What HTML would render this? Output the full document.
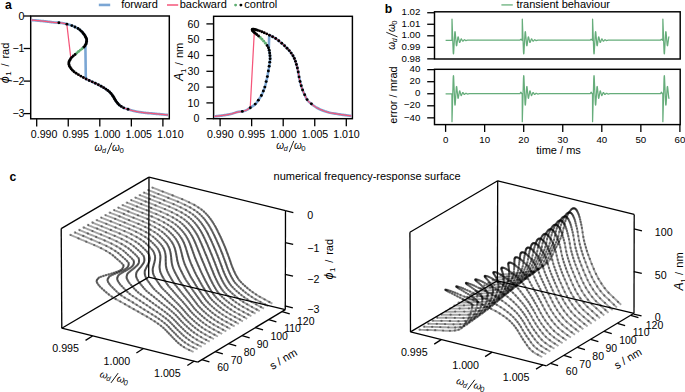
<!DOCTYPE html>
<html><head><meta charset="utf-8"><style>
html,body{margin:0;padding:0;background:#fff;width:685px;height:392px;overflow:hidden}
svg{display:block}
text{font-family:"Liberation Sans",sans-serif}
</style></head><body>
<svg xmlns="http://www.w3.org/2000/svg" width="685" height="392" viewBox="0 0 685 392">
<rect width="685" height="392" fill="#fff"/>
<text x="5.1" y="9.4" font-size="12.2" text-anchor="start" font-family="Liberation Sans, sans-serif" font-weight="bold">a</text>
<text x="384.8" y="13.4" font-size="12.2" text-anchor="start" font-family="Liberation Sans, sans-serif" font-weight="bold">b</text>
<text x="9.4" y="180.7" font-size="12.2" text-anchor="start" font-family="Liberation Sans, sans-serif" font-weight="bold">c</text>
<rect x="30.7" y="16" width="138.6" height="102.8" fill="none" stroke="#000" stroke-width="1.45"/>
<rect x="213.6" y="16.3" width="138.8" height="102.4" fill="none" stroke="#000" stroke-width="1.45"/>
<clipPath id="cpL"><rect x="30.7" y="16.0" width="138.60000000000002" height="102.8"/></clipPath>
<clipPath id="cpR"><rect x="213.6" y="16.3" width="138.79999999999998" height="102.4"/></clipPath>
<g clip-path="url(#cpL)">
<path d="M30.9,20 L32.16,20.11 L33.4,20.21 L34.61,20.32 L35.8,20.42 L36.97,20.53 L38.1,20.63 L39.21,20.74 L40.29,20.85 L41.35,20.95 L42.39,21.06 L43.41,21.16 L44.41,21.27 L45.4,21.37 L46.39,21.48 L47.36,21.59 L48.28,21.69 L49.08,21.8 L49.81,21.9 L50.52,22.01 L51.25,22.11 L52.05,22.22 L52.98,22.32 L54.07,22.43 L55.38,22.54 L57.38,22.64 L59.43,22.75 L60.48,22.85 L61.38,22.96 L62.15,23.06 L62.82,23.17 L63.39,23.28 L63.89,23.38 L64.33,23.49 L64.74,23.59 L65.12,23.7 L65.51,23.8 L65.92,23.91 L66.37,24.02 L66.82,24.12 L67.26,24.23 L67.69,24.33 L68.11,24.44 L68.51,24.54 L68.9,24.65 L69.28,24.76 L69.65,24.86 L70,24.97 L70.34,25.07 L70.67,25.18 L70.99,25.28 L71.29,25.39 L71.59,25.49 L71.87,25.6 L72.13,25.71 L72.39,25.81 L72.64,25.92 L72.88,26.02 L73.11,26.13 L73.33,26.23 L73.55,26.34 L73.77,26.45 L73.98,26.55 L74.19,26.66 L74.41,26.76 L74.62,26.87 L74.84,26.97 L75.06,27.08 L75.28,27.19 L75.52,27.29 L75.75,27.4 L75.99,27.5 L76.23,27.61 L76.46,27.71 L76.7,27.82 L76.93,27.93 L77.16,28.03 L77.37,28.14 L77.58,28.24 L77.78,28.35 L77.97,28.45 L78.14,28.56 L78.3,28.67 L78.45,28.77 L78.6,28.88 L78.75,28.98 L78.9,29.09 L79.04,29.19 L79.18,29.3 L79.32,29.4 L79.45,29.51 L79.58,29.62 L79.71,29.72 L79.84,29.83 L79.96,29.93 L80.08,30.04 L80.2,30.14 L80.32,30.25 L80.43,30.36 L80.54,30.46 L80.66,30.57 L80.77,30.67 L80.87,30.78 L80.98,30.88 L81.09,30.99 L81.19,31.1 L81.29,31.2 L81.39,31.31 L81.49,31.41 L81.59,31.52 L81.69,31.62 L81.79,31.73 L81.89,31.84 L81.99,31.94 L82.08,32.05 L82.18,32.15 L82.28,32.26 L82.38,32.36 L82.47,32.47 L82.57,32.58 L82.66,32.68 L82.76,32.79 L82.85,32.89 L82.95,33 L83.04,33.1 L83.13,33.21 L83.22,33.31 L83.31,33.42 L83.39,33.53 L83.48,33.63 L83.56,33.74 L83.65,33.84 L83.73,33.95 L83.81,34.05 L83.9,34.16 L83.98,34.27 L84.05,34.37 L84.13,34.48 L84.21,34.58 L84.28,34.69 L84.36,34.79 L84.43,34.9 L84.5,35.01 L84.58,35.11 L84.65,35.22 L84.72,35.32 L84.79,35.43 L84.86,35.53 L84.93,35.64 L85,35.75 L85.07,35.85 L85.13,35.96 L85.2,36.06 L85.26,36.17 L85.33,36.27 L85.39,36.38 L85.45,36.48 L85.51,36.59 L85.56,36.7 L85.62,36.8 L85.67,36.91 L85.72,37.01 L85.77,37.12 L85.81,37.22 L85.85,37.33 L85.9,37.44 L85.94,37.54 L85.99,37.65 L86.04,37.75 L86.08,37.86 L86.13,37.96 L86.17,38.07 L86.21,38.18 L86.26,38.28 L86.3,38.39 L86.34,38.49 L86.38,38.6 L86.42,38.7 L86.46,38.81 L86.49,38.92 L86.52,39.02 L86.55,39.13 L86.58,39.23 L86.61,39.34 L86.63,39.44 L86.65,39.55 L86.67,39.66 L86.68,39.76 L86.69,39.87 L86.7,39.97 L86.7,40.08 L86.7,40.18 L86.7,40.29 L86.69,40.39 L86.69,40.5 L86.68,40.61 L86.67,40.71 L86.66,40.82 L86.65,40.92 L86.64,41.03 L86.63,41.13 L86.61,41.24 L86.6,41.35 L86.58,41.45 L86.56,41.56 L86.54,41.66 L86.52,41.77 L86.5,41.87 L86.48,41.98 L86.46,42.09 L86.44,42.19 L86.41,42.3 L86.39,42.4 L86.36,42.51 L86.34,42.61 L86.32,42.72 L86.29,42.83 L86.27,42.93 L86.24,43.04 L86.21,43.14 L86.19,43.25 L86.16,43.35 L86.13,43.46 L86.1,43.57 L86.06,43.67 L86.03,43.78 L85.99,43.88 L85.95,43.99 L85.91,44.09 L85.86,44.2 L85.82,44.3 L85.77,44.41 L85.72,44.52 L85.67,44.62 L85.62,44.73 L85.56,44.83 L85.51,44.94 L85.45,45.04 L85.39,45.15 L85.82,78.86 L86.03,78.97 L86.25,79.07 L86.47,79.18 L86.69,79.28 L86.92,79.39 L87.14,79.49 L87.37,79.6 L87.6,79.71 L87.82,79.81 L88.05,79.92 L88.28,80.02 L88.51,80.13 L88.74,80.23 L88.97,80.34 L89.2,80.44 L89.43,80.55 L89.66,80.66 L89.89,80.76 L90.12,80.87 L90.34,80.97 L90.57,81.08 L90.79,81.18 L91.02,81.29 L91.24,81.4 L91.47,81.5 L91.7,81.61 L91.92,81.71 L92.15,81.82 L92.37,81.92 L92.6,82.03 L92.83,82.14 L93.05,82.24 L93.28,82.35 L93.5,82.45 L93.73,82.56 L93.95,82.66 L94.18,82.77 L94.4,82.88 L94.62,82.98 L94.84,83.09 L95.07,83.19 L95.29,83.3 L95.51,83.4 L95.73,83.51 L95.95,83.62 L96.17,83.72 L96.4,83.83 L96.62,83.93 L96.84,84.04 L97.06,84.14 L97.29,84.25 L97.51,84.35 L97.73,84.46 L97.95,84.57 L98.17,84.67 L98.39,84.78 L98.61,84.88 L98.83,84.99 L99.04,85.09 L99.26,85.2 L99.47,85.31 L99.67,85.41 L99.88,85.52 L100.08,85.62 L100.28,85.73 L100.48,85.83 L100.67,85.94 L100.87,86.05 L101.06,86.15 L101.25,86.26 L101.44,86.36 L101.62,86.47 L101.81,86.57 L102,86.68 L102.18,86.79 L102.36,86.89 L102.55,87 L102.73,87.1 L102.91,87.21 L103.08,87.31 L103.26,87.42 L103.43,87.53 L103.61,87.63 L103.78,87.74 L103.95,87.84 L104.12,87.95 L104.29,88.05 L104.45,88.16 L104.61,88.26 L104.78,88.37 L104.94,88.48 L105.09,88.58 L105.25,88.69 L105.4,88.79 L105.56,88.9 L105.71,89 L105.86,89.11 L106,89.22 L106.15,89.32 L106.3,89.43 L106.45,89.53 L106.59,89.64 L106.74,89.74 L106.88,89.85 L107.03,89.96 L107.17,90.06 L107.32,90.17 L107.46,90.27 L107.6,90.38 L107.74,90.48 L107.88,90.59 L108.01,90.7 L108.15,90.8 L108.28,90.91 L108.42,91.01 L108.55,91.12 L108.68,91.22 L108.81,91.33 L108.94,91.43 L109.06,91.54 L109.18,91.65 L109.31,91.75 L109.43,91.86 L109.55,91.96 L109.66,92.07 L109.78,92.17 L109.89,92.28 L110,92.39 L110.11,92.49 L110.22,92.6 L110.32,92.7 L110.42,92.81 L110.52,92.91 L110.62,93.02 L110.71,93.13 L110.81,93.23 L110.9,93.34 L110.99,93.44 L111.08,93.55 L111.16,93.65 L111.25,93.76 L111.33,93.87 L111.42,93.97 L111.5,94.08 L111.58,94.18 L111.66,94.29 L111.74,94.39 L111.82,94.5 L111.89,94.61 L111.97,94.71 L112.04,94.82 L112.12,94.92 L112.19,95.03 L112.26,95.13 L112.33,95.24 L112.41,95.34 L112.48,95.45 L112.55,95.56 L112.62,95.66 L112.69,95.77 L112.76,95.87 L112.83,95.98 L112.9,96.08 L112.97,96.19 L113.03,96.3 L113.1,96.4 L113.17,96.51 L113.24,96.61 L113.31,96.72 L113.38,96.82 L113.45,96.93 L113.52,97.04 L113.59,97.14 L113.66,97.25 L113.73,97.35 L113.8,97.46 L113.86,97.56 L113.93,97.67 L114,97.78 L114.06,97.88 L114.12,97.99 L114.19,98.09 L114.25,98.2 L114.31,98.3 L114.37,98.41 L114.44,98.52 L114.5,98.62 L114.56,98.73 L114.62,98.83 L114.68,98.94 L114.74,99.04 L114.8,99.15 L114.86,99.25 L114.92,99.36 L114.98,99.47 L115.04,99.57 L115.1,99.68 L115.17,99.78 L115.23,99.89 L115.29,99.99 L115.35,100.1 L115.41,100.21 L115.48,100.31 L115.54,100.42 L115.61,100.52 L115.67,100.63 L115.74,100.73 L115.8,100.84 L115.87,100.95 L115.94,101.05 L116.01,101.16 L116.08,101.26 L116.15,101.37 L116.22,101.47 L116.3,101.58 L116.37,101.69 L116.45,101.79 L116.52,101.9 L116.6,102 L116.68,102.11 L116.76,102.21 L116.84,102.32 L116.92,102.42 L117,102.53 L117.08,102.64 L117.17,102.74 L117.25,102.85 L117.34,102.95 L117.42,103.06 L117.51,103.16 L117.6,103.27 L117.69,103.38 L117.78,103.48 L117.87,103.59 L117.96,103.69 L118.06,103.8 L118.15,103.9 L118.25,104.01 L118.35,104.12 L118.45,104.22 L118.55,104.33 L118.66,104.43 L118.76,104.54 L118.87,104.64 L118.98,104.75 L119.1,104.86 L119.21,104.96 L119.33,105.07 L119.45,105.17 L119.57,105.28 L119.7,105.38 L119.84,105.49 L119.98,105.6 L120.13,105.7 L120.29,105.81 L120.45,105.91 L120.62,106.02 L120.79,106.12 L120.96,106.23 L121.13,106.33 L121.3,106.44 L121.47,106.55 L121.64,106.65 L121.81,106.76 L121.97,106.86 L122.13,106.97 L122.3,107.07 L122.47,107.18 L122.64,107.29 L122.82,107.39 L123,107.5 L123.19,107.6 L123.39,107.71 L123.6,107.81 L123.82,107.92 L124.06,108.03 L124.31,108.13 L124.59,108.24 L124.88,108.34 L125.19,108.45 L125.51,108.55 L125.85,108.66 L126.19,108.77 L126.55,108.87 L126.9,108.98 L127.26,109.08 L127.62,109.19 L127.98,109.29 L128.33,109.4 L128.68,109.51 L129.03,109.61 L129.38,109.72 L129.73,109.82 L130.09,109.93 L130.44,110.03 L130.8,110.14 L131.17,110.24 L131.54,110.35 L131.92,110.46 L132.3,110.56 L132.7,110.67 L133.11,110.77 L133.53,110.88 L133.96,110.98 L134.41,111.09 L134.87,111.2 L135.35,111.3 L135.85,111.41 L136.36,111.51 L136.9,111.62 L137.47,111.72 L138.07,111.83 L138.7,111.94 L139.36,112.04 L140.05,112.15 L140.77,112.25 L141.52,112.36 L142.31,112.46 L143.12,112.57 L143.96,112.68 L144.84,112.78 L145.78,112.89 L146.85,112.99 L148.01,113.1 L149.22,113.2 L150.47,113.31 L151.72,113.41 L152.93,113.52 L154.08,113.63 L155.2,113.73 L156.32,113.84 L157.43,113.94 L158.54,114.05 L159.64,114.15 L160.74,114.26 L161.82,114.37 L162.91,114.47 L163.98,114.58 L165.05,114.68 L166.11,114.79 L167.16,114.89 L168.2,115" fill="none" stroke="#7ba6d4" stroke-width="2.6" stroke-linejoin="round" stroke-linecap="butt" />
<path d="M30.9,20 L32.16,20.11 L33.4,20.21 L34.61,20.32 L35.8,20.42 L36.97,20.53 L38.1,20.63 L39.21,20.74 L40.29,20.85 L41.35,20.95 L42.39,21.06 L43.41,21.16 L44.41,21.27 L45.4,21.37 L46.39,21.48 L47.36,21.59 L48.28,21.69 L49.08,21.8 L49.81,21.9 L50.52,22.01 L51.25,22.11 L52.05,22.22 L52.98,22.32 L54.07,22.43 L55.38,22.54 L57.38,22.64 L59.43,22.75 L60.48,22.85 L61.38,22.96 L62.15,23.06 L62.82,23.17 L63.39,23.28 L63.89,23.38 L64.33,23.49 L64.74,23.59 L65.12,23.7 L65.51,23.8 L65.92,23.91 L66.37,24.02 L66.82,24.12 L70.88,58.46 L70.8,58.57 L70.72,58.68 L70.64,58.78 L70.57,58.89 L70.5,58.99 L70.43,59.1 L70.36,59.2 L70.29,59.31 L70.22,59.42 L70.16,59.52 L70.1,59.63 L70.04,59.73 L69.98,59.84 L69.92,59.94 L69.86,60.05 L69.8,60.16 L69.74,60.26 L69.68,60.37 L69.62,60.47 L69.56,60.58 L69.51,60.68 L69.45,60.79 L69.4,60.9 L69.34,61 L69.29,61.11 L69.24,61.21 L69.19,61.32 L69.15,61.42 L69.11,61.53 L69.07,61.64 L69.03,61.74 L69,61.85 L68.97,61.95 L68.94,62.06 L68.92,62.16 L68.9,62.27 L68.89,62.37 L68.88,62.48 L68.86,62.59 L68.85,62.69 L68.84,62.8 L68.83,62.9 L68.82,63.01 L68.81,63.11 L68.81,63.22 L68.8,63.33 L68.8,63.43 L68.8,63.54 L68.8,63.64 L68.81,63.75 L68.82,63.85 L68.83,63.96 L68.84,64.07 L68.85,64.17 L68.87,64.28 L68.89,64.38 L68.91,64.49 L68.93,64.59 L68.96,64.7 L68.98,64.81 L69.01,64.91 L69.04,65.02 L69.07,65.12 L69.09,65.23 L69.12,65.33 L69.15,65.44 L69.18,65.55 L69.22,65.65 L69.25,65.76 L69.29,65.86 L69.33,65.97 L69.38,66.07 L69.44,66.18 L69.49,66.28 L69.55,66.39 L69.61,66.5 L69.68,66.6 L69.74,66.71 L69.81,66.81 L69.88,66.92 L69.96,67.02 L70.03,67.13 L70.1,67.24 L70.18,67.34 L70.25,67.45 L70.33,67.55 L70.4,67.66 L70.48,67.76 L70.55,67.87 L70.62,67.98 L70.7,68.08 L70.77,68.19 L70.85,68.29 L70.92,68.4 L71,68.5 L71.08,68.61 L71.16,68.72 L71.24,68.82 L71.32,68.93 L71.41,69.03 L71.49,69.14 L71.57,69.24 L71.66,69.35 L71.75,69.45 L71.84,69.56 L71.93,69.67 L72.02,69.77 L72.11,69.88 L72.2,69.98 L72.3,70.09 L72.4,70.19 L72.49,70.3 L72.59,70.41 L72.69,70.51 L72.8,70.62 L72.9,70.72 L73.01,70.83 L73.11,70.93 L73.22,71.04 L73.33,71.15 L73.45,71.25 L73.56,71.36 L73.68,71.46 L73.8,71.57 L73.93,71.67 L74.06,71.78 L74.2,71.89 L74.34,71.99 L74.48,72.1 L74.62,72.2 L74.77,72.31 L74.92,72.41 L75.07,72.52 L75.23,72.63 L75.39,72.73 L75.55,72.84 L75.71,72.94 L75.87,73.05 L76.03,73.15 L76.2,73.26 L76.36,73.36 L76.53,73.47 L76.7,73.58 L76.87,73.68 L77.03,73.79 L77.2,73.89 L77.37,74 L77.54,74.1 L77.7,74.21 L77.87,74.32 L78.03,74.42 L78.2,74.53 L78.37,74.63 L78.53,74.74 L78.7,74.84 L78.87,74.95 L79.04,75.06 L79.22,75.16 L79.39,75.27 L79.56,75.37 L79.74,75.48 L79.92,75.58 L80.09,75.69 L80.27,75.8 L80.45,75.9 L80.63,76.01 L80.81,76.11 L80.99,76.22 L81.17,76.32 L81.35,76.43 L81.54,76.54 L81.72,76.64 L81.91,76.75 L82.09,76.85 L82.28,76.96 L82.46,77.06 L82.65,77.17 L82.84,77.27 L83.03,77.38 L83.22,77.49 L83.41,77.59 L83.6,77.7 L83.79,77.8 L83.99,77.91 L84.18,78.01 L84.38,78.12 L84.58,78.23 L84.78,78.33 L84.98,78.44 L85.19,78.54 L85.4,78.65 L85.61,78.75 L85.82,78.86 L86.03,78.97 L86.25,79.07 L86.47,79.18 L86.69,79.28 L86.92,79.39 L87.14,79.49 L87.37,79.6 L87.6,79.71 L87.82,79.81 L88.05,79.92 L88.28,80.02 L88.51,80.13 L88.74,80.23 L88.97,80.34 L89.2,80.44 L89.43,80.55 L89.66,80.66 L89.89,80.76 L90.12,80.87 L90.34,80.97 L90.57,81.08 L90.79,81.18 L91.02,81.29 L91.24,81.4 L91.47,81.5 L91.7,81.61 L91.92,81.71 L92.15,81.82 L92.37,81.92 L92.6,82.03 L92.83,82.14 L93.05,82.24 L93.28,82.35 L93.5,82.45 L93.73,82.56 L93.95,82.66 L94.18,82.77 L94.4,82.88 L94.62,82.98 L94.84,83.09 L95.07,83.19 L95.29,83.3 L95.51,83.4 L95.73,83.51 L95.95,83.62 L96.17,83.72 L96.4,83.83 L96.62,83.93 L96.84,84.04 L97.06,84.14 L97.29,84.25 L97.51,84.35 L97.73,84.46 L97.95,84.57 L98.17,84.67 L98.39,84.78 L98.61,84.88 L98.83,84.99 L99.04,85.09 L99.26,85.2 L99.47,85.31 L99.67,85.41 L99.88,85.52 L100.08,85.62 L100.28,85.73 L100.48,85.83 L100.67,85.94 L100.87,86.05 L101.06,86.15 L101.25,86.26 L101.44,86.36 L101.62,86.47 L101.81,86.57 L102,86.68 L102.18,86.79 L102.36,86.89 L102.55,87 L102.73,87.1 L102.91,87.21 L103.08,87.31 L103.26,87.42 L103.43,87.53 L103.61,87.63 L103.78,87.74 L103.95,87.84 L104.12,87.95 L104.29,88.05 L104.45,88.16 L104.61,88.26 L104.78,88.37 L104.94,88.48 L105.09,88.58 L105.25,88.69 L105.4,88.79 L105.56,88.9 L105.71,89 L105.86,89.11 L106,89.22 L106.15,89.32 L106.3,89.43 L106.45,89.53 L106.59,89.64 L106.74,89.74 L106.88,89.85 L107.03,89.96 L107.17,90.06 L107.32,90.17 L107.46,90.27 L107.6,90.38 L107.74,90.48 L107.88,90.59 L108.01,90.7 L108.15,90.8 L108.28,90.91 L108.42,91.01 L108.55,91.12 L108.68,91.22 L108.81,91.33 L108.94,91.43 L109.06,91.54 L109.18,91.65 L109.31,91.75 L109.43,91.86 L109.55,91.96 L109.66,92.07 L109.78,92.17 L109.89,92.28 L110,92.39 L110.11,92.49 L110.22,92.6 L110.32,92.7 L110.42,92.81 L110.52,92.91 L110.62,93.02 L110.71,93.13 L110.81,93.23 L110.9,93.34 L110.99,93.44 L111.08,93.55 L111.16,93.65 L111.25,93.76 L111.33,93.87 L111.42,93.97 L111.5,94.08 L111.58,94.18 L111.66,94.29 L111.74,94.39 L111.82,94.5 L111.89,94.61 L111.97,94.71 L112.04,94.82 L112.12,94.92 L112.19,95.03 L112.26,95.13 L112.33,95.24 L112.41,95.34 L112.48,95.45 L112.55,95.56 L112.62,95.66 L112.69,95.77 L112.76,95.87 L112.83,95.98 L112.9,96.08 L112.97,96.19 L113.03,96.3 L113.1,96.4 L113.17,96.51 L113.24,96.61 L113.31,96.72 L113.38,96.82 L113.45,96.93 L113.52,97.04 L113.59,97.14 L113.66,97.25 L113.73,97.35 L113.8,97.46 L113.86,97.56 L113.93,97.67 L114,97.78 L114.06,97.88 L114.12,97.99 L114.19,98.09 L114.25,98.2 L114.31,98.3 L114.37,98.41 L114.44,98.52 L114.5,98.62 L114.56,98.73 L114.62,98.83 L114.68,98.94 L114.74,99.04 L114.8,99.15 L114.86,99.25 L114.92,99.36 L114.98,99.47 L115.04,99.57 L115.1,99.68 L115.17,99.78 L115.23,99.89 L115.29,99.99 L115.35,100.1 L115.41,100.21 L115.48,100.31 L115.54,100.42 L115.61,100.52 L115.67,100.63 L115.74,100.73 L115.8,100.84 L115.87,100.95 L115.94,101.05 L116.01,101.16 L116.08,101.26 L116.15,101.37 L116.22,101.47 L116.3,101.58 L116.37,101.69 L116.45,101.79 L116.52,101.9 L116.6,102 L116.68,102.11 L116.76,102.21 L116.84,102.32 L116.92,102.42 L117,102.53 L117.08,102.64 L117.17,102.74 L117.25,102.85 L117.34,102.95 L117.42,103.06 L117.51,103.16 L117.6,103.27 L117.69,103.38 L117.78,103.48 L117.87,103.59 L117.96,103.69 L118.06,103.8 L118.15,103.9 L118.25,104.01 L118.35,104.12 L118.45,104.22 L118.55,104.33 L118.66,104.43 L118.76,104.54 L118.87,104.64 L118.98,104.75 L119.1,104.86 L119.21,104.96 L119.33,105.07 L119.45,105.17 L119.57,105.28 L119.7,105.38 L119.84,105.49 L119.98,105.6 L120.13,105.7 L120.29,105.81 L120.45,105.91 L120.62,106.02 L120.79,106.12 L120.96,106.23 L121.13,106.33 L121.3,106.44 L121.47,106.55 L121.64,106.65 L121.81,106.76 L121.97,106.86 L122.13,106.97 L122.3,107.07 L122.47,107.18 L122.64,107.29 L122.82,107.39 L123,107.5 L123.19,107.6 L123.39,107.71 L123.6,107.81 L123.82,107.92 L124.06,108.03 L124.31,108.13 L124.59,108.24 L124.88,108.34 L125.19,108.45 L125.51,108.55 L125.85,108.66 L126.19,108.77 L126.55,108.87 L126.9,108.98 L127.26,109.08 L127.62,109.19 L127.98,109.29 L128.33,109.4 L128.68,109.51 L129.03,109.61 L129.38,109.72 L129.73,109.82 L130.09,109.93 L130.44,110.03 L130.8,110.14 L131.17,110.24 L131.54,110.35 L131.92,110.46 L132.3,110.56 L132.7,110.67 L133.11,110.77 L133.53,110.88 L133.96,110.98 L134.41,111.09 L134.87,111.2 L135.35,111.3 L135.85,111.41 L136.36,111.51 L136.9,111.62 L137.47,111.72 L138.07,111.83 L138.7,111.94 L139.36,112.04 L140.05,112.15 L140.77,112.25 L141.52,112.36 L142.31,112.46 L143.12,112.57 L143.96,112.68 L144.84,112.78 L145.78,112.89 L146.85,112.99 L148.01,113.1 L149.22,113.2 L150.47,113.31 L151.72,113.41 L152.93,113.52 L154.08,113.63 L155.2,113.73 L156.32,113.84 L157.43,113.94 L158.54,114.05 L159.64,114.15 L160.74,114.26 L161.82,114.37 L162.91,114.47 L163.98,114.58 L165.05,114.68 L166.11,114.79 L167.16,114.89 L168.2,115" fill="none" stroke="#f5567a" stroke-width="1.25" stroke-linejoin="round" stroke-linecap="butt" />
</g>
<g clip-path="url(#cpR)">
<path d="M214.3,116.4 L215.56,116.28 L216.8,116.15 L218.01,116.02 L219.2,115.88 L220.37,115.74 L221.5,115.59 L222.61,115.44 L223.69,115.28 L224.75,115.12 L225.79,114.95 L226.81,114.78 L227.81,114.6 L228.8,114.41 L229.79,114.22 L230.76,114.02 L231.68,113.81 L232.48,113.6 L233.21,113.37 L233.92,113.13 L234.65,112.88 L235.45,112.63 L236.38,112.36 L237.47,112.1 L238.78,111.82 L240.78,111.55 L242.83,111.27 L243.88,110.99 L244.78,110.71 L245.55,110.44 L246.22,110.17 L246.79,109.9 L247.29,109.64 L247.73,109.37 L248.14,109.11 L248.52,108.84 L248.91,108.57 L249.32,108.31 L249.77,108.04 L250.22,107.77 L250.66,107.5 L251.09,107.23 L251.51,106.97 L251.91,106.7 L252.3,106.43 L252.68,106.16 L253.05,105.9 L253.4,105.63 L253.74,105.37 L254.07,105.11 L254.39,104.86 L254.69,104.6 L254.99,104.34 L255.27,104.08 L255.53,103.82 L255.79,103.56 L256.04,103.3 L256.28,103.03 L256.51,102.76 L256.73,102.48 L256.95,102.19 L257.17,101.9 L257.38,101.6 L257.59,101.29 L257.81,100.97 L258.02,100.65 L258.24,100.32 L258.46,99.98 L258.68,99.64 L258.92,99.3 L259.15,98.95 L259.39,98.6 L259.63,98.26 L259.86,97.91 L260.1,97.56 L260.33,97.22 L260.56,96.89 L260.77,96.55 L260.98,96.21 L261.18,95.88 L261.37,95.53 L261.54,95.19 L261.7,94.85 L261.85,94.51 L262,94.17 L262.15,93.83 L262.3,93.5 L262.44,93.17 L262.58,92.84 L262.72,92.52 L262.85,92.2 L262.98,91.89 L263.11,91.58 L263.24,91.29 L263.36,91 L263.48,90.71 L263.6,90.43 L263.72,90.16 L263.83,89.88 L263.94,89.61 L264.06,89.33 L264.17,89.06 L264.27,88.78 L264.38,88.49 L264.49,88.2 L264.59,87.89 L264.69,87.58 L264.79,87.26 L264.89,86.91 L264.99,86.55 L265.09,86.18 L265.19,85.79 L265.29,85.39 L265.39,84.98 L265.48,84.57 L265.58,84.15 L265.68,83.72 L265.78,83.3 L265.87,82.88 L265.97,82.47 L266.06,82.06 L266.16,81.66 L266.25,81.27 L266.35,80.9 L266.44,80.53 L266.53,80.16 L266.62,79.79 L266.71,79.43 L266.79,79.07 L266.88,78.72 L266.96,78.36 L267.05,78 L267.13,77.64 L267.21,77.28 L267.3,76.91 L267.38,76.54 L267.45,76.17 L267.53,75.79 L267.61,75.4 L267.68,75 L267.76,74.59 L267.83,74.18 L267.9,73.76 L267.98,73.34 L268.05,72.92 L268.12,72.49 L268.19,72.07 L268.26,71.65 L268.33,71.24 L268.4,70.84 L268.47,70.44 L268.53,70.06 L268.6,69.69 L268.66,69.34 L268.73,69 L268.79,68.65 L268.85,68.31 L268.91,67.97 L268.96,67.63 L269.02,67.29 L269.07,66.96 L269.12,66.63 L269.17,66.29 L269.21,65.97 L269.25,65.64 L269.3,65.32 L269.34,65 L269.39,64.69 L269.44,64.38 L269.48,64.08 L269.53,63.78 L269.57,63.48 L269.61,63.19 L269.66,62.9 L269.7,62.63 L269.74,62.35 L269.78,62.09 L269.82,61.83 L269.86,61.57 L269.89,61.32 L269.92,61.07 L269.95,60.82 L269.98,60.57 L270.01,60.33 L270.03,60.08 L270.05,59.84 L270.07,59.59 L270.08,59.35 L270.09,59.11 L270.1,58.87 L270.1,58.63 L270.1,58.39 L270.1,58.16 L270.09,57.92 L270.09,57.69 L270.08,57.46 L270.07,57.23 L270.06,57 L270.05,56.78 L270.04,56.55 L270.03,56.33 L270.01,56.11 L270,55.89 L269.98,55.68 L269.96,55.47 L269.94,55.25 L269.92,55.04 L269.9,54.84 L269.88,54.63 L269.86,54.43 L269.84,54.23 L269.81,54.03 L269.79,53.83 L269.76,53.63 L269.74,53.43 L269.72,53.23 L269.69,53.03 L269.67,52.84 L269.64,52.64 L269.61,52.44 L269.59,52.25 L269.56,52.06 L269.53,51.86 L269.5,51.67 L269.46,51.48 L269.43,51.29 L269.39,51.1 L269.35,50.91 L269.31,50.72 L269.26,50.53 L269.22,50.34 L269.17,50.15 L269.12,49.97 L269.07,49.78 L269.02,49.6 L268.96,49.41 L268.91,49.23 L268.85,49.05 L268.79,48.87 L269.22,35.05 L269.43,35.16 L269.65,35.26 L269.87,35.37 L270.09,35.47 L270.32,35.58 L270.54,35.69 L270.77,35.8 L271,35.9 L271.22,36.01 L271.45,36.13 L271.68,36.24 L271.91,36.35 L272.14,36.46 L272.37,36.58 L272.6,36.69 L272.83,36.81 L273.06,36.93 L273.29,37.05 L273.52,37.16 L273.74,37.28 L273.97,37.41 L274.19,37.53 L274.42,37.66 L274.64,37.79 L274.87,37.93 L275.1,38.08 L275.32,38.23 L275.55,38.38 L275.77,38.54 L276,38.7 L276.23,38.86 L276.45,39.02 L276.68,39.19 L276.9,39.36 L277.13,39.54 L277.35,39.71 L277.58,39.89 L277.8,40.07 L278.02,40.25 L278.24,40.43 L278.47,40.61 L278.69,40.79 L278.91,40.97 L279.13,41.15 L279.35,41.33 L279.57,41.51 L279.8,41.69 L280.02,41.87 L280.24,42.05 L280.46,42.23 L280.69,42.4 L280.91,42.58 L281.13,42.75 L281.35,42.93 L281.57,43.1 L281.79,43.28 L282.01,43.46 L282.23,43.64 L282.44,43.83 L282.66,44.01 L282.87,44.19 L283.07,44.37 L283.28,44.56 L283.48,44.74 L283.68,44.93 L283.88,45.11 L284.07,45.3 L284.27,45.48 L284.46,45.66 L284.65,45.85 L284.84,46.03 L285.02,46.21 L285.21,46.4 L285.4,46.58 L285.58,46.76 L285.76,46.94 L285.95,47.12 L286.13,47.3 L286.31,47.47 L286.48,47.65 L286.66,47.82 L286.83,47.99 L287.01,48.17 L287.18,48.34 L287.35,48.51 L287.52,48.68 L287.69,48.86 L287.85,49.03 L288.01,49.2 L288.18,49.38 L288.34,49.55 L288.49,49.73 L288.65,49.91 L288.8,50.08 L288.96,50.26 L289.11,50.44 L289.26,50.62 L289.4,50.8 L289.55,50.98 L289.7,51.16 L289.85,51.34 L289.99,51.53 L290.14,51.71 L290.28,51.89 L290.43,52.08 L290.57,52.26 L290.72,52.45 L290.86,52.63 L291,52.82 L291.14,53.01 L291.28,53.2 L291.41,53.38 L291.55,53.57 L291.68,53.76 L291.82,53.95 L291.95,54.15 L292.08,54.34 L292.21,54.53 L292.34,54.72 L292.46,54.92 L292.58,55.11 L292.71,55.31 L292.83,55.5 L292.95,55.7 L293.06,55.9 L293.18,56.09 L293.29,56.29 L293.4,56.49 L293.51,56.69 L293.62,56.89 L293.72,57.09 L293.82,57.3 L293.92,57.5 L294.02,57.7 L294.11,57.91 L294.21,58.11 L294.3,58.32 L294.39,58.52 L294.48,58.73 L294.56,58.94 L294.65,59.15 L294.73,59.36 L294.82,59.56 L294.9,59.78 L294.98,59.99 L295.06,60.2 L295.14,60.41 L295.22,60.62 L295.29,60.84 L295.37,61.05 L295.44,61.27 L295.52,61.48 L295.59,61.7 L295.66,61.92 L295.73,62.14 L295.81,62.35 L295.88,62.57 L295.95,62.79 L296.02,63.02 L296.09,63.24 L296.16,63.46 L296.23,63.69 L296.3,63.93 L296.37,64.16 L296.43,64.4 L296.5,64.65 L296.57,64.9 L296.64,65.15 L296.71,65.4 L296.78,65.66 L296.85,65.91 L296.92,66.18 L296.99,66.44 L297.06,66.71 L297.13,66.98 L297.2,67.25 L297.26,67.52 L297.33,67.8 L297.4,68.07 L297.46,68.35 L297.52,68.63 L297.59,68.92 L297.65,69.2 L297.71,69.49 L297.77,69.77 L297.84,70.06 L297.9,70.35 L297.96,70.64 L298.02,70.93 L298.08,71.22 L298.14,71.53 L298.2,71.85 L298.26,72.19 L298.32,72.54 L298.38,72.89 L298.44,73.25 L298.5,73.62 L298.57,73.99 L298.63,74.36 L298.69,74.74 L298.75,75.11 L298.81,75.48 L298.88,75.84 L298.94,76.2 L299.01,76.55 L299.07,76.9 L299.14,77.24 L299.2,77.59 L299.27,77.94 L299.34,78.28 L299.41,78.63 L299.48,78.97 L299.55,79.31 L299.62,79.65 L299.7,79.99 L299.77,80.33 L299.85,80.66 L299.92,80.99 L300,81.32 L300.08,81.64 L300.16,81.97 L300.24,82.29 L300.32,82.6 L300.4,82.92 L300.48,83.23 L300.57,83.54 L300.65,83.85 L300.74,84.16 L300.82,84.47 L300.91,84.77 L301,85.08 L301.09,85.39 L301.18,85.7 L301.27,86 L301.36,86.31 L301.46,86.62 L301.55,86.93 L301.65,87.23 L301.75,87.53 L301.85,87.83 L301.95,88.13 L302.06,88.44 L302.16,88.74 L302.27,89.04 L302.38,89.34 L302.5,89.65 L302.61,89.96 L302.73,90.27 L302.85,90.59 L302.97,90.91 L303.1,91.24 L303.24,91.57 L303.38,91.91 L303.53,92.26 L303.69,92.62 L303.85,92.97 L304.02,93.34 L304.19,93.7 L304.36,94.07 L304.53,94.44 L304.7,94.8 L304.87,95.17 L305.04,95.53 L305.21,95.89 L305.37,96.25 L305.53,96.6 L305.7,96.96 L305.87,97.31 L306.04,97.67 L306.22,98.03 L306.4,98.39 L306.59,98.75 L306.79,99.1 L307,99.45 L307.22,99.8 L307.46,100.15 L307.71,100.49 L307.99,100.82 L308.28,101.15 L308.59,101.47 L308.91,101.78 L309.25,102.09 L309.59,102.39 L309.95,102.69 L310.3,102.98 L310.66,103.27 L311.02,103.55 L311.38,103.83 L311.73,104.11 L312.08,104.39 L312.43,104.66 L312.78,104.93 L313.13,105.2 L313.49,105.46 L313.84,105.73 L314.2,105.99 L314.57,106.26 L314.94,106.52 L315.32,106.77 L315.7,107.02 L316.1,107.27 L316.51,107.51 L316.93,107.76 L317.36,108 L317.81,108.24 L318.27,108.48 L318.75,108.72 L319.25,108.96 L319.76,109.21 L320.3,109.45 L320.87,109.7 L321.47,109.94 L322.1,110.2 L322.76,110.46 L323.45,110.73 L324.17,111 L324.92,111.27 L325.71,111.53 L326.52,111.8 L327.36,112.06 L328.24,112.31 L329.18,112.56 L330.25,112.8 L331.41,113.03 L332.62,113.24 L333.87,113.45 L335.12,113.65 L336.33,113.83 L337.48,114.02 L338.6,114.19 L339.72,114.36 L340.83,114.53 L341.94,114.69 L343.04,114.84 L344.14,114.99 L345.22,115.14 L346.31,115.29 L347.38,115.43 L348.45,115.57 L349.51,115.71 L350.56,115.84 L351.6,115.98" fill="none" stroke="#7ba6d4" stroke-width="2.6" stroke-linejoin="round" stroke-linecap="butt" />
<path d="M214.3,116.4 L215.56,116.28 L216.8,116.15 L218.01,116.02 L219.2,115.88 L220.37,115.74 L221.5,115.59 L222.61,115.44 L223.69,115.28 L224.75,115.12 L225.79,114.95 L226.81,114.78 L227.81,114.6 L228.8,114.41 L229.79,114.22 L230.76,114.02 L231.68,113.81 L232.48,113.6 L233.21,113.37 L233.92,113.13 L234.65,112.88 L235.45,112.63 L236.38,112.36 L237.47,112.1 L238.78,111.82 L240.78,111.55 L242.83,111.27 L243.88,110.99 L244.78,110.71 L245.55,110.44 L246.22,110.17 L246.79,109.9 L247.29,109.64 L247.73,109.37 L248.14,109.11 L248.52,108.84 L248.91,108.57 L249.32,108.31 L249.77,108.04 L250.22,107.77 L254.28,32.4 L254.2,32.33 L254.12,32.25 L254.04,32.18 L253.97,32.11 L253.9,32.03 L253.83,31.96 L253.76,31.89 L253.69,31.82 L253.62,31.75 L253.56,31.69 L253.5,31.62 L253.44,31.55 L253.38,31.49 L253.32,31.43 L253.26,31.36 L253.2,31.3 L253.14,31.24 L253.08,31.18 L253.02,31.12 L252.96,31.06 L252.91,31 L252.85,30.95 L252.8,30.89 L252.74,30.84 L252.69,30.78 L252.64,30.73 L252.59,30.68 L252.55,30.63 L252.51,30.58 L252.47,30.53 L252.43,30.48 L252.4,30.43 L252.37,30.39 L252.34,30.34 L252.32,30.3 L252.3,30.26 L252.29,30.21 L252.28,30.17 L252.26,30.13 L252.25,30.09 L252.24,30.05 L252.23,30.01 L252.22,29.98 L252.21,29.94 L252.21,29.91 L252.2,29.87 L252.2,29.84 L252.2,29.81 L252.2,29.78 L252.21,29.75 L252.22,29.72 L252.23,29.69 L252.24,29.66 L252.25,29.63 L252.27,29.61 L252.29,29.58 L252.31,29.56 L252.33,29.54 L252.36,29.51 L252.38,29.49 L252.41,29.47 L252.44,29.45 L252.47,29.44 L252.49,29.42 L252.52,29.4 L252.55,29.39 L252.58,29.37 L252.62,29.36 L252.65,29.35 L252.69,29.34 L252.73,29.33 L252.78,29.32 L252.84,29.31 L252.89,29.3 L252.95,29.29 L253.01,29.29 L253.08,29.28 L253.14,29.28 L253.21,29.28 L253.28,29.27 L253.36,29.27 L253.43,29.27 L253.5,29.27 L253.58,29.27 L253.65,29.28 L253.73,29.28 L253.8,29.29 L253.88,29.29 L253.95,29.3 L254.02,29.3 L254.1,29.31 L254.17,29.32 L254.25,29.33 L254.32,29.34 L254.4,29.36 L254.48,29.37 L254.56,29.38 L254.64,29.4 L254.72,29.41 L254.81,29.43 L254.89,29.45 L254.97,29.47 L255.06,29.49 L255.15,29.51 L255.24,29.53 L255.33,29.55 L255.42,29.57 L255.51,29.6 L255.6,29.62 L255.7,29.65 L255.8,29.68 L255.89,29.7 L255.99,29.73 L256.09,29.76 L256.2,29.79 L256.3,29.83 L256.41,29.86 L256.51,29.89 L256.62,29.93 L256.73,29.96 L256.85,30 L256.96,30.04 L257.08,30.08 L257.2,30.12 L257.33,30.16 L257.46,30.2 L257.6,30.24 L257.74,30.28 L257.88,30.33 L258.02,30.37 L258.17,30.42 L258.32,30.46 L258.47,30.51 L258.63,30.56 L258.79,30.61 L258.95,30.66 L259.11,30.71 L259.27,30.76 L259.43,30.82 L259.6,30.87 L259.76,30.93 L259.93,30.98 L260.1,31.04 L260.27,31.1 L260.43,31.16 L260.6,31.22 L260.77,31.28 L260.94,31.34 L261.1,31.4 L261.27,31.46 L261.43,31.53 L261.6,31.59 L261.77,31.66 L261.93,31.73 L262.1,31.8 L262.27,31.86 L262.44,31.93 L262.62,32.01 L262.79,32.08 L262.96,32.15 L263.14,32.22 L263.32,32.3 L263.49,32.37 L263.67,32.45 L263.85,32.53 L264.03,32.6 L264.21,32.68 L264.39,32.76 L264.57,32.84 L264.75,32.93 L264.94,33.01 L265.12,33.09 L265.31,33.18 L265.49,33.26 L265.68,33.35 L265.86,33.44 L266.05,33.52 L266.24,33.61 L266.43,33.7 L266.62,33.79 L266.81,33.88 L267,33.98 L267.19,34.07 L267.39,34.17 L267.58,34.26 L267.78,34.36 L267.98,34.45 L268.18,34.55 L268.38,34.65 L268.59,34.75 L268.8,34.85 L269.01,34.95 L269.22,35.05 L269.43,35.16 L269.65,35.26 L269.87,35.37 L270.09,35.47 L270.32,35.58 L270.54,35.69 L270.77,35.8 L271,35.9 L271.22,36.01 L271.45,36.13 L271.68,36.24 L271.91,36.35 L272.14,36.46 L272.37,36.58 L272.6,36.69 L272.83,36.81 L273.06,36.93 L273.29,37.05 L273.52,37.16 L273.74,37.28 L273.97,37.41 L274.19,37.53 L274.42,37.66 L274.64,37.79 L274.87,37.93 L275.1,38.08 L275.32,38.23 L275.55,38.38 L275.77,38.54 L276,38.7 L276.23,38.86 L276.45,39.02 L276.68,39.19 L276.9,39.36 L277.13,39.54 L277.35,39.71 L277.58,39.89 L277.8,40.07 L278.02,40.25 L278.24,40.43 L278.47,40.61 L278.69,40.79 L278.91,40.97 L279.13,41.15 L279.35,41.33 L279.57,41.51 L279.8,41.69 L280.02,41.87 L280.24,42.05 L280.46,42.23 L280.69,42.4 L280.91,42.58 L281.13,42.75 L281.35,42.93 L281.57,43.1 L281.79,43.28 L282.01,43.46 L282.23,43.64 L282.44,43.83 L282.66,44.01 L282.87,44.19 L283.07,44.37 L283.28,44.56 L283.48,44.74 L283.68,44.93 L283.88,45.11 L284.07,45.3 L284.27,45.48 L284.46,45.66 L284.65,45.85 L284.84,46.03 L285.02,46.21 L285.21,46.4 L285.4,46.58 L285.58,46.76 L285.76,46.94 L285.95,47.12 L286.13,47.3 L286.31,47.47 L286.48,47.65 L286.66,47.82 L286.83,47.99 L287.01,48.17 L287.18,48.34 L287.35,48.51 L287.52,48.68 L287.69,48.86 L287.85,49.03 L288.01,49.2 L288.18,49.38 L288.34,49.55 L288.49,49.73 L288.65,49.91 L288.8,50.08 L288.96,50.26 L289.11,50.44 L289.26,50.62 L289.4,50.8 L289.55,50.98 L289.7,51.16 L289.85,51.34 L289.99,51.53 L290.14,51.71 L290.28,51.89 L290.43,52.08 L290.57,52.26 L290.72,52.45 L290.86,52.63 L291,52.82 L291.14,53.01 L291.28,53.2 L291.41,53.38 L291.55,53.57 L291.68,53.76 L291.82,53.95 L291.95,54.15 L292.08,54.34 L292.21,54.53 L292.34,54.72 L292.46,54.92 L292.58,55.11 L292.71,55.31 L292.83,55.5 L292.95,55.7 L293.06,55.9 L293.18,56.09 L293.29,56.29 L293.4,56.49 L293.51,56.69 L293.62,56.89 L293.72,57.09 L293.82,57.3 L293.92,57.5 L294.02,57.7 L294.11,57.91 L294.21,58.11 L294.3,58.32 L294.39,58.52 L294.48,58.73 L294.56,58.94 L294.65,59.15 L294.73,59.36 L294.82,59.56 L294.9,59.78 L294.98,59.99 L295.06,60.2 L295.14,60.41 L295.22,60.62 L295.29,60.84 L295.37,61.05 L295.44,61.27 L295.52,61.48 L295.59,61.7 L295.66,61.92 L295.73,62.14 L295.81,62.35 L295.88,62.57 L295.95,62.79 L296.02,63.02 L296.09,63.24 L296.16,63.46 L296.23,63.69 L296.3,63.93 L296.37,64.16 L296.43,64.4 L296.5,64.65 L296.57,64.9 L296.64,65.15 L296.71,65.4 L296.78,65.66 L296.85,65.91 L296.92,66.18 L296.99,66.44 L297.06,66.71 L297.13,66.98 L297.2,67.25 L297.26,67.52 L297.33,67.8 L297.4,68.07 L297.46,68.35 L297.52,68.63 L297.59,68.92 L297.65,69.2 L297.71,69.49 L297.77,69.77 L297.84,70.06 L297.9,70.35 L297.96,70.64 L298.02,70.93 L298.08,71.22 L298.14,71.53 L298.2,71.85 L298.26,72.19 L298.32,72.54 L298.38,72.89 L298.44,73.25 L298.5,73.62 L298.57,73.99 L298.63,74.36 L298.69,74.74 L298.75,75.11 L298.81,75.48 L298.88,75.84 L298.94,76.2 L299.01,76.55 L299.07,76.9 L299.14,77.24 L299.2,77.59 L299.27,77.94 L299.34,78.28 L299.41,78.63 L299.48,78.97 L299.55,79.31 L299.62,79.65 L299.7,79.99 L299.77,80.33 L299.85,80.66 L299.92,80.99 L300,81.32 L300.08,81.64 L300.16,81.97 L300.24,82.29 L300.32,82.6 L300.4,82.92 L300.48,83.23 L300.57,83.54 L300.65,83.85 L300.74,84.16 L300.82,84.47 L300.91,84.77 L301,85.08 L301.09,85.39 L301.18,85.7 L301.27,86 L301.36,86.31 L301.46,86.62 L301.55,86.93 L301.65,87.23 L301.75,87.53 L301.85,87.83 L301.95,88.13 L302.06,88.44 L302.16,88.74 L302.27,89.04 L302.38,89.34 L302.5,89.65 L302.61,89.96 L302.73,90.27 L302.85,90.59 L302.97,90.91 L303.1,91.24 L303.24,91.57 L303.38,91.91 L303.53,92.26 L303.69,92.62 L303.85,92.97 L304.02,93.34 L304.19,93.7 L304.36,94.07 L304.53,94.44 L304.7,94.8 L304.87,95.17 L305.04,95.53 L305.21,95.89 L305.37,96.25 L305.53,96.6 L305.7,96.96 L305.87,97.31 L306.04,97.67 L306.22,98.03 L306.4,98.39 L306.59,98.75 L306.79,99.1 L307,99.45 L307.22,99.8 L307.46,100.15 L307.71,100.49 L307.99,100.82 L308.28,101.15 L308.59,101.47 L308.91,101.78 L309.25,102.09 L309.59,102.39 L309.95,102.69 L310.3,102.98 L310.66,103.27 L311.02,103.55 L311.38,103.83 L311.73,104.11 L312.08,104.39 L312.43,104.66 L312.78,104.93 L313.13,105.2 L313.49,105.46 L313.84,105.73 L314.2,105.99 L314.57,106.26 L314.94,106.52 L315.32,106.77 L315.7,107.02 L316.1,107.27 L316.51,107.51 L316.93,107.76 L317.36,108 L317.81,108.24 L318.27,108.48 L318.75,108.72 L319.25,108.96 L319.76,109.21 L320.3,109.45 L320.87,109.7 L321.47,109.94 L322.1,110.2 L322.76,110.46 L323.45,110.73 L324.17,111 L324.92,111.27 L325.71,111.53 L326.52,111.8 L327.36,112.06 L328.24,112.31 L329.18,112.56 L330.25,112.8 L331.41,113.03 L332.62,113.24 L333.87,113.45 L335.12,113.65 L336.33,113.83 L337.48,114.02 L338.6,114.19 L339.72,114.36 L340.83,114.53 L341.94,114.69 L343.04,114.84 L344.14,114.99 L345.22,115.14 L346.31,115.29 L347.38,115.43 L348.45,115.57 L349.51,115.71 L350.56,115.84 L351.6,115.98" fill="none" stroke="#f5567a" stroke-width="1.25" stroke-linejoin="round" stroke-linecap="butt" />
</g>
<circle cx="58.91" cy="22.7" r="1.45" fill="#000"/>
<circle cx="242.31" cy="111.39" r="1.45" fill="#000"/>
<circle cx="66.92" cy="24.14" r="1.45" fill="#000"/>
<circle cx="250.32" cy="107.71" r="1.45" fill="#000"/>
<circle cx="71.83" cy="25.59" r="1.45" fill="#000"/>
<circle cx="255.23" cy="104.12" r="1.45" fill="#000"/>
<circle cx="74.95" cy="27.03" r="1.45" fill="#000"/>
<circle cx="258.35" cy="100.14" r="1.45" fill="#000"/>
<circle cx="78" cy="28.47" r="1.45" fill="#000"/>
<circle cx="261.4" cy="95.47" r="1.45" fill="#000"/>
<circle cx="79.94" cy="29.92" r="1.45" fill="#000"/>
<circle cx="263.34" cy="91.04" r="1.45" fill="#000"/>
<circle cx="81.44" cy="31.36" r="1.45" fill="#000"/>
<circle cx="264.84" cy="87.09" r="1.45" fill="#000"/>
<circle cx="82.77" cy="32.8" r="1.45" fill="#000"/>
<circle cx="266.17" cy="81.6" r="1.45" fill="#000"/>
<circle cx="83.96" cy="34.25" r="1.45" fill="#000"/>
<circle cx="267.36" cy="76.61" r="1.45" fill="#000"/>
<circle cx="84.96" cy="35.69" r="1.45" fill="#000"/>
<circle cx="268.36" cy="71.05" r="1.45" fill="#000"/>
<circle cx="85.77" cy="37.13" r="1.45" fill="#000"/>
<circle cx="269.17" cy="66.25" r="1.45" fill="#000"/>
<circle cx="86.37" cy="38.58" r="1.45" fill="#000"/>
<circle cx="269.77" cy="62.14" r="1.45" fill="#000"/>
<circle cx="86.7" cy="40.02" r="1.45" fill="#000"/>
<circle cx="270.1" cy="58.76" r="1.45" fill="#000"/>
<circle cx="86.58" cy="41.46" r="1.45" fill="#000"/>
<circle cx="269.98" cy="55.65" r="1.45" fill="#000"/>
<circle cx="86.27" cy="42.91" r="1.45" fill="#000"/>
<circle cx="269.67" cy="52.88" r="1.45" fill="#000"/>
<circle cx="85.8" cy="44.35" r="1.45" fill="#000"/>
<circle cx="269.2" cy="50.26" r="1.45" fill="#000"/>
<circle cx="85" cy="45.79" r="1.45" fill="#000"/>
<circle cx="268.4" cy="47.78" r="1.45" fill="#000"/>
<circle cx="83.7" cy="47.24" r="1.45" fill="#000"/>
<circle cx="267.1" cy="45.43" r="1.45" fill="#000"/>
<circle cx="82.04" cy="48.68" r="1.45" fill="#5fae72"/>
<circle cx="265.44" cy="43.23" r="1.45" fill="#5fae72"/>
<circle cx="80.34" cy="50.12" r="1.45" fill="#5fae72"/>
<circle cx="263.74" cy="41.17" r="1.45" fill="#5fae72"/>
<circle cx="78.58" cy="51.57" r="1.45" fill="#5fae72"/>
<circle cx="261.98" cy="39.27" r="1.45" fill="#5fae72"/>
<circle cx="76.86" cy="53.01" r="1.45" fill="#5fae72"/>
<circle cx="260.26" cy="37.53" r="1.45" fill="#5fae72"/>
<circle cx="75.12" cy="54.45" r="1.45" fill="#000"/>
<circle cx="258.52" cy="35.94" r="1.45" fill="#000"/>
<circle cx="73.29" cy="55.9" r="1.45" fill="#000"/>
<circle cx="256.69" cy="34.52" r="1.45" fill="#000"/>
<circle cx="71.8" cy="57.34" r="1.45" fill="#000"/>
<circle cx="255.2" cy="33.27" r="1.45" fill="#000"/>
<circle cx="70.64" cy="58.78" r="1.45" fill="#000"/>
<circle cx="254.04" cy="32.18" r="1.45" fill="#000"/>
<circle cx="69.76" cy="60.23" r="1.45" fill="#000"/>
<circle cx="253.16" cy="31.26" r="1.45" fill="#000"/>
<circle cx="69.05" cy="61.67" r="1.45" fill="#000"/>
<circle cx="252.45" cy="30.51" r="1.45" fill="#000"/>
<circle cx="68.81" cy="63.11" r="1.45" fill="#000"/>
<circle cx="252.21" cy="29.94" r="1.45" fill="#000"/>
<circle cx="68.93" cy="64.56" r="1.45" fill="#000"/>
<circle cx="252.33" cy="29.55" r="1.45" fill="#000"/>
<circle cx="69.35" cy="66" r="1.45" fill="#000"/>
<circle cx="252.75" cy="29.32" r="1.45" fill="#000"/>
<circle cx="70.25" cy="67.44" r="1.45" fill="#000"/>
<circle cx="253.65" cy="29.28" r="1.45" fill="#000"/>
<circle cx="71.29" cy="68.89" r="1.45" fill="#000"/>
<circle cx="254.69" cy="29.41" r="1.45" fill="#000"/>
<circle cx="72.52" cy="70.33" r="1.45" fill="#000"/>
<circle cx="255.92" cy="29.71" r="1.45" fill="#000"/>
<circle cx="74.05" cy="71.77" r="1.45" fill="#000"/>
<circle cx="257.45" cy="30.19" r="1.45" fill="#000"/>
<circle cx="76.13" cy="73.21" r="1.45" fill="#000"/>
<circle cx="259.53" cy="30.85" r="1.45" fill="#000"/>
<circle cx="78.41" cy="74.66" r="1.45" fill="#000"/>
<circle cx="261.81" cy="31.68" r="1.45" fill="#000"/>
<circle cx="80.79" cy="76.1" r="1.45" fill="#000"/>
<circle cx="264.19" cy="32.68" r="1.45" fill="#000"/>
<circle cx="83.32" cy="77.54" r="1.45" fill="#000"/>
<circle cx="266.72" cy="33.84" r="1.45" fill="#000"/>
<circle cx="86.08" cy="78.99" r="1.45" fill="#000"/>
<circle cx="269.48" cy="35.18" r="1.45" fill="#000"/>
<circle cx="89.17" cy="80.43" r="1.45" fill="#000"/>
<circle cx="272.57" cy="36.68" r="1.45" fill="#000"/>
<circle cx="92.27" cy="81.87" r="1.45" fill="#000"/>
<circle cx="275.67" cy="38.46" r="1.45" fill="#000"/>
<circle cx="95.33" cy="83.32" r="1.45" fill="#000"/>
<circle cx="278.73" cy="40.82" r="1.45" fill="#000"/>
<circle cx="98.36" cy="84.76" r="1.45" fill="#000"/>
<circle cx="281.76" cy="43.26" r="1.45" fill="#000"/>
<circle cx="101.15" cy="86.2" r="1.45" fill="#000"/>
<circle cx="284.55" cy="45.76" r="1.45" fill="#000"/>
<circle cx="103.64" cy="87.65" r="1.45" fill="#000"/>
<circle cx="287.04" cy="48.19" r="1.45" fill="#000"/>
<circle cx="105.83" cy="89.09" r="1.45" fill="#000"/>
<circle cx="289.23" cy="50.59" r="1.45" fill="#000"/>
<circle cx="107.8" cy="90.53" r="1.45" fill="#000"/>
<circle cx="291.2" cy="53.1" r="1.45" fill="#000"/>
<circle cx="109.56" cy="91.98" r="1.45" fill="#000"/>
<circle cx="292.96" cy="55.72" r="1.45" fill="#000"/>
<circle cx="110.97" cy="93.42" r="1.45" fill="#000"/>
<circle cx="294.37" cy="58.48" r="1.45" fill="#000"/>
<circle cx="112.08" cy="94.86" r="1.45" fill="#000"/>
<circle cx="295.48" cy="61.36" r="1.45" fill="#000"/>
<circle cx="113.04" cy="96.31" r="1.45" fill="#000"/>
<circle cx="296.44" cy="64.43" r="1.45" fill="#000"/>
<circle cx="113.98" cy="97.75" r="1.45" fill="#000"/>
<circle cx="297.38" cy="68.01" r="1.45" fill="#000"/>
<circle cx="114.83" cy="99.19" r="1.45" fill="#000"/>
<circle cx="298.23" cy="71.99" r="1.45" fill="#000"/>
<circle cx="115.68" cy="100.64" r="1.45" fill="#000"/>
<circle cx="299.08" cy="76.92" r="1.45" fill="#000"/>
<circle cx="116.66" cy="102.08" r="1.45" fill="#000"/>
<circle cx="300.06" cy="81.56" r="1.45" fill="#000"/>
<circle cx="117.81" cy="103.52" r="1.45" fill="#000"/>
<circle cx="301.21" cy="85.82" r="1.45" fill="#000"/>
<circle cx="119.22" cy="104.97" r="1.45" fill="#000"/>
<circle cx="302.62" cy="89.98" r="1.45" fill="#000"/>
<circle cx="121.25" cy="106.41" r="1.45" fill="#000"/>
<circle cx="304.65" cy="94.69" r="1.45" fill="#000"/>
<circle cx="123.68" cy="107.85" r="1.45" fill="#000"/>
<circle cx="307.08" cy="99.58" r="1.45" fill="#000"/>
<circle cx="127.99" cy="109.3" r="1.45" fill="#000"/>
<circle cx="311.39" cy="103.84" r="1.45" fill="#000"/>
<line x1="36.7" y1="118.8" x2="36.7" y2="126.4" stroke="#000" stroke-width="1.3" />
<text x="44.1" y="137.89" font-size="10.6" text-anchor="middle" font-family="Liberation Sans, sans-serif" >0.990</text>
<line x1="68.25" y1="118.8" x2="68.25" y2="126.4" stroke="#000" stroke-width="1.3" />
<text x="75.65" y="137.89" font-size="10.6" text-anchor="middle" font-family="Liberation Sans, sans-serif" >0.995</text>
<line x1="99.8" y1="118.8" x2="99.8" y2="126.4" stroke="#000" stroke-width="1.3" />
<text x="107.2" y="137.89" font-size="10.6" text-anchor="middle" font-family="Liberation Sans, sans-serif" >1.000</text>
<line x1="131.35" y1="118.8" x2="131.35" y2="126.4" stroke="#000" stroke-width="1.3" />
<text x="138.75" y="137.89" font-size="10.6" text-anchor="middle" font-family="Liberation Sans, sans-serif" >1.005</text>
<line x1="162.9" y1="118.8" x2="162.9" y2="126.4" stroke="#000" stroke-width="1.3" />
<text x="170.3" y="137.89" font-size="10.6" text-anchor="middle" font-family="Liberation Sans, sans-serif" >1.010</text>
<line x1="220.1" y1="118.7" x2="220.1" y2="126.3" stroke="#000" stroke-width="1.3" />
<text x="220.3" y="138.29" font-size="10.6" text-anchor="middle" font-family="Liberation Sans, sans-serif" >0.990</text>
<line x1="251.65" y1="118.7" x2="251.65" y2="126.3" stroke="#000" stroke-width="1.3" />
<text x="251.85" y="138.29" font-size="10.6" text-anchor="middle" font-family="Liberation Sans, sans-serif" >0.995</text>
<line x1="283.2" y1="118.7" x2="283.2" y2="126.3" stroke="#000" stroke-width="1.3" />
<text x="283.4" y="138.29" font-size="10.6" text-anchor="middle" font-family="Liberation Sans, sans-serif" >1.000</text>
<line x1="314.75" y1="118.7" x2="314.75" y2="126.3" stroke="#000" stroke-width="1.3" />
<text x="314.95" y="138.29" font-size="10.6" text-anchor="middle" font-family="Liberation Sans, sans-serif" >1.005</text>
<line x1="346.3" y1="118.7" x2="346.3" y2="126.3" stroke="#000" stroke-width="1.3" />
<text x="346.5" y="138.29" font-size="10.6" text-anchor="middle" font-family="Liberation Sans, sans-serif" >1.010</text>
<line x1="23.7" y1="16" x2="30.7" y2="16" stroke="#000" stroke-width="1.3" />
<text x="24.5" y="19.79" font-size="10.6" text-anchor="end" font-family="Liberation Sans, sans-serif" >0</text>
<line x1="23.7" y1="48.5" x2="30.7" y2="48.5" stroke="#000" stroke-width="1.3" />
<text x="24.5" y="52.29" font-size="10.6" text-anchor="end" font-family="Liberation Sans, sans-serif" >−1</text>
<line x1="23.7" y1="81.1" x2="30.7" y2="81.1" stroke="#000" stroke-width="1.3" />
<text x="24.5" y="84.89" font-size="10.6" text-anchor="end" font-family="Liberation Sans, sans-serif" >−2</text>
<line x1="23.7" y1="113.6" x2="30.7" y2="113.6" stroke="#000" stroke-width="1.3" />
<text x="24.5" y="117.39" font-size="10.6" text-anchor="end" font-family="Liberation Sans, sans-serif" >−3</text>
<line x1="206.4" y1="118.7" x2="213.6" y2="118.7" stroke="#000" stroke-width="1.3" />
<text x="199.4" y="122.49" font-size="10.6" text-anchor="end" font-family="Liberation Sans, sans-serif" >0</text>
<line x1="206.4" y1="102.9" x2="213.6" y2="102.9" stroke="#000" stroke-width="1.3" />
<text x="199.4" y="106.69" font-size="10.6" text-anchor="end" font-family="Liberation Sans, sans-serif" >10</text>
<line x1="206.4" y1="87.1" x2="213.6" y2="87.1" stroke="#000" stroke-width="1.3" />
<text x="199.4" y="90.89" font-size="10.6" text-anchor="end" font-family="Liberation Sans, sans-serif" >20</text>
<line x1="206.4" y1="71.3" x2="213.6" y2="71.3" stroke="#000" stroke-width="1.3" />
<text x="199.4" y="75.09" font-size="10.6" text-anchor="end" font-family="Liberation Sans, sans-serif" >30</text>
<line x1="206.4" y1="55.5" x2="213.6" y2="55.5" stroke="#000" stroke-width="1.3" />
<text x="199.4" y="59.29" font-size="10.6" text-anchor="end" font-family="Liberation Sans, sans-serif" >40</text>
<line x1="206.4" y1="39.7" x2="213.6" y2="39.7" stroke="#000" stroke-width="1.3" />
<text x="199.4" y="43.49" font-size="10.6" text-anchor="end" font-family="Liberation Sans, sans-serif" >50</text>
<line x1="206.4" y1="23.9" x2="213.6" y2="23.9" stroke="#000" stroke-width="1.3" />
<text x="199.4" y="27.69" font-size="10.6" text-anchor="end" font-family="Liberation Sans, sans-serif" >60</text>
<g transform="translate(94.4,151) scale(1.000)">
<text x="0" y="0" font-size="10" font-family="Liberation Serif, serif" font-style="italic">ω</text>
<text x="7.5" y="1.9" font-size="7.1" font-family="Liberation Serif, serif" font-style="italic">d</text>
<line x1="12.9" y1="2.9" x2="17.5" y2="-8.3" stroke="#000" stroke-width="0.85"/>
<text x="17.7" y="0" font-size="10" font-family="Liberation Serif, serif" font-style="italic">ω</text>
<text x="25.0" y="1.9" font-size="7.8" font-family="Liberation Serif, serif">0</text>
</g>
<g transform="translate(276.3,149.2) scale(1.000)">
<text x="0" y="0" font-size="10" font-family="Liberation Serif, serif" font-style="italic">ω</text>
<text x="7.5" y="1.9" font-size="7.1" font-family="Liberation Serif, serif" font-style="italic">d</text>
<line x1="12.9" y1="2.9" x2="17.5" y2="-8.3" stroke="#000" stroke-width="0.85"/>
<text x="17.7" y="0" font-size="10" font-family="Liberation Serif, serif" font-style="italic">ω</text>
<text x="25.0" y="1.9" font-size="7.8" font-family="Liberation Serif, serif">0</text>
</g>
<g transform="translate(8.5,63.7) rotate(-90)">
<text x="-19.55" y="0.3" font-size="12.6" font-family="Liberation Serif, serif" font-style="italic">ϕ</text>
<text x="-11.95" y="2.2" font-size="8" font-family="Liberation Serif, serif">1</text>
<text x="-2.85" y="0" font-size="11" font-family="Liberation Sans, sans-serif">/</text>
<text x="5.15" y="0" font-size="11" font-family="Liberation Sans, sans-serif">rad</text>
</g>
<g transform="translate(183.4,62.3) rotate(-90)">
<text x="-18.6" y="0" font-size="12.2" font-family="Liberation Serif, serif" font-style="italic">A</text>
<text x="-10.8" y="2.2" font-size="8" font-family="Liberation Serif, serif">1</text>
<text x="-2.9" y="0" font-size="11" font-family="Liberation Sans, sans-serif">/</text>
<text x="4.3" y="0" font-size="11" font-family="Liberation Sans, sans-serif">nm</text>
</g>
<line x1="98.8" y1="4.95" x2="110.2" y2="4.95" stroke="#7ba6d4" stroke-width="2.6" />
<text x="121.2" y="7.9" font-size="11" text-anchor="start" font-family="Liberation Sans, sans-serif" >forward</text>
<line x1="167" y1="5" x2="178.2" y2="5" stroke="#f5567a" stroke-width="1.5" />
<text x="179.7" y="7.9" font-size="11" text-anchor="start" font-family="Liberation Sans, sans-serif" >backward</text>
<circle cx="235.6" cy="5.1" r="1.45" fill="#5fae72"/>
<circle cx="240.9" cy="5.1" r="1.45" fill="#000"/>
<text x="244.3" y="7.9" font-size="11" text-anchor="start" font-family="Liberation Sans, sans-serif" >control</text>
<rect x="434.5" y="11.8" width="245.7" height="47.2" fill="none" stroke="#000" stroke-width="1.45"/>
<rect x="434.5" y="69.3" width="245.7" height="55.3" fill="none" stroke="#000" stroke-width="1.45"/>
<line x1="501.4" y1="4.9" x2="512.8" y2="4.9" stroke="#8cc39a" stroke-width="1.7" />
<text x="516.4" y="8.4" font-size="11" text-anchor="start" font-family="Liberation Sans, sans-serif" >transient behaviour</text>
<line x1="427.2" y1="12.74" x2="434.5" y2="12.74" stroke="#000" stroke-width="1.3" />
<text x="420.4" y="15.41" font-size="9.7" text-anchor="end" font-family="Liberation Sans, sans-serif" >1.02</text>
<line x1="427.2" y1="24.27" x2="434.5" y2="24.27" stroke="#000" stroke-width="1.3" />
<text x="420.4" y="26.94" font-size="9.7" text-anchor="end" font-family="Liberation Sans, sans-serif" >1.01</text>
<line x1="427.2" y1="35.8" x2="434.5" y2="35.8" stroke="#000" stroke-width="1.3" />
<text x="420.4" y="38.47" font-size="9.7" text-anchor="end" font-family="Liberation Sans, sans-serif" >1.00</text>
<line x1="427.2" y1="47.33" x2="434.5" y2="47.33" stroke="#000" stroke-width="1.3" />
<text x="420.4" y="50" font-size="9.7" text-anchor="end" font-family="Liberation Sans, sans-serif" >0.99</text>
<line x1="427.2" y1="58.86" x2="434.5" y2="58.86" stroke="#000" stroke-width="1.3" />
<text x="420.4" y="61.53" font-size="9.7" text-anchor="end" font-family="Liberation Sans, sans-serif" >0.98</text>
<line x1="427.2" y1="69.65" x2="434.5" y2="69.65" stroke="#000" stroke-width="1.3" />
<text x="420.4" y="72.32" font-size="9.7" text-anchor="end" font-family="Liberation Sans, sans-serif" >40</text>
<line x1="427.2" y1="81.7" x2="434.5" y2="81.7" stroke="#000" stroke-width="1.3" />
<text x="420.4" y="84.37" font-size="9.7" text-anchor="end" font-family="Liberation Sans, sans-serif" >20</text>
<line x1="427.2" y1="93.75" x2="434.5" y2="93.75" stroke="#000" stroke-width="1.3" />
<text x="420.4" y="96.42" font-size="9.7" text-anchor="end" font-family="Liberation Sans, sans-serif" >0</text>
<line x1="427.2" y1="105.8" x2="434.5" y2="105.8" stroke="#000" stroke-width="1.3" />
<text x="420.4" y="108.47" font-size="9.7" text-anchor="end" font-family="Liberation Sans, sans-serif" >−20</text>
<line x1="427.2" y1="117.85" x2="434.5" y2="117.85" stroke="#000" stroke-width="1.3" />
<text x="420.4" y="120.52" font-size="9.7" text-anchor="end" font-family="Liberation Sans, sans-serif" >−40</text>
<line x1="445.6" y1="124.6" x2="445.6" y2="131.9" stroke="#000" stroke-width="1.3" />
<text x="445.6" y="142.87" font-size="9.7" text-anchor="middle" font-family="Liberation Sans, sans-serif" >0</text>
<line x1="484.65" y1="124.6" x2="484.65" y2="131.9" stroke="#000" stroke-width="1.3" />
<text x="484.65" y="142.87" font-size="9.7" text-anchor="middle" font-family="Liberation Sans, sans-serif" >10</text>
<line x1="523.7" y1="124.6" x2="523.7" y2="131.9" stroke="#000" stroke-width="1.3" />
<text x="523.7" y="142.87" font-size="9.7" text-anchor="middle" font-family="Liberation Sans, sans-serif" >20</text>
<line x1="562.75" y1="124.6" x2="562.75" y2="131.9" stroke="#000" stroke-width="1.3" />
<text x="562.75" y="142.87" font-size="9.7" text-anchor="middle" font-family="Liberation Sans, sans-serif" >30</text>
<line x1="601.8" y1="124.6" x2="601.8" y2="131.9" stroke="#000" stroke-width="1.3" />
<text x="601.8" y="142.87" font-size="9.7" text-anchor="middle" font-family="Liberation Sans, sans-serif" >40</text>
<line x1="640.85" y1="124.6" x2="640.85" y2="131.9" stroke="#000" stroke-width="1.3" />
<text x="640.85" y="142.87" font-size="9.7" text-anchor="middle" font-family="Liberation Sans, sans-serif" >50</text>
<line x1="679.9" y1="124.6" x2="679.9" y2="131.9" stroke="#000" stroke-width="1.3" />
<text x="679.9" y="142.87" font-size="9.7" text-anchor="middle" font-family="Liberation Sans, sans-serif" >60</text>
<text x="558.5" y="154.4" font-size="11" text-anchor="middle" font-family="Liberation Sans, sans-serif" >time / ms</text>
<g transform="translate(397.4,95) rotate(-90)">
<text x="0" y="0" font-size="11" text-anchor="middle" font-family="Liberation Sans, sans-serif" >error / mrad</text>
</g>
<g transform="translate(394.6,35.4) rotate(-90)">
<g transform="translate(-14.4,0) scale(1.000)">
<text x="0" y="0" font-size="10" font-family="Liberation Serif, serif" font-style="italic">ω</text>
<text x="7.5" y="1.9" font-size="7.1" font-family="Liberation Serif, serif" font-style="italic">d</text>
<line x1="12.9" y1="2.9" x2="17.5" y2="-8.3" stroke="#000" stroke-width="0.85"/>
<text x="17.7" y="0" font-size="10" font-family="Liberation Serif, serif" font-style="italic">ω</text>
<text x="25.0" y="1.9" font-size="7.8" font-family="Liberation Serif, serif">0</text>
</g>
</g>
<path d="M445.6,40.27 L451.93,40.27 L452,19.14 L453.18,51.72 L453.33,53.55 L453.41,53.94 L453.49,53.96 L453.64,53.03 L454.74,33.03 L454.89,31.87 L454.97,31.62 L455.05,31.61 L455.21,32.2 L456.3,44.86 L456.46,45.6 L456.53,45.75 L456.61,45.76 L456.77,45.39 L457.86,37.37 L458.02,36.9 L458.1,36.81 L458.17,36.8 L458.33,37.04 L459.42,42.11 L459.58,42.41 L459.74,42.47 L459.97,42.18 L460.99,39.11 L461.22,38.88 L461.38,38.91 L462.55,41.01 L462.78,41.15 L463.09,41.04 L464.11,39.81 L464.5,39.73 L465.83,40.62 L467.62,40.06 L519.95,40.19 L520.81,39.25 L520.97,39.25 L521.75,40.15 L522.22,40.27 L522.29,19.14 L523.47,51.72 L523.62,53.55 L523.7,53.94 L523.78,53.96 L523.93,53.03 L525.03,33.03 L525.18,31.87 L525.26,31.62 L525.34,31.61 L525.5,32.2 L526.59,44.86 L526.75,45.6 L526.82,45.75 L526.9,45.76 L527.06,45.39 L528.15,37.37 L528.31,36.9 L528.39,36.81 L528.46,36.8 L528.62,37.04 L529.71,42.11 L529.87,42.41 L530.03,42.47 L530.26,42.18 L531.28,39.11 L531.51,38.88 L531.67,38.91 L532.84,41.01 L533.07,41.15 L533.38,41.04 L534.4,39.81 L534.79,39.73 L536.12,40.62 L537.91,40.06 L590.24,40.19 L591.1,39.25 L591.26,39.25 L592.04,40.15 L592.51,40.27 L592.58,19.14 L593.76,51.72 L593.91,53.55 L593.99,53.94 L594.07,53.96 L594.22,53.03 L595.32,33.03 L595.47,31.87 L595.55,31.62 L595.63,31.61 L595.79,32.2 L596.88,44.86 L597.04,45.6 L597.11,45.75 L597.19,45.76 L597.35,45.39 L598.44,37.37 L598.6,36.9 L598.68,36.81 L598.75,36.8 L598.91,37.04 L600,42.11 L600.16,42.41 L600.32,42.47 L600.55,42.18 L601.57,39.11 L601.8,38.88 L601.96,38.91 L603.13,41.01 L603.36,41.15 L603.67,41.04 L604.69,39.81 L605.08,39.73 L606.41,40.62 L608.2,40.06 L660.53,40.19 L661.39,39.25 L661.55,39.25 L662.33,40.15 L662.8,40.27 L662.87,19.14 L664.05,51.72 L664.2,53.55 L664.28,53.94 L664.36,53.96 L664.51,53.03 L665.61,33.03 L665.76,31.87 L665.84,31.62 L665.92,31.61 L666.08,32.2 L667.17,44.86 L667.33,45.6 L667.4,45.75 L667.48,45.76 L667.64,45.39 L668.73,37.37 L668.89,36.9 L668.97,36.81 L669.04,36.8 L669.12,36.88" fill="none" stroke="#66ad7b" stroke-width="1.25" stroke-linejoin="round" stroke-linecap="butt" />
<path d="M445.6,93.75 L451.93,93.75 L452,121.66 L453.18,78.64 L453.33,76.21 L453.41,75.71 L453.49,75.67 L453.64,76.91 L454.74,103.32 L454.89,104.85 L454.97,105.17 L455.05,105.19 L455.21,104.41 L456.3,87.69 L456.46,86.72 L456.53,86.52 L456.61,86.5 L456.77,87 L457.86,97.58 L458.02,98.2 L458.1,98.33 L458.17,98.34 L458.33,98.02 L459.42,91.32 L459.58,90.93 L459.66,90.85 L459.74,90.85 L459.89,91.04 L460.99,95.29 L461.22,95.58 L461.38,95.55 L462.55,92.78 L462.78,92.59 L463.02,92.67 L464.11,94.37 L464.42,94.49 L465.75,93.32 L466.22,93.35 L467.39,94.04 L469.34,93.59 L519.87,93.68 L520.19,93.39 L520.73,92.35 L520.89,92.24 L521.04,92.35 L521.75,93.57 L522.22,93.74 L522.29,121.66 L523.47,78.64 L523.62,76.21 L523.7,75.71 L523.78,75.67 L523.93,76.91 L525.03,103.32 L525.18,104.85 L525.26,105.17 L525.34,105.19 L525.5,104.41 L526.59,87.69 L526.75,86.72 L526.82,86.52 L526.9,86.5 L527.06,87 L528.15,97.58 L528.31,98.2 L528.39,98.33 L528.46,98.34 L528.62,98.02 L529.71,91.32 L529.87,90.93 L529.95,90.85 L530.03,90.85 L530.18,91.04 L531.28,95.29 L531.51,95.58 L531.67,95.55 L532.84,92.78 L533.07,92.59 L533.31,92.67 L534.4,94.37 L534.71,94.49 L536.04,93.32 L536.51,93.35 L537.68,94.04 L539.63,93.59 L590.16,93.68 L590.48,93.39 L591.02,92.35 L591.18,92.24 L591.33,92.35 L592.04,93.57 L592.51,93.74 L592.58,121.66 L593.76,78.64 L593.91,76.21 L593.99,75.71 L594.07,75.67 L594.22,76.91 L595.32,103.32 L595.47,104.85 L595.55,105.17 L595.63,105.19 L595.79,104.41 L596.88,87.69 L597.04,86.72 L597.11,86.52 L597.19,86.5 L597.35,87 L598.44,97.58 L598.6,98.2 L598.68,98.33 L598.75,98.34 L598.91,98.02 L600,91.32 L600.16,90.93 L600.24,90.85 L600.32,90.85 L600.47,91.04 L601.57,95.29 L601.8,95.58 L601.96,95.55 L603.13,92.78 L603.36,92.59 L603.6,92.67 L604.69,94.37 L605,94.49 L606.33,93.32 L606.8,93.35 L607.97,94.04 L609.92,93.59 L660.45,93.68 L660.77,93.39 L661.31,92.35 L661.47,92.24 L661.62,92.35 L662.33,93.57 L662.8,93.74 L662.87,121.66 L664.05,78.64 L664.2,76.21 L664.28,75.71 L664.36,75.67 L664.51,76.91 L665.61,103.32 L665.76,104.85 L665.84,105.17 L665.92,105.19 L666.08,104.41 L667.17,87.69 L667.33,86.72 L667.4,86.52 L667.48,86.5 L667.64,87 L668.73,97.58 L668.89,98.2 L668.97,98.33 L669.04,98.34 L669.12,98.23" fill="none" stroke="#66ad7b" stroke-width="1.25" stroke-linejoin="round" stroke-linecap="butt" />
<text x="273.6" y="180.3" font-size="11" text-anchor="start" font-family="Liberation Sans, sans-serif" >numerical frequency-response surface</text>
<line x1="61.8" y1="328.2" x2="61.2" y2="228.6" stroke="#000" stroke-width="1.3" />
<line x1="61.2" y1="228.6" x2="149" y2="177.1" stroke="#000" stroke-width="1.3" />
<line x1="148.7" y1="277.1" x2="149" y2="177.1" stroke="#000" stroke-width="1.3" />
<line x1="149" y1="177.1" x2="285.5" y2="210.7" stroke="#000" stroke-width="1.3" />
<line x1="285.3" y1="309.6" x2="285.5" y2="210.7" stroke="#000" stroke-width="1.3" />
<line x1="61.8" y1="328.2" x2="148.7" y2="277.1" stroke="#000" stroke-width="1.3" />
<line x1="148.7" y1="277.1" x2="285.3" y2="309.6" stroke="#000" stroke-width="1.3" />
<line x1="61.8" y1="328.2" x2="197.8" y2="362.1" stroke="#000" stroke-width="1.3" />
<line x1="197.8" y1="362.1" x2="285.3" y2="309.6" stroke="#000" stroke-width="1.3" />
<line x1="92.53" y1="335.95" x2="85.53" y2="340.42" stroke="#000" stroke-width="1.3" />
<text x="65.6" y="352.43" font-size="10.7" text-anchor="middle" font-family="Liberation Sans, sans-serif" >0.995</text>
<line x1="143.4" y1="348.46" x2="136.4" y2="352.94" stroke="#000" stroke-width="1.3" />
<text x="116.9" y="364.93" font-size="10.7" text-anchor="middle" font-family="Liberation Sans, sans-serif" >1.000</text>
<line x1="194.34" y1="361" x2="187.34" y2="365.47" stroke="#000" stroke-width="1.3" />
<text x="167.4" y="377.13" font-size="10.7" text-anchor="middle" font-family="Liberation Sans, sans-serif" >1.005</text>
<line x1="201.74" y1="359.59" x2="209.42" y2="361.83" stroke="#000" stroke-width="1.3" />
<text x="223" y="371.36" font-size="10.5" text-anchor="middle" font-family="Liberation Sans, sans-serif" >60</text>
<line x1="215.17" y1="351.58" x2="222.85" y2="353.82" stroke="#000" stroke-width="1.3" />
<text x="236.5" y="363.96" font-size="10.5" text-anchor="middle" font-family="Liberation Sans, sans-serif" >70</text>
<line x1="228.58" y1="343.58" x2="236.26" y2="345.82" stroke="#000" stroke-width="1.3" />
<text x="249.5" y="355.86" font-size="10.5" text-anchor="middle" font-family="Liberation Sans, sans-serif" >80</text>
<line x1="241.98" y1="335.6" x2="249.66" y2="337.84" stroke="#000" stroke-width="1.3" />
<text x="262.6" y="348.16" font-size="10.5" text-anchor="middle" font-family="Liberation Sans, sans-serif" >90</text>
<line x1="255.36" y1="327.62" x2="263.04" y2="329.86" stroke="#000" stroke-width="1.3" />
<text x="279.2" y="340.26" font-size="10.5" text-anchor="middle" font-family="Liberation Sans, sans-serif" >100</text>
<line x1="268.72" y1="319.65" x2="276.4" y2="321.89" stroke="#000" stroke-width="1.3" />
<text x="292.5" y="332.46" font-size="10.5" text-anchor="middle" font-family="Liberation Sans, sans-serif" >110</text>
<line x1="282.07" y1="311.69" x2="289.75" y2="313.93" stroke="#000" stroke-width="1.3" />
<text x="305.8" y="325.16" font-size="10.5" text-anchor="middle" font-family="Liberation Sans, sans-serif" >120</text>
<g transform="translate(113.6,378.5) rotate(14)">
<g transform="translate(-14.4,2) scale(1.000)">
<text x="0" y="0" font-size="10" font-family="Liberation Serif, serif" font-style="italic">ω</text>
<text x="7.5" y="1.9" font-size="7.1" font-family="Liberation Serif, serif" font-style="italic">d</text>
<line x1="12.9" y1="2.9" x2="17.5" y2="-8.3" stroke="#000" stroke-width="0.85"/>
<text x="17.7" y="0" font-size="10" font-family="Liberation Serif, serif" font-style="italic">ω</text>
<text x="25.0" y="1.9" font-size="7.8" font-family="Liberation Serif, serif">0</text>
</g>
</g>
<g transform="translate(283.4,358.9) rotate(-31)">
<text x="0" y="3.8" font-size="11" text-anchor="middle" font-family="Liberation Sans, sans-serif" >s / nm</text>
</g>
<line x1="410.5" y1="331.9" x2="409.9" y2="232.3" stroke="#000" stroke-width="1.3" />
<line x1="409.9" y1="232.3" x2="497.7" y2="180.8" stroke="#000" stroke-width="1.3" />
<line x1="497.4" y1="280.8" x2="497.7" y2="180.8" stroke="#000" stroke-width="1.3" />
<line x1="497.7" y1="180.8" x2="634.2" y2="214.4" stroke="#000" stroke-width="1.3" />
<line x1="634" y1="313.3" x2="634.2" y2="214.4" stroke="#000" stroke-width="1.3" />
<line x1="410.5" y1="331.9" x2="497.4" y2="280.8" stroke="#000" stroke-width="1.3" />
<line x1="497.4" y1="280.8" x2="634" y2="313.3" stroke="#000" stroke-width="1.3" />
<line x1="410.5" y1="331.9" x2="546.5" y2="365.8" stroke="#000" stroke-width="1.3" />
<line x1="546.5" y1="365.8" x2="634" y2="313.3" stroke="#000" stroke-width="1.3" />
<line x1="441.23" y1="339.65" x2="434.23" y2="344.12" stroke="#000" stroke-width="1.3" />
<text x="414.3" y="356.13" font-size="10.7" text-anchor="middle" font-family="Liberation Sans, sans-serif" >0.995</text>
<line x1="492.1" y1="352.16" x2="485.1" y2="356.64" stroke="#000" stroke-width="1.3" />
<text x="465.6" y="368.63" font-size="10.7" text-anchor="middle" font-family="Liberation Sans, sans-serif" >1.000</text>
<line x1="543.04" y1="364.7" x2="536.04" y2="369.17" stroke="#000" stroke-width="1.3" />
<text x="516.1" y="380.83" font-size="10.7" text-anchor="middle" font-family="Liberation Sans, sans-serif" >1.005</text>
<line x1="550.44" y1="363.29" x2="558.12" y2="365.53" stroke="#000" stroke-width="1.3" />
<text x="571.7" y="375.06" font-size="10.5" text-anchor="middle" font-family="Liberation Sans, sans-serif" >60</text>
<line x1="563.87" y1="355.28" x2="571.55" y2="357.52" stroke="#000" stroke-width="1.3" />
<text x="585.2" y="367.66" font-size="10.5" text-anchor="middle" font-family="Liberation Sans, sans-serif" >70</text>
<line x1="577.28" y1="347.28" x2="584.96" y2="349.52" stroke="#000" stroke-width="1.3" />
<text x="598.2" y="359.56" font-size="10.5" text-anchor="middle" font-family="Liberation Sans, sans-serif" >80</text>
<line x1="590.68" y1="339.3" x2="598.36" y2="341.54" stroke="#000" stroke-width="1.3" />
<text x="611.3" y="351.86" font-size="10.5" text-anchor="middle" font-family="Liberation Sans, sans-serif" >90</text>
<line x1="604.06" y1="331.32" x2="611.74" y2="333.56" stroke="#000" stroke-width="1.3" />
<text x="627.9" y="343.96" font-size="10.5" text-anchor="middle" font-family="Liberation Sans, sans-serif" >100</text>
<line x1="617.42" y1="323.35" x2="625.1" y2="325.59" stroke="#000" stroke-width="1.3" />
<text x="641.2" y="336.16" font-size="10.5" text-anchor="middle" font-family="Liberation Sans, sans-serif" >110</text>
<line x1="630.77" y1="315.39" x2="638.45" y2="317.63" stroke="#000" stroke-width="1.3" />
<text x="654.5" y="328.86" font-size="10.5" text-anchor="middle" font-family="Liberation Sans, sans-serif" >120</text>
<g transform="translate(470.2,385.2) rotate(14)">
<g transform="translate(-14.4,2) scale(1.000)">
<text x="0" y="0" font-size="10" font-family="Liberation Serif, serif" font-style="italic">ω</text>
<text x="7.5" y="1.9" font-size="7.1" font-family="Liberation Serif, serif" font-style="italic">d</text>
<line x1="12.9" y1="2.9" x2="17.5" y2="-8.3" stroke="#000" stroke-width="0.85"/>
<text x="17.7" y="0" font-size="10" font-family="Liberation Serif, serif" font-style="italic">ω</text>
<text x="25.0" y="1.9" font-size="7.8" font-family="Liberation Serif, serif">0</text>
</g>
</g>
<g transform="translate(627.8,358.4) rotate(-31)">
<text x="0" y="3.8" font-size="11" text-anchor="middle" font-family="Liberation Sans, sans-serif" >s / nm</text>
</g>
<line x1="285.36" y1="210.7" x2="293.36" y2="212.6" stroke="#000" stroke-width="1.3" />
<text x="307.2" y="218.73" font-size="10.7" text-anchor="start" font-family="Liberation Sans, sans-serif" >0</text>
<line x1="285.19" y1="242.54" x2="293.19" y2="244.44" stroke="#000" stroke-width="1.3" />
<text x="307.2" y="251.93" font-size="10.7" text-anchor="start" font-family="Liberation Sans, sans-serif" >−1</text>
<line x1="285.02" y1="274.31" x2="293.02" y2="276.21" stroke="#000" stroke-width="1.3" />
<text x="307.2" y="283.13" font-size="10.7" text-anchor="start" font-family="Liberation Sans, sans-serif" >−2</text>
<line x1="284.85" y1="305.99" x2="292.85" y2="307.89" stroke="#000" stroke-width="1.3" />
<text x="307.2" y="313.33" font-size="10.7" text-anchor="start" font-family="Liberation Sans, sans-serif" >−3</text>
<g transform="translate(332.6,260.0) rotate(-90)">
<text x="-19.55" y="0.3" font-size="12.6" font-family="Liberation Serif, serif" font-style="italic">ϕ</text>
<text x="-11.95" y="2.2" font-size="8" font-family="Liberation Serif, serif">1</text>
<text x="-2.85" y="0" font-size="11" font-family="Liberation Sans, sans-serif">/</text>
<text x="5.15" y="0" font-size="11" font-family="Liberation Sans, sans-serif">rad</text>
</g>
<line x1="633.53" y1="314.04" x2="641.53" y2="315.94" stroke="#000" stroke-width="1.3" />
<text x="654.8" y="320.83" font-size="10.7" text-anchor="start" font-family="Liberation Sans, sans-serif" >0</text>
<line x1="633.76" y1="271.57" x2="641.76" y2="273.47" stroke="#000" stroke-width="1.3" />
<text x="654.8" y="278.63" font-size="10.7" text-anchor="start" font-family="Liberation Sans, sans-serif" >50</text>
<line x1="633.98" y1="228.96" x2="641.98" y2="230.86" stroke="#000" stroke-width="1.3" />
<text x="654.8" y="235.83" font-size="10.7" text-anchor="start" font-family="Liberation Sans, sans-serif" >100</text>
<g transform="translate(683.4,272) rotate(-90)">
<text x="-18.6" y="0" font-size="12.2" font-family="Liberation Serif, serif" font-style="italic">A</text>
<text x="-10.8" y="2.2" font-size="8" font-family="Liberation Serif, serif">1</text>
<text x="-2.9" y="0" font-size="11" font-family="Liberation Sans, sans-serif">/</text>
<text x="4.3" y="0" font-size="11" font-family="Liberation Sans, sans-serif">nm</text>
</g>
<path d="M152.4,187.6 154.5,188.4 156.6,189.2 158.7,190.0 160.8,190.8 162.8,191.6 164.8,192.4 166.9,193.2 168.8,194.0 170.8,194.7 172.9,195.5 174.9,196.3 177.0,197.1 178.9,197.9 180.8,198.6 182.6,199.3 184.1,200.0 185.6,200.7 186.9,201.3 188.2,201.9 189.5,202.5 190.6,203.1 191.8,203.6 192.8,204.2 193.8,204.7 194.8,205.2 195.6,205.7 196.5,206.2 197.3,206.7 198.0,207.2 198.8,207.7 199.5,208.1 200.1,208.6 200.8,209.0 201.4,209.5 201.9,209.9 202.4,210.3 202.9,210.7 203.4,211.1 203.8,211.5 204.2,211.9 204.6,212.3 205.0,212.7 205.4,213.1 205.8,213.4 206.2,213.8 206.5,214.2 206.9,214.6 207.2,214.9 207.5,215.3 207.9,215.7 208.2,216.1 208.5,216.4 208.8,216.8 209.1,217.1 209.3,217.5 209.6,217.9 209.9,218.2 210.2,218.6 210.4,218.9 210.7,219.3 210.9,219.6 211.2,220.0 211.4,220.3 211.7,220.7 211.9,221.0 212.1,221.4 212.4,221.7 212.6,222.1 212.8,222.4 213.1,222.8 213.3,223.1 213.5,223.5 213.7,223.8 213.9,224.1 214.1,224.5 214.3,224.8 214.5,225.2 214.7,225.5 214.9,225.8 215.1,226.2 215.3,226.5 215.5,226.8 215.7,227.2 215.8,227.5 216.0,227.9 216.2,228.2 216.4,228.5 216.5,228.9 216.7,229.2 216.9,229.5 217.1,229.8 217.2,230.2 217.4,230.5 217.6,230.8 217.7,231.2 217.9,231.5 218.0,231.8 218.2,232.2 218.4,232.5 218.5,232.8 218.7,233.2 218.9,233.5 219.0,233.8 219.2,234.1 219.3,234.5 219.5,234.8 219.7,235.1 219.8,235.5 220.0,235.8 220.1,236.1 220.3,236.4 220.5,236.8 220.6,237.1 220.8,237.4 220.9,237.8 221.1,238.1 221.2,238.4 221.4,238.7 221.5,239.1 221.7,239.4 221.8,239.7 222.0,240.0 222.1,240.4 222.3,240.7 222.4,241.0 222.5,241.4 222.7,241.7 222.8,242.0 223.0,242.3 223.1,242.7 223.2,243.0 223.4,243.3 223.5,243.6 223.7,243.9 223.8,244.3 223.9,244.6 224.1,244.9 224.2,245.2 224.3,245.6 224.5,245.9 224.6,246.2 224.7,246.5 224.9,246.9 225.0,247.2 225.1,247.5 225.3,247.8 225.4,248.1 225.5,248.5 225.7,248.8 225.8,249.1 225.9,249.4 226.0,249.8 226.2,250.1 226.3,250.4 226.4,250.7 226.5,251.0 226.7,251.4 226.8,251.7 226.9,252.0 227.0,252.3 227.1,252.6 227.3,253.0 227.4,253.3 227.5,253.6 227.6,253.9 227.7,254.2 227.9,254.5 228.0,254.9 228.1,255.2 228.2,255.5 228.3,255.8 228.4,256.1 228.6,256.5 228.7,256.8 228.8,257.1 228.9,257.4 229.0,257.7 229.1,258.0 229.2,258.4 229.4,258.7 229.5,259.0 229.6,259.3 229.7,259.6 229.8,260.0 229.9,260.3 230.0,260.6 230.1,260.9 230.3,261.2 230.4,261.5 230.5,261.9 230.6,262.2 230.7,262.5 230.8,262.8 230.9,263.1 231.0,263.4 231.1,263.7 231.2,264.1 231.3,264.4 231.4,264.7 231.5,265.0 231.7,265.3 231.8,265.7 231.9,266.0 232.0,266.3 232.2,266.6 232.3,266.9 232.4,267.3 232.6,267.6 232.7,267.9 232.8,268.2 232.9,268.5 233.1,268.9 233.2,269.2 233.3,269.5 233.5,269.8 233.6,270.2 233.8,270.5 233.9,270.8 234.0,271.1 234.2,271.5 234.3,271.8 234.5,272.1 234.6,272.4 234.8,272.8 235.0,273.1 235.1,273.4 235.3,273.8 235.5,274.1 235.6,274.4 235.8,274.7 236.0,275.1 236.2,275.4 236.4,275.8 236.6,276.1 236.7,276.4 236.9,276.8 237.2,277.1 237.4,277.4 237.6,277.8 237.8,278.1 238.0,278.5 238.2,278.8 238.5,279.2 238.7,279.5 239.0,279.9 239.3,280.2 239.6,280.6 239.9,281.0 240.2,281.3 240.5,281.7 240.9,282.1 241.2,282.4 241.6,282.8 242.0,283.2 242.4,283.6 242.8,284.0 243.2,284.4 243.6,284.8 244.0,285.1 244.4,285.5 244.9,285.9 245.3,286.3 245.8,286.7 246.2,287.1 246.7,287.5 247.2,288.0 247.7,288.4 248.2,288.8 248.7,289.2 249.2,289.6 249.7,290.0 250.3,290.4 250.8,290.9 251.4,291.3 252.0,291.7 252.7,292.2 253.3,292.6 253.9,293.1 254.6,293.5 255.3,294.0 256.0,294.5 256.7,294.9 257.5,295.4 258.2,295.9 259.0,296.4 259.9,296.9 260.9,297.4 261.9,297.9 262.9,298.4 263.8,299.0 264.8,299.5 265.8,300.0 266.7,300.5 267.7,301.1 268.6,301.6 269.6,302.1 270.5,302.6 271.5,303.2 272.4,303.7" fill="none" stroke="#000" stroke-width="1.9" stroke-linejoin="round" stroke-opacity="0.36"/>
<path d="M501.1,274.7 503.2,274.5 505.3,274.3 507.4,274.1 509.5,273.9 511.5,273.7 513.5,273.5 515.5,273.3 517.5,273.1 519.5,272.8 521.5,272.6 523.6,272.4 525.6,272.1 527.6,271.8 529.4,271.5 531.2,271.2 532.8,270.8 534.2,270.3 535.5,269.9 536.8,269.4 538.1,268.9 539.3,268.3 540.4,267.8 541.4,267.2 542.4,266.6 543.4,266.0 544.2,265.4 545.1,264.8 545.9,264.1 546.6,263.4 547.4,262.7 548.1,262.0 548.7,261.2 549.4,260.4 550.0,259.6 550.5,258.8 551.1,257.9 551.5,256.9 552.0,256.0 552.4,255.1 552.9,254.2 553.3,253.2 553.7,252.4 554.1,251.5 554.4,250.7 554.8,249.9 555.2,249.2 555.5,248.6 555.8,247.9 556.2,247.3 556.5,246.7 556.8,246.1 557.1,245.5 557.4,244.9 557.7,244.3 558.0,243.8 558.3,243.2 558.5,242.6 558.8,242.1 559.1,241.5 559.3,241.0 559.6,240.4 559.8,239.9 560.1,239.3 560.3,238.8 560.6,238.2 560.8,237.7 561.1,237.1 561.3,236.5 561.5,235.9 561.7,235.3 562.0,234.7 562.2,234.1 562.4,233.4 562.6,232.6 562.8,231.7 563.0,230.8 563.2,229.9 563.4,229.0 563.6,228.1 563.8,227.1 564.0,226.2 564.2,225.3 564.4,224.5 564.6,223.7 564.7,223.0 564.9,222.3 565.1,221.8 565.3,221.3 565.4,220.7 565.6,220.2 565.8,219.7 566.0,219.2 566.1,218.8 566.3,218.3 566.5,217.8 566.6,217.4 566.8,217.0 567.0,216.5 567.1,216.1 567.3,215.7 567.5,215.4 567.6,215.0 567.8,214.6 567.9,214.3 568.1,214.0 568.3,213.7 568.4,213.4 568.6,213.1 568.8,212.9 568.9,212.6 569.1,212.4 569.2,212.1 569.4,211.9 569.5,211.7 569.7,211.4 569.8,211.2 570.0,211.0 570.2,210.8 570.3,210.6 570.5,210.5 570.6,210.3 570.8,210.1 570.9,209.9 571.0,209.8 571.2,209.6 571.3,209.5 571.5,209.4 571.6,209.3 571.8,209.1 571.9,209.0 572.1,208.9 572.2,208.8 572.3,208.7 572.5,208.7 572.6,208.6 572.8,208.5 572.9,208.5 573.0,208.4 573.2,208.4 573.3,208.4 573.4,208.3 573.6,208.3 573.7,208.3 573.8,208.3 574.0,208.3 574.1,208.3 574.2,208.3 574.4,208.4 574.5,208.4 574.6,208.4 574.7,208.5 574.9,208.6 575.0,208.6 575.1,208.7 575.2,208.8 575.4,208.9 575.5,209.0 575.6,209.1 575.7,209.2 575.9,209.3 576.0,209.4 576.1,209.6 576.2,209.7 576.3,209.9 576.5,210.0 576.6,210.2 576.7,210.4 576.8,210.5 576.9,210.7 577.1,210.9 577.2,211.1 577.3,211.3 577.4,211.6 577.5,211.8 577.6,212.0 577.7,212.3 577.9,212.5 578.0,212.8 578.1,213.0 578.2,213.3 578.3,213.6 578.4,213.9 578.5,214.2 578.7,214.5 578.8,214.8 578.9,215.1 579.0,215.4 579.1,215.7 579.2,216.1 579.3,216.4 579.4,216.8 579.5,217.2 579.6,217.6 579.7,218.0 579.8,218.4 579.9,218.8 580.1,219.3 580.2,219.8 580.3,220.3 580.4,220.8 580.5,221.3 580.6,221.8 580.8,222.4 580.9,222.9 581.0,223.5 581.1,224.1 581.3,224.7 581.4,225.3 581.5,225.9 581.7,226.5 581.8,227.2 581.9,228.0 582.0,228.8 582.2,229.7 582.3,230.6 582.5,231.5 582.6,232.5 582.7,233.4 582.9,234.4 583.0,235.3 583.2,236.2 583.3,237.1 583.5,237.9 583.6,238.7 583.8,239.5 583.9,240.2 584.1,240.9 584.3,241.6 584.5,242.3 584.6,243.0 584.8,243.7 585.0,244.4 585.2,245.1 585.4,245.8 585.6,246.5 585.8,247.1 586.0,247.8 586.2,248.5 586.4,249.2 586.6,250.0 586.8,250.7 587.1,251.4 587.3,252.1 587.5,252.9 587.8,253.6 588.1,254.4 588.4,255.2 588.7,256.0 589.0,256.9 589.3,257.7 589.7,258.6 590.0,259.5 590.4,260.5 590.8,261.5 591.1,262.5 591.5,263.5 591.9,264.5 592.4,265.6 592.8,266.6 593.2,267.7 593.7,268.7 594.1,269.8 594.6,270.8 595.0,271.8 595.5,272.8 596.0,273.8 596.4,274.8 596.9,275.7 597.4,276.7 597.9,277.7 598.5,278.7 599.0,279.7 599.6,280.6 600.2,281.6 600.8,282.6 601.4,283.5 602.0,284.5 602.7,285.4 603.4,286.4 604.0,287.3 604.8,288.3 605.5,289.2 606.2,290.1 607.0,291.0 607.8,291.9 608.7,292.8 609.6,293.8 610.6,294.7 611.6,295.6 612.6,296.6 613.5,297.5 614.5,298.4 615.4,299.3 616.4,300.2 617.3,301.2 618.3,302.1 619.2,303.0 620.2,303.9 621.2,304.8" fill="none" stroke="#000" stroke-width="1.9" stroke-linejoin="round" stroke-opacity="0.36"/>
<g fill-opacity="0.42"><circle cx="152.4" cy="187.6" r="1.15"/><circle cx="162.7" cy="191.6" r="1.15"/><circle cx="172.6" cy="195.4" r="1.15"/><circle cx="182.2" cy="199.2" r="1.15"/><circle cx="189.1" cy="202.3" r="1.15"/><circle cx="194.4" cy="205.0" r="1.15"/><circle cx="198.4" cy="207.5" r="1.15"/><circle cx="201.6" cy="209.7" r="1.15"/><circle cx="204.0" cy="211.7" r="1.15"/><circle cx="205.9" cy="213.6" r="1.15"/><circle cx="207.6" cy="215.4" r="1.15"/><circle cx="209.1" cy="217.2" r="1.15"/><circle cx="210.5" cy="219.0" r="1.15"/><circle cx="211.7" cy="220.7" r="1.15"/><circle cx="212.8" cy="222.4" r="1.15"/><circle cx="213.9" cy="224.1" r="1.15"/><circle cx="214.9" cy="225.8" r="1.15"/><circle cx="215.8" cy="227.4" r="1.15"/><circle cx="216.7" cy="229.1" r="1.15"/><circle cx="217.5" cy="230.7" r="1.15"/><circle cx="218.3" cy="232.4" r="1.15"/><circle cx="219.1" cy="234.0" r="1.15"/><circle cx="219.9" cy="235.6" r="1.15"/><circle cx="220.7" cy="237.2" r="1.15"/><circle cx="221.4" cy="238.8" r="1.15"/><circle cx="222.1" cy="240.4" r="1.15"/><circle cx="222.8" cy="242.0" r="1.15"/><circle cx="223.5" cy="243.6" r="1.15"/><circle cx="224.2" cy="245.2" r="1.15"/><circle cx="224.9" cy="246.8" r="1.15"/><circle cx="225.5" cy="248.4" r="1.15"/><circle cx="226.1" cy="250.0" r="1.15"/><circle cx="226.7" cy="251.6" r="1.15"/><circle cx="227.3" cy="253.2" r="1.15"/><circle cx="227.9" cy="254.7" r="1.15"/><circle cx="228.5" cy="256.3" r="1.15"/><circle cx="229.1" cy="257.9" r="1.15"/><circle cx="229.6" cy="259.4" r="1.15"/><circle cx="230.2" cy="261.0" r="1.15"/><circle cx="230.7" cy="262.6" r="1.15"/><circle cx="231.2" cy="264.1" r="1.15"/><circle cx="231.8" cy="265.7" r="1.15"/><circle cx="232.4" cy="267.3" r="1.15"/><circle cx="233.1" cy="268.8" r="1.15"/><circle cx="233.7" cy="270.4" r="1.15"/><circle cx="234.5" cy="272.0" r="1.15"/><circle cx="235.2" cy="273.7" r="1.15"/><circle cx="236.1" cy="275.3" r="1.15"/><circle cx="237.1" cy="277.0" r="1.15"/><circle cx="238.1" cy="278.6" r="1.15"/><circle cx="239.4" cy="280.4" r="1.15"/><circle cx="241.0" cy="282.2" r="1.15"/><circle cx="242.9" cy="284.1" r="1.15"/><circle cx="245.0" cy="286.0" r="1.15"/><circle cx="247.3" cy="288.0" r="1.15"/><circle cx="249.8" cy="290.1" r="1.15"/><circle cx="252.7" cy="292.2" r="1.15"/><circle cx="256.0" cy="294.4" r="1.15"/><circle cx="259.8" cy="296.8" r="1.15"/><circle cx="264.6" cy="299.4" r="1.15"/><circle cx="269.3" cy="302.0" r="1.15"/></g>
<g fill-opacity="0.42"><circle cx="501.1" cy="274.7" r="1.15"/><circle cx="511.4" cy="273.8" r="1.15"/><circle cx="521.3" cy="272.6" r="1.15"/><circle cx="530.8" cy="271.3" r="1.15"/><circle cx="537.7" cy="269.0" r="1.15"/><circle cx="543.0" cy="266.3" r="1.15"/><circle cx="547.1" cy="263.0" r="1.15"/><circle cx="550.3" cy="259.2" r="1.15"/><circle cx="552.6" cy="254.7" r="1.15"/><circle cx="554.6" cy="250.4" r="1.15"/><circle cx="556.3" cy="247.1" r="1.15"/><circle cx="557.8" cy="244.2" r="1.15"/><circle cx="559.1" cy="241.5" r="1.15"/><circle cx="560.4" cy="238.7" r="1.15"/><circle cx="561.5" cy="235.9" r="1.15"/><circle cx="562.6" cy="232.6" r="1.15"/><circle cx="563.6" cy="228.2" r="1.15"/><circle cx="564.5" cy="223.9" r="1.15"/><circle cx="565.4" cy="220.9" r="1.15"/><circle cx="566.2" cy="218.5" r="1.15"/><circle cx="567.1" cy="216.3" r="1.15"/><circle cx="567.9" cy="214.5" r="1.15"/><circle cx="568.7" cy="213.0" r="1.15"/><circle cx="569.4" cy="211.8" r="1.15"/><circle cx="570.2" cy="210.8" r="1.15"/><circle cx="570.9" cy="209.9" r="1.15"/><circle cx="571.6" cy="209.2" r="1.15"/><circle cx="572.3" cy="208.7" r="1.15"/><circle cx="573.0" cy="208.4" r="1.15"/><circle cx="573.7" cy="208.3" r="1.15"/><circle cx="574.3" cy="208.4" r="1.15"/><circle cx="575.0" cy="208.6" r="1.15"/><circle cx="575.6" cy="209.0" r="1.15"/><circle cx="576.2" cy="209.7" r="1.15"/><circle cx="576.8" cy="210.5" r="1.15"/><circle cx="577.3" cy="211.4" r="1.15"/><circle cx="577.9" cy="212.6" r="1.15"/><circle cx="578.5" cy="214.0" r="1.15"/><circle cx="579.0" cy="215.5" r="1.15"/><circle cx="579.6" cy="217.2" r="1.15"/><circle cx="580.1" cy="219.4" r="1.15"/><circle cx="580.7" cy="221.9" r="1.15"/><circle cx="581.3" cy="224.7" r="1.15"/><circle cx="581.9" cy="227.9" r="1.15"/><circle cx="582.6" cy="232.3" r="1.15"/><circle cx="583.3" cy="236.9" r="1.15"/><circle cx="584.1" cy="240.7" r="1.15"/><circle cx="584.9" cy="244.2" r="1.15"/><circle cx="585.9" cy="247.5" r="1.15"/><circle cx="586.9" cy="251.0" r="1.15"/><circle cx="588.2" cy="254.8" r="1.15"/><circle cx="589.8" cy="258.9" r="1.15"/><circle cx="591.7" cy="263.8" r="1.15"/><circle cx="593.8" cy="269.0" r="1.15"/><circle cx="596.0" cy="273.9" r="1.15"/><circle cx="598.5" cy="278.8" r="1.15"/><circle cx="601.4" cy="283.5" r="1.15"/><circle cx="604.7" cy="288.2" r="1.15"/><circle cx="608.5" cy="292.7" r="1.15"/><circle cx="613.3" cy="297.3" r="1.15"/><circle cx="618.0" cy="301.8" r="1.15"/></g>
<path d="M148.2,190.1 150.3,190.9 152.4,191.7 154.5,192.5 156.5,193.3 158.6,194.1 160.6,194.9 162.6,195.7 164.6,196.4 166.6,197.2 168.6,198.0 170.7,198.8 172.7,199.6 174.7,200.4 176.5,201.1 178.3,201.8 179.9,202.5 181.3,203.1 182.7,203.8 184.0,204.4 185.2,205.0 186.4,205.5 187.5,206.1 188.5,206.7 189.5,207.2 190.5,207.7 191.4,208.2 192.2,208.7 193.0,209.2 193.8,209.7 194.5,210.1 195.2,210.6 195.9,211.1 196.5,211.5 197.1,211.9 197.7,212.4 198.2,212.8 198.7,213.2 199.1,213.6 199.5,214.0 200.0,214.4 200.4,214.8 200.8,215.2 201.2,215.6 201.5,215.9 201.9,216.3 202.3,216.7 202.6,217.1 202.9,217.4 203.3,217.8 203.6,218.2 203.9,218.5 204.2,218.9 204.5,219.3 204.8,219.6 205.1,220.0 205.4,220.4 205.6,220.7 205.9,221.1 206.2,221.4 206.4,221.8 206.7,222.1 206.9,222.5 207.2,222.8 207.4,223.2 207.6,223.5 207.9,223.9 208.1,224.2 208.3,224.6 208.6,224.9 208.8,225.3 209.0,225.6 209.2,226.0 209.4,226.3 209.6,226.6 209.8,227.0 210.0,227.3 210.2,227.7 210.4,228.0 210.6,228.3 210.8,228.7 211.0,229.0 211.2,229.3 211.4,229.7 211.5,230.0 211.7,230.3 211.9,230.7 212.1,231.0 212.2,231.3 212.4,231.7 212.6,232.0 212.7,232.3 212.9,232.7 213.1,233.0 213.2,233.3 213.4,233.7 213.6,234.0 213.7,234.3 213.9,234.6 214.0,235.0 214.2,235.3 214.4,235.6 214.5,236.0 214.7,236.3 214.8,236.6 215.0,236.9 215.2,237.3 215.3,237.6 215.5,237.9 215.6,238.3 215.8,238.6 215.9,238.9 216.1,239.2 216.2,239.6 216.4,239.9 216.5,240.2 216.7,240.6 216.8,240.9 217.0,241.2 217.1,241.5 217.3,241.9 217.4,242.2 217.6,242.5 217.7,242.8 217.9,243.2 218.0,243.5 218.1,243.8 218.3,244.1 218.4,244.5 218.6,244.8 218.7,245.1 218.8,245.4 219.0,245.8 219.1,246.1 219.3,246.4 219.4,246.7 219.5,247.1 219.7,247.4 219.8,247.7 219.9,248.0 220.1,248.3 220.2,248.7 220.3,249.0 220.5,249.3 220.6,249.6 220.7,250.0 220.9,250.3 221.0,250.6 221.1,250.9 221.3,251.2 221.4,251.6 221.5,251.9 221.6,252.2 221.8,252.5 221.9,252.9 222.0,253.2 222.1,253.5 222.3,253.8 222.4,254.1 222.5,254.5 222.6,254.8 222.8,255.1 222.9,255.4 223.0,255.7 223.1,256.1 223.2,256.4 223.4,256.7 223.5,257.0 223.6,257.3 223.7,257.7 223.8,258.0 223.9,258.3 224.1,258.6 224.2,258.9 224.3,259.2 224.4,259.6 224.5,259.9 224.6,260.2 224.8,260.5 224.9,260.8 225.0,261.2 225.1,261.5 225.2,261.8 225.3,262.1 225.5,262.4 225.6,262.7 225.7,263.1 225.8,263.4 225.9,263.7 226.0,264.0 226.1,264.3 226.3,264.7 226.4,265.0 226.5,265.3 226.6,265.6 226.7,265.9 226.8,266.2 226.9,266.5 227.0,266.9 227.1,267.2 227.2,267.5 227.4,267.8 227.5,268.1 227.6,268.5 227.8,268.8 227.9,269.1 228.0,269.4 228.1,269.8 228.3,270.1 228.4,270.4 228.5,270.7 228.7,271.0 228.8,271.4 228.9,271.7 229.1,272.0 229.2,272.3 229.4,272.7 229.5,273.0 229.7,273.3 229.8,273.6 230.0,274.0 230.1,274.3 230.3,274.6 230.4,274.9 230.6,275.3 230.7,275.6 230.9,275.9 231.1,276.3 231.2,276.6 231.4,276.9 231.6,277.3 231.8,277.6 232.0,277.9 232.1,278.3 232.3,278.6 232.5,278.9 232.7,279.3 232.9,279.6 233.2,280.0 233.4,280.3 233.6,280.6 233.8,281.0 234.0,281.3 234.3,281.7 234.5,282.0 234.8,282.4 235.1,282.7 235.4,283.1 235.7,283.5 236.0,283.8 236.3,284.2 236.7,284.6 237.0,285.0 237.4,285.3 237.8,285.7 238.2,286.1 238.6,286.5 239.0,286.9 239.4,287.3 239.8,287.7 240.2,288.1 240.7,288.5 241.1,288.9 241.6,289.3 242.0,289.7 242.5,290.1 243.0,290.5 243.5,290.9 244.0,291.3 244.5,291.7 245.0,292.1 245.5,292.5 246.1,293.0 246.6,293.4 247.2,293.8 247.8,294.3 248.4,294.7 249.1,295.1 249.7,295.6 250.4,296.0 251.1,296.5 251.8,297.0 252.5,297.4 253.3,297.9 254.0,298.4 254.8,298.9 255.7,299.4 256.7,299.9 257.6,300.4 258.6,301.0 259.6,301.5 260.6,302.0 261.5,302.5 262.5,303.1 263.4,303.6 264.4,304.1 265.4,304.6 266.3,305.2 267.3,305.7 268.2,306.2" fill="none" stroke="#000" stroke-width="1.9" stroke-linejoin="round" stroke-opacity="0.36"/>
<path d="M496.9,277.4 499.0,277.2 501.1,277.0 503.2,276.9 505.2,276.7 507.3,276.5 509.3,276.3 511.3,276.1 513.2,275.9 515.3,275.6 517.3,275.4 519.3,275.2 521.4,275.0 523.3,274.7 525.2,274.4 526.9,274.1 528.5,273.7 529.9,273.3 531.3,272.8 532.6,272.3 533.8,271.8 535.0,271.3 536.1,270.8 537.2,270.2 538.2,269.7 539.1,269.1 540.0,268.5 540.8,267.8 541.6,267.2 542.4,266.5 543.1,265.8 543.8,265.1 544.5,264.4 545.1,263.6 545.7,262.8 546.3,262.0 546.8,261.1 547.3,260.2 547.7,259.3 548.2,258.4 548.6,257.5 549.0,256.6 549.4,255.7 549.8,254.9 550.2,254.1 550.5,253.3 550.9,252.6 551.2,252.0 551.6,251.3 551.9,250.7 552.2,250.1 552.5,249.5 552.9,248.9 553.2,248.4 553.4,247.8 553.7,247.2 554.0,246.7 554.3,246.1 554.6,245.5 554.8,245.0 555.1,244.5 555.3,243.9 555.6,243.4 555.8,242.8 556.1,242.3 556.3,241.8 556.5,241.2 556.8,240.7 557.0,240.1 557.2,239.5 557.5,238.9 557.7,238.3 557.9,237.7 558.1,237.0 558.3,236.2 558.5,235.4 558.7,234.5 558.9,233.6 559.1,232.7 559.3,231.8 559.5,230.9 559.7,230.0 559.9,229.1 560.1,228.3 560.3,227.5 560.4,226.8 560.6,226.2 560.8,225.7 561.0,225.2 561.1,224.6 561.3,224.1 561.5,223.7 561.6,223.2 561.8,222.7 562.0,222.2 562.1,221.8 562.3,221.4 562.5,220.9 562.6,220.5 562.8,220.1 562.9,219.7 563.1,219.4 563.3,219.0 563.4,218.7 563.6,218.3 563.8,218.0 563.9,217.7 564.1,217.5 564.2,217.2 564.4,216.9 564.5,216.7 564.7,216.4 564.9,216.2 565.0,216.0 565.2,215.7 565.3,215.5 565.5,215.3 565.6,215.1 565.8,214.9 565.9,214.7 566.1,214.6 566.2,214.4 566.4,214.2 566.5,214.1 566.6,213.9 566.8,213.8 566.9,213.6 567.1,213.5 567.2,213.4 567.4,213.3 567.5,213.2 567.6,213.1 567.8,213.0 567.9,212.9 568.1,212.8 568.2,212.7 568.3,212.7 568.5,212.6 568.6,212.6 568.7,212.5 568.9,212.5 569.0,212.5 569.1,212.5 569.3,212.5 569.4,212.5 569.5,212.5 569.7,212.5 569.8,212.5 569.9,212.5 570.1,212.6 570.2,212.6 570.3,212.7 570.5,212.7 570.6,212.8 570.7,212.9 570.8,212.9 571.0,213.0 571.1,213.1 571.2,213.2 571.3,213.3 571.5,213.5 571.6,213.6 571.7,213.7 571.8,213.9 571.9,214.0 572.1,214.2 572.2,214.3 572.3,214.5 572.4,214.7 572.5,214.9 572.7,215.0 572.8,215.3 572.9,215.5 573.0,215.7 573.1,215.9 573.2,216.1 573.4,216.4 573.5,216.6 573.6,216.9 573.7,217.1 573.8,217.4 573.9,217.7 574.1,217.9 574.2,218.2 574.3,218.5 574.4,218.8 574.5,219.1 574.6,219.5 574.8,219.8 574.9,220.1 575.0,220.5 575.1,220.8 575.2,221.2 575.3,221.6 575.4,222.0 575.5,222.4 575.6,222.9 575.7,223.3 575.8,223.8 576.0,224.3 576.1,224.8 576.2,225.3 576.3,225.8 576.5,226.3 576.6,226.9 576.7,227.4 576.9,228.0 577.0,228.6 577.1,229.2 577.2,229.8 577.4,230.4 577.5,231.1 577.6,231.9 577.8,232.7 577.9,233.5 578.0,234.4 578.2,235.3 578.3,236.2 578.5,237.2 578.6,238.1 578.8,239.0 578.9,239.9 579.1,240.8 579.2,241.6 579.4,242.4 579.5,243.1 579.7,243.8 579.9,244.5 580.0,245.2 580.2,245.9 580.4,246.6 580.6,247.3 580.8,248.0 581.0,248.6 581.1,249.3 581.3,250.0 581.5,250.7 581.7,251.4 582.0,252.0 582.2,252.7 582.4,253.4 582.6,254.1 582.8,254.9 583.1,255.6 583.3,256.3 583.6,257.1 583.9,257.8 584.2,258.6 584.5,259.4 584.8,260.2 585.1,261.1 585.5,261.9 585.8,262.8 586.2,263.8 586.5,264.8 586.9,265.7 587.3,266.8 587.7,267.8 588.2,268.8 588.6,269.9 589.0,270.9 589.5,271.9 589.9,272.9 590.4,273.9 590.8,274.9 591.3,275.9 591.7,276.9 592.2,277.8 592.7,278.8 593.2,279.8 593.7,280.7 594.3,281.7 594.8,282.7 595.4,283.6 596.0,284.6 596.6,285.5 597.2,286.5 597.8,287.4 598.5,288.4 599.2,289.3 599.8,290.2 600.5,291.1 601.3,292.0 602.0,292.9 602.8,293.8 603.6,294.7 604.5,295.6 605.4,296.6 606.4,297.5 607.4,298.4 608.4,299.3 609.3,300.2 610.3,301.1 611.2,302.1 612.2,303.0 613.1,303.9 614.1,304.8 615.0,305.7 616.0,306.6 616.9,307.5" fill="none" stroke="#000" stroke-width="1.9" stroke-linejoin="round" stroke-opacity="0.36"/>
<g fill-opacity="0.42"><circle cx="148.2" cy="190.1" r="1.15"/><circle cx="158.4" cy="194.1" r="1.15"/><circle cx="168.3" cy="197.9" r="1.15"/><circle cx="177.9" cy="201.7" r="1.15"/><circle cx="184.8" cy="204.8" r="1.15"/><circle cx="190.2" cy="207.5" r="1.15"/><circle cx="194.2" cy="209.9" r="1.15"/><circle cx="197.4" cy="212.2" r="1.15"/><circle cx="199.7" cy="214.2" r="1.15"/><circle cx="201.7" cy="216.1" r="1.15"/><circle cx="203.4" cy="217.9" r="1.15"/><circle cx="204.9" cy="219.7" r="1.15"/><circle cx="206.2" cy="221.5" r="1.15"/><circle cx="207.4" cy="223.2" r="1.15"/><circle cx="208.6" cy="224.9" r="1.15"/><circle cx="209.6" cy="226.6" r="1.15"/><circle cx="210.6" cy="228.3" r="1.15"/><circle cx="211.5" cy="229.9" r="1.15"/><circle cx="212.4" cy="231.6" r="1.15"/><circle cx="213.2" cy="233.2" r="1.15"/><circle cx="214.0" cy="234.8" r="1.15"/><circle cx="214.8" cy="236.5" r="1.15"/><circle cx="215.5" cy="238.1" r="1.15"/><circle cx="216.3" cy="239.7" r="1.15"/><circle cx="217.0" cy="241.3" r="1.15"/><circle cx="217.7" cy="242.9" r="1.15"/><circle cx="218.4" cy="244.5" r="1.15"/><circle cx="219.1" cy="246.1" r="1.15"/><circle cx="219.8" cy="247.7" r="1.15"/><circle cx="220.5" cy="249.3" r="1.15"/><circle cx="221.1" cy="250.9" r="1.15"/><circle cx="221.7" cy="252.5" r="1.15"/><circle cx="222.4" cy="254.0" r="1.15"/><circle cx="223.0" cy="255.6" r="1.15"/><circle cx="223.5" cy="257.2" r="1.15"/><circle cx="224.1" cy="258.8" r="1.15"/><circle cx="224.7" cy="260.3" r="1.15"/><circle cx="225.3" cy="261.9" r="1.15"/><circle cx="225.8" cy="263.5" r="1.15"/><circle cx="226.4" cy="265.0" r="1.15"/><circle cx="226.9" cy="266.6" r="1.15"/><circle cx="227.5" cy="268.2" r="1.15"/><circle cx="228.1" cy="269.8" r="1.15"/><circle cx="228.8" cy="271.3" r="1.15"/><circle cx="229.5" cy="272.9" r="1.15"/><circle cx="230.2" cy="274.5" r="1.15"/><circle cx="231.0" cy="276.2" r="1.15"/><circle cx="231.9" cy="277.8" r="1.15"/><circle cx="232.9" cy="279.5" r="1.15"/><circle cx="233.9" cy="281.2" r="1.15"/><circle cx="235.2" cy="282.9" r="1.15"/><circle cx="236.8" cy="284.7" r="1.15"/><circle cx="238.7" cy="286.6" r="1.15"/><circle cx="240.8" cy="288.5" r="1.15"/><circle cx="243.1" cy="290.5" r="1.15"/><circle cx="245.6" cy="292.6" r="1.15"/><circle cx="248.4" cy="294.7" r="1.15"/><circle cx="251.8" cy="296.9" r="1.15"/><circle cx="255.6" cy="299.3" r="1.15"/><circle cx="260.4" cy="301.9" r="1.15"/><circle cx="265.1" cy="304.5" r="1.15"/></g>
<g fill-opacity="0.42"><circle cx="496.9" cy="277.4" r="1.15"/><circle cx="507.1" cy="276.5" r="1.15"/><circle cx="517.0" cy="275.4" r="1.15"/><circle cx="526.6" cy="274.1" r="1.15"/><circle cx="533.5" cy="272.0" r="1.15"/><circle cx="538.8" cy="269.3" r="1.15"/><circle cx="542.8" cy="266.1" r="1.15"/><circle cx="546.0" cy="262.4" r="1.15"/><circle cx="548.4" cy="258.0" r="1.15"/><circle cx="550.3" cy="253.8" r="1.15"/><circle cx="552.0" cy="250.6" r="1.15"/><circle cx="553.5" cy="247.7" r="1.15"/><circle cx="554.9" cy="244.9" r="1.15"/><circle cx="556.1" cy="242.3" r="1.15"/><circle cx="557.2" cy="239.5" r="1.15"/><circle cx="558.3" cy="236.3" r="1.15"/><circle cx="559.3" cy="231.9" r="1.15"/><circle cx="560.2" cy="227.7" r="1.15"/><circle cx="561.1" cy="224.8" r="1.15"/><circle cx="561.9" cy="222.4" r="1.15"/><circle cx="562.7" cy="220.3" r="1.15"/><circle cx="563.5" cy="218.5" r="1.15"/><circle cx="564.3" cy="217.1" r="1.15"/><circle cx="565.1" cy="215.9" r="1.15"/><circle cx="565.8" cy="214.9" r="1.15"/><circle cx="566.5" cy="214.0" r="1.15"/><circle cx="567.2" cy="213.4" r="1.15"/><circle cx="567.9" cy="212.9" r="1.15"/><circle cx="568.6" cy="212.6" r="1.15"/><circle cx="569.3" cy="212.5" r="1.15"/><circle cx="569.9" cy="212.5" r="1.15"/><circle cx="570.6" cy="212.8" r="1.15"/><circle cx="571.2" cy="213.2" r="1.15"/><circle cx="571.8" cy="213.8" r="1.15"/><circle cx="572.4" cy="214.6" r="1.15"/><circle cx="573.0" cy="215.6" r="1.15"/><circle cx="573.5" cy="216.7" r="1.15"/><circle cx="574.1" cy="218.1" r="1.15"/><circle cx="574.7" cy="219.6" r="1.15"/><circle cx="575.2" cy="221.3" r="1.15"/><circle cx="575.7" cy="223.4" r="1.15"/><circle cx="576.3" cy="225.8" r="1.15"/><circle cx="577.0" cy="228.6" r="1.15"/><circle cx="577.6" cy="231.8" r="1.15"/><circle cx="578.3" cy="236.1" r="1.15"/><circle cx="579.0" cy="240.6" r="1.15"/><circle cx="579.8" cy="244.3" r="1.15"/><circle cx="580.7" cy="247.7" r="1.15"/><circle cx="581.7" cy="251.1" r="1.15"/><circle cx="582.7" cy="254.5" r="1.15"/><circle cx="584.0" cy="258.2" r="1.15"/><circle cx="585.6" cy="262.3" r="1.15"/><circle cx="587.4" cy="267.1" r="1.15"/><circle cx="589.5" cy="272.1" r="1.15"/><circle cx="591.8" cy="277.0" r="1.15"/><circle cx="594.3" cy="281.8" r="1.15"/><circle cx="597.2" cy="286.5" r="1.15"/><circle cx="600.5" cy="291.1" r="1.15"/><circle cx="604.3" cy="295.5" r="1.15"/><circle cx="609.1" cy="300.0" r="1.15"/><circle cx="613.8" cy="304.6" r="1.15"/></g>
<path d="M143.9,192.6 146.0,193.4 148.1,194.2 150.2,195.0 152.3,195.8 154.3,196.6 156.3,197.4 158.3,198.2 160.3,198.9 162.3,199.7 164.4,200.5 166.4,201.3 168.4,202.1 170.4,202.9 172.3,203.6 174.0,204.3 175.6,205.0 177.0,205.6 178.4,206.3 179.7,206.9 180.9,207.5 182.1,208.0 183.2,208.6 184.3,209.1 185.3,209.7 186.2,210.2 187.1,210.7 187.9,211.2 188.7,211.7 189.5,212.2 190.2,212.6 190.9,213.1 191.6,213.6 192.2,214.0 192.8,214.4 193.4,214.9 193.9,215.3 194.4,215.7 194.8,216.1 195.3,216.5 195.7,216.9 196.1,217.3 196.5,217.7 196.9,218.0 197.3,218.4 197.6,218.8 198.0,219.2 198.3,219.6 198.7,219.9 199.0,220.3 199.3,220.7 199.6,221.0 199.9,221.4 200.2,221.8 200.5,222.1 200.8,222.5 201.1,222.9 201.4,223.2 201.6,223.6 201.9,223.9 202.1,224.3 202.4,224.6 202.6,225.0 202.9,225.3 203.1,225.7 203.4,226.0 203.6,226.4 203.8,226.7 204.1,227.1 204.3,227.4 204.5,227.8 204.7,228.1 204.9,228.4 205.1,228.8 205.3,229.1 205.5,229.5 205.7,229.8 205.9,230.1 206.1,230.5 206.3,230.8 206.5,231.1 206.7,231.5 206.9,231.8 207.0,232.2 207.2,232.5 207.4,232.8 207.6,233.1 207.7,233.5 207.9,233.8 208.1,234.1 208.2,234.5 208.4,234.8 208.5,235.1 208.7,235.5 208.9,235.8 209.0,236.1 209.2,236.5 209.3,236.8 209.5,237.1 209.7,237.4 209.8,237.8 210.0,238.1 210.1,238.4 210.3,238.8 210.4,239.1 210.6,239.4 210.7,239.7 210.9,240.1 211.1,240.4 211.2,240.7 211.4,241.0 211.5,241.4 211.7,241.7 211.8,242.0 212.0,242.4 212.1,242.7 212.2,243.0 212.4,243.3 212.5,243.7 212.7,244.0 212.8,244.3 213.0,244.6 213.1,245.0 213.2,245.3 213.4,245.6 213.5,245.9 213.7,246.3 213.8,246.6 213.9,246.9 214.1,247.2 214.2,247.6 214.4,247.9 214.5,248.2 214.6,248.5 214.8,248.9 214.9,249.2 215.0,249.5 215.2,249.8 215.3,250.1 215.4,250.5 215.6,250.8 215.7,251.1 215.8,251.4 216.0,251.8 216.1,252.1 216.2,252.4 216.4,252.7 216.5,253.0 216.6,253.4 216.8,253.7 216.9,254.0 217.0,254.3 217.2,254.7 217.3,255.0 217.4,255.3 217.5,255.6 217.7,255.9 217.8,256.3 217.9,256.6 218.0,256.9 218.2,257.2 218.3,257.5 218.4,257.9 218.5,258.2 218.7,258.5 218.8,258.8 218.9,259.1 219.0,259.5 219.1,259.8 219.3,260.1 219.4,260.4 219.5,260.7 219.6,261.1 219.7,261.4 219.9,261.7 220.0,262.0 220.1,262.3 220.2,262.7 220.3,263.0 220.5,263.3 220.6,263.6 220.7,263.9 220.8,264.3 220.9,264.6 221.1,264.9 221.2,265.2 221.3,265.5 221.4,265.8 221.5,266.2 221.7,266.5 221.8,266.8 221.9,267.1 222.0,267.4 222.1,267.8 222.2,268.1 222.3,268.4 222.4,268.7 222.6,269.0 222.7,269.3 222.8,269.7 222.9,270.0 223.0,270.3 223.2,270.6 223.3,270.9 223.4,271.3 223.6,271.6 223.7,271.9 223.8,272.2 224.0,272.6 224.1,272.9 224.3,273.2 224.4,273.5 224.5,273.9 224.7,274.2 224.8,274.5 225.0,274.8 225.1,275.2 225.2,275.5 225.4,275.8 225.5,276.1 225.7,276.5 225.9,276.8 226.0,277.1 226.2,277.4 226.3,277.8 226.5,278.1 226.7,278.4 226.8,278.8 227.0,279.1 227.2,279.4 227.4,279.8 227.6,280.1 227.7,280.4 227.9,280.8 228.1,281.1 228.3,281.4 228.5,281.8 228.7,282.1 229.0,282.5 229.2,282.8 229.4,283.2 229.6,283.5 229.9,283.8 230.1,284.2 230.3,284.5 230.6,284.9 230.9,285.3 231.2,285.6 231.5,286.0 231.8,286.4 232.1,286.7 232.5,287.1 232.8,287.5 233.2,287.9 233.6,288.2 234.0,288.6 234.4,289.0 234.8,289.4 235.2,289.8 235.6,290.2 236.1,290.6 236.5,291.0 236.9,291.4 237.4,291.8 237.9,292.2 238.3,292.6 238.8,293.0 239.3,293.4 239.8,293.8 240.3,294.2 240.8,294.6 241.3,295.1 241.9,295.5 242.4,295.9 243.0,296.3 243.6,296.8 244.2,297.2 244.9,297.7 245.5,298.1 246.2,298.6 246.9,299.0 247.6,299.5 248.3,300.0 249.1,300.4 249.8,300.9 250.6,301.4 251.5,301.9 252.4,302.4 253.4,302.9 254.4,303.5 255.4,304.0 256.4,304.5 257.3,305.0 258.3,305.6 259.2,306.1 260.2,306.6 261.1,307.1 262.1,307.7 263.1,308.2 264.0,308.7" fill="none" stroke="#000" stroke-width="1.9" stroke-linejoin="round" stroke-opacity="0.36"/>
<path d="M492.7,280.1 494.8,279.9 496.9,279.8 498.9,279.6 501.0,279.4 503.0,279.2 505.0,279.0 507.0,278.8 509.0,278.6 511.0,278.4 513.0,278.2 515.1,278.0 517.1,277.8 519.0,277.5 520.9,277.2 522.7,276.9 524.2,276.6 525.7,276.1 527.0,275.7 528.3,275.3 529.5,274.8 530.7,274.3 531.8,273.8 532.9,273.2 533.9,272.7 534.8,272.1 535.7,271.5 536.5,270.9 537.3,270.2 538.1,269.6 538.8,268.9 539.5,268.2 540.2,267.5 540.8,266.7 541.4,266.0 542.0,265.1 542.5,264.3 543.0,263.4 543.5,262.5 543.9,261.6 544.3,260.7 544.7,259.8 545.1,259.0 545.5,258.1 545.9,257.3 546.3,256.6 546.6,255.9 547.0,255.3 547.3,254.7 547.6,254.1 548.0,253.5 548.3,252.9 548.6,252.3 548.9,251.7 549.2,251.1 549.5,250.6 549.7,250.0 550.0,249.4 550.3,248.9 550.5,248.3 550.8,247.8 551.1,247.3 551.3,246.7 551.6,246.2 551.8,245.7 552.0,245.2 552.3,244.6 552.5,244.1 552.7,243.5 553.0,243.0 553.2,242.4 553.4,241.8 553.6,241.2 553.8,240.5 554.0,239.7 554.2,238.9 554.4,238.1 554.6,237.2 554.8,236.3 555.0,235.4 555.2,234.5 555.4,233.7 555.6,232.8 555.7,232.0 555.9,231.2 556.1,230.6 556.3,229.9 556.4,229.4 556.6,228.9 556.8,228.4 556.9,227.9 557.1,227.4 557.3,227.0 557.4,226.5 557.6,226.1 557.8,225.6 557.9,225.2 558.1,224.8 558.2,224.4 558.4,224.0 558.6,223.6 558.7,223.2 558.9,222.9 559.0,222.5 559.2,222.2 559.3,221.9 559.5,221.6 559.7,221.4 559.8,221.1 560.0,220.8 560.1,220.6 560.3,220.4 560.4,220.1 560.6,219.9 560.7,219.7 560.9,219.5 561.0,219.3 561.2,219.1 561.3,218.9 561.4,218.7 561.6,218.5 561.7,218.3 561.9,218.2 562.0,218.0 562.2,217.9 562.3,217.7 562.4,217.6 562.6,217.5 562.7,217.3 562.9,217.2 563.0,217.1 563.1,217.0 563.3,216.9 563.4,216.9 563.6,216.8 563.7,216.7 563.8,216.7 564.0,216.6 564.1,216.6 564.2,216.5 564.4,216.5 564.5,216.5 564.6,216.4 564.8,216.4 564.9,216.4 565.0,216.4 565.2,216.5 565.3,216.5 565.4,216.5 565.6,216.5 565.7,216.6 565.8,216.6 566.0,216.7 566.1,216.8 566.2,216.8 566.3,216.9 566.5,217.0 566.6,217.1 566.7,217.2 566.8,217.3 567.0,217.4 567.1,217.6 567.2,217.7 567.3,217.8 567.5,218.0 567.6,218.1 567.7,218.3 567.8,218.5 568.0,218.6 568.1,218.8 568.2,219.0 568.3,219.2 568.4,219.4 568.6,219.6 568.7,219.8 568.8,220.1 568.9,220.3 569.0,220.6 569.2,220.8 569.3,221.1 569.4,221.3 569.5,221.6 569.6,221.9 569.8,222.2 569.9,222.5 570.0,222.8 570.1,223.1 570.2,223.4 570.4,223.7 570.5,224.0 570.6,224.4 570.7,224.7 570.8,225.1 570.9,225.5 571.0,225.9 571.1,226.3 571.3,226.7 571.4,227.2 571.5,227.6 571.6,228.1 571.7,228.6 571.9,229.1 572.0,229.6 572.1,230.2 572.3,230.7 572.4,231.2 572.5,231.8 572.7,232.4 572.8,233.0 572.9,233.5 573.1,234.2 573.2,234.8 573.3,235.6 573.5,236.4 573.6,237.2 573.8,238.1 573.9,239.0 574.1,239.9 574.2,240.8 574.4,241.7 574.5,242.6 574.7,243.5 574.8,244.3 575.0,245.2 575.1,245.9 575.3,246.6 575.5,247.4 575.6,248.1 575.8,248.7 576.0,249.4 576.2,250.1 576.4,250.8 576.5,251.4 576.7,252.1 576.9,252.8 577.1,253.4 577.3,254.1 577.5,254.8 577.8,255.5 578.0,256.1 578.2,256.8 578.4,257.5 578.6,258.2 578.9,258.9 579.1,259.7 579.4,260.4 579.7,261.2 580.0,261.9 580.3,262.7 580.6,263.5 580.9,264.3 581.3,265.2 581.6,266.1 582.0,267.0 582.4,268.0 582.7,269.0 583.1,269.9 583.5,271.0 584.0,272.0 584.4,273.0 584.8,274.0 585.3,275.0 585.7,276.0 586.2,277.0 586.6,278.0 587.1,279.0 587.6,279.9 588.0,280.9 588.5,281.8 589.0,282.8 589.5,283.7 590.1,284.7 590.6,285.6 591.2,286.6 591.8,287.5 592.4,288.5 593.0,289.4 593.6,290.3 594.3,291.2 594.9,292.2 595.6,293.1 596.3,294.0 597.1,294.9 597.8,295.8 598.6,296.7 599.4,297.5 600.2,298.4 601.2,299.3 602.1,300.3 603.1,301.2 604.1,302.1 605.1,303.0 606.0,303.9 607.0,304.8 607.9,305.7 608.9,306.6 609.9,307.5 610.8,308.4 611.8,309.3 612.7,310.1" fill="none" stroke="#000" stroke-width="1.9" stroke-linejoin="round" stroke-opacity="0.36"/>
<g fill-opacity="0.42"><circle cx="143.9" cy="192.6" r="1.15"/><circle cx="154.2" cy="196.6" r="1.15"/><circle cx="164.1" cy="200.4" r="1.15"/><circle cx="173.6" cy="204.2" r="1.15"/><circle cx="180.6" cy="207.3" r="1.15"/><circle cx="185.9" cy="210.0" r="1.15"/><circle cx="189.9" cy="212.4" r="1.15"/><circle cx="193.1" cy="214.6" r="1.15"/><circle cx="195.4" cy="216.7" r="1.15"/><circle cx="197.4" cy="218.6" r="1.15"/><circle cx="199.1" cy="220.4" r="1.15"/><circle cx="200.6" cy="222.2" r="1.15"/><circle cx="201.9" cy="224.0" r="1.15"/><circle cx="203.1" cy="225.7" r="1.15"/><circle cx="204.3" cy="227.4" r="1.15"/><circle cx="205.3" cy="229.1" r="1.15"/><circle cx="206.3" cy="230.8" r="1.15"/><circle cx="207.2" cy="232.4" r="1.15"/><circle cx="208.0" cy="234.0" r="1.15"/><circle cx="208.8" cy="235.7" r="1.15"/><circle cx="209.6" cy="237.3" r="1.15"/><circle cx="210.4" cy="238.9" r="1.15"/><circle cx="211.1" cy="240.5" r="1.15"/><circle cx="211.9" cy="242.1" r="1.15"/><circle cx="212.6" cy="243.8" r="1.15"/><circle cx="213.3" cy="245.4" r="1.15"/><circle cx="214.0" cy="247.0" r="1.15"/><circle cx="214.6" cy="248.6" r="1.15"/><circle cx="215.3" cy="250.1" r="1.15"/><circle cx="216.0" cy="251.7" r="1.15"/><circle cx="216.6" cy="253.3" r="1.15"/><circle cx="217.3" cy="254.9" r="1.15"/><circle cx="217.9" cy="256.5" r="1.15"/><circle cx="218.5" cy="258.1" r="1.15"/><circle cx="219.1" cy="259.6" r="1.15"/><circle cx="219.7" cy="261.2" r="1.15"/><circle cx="220.3" cy="262.8" r="1.15"/><circle cx="220.9" cy="264.4" r="1.15"/><circle cx="221.5" cy="265.9" r="1.15"/><circle cx="222.0" cy="267.5" r="1.15"/><circle cx="222.6" cy="269.1" r="1.15"/><circle cx="223.2" cy="270.7" r="1.15"/><circle cx="223.8" cy="272.2" r="1.15"/><circle cx="224.5" cy="273.8" r="1.15"/><circle cx="225.2" cy="275.4" r="1.15"/><circle cx="226.0" cy="277.0" r="1.15"/><circle cx="226.8" cy="278.7" r="1.15"/><circle cx="227.7" cy="280.3" r="1.15"/><circle cx="228.7" cy="282.0" r="1.15"/><circle cx="229.7" cy="283.7" r="1.15"/><circle cx="231.0" cy="285.4" r="1.15"/><circle cx="232.6" cy="287.2" r="1.15"/><circle cx="234.5" cy="289.1" r="1.15"/><circle cx="236.6" cy="291.1" r="1.15"/><circle cx="238.9" cy="293.0" r="1.15"/><circle cx="241.4" cy="295.1" r="1.15"/><circle cx="244.2" cy="297.2" r="1.15"/><circle cx="247.5" cy="299.5" r="1.15"/><circle cx="251.4" cy="301.8" r="1.15"/><circle cx="256.2" cy="304.4" r="1.15"/><circle cx="260.9" cy="307.0" r="1.15"/></g>
<g fill-opacity="0.42"><circle cx="492.7" cy="280.1" r="1.15"/><circle cx="502.9" cy="279.2" r="1.15"/><circle cx="512.7" cy="278.2" r="1.15"/><circle cx="522.3" cy="277.0" r="1.15"/><circle cx="529.2" cy="274.9" r="1.15"/><circle cx="534.5" cy="272.3" r="1.15"/><circle cx="538.5" cy="269.2" r="1.15"/><circle cx="541.7" cy="265.5" r="1.15"/><circle cx="544.1" cy="261.2" r="1.15"/><circle cx="546.0" cy="257.1" r="1.15"/><circle cx="547.7" cy="253.9" r="1.15"/><circle cx="549.2" cy="251.0" r="1.15"/><circle cx="550.6" cy="248.3" r="1.15"/><circle cx="551.8" cy="245.7" r="1.15"/><circle cx="553.0" cy="243.0" r="1.15"/><circle cx="554.0" cy="239.8" r="1.15"/><circle cx="555.0" cy="235.6" r="1.15"/><circle cx="555.9" cy="231.4" r="1.15"/><circle cx="556.7" cy="228.5" r="1.15"/><circle cx="557.5" cy="226.2" r="1.15"/><circle cx="558.3" cy="224.1" r="1.15"/><circle cx="559.1" cy="222.4" r="1.15"/><circle cx="559.9" cy="221.0" r="1.15"/><circle cx="560.6" cy="219.8" r="1.15"/><circle cx="561.3" cy="218.8" r="1.15"/><circle cx="562.0" cy="218.0" r="1.15"/><circle cx="562.7" cy="217.3" r="1.15"/><circle cx="563.4" cy="216.9" r="1.15"/><circle cx="564.1" cy="216.6" r="1.15"/><circle cx="564.8" cy="216.4" r="1.15"/><circle cx="565.4" cy="216.5" r="1.15"/><circle cx="566.1" cy="216.7" r="1.15"/><circle cx="566.7" cy="217.2" r="1.15"/><circle cx="567.3" cy="217.8" r="1.15"/><circle cx="567.9" cy="218.6" r="1.15"/><circle cx="568.5" cy="219.5" r="1.15"/><circle cx="569.1" cy="220.7" r="1.15"/><circle cx="569.7" cy="222.0" r="1.15"/><circle cx="570.3" cy="223.5" r="1.15"/><circle cx="570.8" cy="225.2" r="1.15"/><circle cx="571.4" cy="227.2" r="1.15"/><circle cx="572.0" cy="229.7" r="1.15"/><circle cx="572.7" cy="232.4" r="1.15"/><circle cx="573.3" cy="235.5" r="1.15"/><circle cx="574.0" cy="239.8" r="1.15"/><circle cx="574.8" cy="244.2" r="1.15"/><circle cx="575.6" cy="247.9" r="1.15"/><circle cx="576.5" cy="251.2" r="1.15"/><circle cx="577.5" cy="254.5" r="1.15"/><circle cx="578.5" cy="257.9" r="1.15"/><circle cx="579.8" cy="261.5" r="1.15"/><circle cx="581.4" cy="265.5" r="1.15"/><circle cx="583.3" cy="270.2" r="1.15"/><circle cx="585.4" cy="275.2" r="1.15"/><circle cx="587.6" cy="280.1" r="1.15"/><circle cx="590.1" cy="284.8" r="1.15"/><circle cx="593.0" cy="289.4" r="1.15"/><circle cx="596.3" cy="293.9" r="1.15"/><circle cx="600.1" cy="298.3" r="1.15"/><circle cx="604.9" cy="302.8" r="1.15"/><circle cx="609.6" cy="307.2" r="1.15"/></g>
<path d="M139.7,195.1 141.8,195.9 143.9,196.7 145.9,197.5 148.0,198.3 150.0,199.1 152.1,199.9 154.0,200.7 156.0,201.4 158.0,202.2 160.1,203.0 162.1,203.8 164.1,204.6 166.1,205.3 168.0,206.1 169.7,206.8 171.3,207.5 172.7,208.1 174.1,208.7 175.4,209.4 176.6,209.9 177.8,210.5 178.9,211.1 180.0,211.6 181.0,212.2 181.9,212.7 182.8,213.2 183.6,213.7 184.4,214.2 185.2,214.7 185.9,215.1 186.6,215.6 187.3,216.0 187.9,216.5 188.5,216.9 189.1,217.3 189.6,217.8 190.1,218.2 190.5,218.6 191.0,219.0 191.4,219.4 191.8,219.8 192.2,220.1 192.6,220.5 193.0,220.9 193.3,221.3 193.7,221.7 194.0,222.0 194.4,222.4 194.7,222.8 195.0,223.2 195.3,223.5 195.6,223.9 195.9,224.3 196.2,224.6 196.5,225.0 196.8,225.3 197.1,225.7 197.3,226.1 197.6,226.4 197.9,226.8 198.1,227.1 198.4,227.5 198.6,227.8 198.8,228.2 199.1,228.5 199.3,228.9 199.5,229.2 199.8,229.6 200.0,229.9 200.2,230.2 200.4,230.6 200.6,230.9 200.8,231.3 201.0,231.6 201.2,231.9 201.4,232.3 201.6,232.6 201.8,233.0 202.0,233.3 202.2,233.6 202.3,234.0 202.5,234.3 202.7,234.6 202.9,235.0 203.0,235.3 203.2,235.6 203.4,236.0 203.5,236.3 203.7,236.6 203.8,236.9 204.0,237.3 204.1,237.6 204.3,237.9 204.5,238.3 204.6,238.6 204.8,238.9 204.9,239.2 205.1,239.6 205.2,239.9 205.4,240.2 205.5,240.6 205.7,240.9 205.8,241.2 206.0,241.5 206.1,241.9 206.3,242.2 206.4,242.5 206.6,242.8 206.7,243.2 206.9,243.5 207.0,243.8 207.2,244.1 207.3,244.5 207.4,244.8 207.6,245.1 207.7,245.4 207.9,245.8 208.0,246.1 208.1,246.4 208.3,246.7 208.4,247.1 208.6,247.4 208.7,247.7 208.8,248.0 209.0,248.4 209.1,248.7 209.3,249.0 209.4,249.3 209.5,249.7 209.7,250.0 209.8,250.3 209.9,250.6 210.1,250.9 210.2,251.3 210.3,251.6 210.5,251.9 210.6,252.2 210.7,252.6 210.9,252.9 211.0,253.2 211.1,253.5 211.3,253.9 211.4,254.2 211.5,254.5 211.7,254.8 211.8,255.1 211.9,255.5 212.1,255.8 212.2,256.1 212.3,256.4 212.5,256.8 212.6,257.1 212.7,257.4 212.8,257.7 213.0,258.0 213.1,258.4 213.2,258.7 213.4,259.0 213.5,259.3 213.6,259.7 213.7,260.0 213.9,260.3 214.0,260.6 214.1,260.9 214.2,261.3 214.4,261.6 214.5,261.9 214.6,262.2 214.7,262.5 214.9,262.9 215.0,263.2 215.1,263.5 215.2,263.8 215.3,264.1 215.5,264.5 215.6,264.8 215.7,265.1 215.8,265.4 216.0,265.7 216.1,266.1 216.2,266.4 216.3,266.7 216.5,267.0 216.6,267.3 216.7,267.7 216.8,268.0 217.0,268.3 217.1,268.6 217.2,268.9 217.3,269.3 217.5,269.6 217.6,269.9 217.7,270.2 217.8,270.5 217.9,270.9 218.0,271.2 218.2,271.5 218.3,271.8 218.4,272.1 218.5,272.5 218.7,272.8 218.8,273.1 219.0,273.4 219.1,273.8 219.2,274.1 219.4,274.4 219.5,274.7 219.7,275.0 219.8,275.4 219.9,275.7 220.1,276.0 220.2,276.3 220.4,276.7 220.5,277.0 220.7,277.3 220.8,277.7 221.0,278.0 221.1,278.3 221.3,278.6 221.4,279.0 221.6,279.3 221.8,279.6 221.9,280.0 222.1,280.3 222.3,280.6 222.4,280.9 222.6,281.3 222.8,281.6 223.0,281.9 223.2,282.3 223.3,282.6 223.5,283.0 223.7,283.3 223.9,283.6 224.1,284.0 224.3,284.3 224.6,284.6 224.8,285.0 225.0,285.3 225.2,285.7 225.4,286.0 225.7,286.4 225.9,286.7 226.2,287.1 226.4,287.4 226.7,287.8 227.0,288.1 227.3,288.5 227.6,288.9 228.0,289.2 228.3,289.6 228.7,290.0 229.0,290.4 229.4,290.8 229.8,291.1 230.2,291.5 230.6,291.9 231.0,292.3 231.4,292.7 231.9,293.1 232.3,293.5 232.8,293.9 233.2,294.3 233.7,294.7 234.1,295.1 234.6,295.5 235.1,295.9 235.6,296.3 236.1,296.7 236.6,297.2 237.1,297.6 237.7,298.0 238.3,298.4 238.8,298.9 239.4,299.3 240.1,299.7 240.7,300.2 241.3,300.6 242.0,301.1 242.7,301.5 243.4,302.0 244.1,302.5 244.9,302.9 245.6,303.4 246.4,303.9 247.3,304.4 248.2,304.9 249.2,305.4 250.2,306.0 251.2,306.5 252.2,307.0 253.1,307.6 254.0,308.1 255.0,308.6 256.0,309.1 256.9,309.7 257.9,310.2 258.8,310.7 259.8,311.2" fill="none" stroke="#000" stroke-width="1.9" stroke-linejoin="round" stroke-opacity="0.36"/>
<path d="M488.4,282.8 490.5,282.6 492.6,282.5 494.7,282.3 496.7,282.2 498.8,282.0 500.8,281.8 502.8,281.6 504.7,281.4 506.7,281.2 508.8,281.0 510.8,280.8 512.8,280.6 514.8,280.4 516.6,280.1 518.4,279.8 520.0,279.5 521.4,279.1 522.7,278.6 524.0,278.2 525.3,277.7 526.4,277.3 527.5,276.8 528.6,276.2 529.6,275.7 530.5,275.1 531.4,274.6 532.2,273.9 533.0,273.3 533.8,272.7 534.5,272.0 535.2,271.4 535.9,270.7 536.5,269.9 537.1,269.1 537.7,268.3 538.2,267.5 538.7,266.6 539.2,265.7 539.6,264.9 540.0,264.0 540.4,263.1 540.8,262.3 541.2,261.5 541.6,260.7 542.0,260.0 542.3,259.3 542.7,258.7 543.0,258.0 543.4,257.4 543.7,256.8 544.0,256.2 544.3,255.7 544.6,255.1 544.9,254.5 545.2,253.9 545.5,253.4 545.7,252.8 546.0,252.3 546.3,251.7 546.5,251.2 546.8,250.6 547.0,250.1 547.3,249.6 547.5,249.1 547.7,248.6 548.0,248.0 548.2,247.5 548.4,247.0 548.7,246.4 548.9,245.9 549.1,245.3 549.3,244.7 549.5,244.0 549.7,243.3 549.9,242.5 550.1,241.7 550.3,240.8 550.5,240.0 550.7,239.1 550.9,238.2 551.0,237.3 551.2,236.5 551.4,235.7 551.6,235.0 551.7,234.3 551.9,233.7 552.1,233.2 552.2,232.7 552.4,232.2 552.6,231.7 552.7,231.3 552.9,230.8 553.0,230.3 553.2,229.9 553.3,229.5 553.5,229.1 553.6,228.6 553.8,228.3 554.0,227.9 554.1,227.5 554.3,227.1 554.4,226.8 554.6,226.5 554.7,226.2 554.9,225.9 555.0,225.6 555.2,225.3 555.3,225.0 555.5,224.8 555.6,224.5 555.8,224.3 555.9,224.1 556.1,223.9 556.2,223.6 556.3,223.4 556.5,223.2 556.6,223.0 556.8,222.8 556.9,222.7 557.0,222.5 557.2,222.3 557.3,222.2 557.5,222.0 557.6,221.9 557.7,221.7 557.9,221.6 558.0,221.5 558.2,221.4 558.3,221.2 558.4,221.1 558.6,221.0 558.7,221.0 558.8,220.9 559.0,220.8 559.1,220.7 559.2,220.7 559.4,220.6 559.5,220.6 559.6,220.5 559.8,220.5 559.9,220.5 560.1,220.5 560.2,220.5 560.3,220.5 560.5,220.5 560.6,220.5 560.7,220.5 560.9,220.5 561.0,220.6 561.1,220.6 561.2,220.7 561.4,220.7 561.5,220.8 561.6,220.9 561.8,220.9 561.9,221.0 562.0,221.1 562.2,221.2 562.3,221.3 562.4,221.5 562.5,221.6 562.7,221.7 562.8,221.8 562.9,222.0 563.0,222.1 563.2,222.3 563.3,222.5 563.4,222.6 563.5,222.8 563.7,223.0 563.8,223.2 563.9,223.4 564.0,223.6 564.1,223.8 564.3,224.1 564.4,224.3 564.5,224.5 564.6,224.8 564.8,225.0 564.9,225.3 565.0,225.6 565.1,225.9 565.3,226.1 565.4,226.4 565.5,226.7 565.7,227.0 565.8,227.3 565.9,227.7 566.0,228.0 566.2,228.3 566.3,228.7 566.4,229.0 566.5,229.4 566.6,229.8 566.7,230.2 566.9,230.6 567.0,231.1 567.1,231.5 567.2,232.0 567.4,232.5 567.5,233.0 567.6,233.5 567.8,234.0 567.9,234.6 568.0,235.1 568.2,235.6 568.3,236.2 568.5,236.8 568.6,237.4 568.7,238.0 568.9,238.6 569.0,239.4 569.2,240.1 569.3,241.0 569.5,241.8 569.6,242.7 569.8,243.6 569.9,244.5 570.1,245.4 570.2,246.3 570.4,247.1 570.6,248.0 570.7,248.8 570.9,249.5 571.1,250.2 571.2,250.9 571.4,251.6 571.6,252.3 571.8,253.0 571.9,253.6 572.1,254.3 572.3,254.9 572.5,255.6 572.7,256.3 572.9,256.9 573.1,257.6 573.3,258.2 573.6,258.9 573.8,259.6 574.0,260.2 574.2,260.9 574.5,261.6 574.7,262.3 574.9,263.0 575.2,263.8 575.5,264.5 575.8,265.3 576.1,266.0 576.4,266.8 576.7,267.6 577.1,268.5 577.4,269.4 577.8,270.3 578.2,271.2 578.6,272.2 579.0,273.2 579.4,274.2 579.8,275.2 580.2,276.2 580.6,277.2 581.1,278.2 581.5,279.1 582.0,280.1 582.4,281.1 582.9,282.0 583.4,283.0 583.8,283.9 584.3,284.9 584.8,285.8 585.3,286.7 585.9,287.7 586.4,288.6 587.0,289.5 587.6,290.5 588.2,291.4 588.8,292.3 589.4,293.2 590.1,294.1 590.7,295.0 591.4,295.9 592.1,296.8 592.9,297.7 593.6,298.6 594.3,299.5 595.1,300.3 596.0,301.2 597.0,302.1 597.9,303.0 598.9,303.9 599.9,304.8 600.9,305.7 601.8,306.6 602.8,307.5 603.7,308.4 604.7,309.3 605.6,310.2 606.6,311.1 607.6,311.9 608.5,312.8" fill="none" stroke="#000" stroke-width="1.9" stroke-linejoin="round" stroke-opacity="0.36"/>
<g fill-opacity="0.42"><circle cx="139.7" cy="195.1" r="1.15"/><circle cx="149.9" cy="199.0" r="1.15"/><circle cx="159.8" cy="202.9" r="1.15"/><circle cx="169.3" cy="206.7" r="1.15"/><circle cx="176.3" cy="209.8" r="1.15"/><circle cx="181.6" cy="212.5" r="1.15"/><circle cx="185.6" cy="214.9" r="1.15"/><circle cx="188.8" cy="217.1" r="1.15"/><circle cx="191.1" cy="219.1" r="1.15"/><circle cx="193.1" cy="221.1" r="1.15"/><circle cx="194.8" cy="222.9" r="1.15"/><circle cx="196.3" cy="224.7" r="1.15"/><circle cx="197.6" cy="226.5" r="1.15"/><circle cx="198.8" cy="228.2" r="1.15"/><circle cx="200.0" cy="229.9" r="1.15"/><circle cx="201.0" cy="231.6" r="1.15"/><circle cx="201.9" cy="233.2" r="1.15"/><circle cx="202.8" cy="234.9" r="1.15"/><circle cx="203.6" cy="236.5" r="1.15"/><circle cx="204.4" cy="238.1" r="1.15"/><circle cx="205.2" cy="239.8" r="1.15"/><circle cx="205.9" cy="241.4" r="1.15"/><circle cx="206.6" cy="243.0" r="1.15"/><circle cx="207.4" cy="244.6" r="1.15"/><circle cx="208.0" cy="246.2" r="1.15"/><circle cx="208.7" cy="247.8" r="1.15"/><circle cx="209.4" cy="249.4" r="1.15"/><circle cx="210.1" cy="251.0" r="1.15"/><circle cx="210.7" cy="252.6" r="1.15"/><circle cx="211.4" cy="254.2" r="1.15"/><circle cx="212.0" cy="255.7" r="1.15"/><circle cx="212.7" cy="257.3" r="1.15"/><circle cx="213.3" cy="258.9" r="1.15"/><circle cx="213.9" cy="260.5" r="1.15"/><circle cx="214.6" cy="262.1" r="1.15"/><circle cx="215.2" cy="263.7" r="1.15"/><circle cx="215.8" cy="265.2" r="1.15"/><circle cx="216.4" cy="266.8" r="1.15"/><circle cx="217.0" cy="268.4" r="1.15"/><circle cx="217.6" cy="270.0" r="1.15"/><circle cx="218.2" cy="271.5" r="1.15"/><circle cx="218.8" cy="273.1" r="1.15"/><circle cx="219.5" cy="274.7" r="1.15"/><circle cx="220.2" cy="276.3" r="1.15"/><circle cx="221.0" cy="277.9" r="1.15"/><circle cx="221.7" cy="279.5" r="1.15"/><circle cx="222.6" cy="281.2" r="1.15"/><circle cx="223.5" cy="282.8" r="1.15"/><circle cx="224.5" cy="284.5" r="1.15"/><circle cx="225.6" cy="286.2" r="1.15"/><circle cx="226.8" cy="287.9" r="1.15"/><circle cx="228.4" cy="289.8" r="1.15"/><circle cx="230.3" cy="291.6" r="1.15"/><circle cx="232.4" cy="293.6" r="1.15"/><circle cx="234.7" cy="295.6" r="1.15"/><circle cx="237.2" cy="297.6" r="1.15"/><circle cx="240.1" cy="299.7" r="1.15"/><circle cx="243.3" cy="302.0" r="1.15"/><circle cx="247.2" cy="304.3" r="1.15"/><circle cx="251.9" cy="306.9" r="1.15"/><circle cx="256.6" cy="309.5" r="1.15"/></g>
<g fill-opacity="0.42"><circle cx="488.4" cy="282.8" r="1.15"/><circle cx="498.6" cy="282.0" r="1.15"/><circle cx="508.5" cy="281.1" r="1.15"/><circle cx="518.0" cy="279.9" r="1.15"/><circle cx="524.9" cy="277.9" r="1.15"/><circle cx="530.2" cy="275.3" r="1.15"/><circle cx="534.2" cy="272.3" r="1.15"/><circle cx="537.4" cy="268.7" r="1.15"/><circle cx="539.8" cy="264.5" r="1.15"/><circle cx="541.7" cy="260.4" r="1.15"/><circle cx="543.4" cy="257.3" r="1.15"/><circle cx="545.0" cy="254.4" r="1.15"/><circle cx="546.3" cy="251.6" r="1.15"/><circle cx="547.5" cy="249.1" r="1.15"/><circle cx="548.7" cy="246.4" r="1.15"/><circle cx="549.7" cy="243.3" r="1.15"/><circle cx="550.6" cy="239.2" r="1.15"/><circle cx="551.5" cy="235.1" r="1.15"/><circle cx="552.3" cy="232.4" r="1.15"/><circle cx="553.1" cy="230.1" r="1.15"/><circle cx="553.9" cy="228.0" r="1.15"/><circle cx="554.6" cy="226.3" r="1.15"/><circle cx="555.4" cy="224.9" r="1.15"/><circle cx="556.1" cy="223.8" r="1.15"/><circle cx="556.8" cy="222.8" r="1.15"/><circle cx="557.5" cy="222.0" r="1.15"/><circle cx="558.2" cy="221.3" r="1.15"/><circle cx="558.8" cy="220.9" r="1.15"/><circle cx="559.5" cy="220.6" r="1.15"/><circle cx="560.2" cy="220.5" r="1.15"/><circle cx="560.8" cy="220.5" r="1.15"/><circle cx="561.5" cy="220.8" r="1.15"/><circle cx="562.1" cy="221.2" r="1.15"/><circle cx="562.7" cy="221.8" r="1.15"/><circle cx="563.4" cy="222.6" r="1.15"/><circle cx="564.0" cy="223.5" r="1.15"/><circle cx="564.6" cy="224.6" r="1.15"/><circle cx="565.2" cy="226.0" r="1.15"/><circle cx="565.8" cy="227.4" r="1.15"/><circle cx="566.4" cy="229.1" r="1.15"/><circle cx="567.0" cy="231.1" r="1.15"/><circle cx="567.6" cy="233.5" r="1.15"/><circle cx="568.3" cy="236.2" r="1.15"/><circle cx="569.0" cy="239.3" r="1.15"/><circle cx="569.8" cy="243.5" r="1.15"/><circle cx="570.5" cy="247.8" r="1.15"/><circle cx="571.4" cy="251.4" r="1.15"/><circle cx="572.3" cy="254.7" r="1.15"/><circle cx="573.2" cy="257.9" r="1.15"/><circle cx="574.3" cy="261.3" r="1.15"/><circle cx="575.6" cy="264.8" r="1.15"/><circle cx="577.2" cy="268.8" r="1.15"/><circle cx="579.1" cy="273.4" r="1.15"/><circle cx="581.2" cy="278.4" r="1.15"/><circle cx="583.4" cy="283.1" r="1.15"/><circle cx="585.9" cy="287.7" r="1.15"/><circle cx="588.8" cy="292.3" r="1.15"/><circle cx="592.1" cy="296.8" r="1.15"/><circle cx="595.9" cy="301.1" r="1.15"/><circle cx="600.7" cy="305.5" r="1.15"/><circle cx="605.4" cy="309.9" r="1.15"/></g>
<path d="M135.4,197.6 137.5,198.4 139.6,199.2 141.7,200.0 143.7,200.8 145.7,201.6 147.8,202.4 149.8,203.1 151.7,203.9 153.7,204.7 155.8,205.5 157.8,206.3 159.8,207.1 161.8,207.8 163.6,208.6 165.4,209.3 167.0,210.0 168.4,210.6 169.8,211.2 171.1,211.8 172.3,212.4 173.5,213.0 174.6,213.6 175.6,214.1 176.6,214.7 177.6,215.2 178.5,215.7 179.3,216.2 180.1,216.7 180.8,217.1 181.6,217.6 182.3,218.1 183.0,218.5 183.6,219.0 184.2,219.4 184.7,219.8 185.3,220.2 185.7,220.7 186.2,221.1 186.6,221.5 187.1,221.8 187.5,222.2 187.9,222.6 188.2,223.0 188.6,223.4 189.0,223.8 189.4,224.2 189.7,224.5 190.0,224.9 190.4,225.3 190.7,225.6 191.0,226.0 191.3,226.4 191.6,226.7 191.9,227.1 192.2,227.5 192.5,227.8 192.8,228.2 193.0,228.5 193.3,228.9 193.5,229.2 193.8,229.6 194.0,230.0 194.3,230.3 194.5,230.6 194.7,231.0 195.0,231.3 195.2,231.7 195.4,232.0 195.6,232.4 195.8,232.7 196.1,233.1 196.3,233.4 196.5,233.7 196.7,234.1 196.9,234.4 197.0,234.8 197.2,235.1 197.4,235.4 197.6,235.8 197.8,236.1 197.9,236.4 198.1,236.8 198.3,237.1 198.4,237.4 198.6,237.7 198.8,238.1 198.9,238.4 199.1,238.7 199.2,239.1 199.4,239.4 199.5,239.7 199.7,240.0 199.8,240.4 200.0,240.7 200.1,241.0 200.3,241.4 200.4,241.7 200.6,242.0 200.7,242.3 200.8,242.7 201.0,243.0 201.1,243.3 201.3,243.6 201.4,244.0 201.6,244.3 201.7,244.6 201.8,244.9 202.0,245.3 202.1,245.6 202.3,245.9 202.4,246.2 202.5,246.6 202.7,246.9 202.8,247.2 202.9,247.5 203.1,247.8 203.2,248.2 203.3,248.5 203.5,248.8 203.6,249.1 203.7,249.5 203.9,249.8 204.0,250.1 204.1,250.4 204.3,250.8 204.4,251.1 204.5,251.4 204.7,251.7 204.8,252.0 204.9,252.4 205.1,252.7 205.2,253.0 205.3,253.3 205.5,253.7 205.6,254.0 205.7,254.3 205.9,254.6 206.0,254.9 206.1,255.3 206.3,255.6 206.4,255.9 206.5,256.2 206.7,256.6 206.8,256.9 206.9,257.2 207.1,257.5 207.2,257.9 207.3,258.2 207.5,258.5 207.6,258.8 207.7,259.1 207.9,259.5 208.0,259.8 208.1,260.1 208.3,260.4 208.4,260.8 208.5,261.1 208.6,261.4 208.8,261.7 208.9,262.0 209.0,262.4 209.2,262.7 209.3,263.0 209.4,263.3 209.6,263.7 209.7,264.0 209.8,264.3 209.9,264.6 210.1,264.9 210.2,265.3 210.3,265.6 210.4,265.9 210.6,266.2 210.7,266.5 210.8,266.9 211.0,267.2 211.1,267.5 211.2,267.8 211.3,268.2 211.5,268.5 211.6,268.8 211.7,269.1 211.9,269.4 212.0,269.8 212.1,270.1 212.3,270.4 212.4,270.7 212.6,271.1 212.7,271.4 212.8,271.7 213.0,272.0 213.1,272.3 213.2,272.7 213.3,273.0 213.4,273.3 213.6,273.6 213.7,273.9 213.8,274.3 214.0,274.6 214.1,274.9 214.3,275.2 214.4,275.6 214.5,275.9 214.7,276.2 214.8,276.5 215.0,276.9 215.1,277.2 215.3,277.5 215.4,277.8 215.6,278.2 215.7,278.5 215.9,278.8 216.0,279.2 216.2,279.5 216.4,279.8 216.5,280.1 216.7,280.5 216.8,280.8 217.0,281.1 217.2,281.5 217.3,281.8 217.5,282.1 217.7,282.5 217.9,282.8 218.0,283.1 218.2,283.5 218.4,283.8 218.6,284.1 218.8,284.5 218.9,284.8 219.1,285.1 219.3,285.5 219.5,285.8 219.7,286.1 220.0,286.5 220.2,286.8 220.4,287.2 220.6,287.5 220.8,287.9 221.0,288.2 221.3,288.5 221.5,288.9 221.7,289.2 222.0,289.6 222.3,289.9 222.5,290.3 222.8,290.7 223.1,291.0 223.5,291.4 223.8,291.8 224.1,292.1 224.5,292.5 224.9,292.9 225.2,293.3 225.6,293.7 226.0,294.1 226.4,294.4 226.9,294.8 227.3,295.2 227.7,295.6 228.2,296.0 228.6,296.4 229.1,296.8 229.5,297.2 230.0,297.6 230.4,298.0 230.9,298.4 231.4,298.8 231.9,299.3 232.4,299.7 233.0,300.1 233.5,300.5 234.1,300.9 234.7,301.4 235.3,301.8 235.9,302.3 236.5,302.7 237.2,303.1 237.8,303.6 238.5,304.1 239.2,304.5 239.9,305.0 240.7,305.5 241.4,305.9 242.2,306.4 243.1,306.9 244.0,307.4 245.0,308.0 246.0,308.5 247.0,309.0 247.9,309.6 248.9,310.1 249.8,310.6 250.8,311.1 251.7,311.6 252.7,312.2 253.7,312.7 254.6,313.2 255.6,313.7" fill="none" stroke="#000" stroke-width="1.9" stroke-linejoin="round" stroke-opacity="0.36"/>
<path d="M484.2,285.5 486.3,285.4 488.3,285.3 490.4,285.1 492.5,285.0 494.5,284.8 496.5,284.6 498.5,284.5 500.4,284.3 502.4,284.1 504.5,283.9 506.5,283.7 508.5,283.5 510.5,283.3 512.3,283.1 514.1,282.8 515.6,282.4 517.1,282.0 518.4,281.6 519.7,281.2 520.9,280.8 522.1,280.3 523.2,279.8 524.3,279.3 525.3,278.8 526.2,278.3 527.1,277.7 527.9,277.1 528.7,276.5 529.5,275.9 530.2,275.2 530.9,274.6 531.6,273.9 532.2,273.2 532.8,272.4 533.4,271.6 533.9,270.8 534.4,270.0 534.8,269.1 535.3,268.2 535.7,267.4 536.1,266.5 536.5,265.7 536.9,264.9 537.3,264.1 537.6,263.4 538.0,262.8 538.4,262.1 538.7,261.5 539.0,260.9 539.4,260.3 539.7,259.7 540.0,259.1 540.3,258.6 540.6,258.0 540.9,257.4 541.2,256.8 541.4,256.3 541.7,255.7 542.0,255.1 542.2,254.6 542.5,254.1 542.7,253.6 542.9,253.1 543.2,252.6 543.4,252.1 543.6,251.6 543.9,251.0 544.1,250.5 544.3,250.0 544.5,249.4 544.7,248.9 544.9,248.3 545.1,247.6 545.3,246.9 545.5,246.2 545.7,245.4 545.9,244.5 546.1,243.7 546.3,242.9 546.5,242.0 546.6,241.2 546.8,240.4 547.0,239.6 547.1,238.9 547.3,238.2 547.5,237.6 547.6,237.1 547.8,236.6 547.9,236.2 548.1,235.7 548.2,235.2 548.4,234.8 548.5,234.4 548.7,233.9 548.8,233.5 549.0,233.1 549.1,232.7 549.3,232.3 549.4,231.9 549.6,231.6 549.7,231.2 549.9,230.9 550.0,230.6 550.2,230.3 550.3,230.0 550.4,229.7 550.6,229.4 550.7,229.2 550.9,228.9 551.0,228.7 551.1,228.4 551.3,228.2 551.4,228.0 551.6,227.8 551.7,227.6 551.8,227.4 552.0,227.2 552.1,227.0 552.2,226.8 552.4,226.6 552.5,226.5 552.6,226.3 552.8,226.2 552.9,226.0 553.0,225.9 553.2,225.8 553.3,225.6 553.4,225.5 553.6,225.4 553.7,225.3 553.8,225.2 554.0,225.1 554.1,225.1 554.2,225.0 554.4,224.9 554.5,224.9 554.6,224.8 554.8,224.8 554.9,224.7 555.0,224.7 555.2,224.7 555.3,224.7 555.4,224.7 555.6,224.7 555.7,224.7 555.8,224.7 556.0,224.7 556.1,224.7 556.2,224.8 556.4,224.8 556.5,224.9 556.6,224.9 556.8,225.0 556.9,225.1 557.0,225.1 557.2,225.2 557.3,225.3 557.4,225.4 557.6,225.5 557.7,225.7 557.8,225.8 558.0,225.9 558.1,226.0 558.2,226.2 558.3,226.3 558.5,226.5 558.6,226.7 558.7,226.8 558.9,227.0 559.0,227.2 559.1,227.4 559.2,227.6 559.4,227.8 559.5,228.0 559.6,228.2 559.7,228.5 559.9,228.7 560.0,229.0 560.1,229.2 560.3,229.5 560.4,229.7 560.5,230.0 560.7,230.3 560.8,230.6 560.9,230.9 561.1,231.2 561.2,231.5 561.4,231.8 561.5,232.1 561.6,232.4 561.8,232.8 561.9,233.1 562.0,233.5 562.1,233.9 562.2,234.3 562.4,234.7 562.5,235.2 562.6,235.6 562.8,236.1 562.9,236.5 563.1,237.0 563.2,237.5 563.3,238.0 563.5,238.6 563.6,239.1 563.8,239.6 563.9,240.2 564.1,240.8 564.2,241.3 564.4,241.9 564.5,242.6 564.7,243.3 564.8,244.1 565.0,244.9 565.2,245.7 565.3,246.6 565.5,247.4 565.6,248.3 565.8,249.2 566.0,250.0 566.1,250.9 566.3,251.7 566.5,252.5 566.6,253.2 566.8,253.9 567.0,254.6 567.2,255.3 567.4,256.0 567.5,256.6 567.7,257.3 567.9,257.9 568.1,258.6 568.3,259.2 568.5,259.9 568.7,260.5 568.9,261.1 569.2,261.8 569.4,262.5 569.6,263.1 569.8,263.8 570.0,264.5 570.3,265.1 570.5,265.8 570.8,266.5 571.0,267.2 571.3,268.0 571.6,268.7 571.9,269.5 572.2,270.2 572.6,271.0 572.9,271.9 573.3,272.7 573.6,273.6 574.0,274.5 574.4,275.5 574.8,276.5 575.2,277.4 575.6,278.4 576.0,279.4 576.5,280.4 576.9,281.4 577.4,282.3 577.8,283.3 578.3,284.2 578.7,285.2 579.2,286.1 579.7,287.0 580.2,287.9 580.7,288.9 581.2,289.8 581.7,290.7 582.3,291.6 582.8,292.5 583.4,293.5 584.0,294.4 584.6,295.3 585.2,296.2 585.9,297.1 586.6,298.0 587.2,298.9 587.9,299.7 588.7,300.6 589.4,301.5 590.1,302.3 590.9,303.2 591.8,304.1 592.7,305.0 593.7,305.9 594.7,306.7 595.7,307.6 596.6,308.5 597.6,309.4 598.5,310.2 599.5,311.1 600.5,312.0 601.4,312.9 602.4,313.8 603.3,314.6 604.3,315.5" fill="none" stroke="#000" stroke-width="1.9" stroke-linejoin="round" stroke-opacity="0.36"/>
<g fill-opacity="0.42"><circle cx="135.4" cy="197.6" r="1.15"/><circle cx="145.6" cy="201.5" r="1.15"/><circle cx="155.5" cy="205.4" r="1.15"/><circle cx="165.0" cy="209.1" r="1.15"/><circle cx="171.9" cy="212.3" r="1.15"/><circle cx="177.2" cy="215.0" r="1.15"/><circle cx="181.3" cy="217.4" r="1.15"/><circle cx="184.5" cy="219.6" r="1.15"/><circle cx="186.8" cy="221.6" r="1.15"/><circle cx="188.8" cy="223.5" r="1.15"/><circle cx="190.5" cy="225.4" r="1.15"/><circle cx="192.0" cy="227.2" r="1.15"/><circle cx="193.3" cy="228.9" r="1.15"/><circle cx="194.5" cy="230.7" r="1.15"/><circle cx="195.6" cy="232.4" r="1.15"/><circle cx="196.6" cy="234.1" r="1.15"/><circle cx="197.6" cy="235.7" r="1.15"/><circle cx="198.4" cy="237.3" r="1.15"/><circle cx="199.2" cy="239.0" r="1.15"/><circle cx="199.9" cy="240.6" r="1.15"/><circle cx="200.6" cy="242.2" r="1.15"/><circle cx="201.4" cy="243.8" r="1.15"/><circle cx="202.0" cy="245.4" r="1.15"/><circle cx="202.7" cy="247.0" r="1.15"/><circle cx="203.4" cy="248.6" r="1.15"/><circle cx="204.0" cy="250.2" r="1.15"/><circle cx="204.7" cy="251.8" r="1.15"/><circle cx="205.3" cy="253.4" r="1.15"/><circle cx="206.0" cy="254.9" r="1.15"/><circle cx="206.7" cy="256.5" r="1.15"/><circle cx="207.3" cy="258.1" r="1.15"/><circle cx="208.0" cy="259.7" r="1.15"/><circle cx="208.6" cy="261.3" r="1.15"/><circle cx="209.3" cy="262.9" r="1.15"/><circle cx="209.9" cy="264.5" r="1.15"/><circle cx="210.5" cy="266.1" r="1.15"/><circle cx="211.1" cy="267.6" r="1.15"/><circle cx="211.8" cy="269.2" r="1.15"/><circle cx="212.5" cy="270.8" r="1.15"/><circle cx="213.1" cy="272.4" r="1.15"/><circle cx="213.7" cy="274.0" r="1.15"/><circle cx="214.4" cy="275.6" r="1.15"/><circle cx="215.1" cy="277.2" r="1.15"/><circle cx="215.9" cy="278.8" r="1.15"/><circle cx="216.7" cy="280.4" r="1.15"/><circle cx="217.5" cy="282.1" r="1.15"/><circle cx="218.3" cy="283.7" r="1.15"/><circle cx="219.3" cy="285.3" r="1.15"/><circle cx="220.3" cy="287.0" r="1.15"/><circle cx="221.4" cy="288.7" r="1.15"/><circle cx="222.7" cy="290.5" r="1.15"/><circle cx="224.3" cy="292.3" r="1.15"/><circle cx="226.1" cy="294.2" r="1.15"/><circle cx="228.3" cy="296.1" r="1.15"/><circle cx="230.5" cy="298.1" r="1.15"/><circle cx="233.0" cy="300.1" r="1.15"/><circle cx="235.9" cy="302.3" r="1.15"/><circle cx="239.2" cy="304.5" r="1.15"/><circle cx="243.0" cy="306.8" r="1.15"/><circle cx="247.7" cy="309.4" r="1.15"/><circle cx="252.4" cy="312.0" r="1.15"/></g>
<g fill-opacity="0.42"><circle cx="484.2" cy="285.5" r="1.15"/><circle cx="494.3" cy="284.8" r="1.15"/><circle cx="504.2" cy="283.9" r="1.15"/><circle cx="513.7" cy="282.8" r="1.15"/><circle cx="520.6" cy="280.9" r="1.15"/><circle cx="525.9" cy="278.5" r="1.15"/><circle cx="529.9" cy="275.5" r="1.15"/><circle cx="533.1" cy="272.0" r="1.15"/><circle cx="535.5" cy="267.9" r="1.15"/><circle cx="537.4" cy="263.9" r="1.15"/><circle cx="539.1" cy="260.7" r="1.15"/><circle cx="540.6" cy="257.9" r="1.15"/><circle cx="542.0" cy="255.1" r="1.15"/><circle cx="543.2" cy="252.5" r="1.15"/><circle cx="544.3" cy="250.0" r="1.15"/><circle cx="545.3" cy="247.0" r="1.15"/><circle cx="546.3" cy="243.0" r="1.15"/><circle cx="547.1" cy="239.0" r="1.15"/><circle cx="547.9" cy="236.3" r="1.15"/><circle cx="548.6" cy="234.1" r="1.15"/><circle cx="549.4" cy="232.1" r="1.15"/><circle cx="550.1" cy="230.4" r="1.15"/><circle cx="550.8" cy="229.0" r="1.15"/><circle cx="551.5" cy="227.9" r="1.15"/><circle cx="552.1" cy="226.9" r="1.15"/><circle cx="552.8" cy="226.1" r="1.15"/><circle cx="553.5" cy="225.5" r="1.15"/><circle cx="554.1" cy="225.1" r="1.15"/><circle cx="554.8" cy="224.8" r="1.15"/><circle cx="555.4" cy="224.7" r="1.15"/><circle cx="556.1" cy="224.7" r="1.15"/><circle cx="556.7" cy="225.0" r="1.15"/><circle cx="557.4" cy="225.4" r="1.15"/><circle cx="558.0" cy="226.0" r="1.15"/><circle cx="558.7" cy="226.8" r="1.15"/><circle cx="559.3" cy="227.7" r="1.15"/><circle cx="559.9" cy="228.8" r="1.15"/><circle cx="560.6" cy="230.1" r="1.15"/><circle cx="561.3" cy="231.6" r="1.15"/><circle cx="561.9" cy="233.2" r="1.15"/><circle cx="562.5" cy="235.2" r="1.15"/><circle cx="563.2" cy="237.6" r="1.15"/><circle cx="563.9" cy="240.2" r="1.15"/><circle cx="564.7" cy="243.2" r="1.15"/><circle cx="565.4" cy="247.3" r="1.15"/><circle cx="566.3" cy="251.5" r="1.15"/><circle cx="567.1" cy="255.1" r="1.15"/><circle cx="568.0" cy="258.3" r="1.15"/><circle cx="569.1" cy="261.5" r="1.15"/><circle cx="570.2" cy="264.8" r="1.15"/><circle cx="571.4" cy="268.3" r="1.15"/><circle cx="573.0" cy="272.2" r="1.15"/><circle cx="574.9" cy="276.7" r="1.15"/><circle cx="577.0" cy="281.6" r="1.15"/><circle cx="579.3" cy="286.2" r="1.15"/><circle cx="581.7" cy="290.8" r="1.15"/><circle cx="584.6" cy="295.3" r="1.15"/><circle cx="587.9" cy="299.7" r="1.15"/><circle cx="591.7" cy="304.0" r="1.15"/><circle cx="596.4" cy="308.3" r="1.15"/><circle cx="601.1" cy="312.6" r="1.15"/></g>
<path d="M131.1,200.1 133.2,200.9 135.3,201.7 137.4,202.5 139.4,203.3 141.4,204.1 143.5,204.9 145.4,205.6 147.4,206.4 149.4,207.2 151.4,208.0 153.5,208.8 155.5,209.5 157.4,210.3 159.3,211.0 161.0,211.8 162.6,212.4 164.0,213.1 165.4,213.7 166.7,214.3 167.9,214.9 169.1,215.5 170.2,216.0 171.3,216.6 172.3,217.1 173.2,217.6 174.1,218.2 174.9,218.6 175.7,219.1 176.5,219.6 177.2,220.1 177.9,220.5 178.6,221.0 179.2,221.4 179.8,221.9 180.4,222.3 180.9,222.7 181.4,223.1 181.8,223.5 182.3,223.9 182.7,224.3 183.1,224.7 183.5,225.1 183.9,225.5 184.3,225.9 184.6,226.3 185.0,226.6 185.3,227.0 185.7,227.4 186.0,227.8 186.4,228.1 186.7,228.5 187.0,228.9 187.3,229.2 187.6,229.6 187.9,229.9 188.1,230.3 188.4,230.7 188.7,231.0 189.0,231.4 189.2,231.7 189.4,232.1 189.7,232.4 189.9,232.8 190.1,233.1 190.4,233.5 190.6,233.8 190.8,234.2 191.0,234.5 191.2,234.8 191.5,235.2 191.7,235.5 191.9,235.9 192.1,236.2 192.2,236.5 192.4,236.9 192.6,237.2 192.8,237.5 193.0,237.9 193.1,238.2 193.3,238.5 193.5,238.9 193.6,239.2 193.8,239.5 193.9,239.9 194.1,240.2 194.2,240.5 194.4,240.8 194.5,241.2 194.7,241.5 194.8,241.8 195.0,242.1 195.1,242.5 195.2,242.8 195.4,243.1 195.5,243.4 195.6,243.8 195.8,244.1 195.9,244.4 196.0,244.7 196.2,245.1 196.3,245.4 196.4,245.7 196.6,246.0 196.7,246.3 196.8,246.7 197.0,247.0 197.1,247.3 197.2,247.6 197.4,248.0 197.5,248.3 197.6,248.6 197.7,248.9 197.9,249.2 198.0,249.6 198.1,249.9 198.2,250.2 198.4,250.5 198.5,250.8 198.6,251.2 198.7,251.5 198.8,251.8 199.0,252.1 199.1,252.5 199.2,252.8 199.4,253.1 199.5,253.4 199.6,253.7 199.7,254.1 199.9,254.4 200.0,254.7 200.1,255.0 200.2,255.3 200.4,255.7 200.5,256.0 200.6,256.3 200.8,256.6 200.9,257.0 201.0,257.3 201.1,257.6 201.3,257.9 201.4,258.2 201.6,258.6 201.7,258.9 201.8,259.2 202.0,259.5 202.1,259.9 202.2,260.2 202.4,260.5 202.5,260.8 202.6,261.2 202.8,261.5 202.9,261.8 203.0,262.1 203.2,262.4 203.3,262.8 203.4,263.1 203.6,263.4 203.7,263.7 203.9,264.1 204.0,264.4 204.1,264.7 204.3,265.0 204.4,265.4 204.5,265.7 204.7,266.0 204.8,266.3 204.9,266.6 205.1,267.0 205.2,267.3 205.3,267.6 205.5,267.9 205.6,268.3 205.7,268.6 205.9,268.9 206.0,269.2 206.1,269.5 206.3,269.9 206.4,270.2 206.5,270.5 206.7,270.8 206.8,271.2 207.0,271.5 207.1,271.8 207.3,272.2 207.4,272.5 207.6,272.8 207.7,273.1 207.9,273.5 208.0,273.8 208.2,274.1 208.3,274.4 208.4,274.8 208.6,275.1 208.7,275.4 208.9,275.7 209.0,276.0 209.1,276.4 209.3,276.7 209.4,277.0 209.6,277.4 209.7,277.7 209.9,278.0 210.0,278.3 210.2,278.7 210.4,279.0 210.5,279.3 210.7,279.7 210.8,280.0 211.0,280.3 211.2,280.6 211.3,281.0 211.5,281.3 211.7,281.6 211.8,282.0 212.0,282.3 212.2,282.6 212.3,283.0 212.5,283.3 212.7,283.6 212.9,284.0 213.1,284.3 213.2,284.6 213.4,285.0 213.6,285.3 213.8,285.6 214.0,286.0 214.2,286.3 214.4,286.6 214.5,287.0 214.7,287.3 214.9,287.6 215.2,288.0 215.4,288.3 215.6,288.7 215.8,289.0 216.0,289.4 216.2,289.7 216.4,290.0 216.7,290.4 216.9,290.7 217.1,291.1 217.4,291.4 217.6,291.8 217.9,292.1 218.1,292.5 218.4,292.8 218.7,293.2 219.0,293.6 219.3,293.9 219.7,294.3 220.0,294.7 220.4,295.1 220.7,295.4 221.1,295.8 221.5,296.2 221.9,296.6 222.3,297.0 222.7,297.4 223.2,297.8 223.6,298.2 224.0,298.6 224.5,299.0 224.9,299.4 225.4,299.8 225.8,300.2 226.3,300.6 226.8,301.0 227.3,301.4 227.8,301.8 228.3,302.2 228.8,302.6 229.4,303.1 229.9,303.5 230.5,303.9 231.1,304.3 231.7,304.8 232.3,305.2 233.0,305.7 233.6,306.1 234.3,306.6 235.0,307.0 235.7,307.5 236.5,308.0 237.2,308.5 238.0,308.9 238.9,309.4 239.8,310.0 240.8,310.5 241.8,311.0 242.7,311.5 243.7,312.1 244.6,312.6 245.6,313.1 246.6,313.6 247.5,314.2 248.5,314.7 249.5,315.2 250.4,315.7 251.4,316.3" fill="none" stroke="#000" stroke-width="1.9" stroke-linejoin="round" stroke-opacity="0.36"/>
<path d="M479.9,288.3 482.0,288.2 484.1,288.1 486.1,288.0 488.2,287.8 490.2,287.7 492.2,287.5 494.2,287.4 496.1,287.2 498.1,287.0 500.1,286.9 502.2,286.7 504.2,286.5 506.1,286.3 508.0,286.1 509.7,285.8 511.3,285.5 512.7,285.1 514.1,284.8 515.4,284.4 516.6,283.9 517.8,283.5 518.9,283.0 519.9,282.6 520.9,282.1 521.9,281.5 522.7,281.0 523.6,280.4 524.4,279.9 525.1,279.3 525.9,278.6 526.6,278.0 527.2,277.3 527.9,276.6 528.5,275.9 529.0,275.1 529.5,274.3 530.0,273.5 530.5,272.7 530.9,271.8 531.3,271.0 531.7,270.2 532.1,269.3 532.5,268.6 532.9,267.8 533.3,267.1 533.7,266.4 534.0,265.8 534.4,265.2 534.7,264.6 535.0,264.0 535.3,263.4 535.6,262.8 535.9,262.2 536.2,261.7 536.5,261.1 536.8,260.5 537.1,259.9 537.4,259.3 537.6,258.8 537.9,258.2 538.1,257.7 538.4,257.2 538.6,256.7 538.8,256.2 539.0,255.8 539.3,255.3 539.5,254.8 539.7,254.3 539.9,253.8 540.1,253.2 540.3,252.7 540.5,252.1 540.7,251.5 540.9,250.8 541.1,250.1 541.3,249.3 541.5,248.5 541.7,247.7 541.8,246.9 542.0,246.1 542.2,245.3 542.3,244.5 542.5,243.8 542.6,243.1 542.8,242.4 542.9,241.9 543.1,241.4 543.2,240.9 543.4,240.4 543.5,240.0 543.7,239.5 543.8,239.1 543.9,238.7 544.1,238.3 544.2,237.9 544.4,237.5 544.5,237.1 544.6,236.7 544.8,236.3 544.9,236.0 545.0,235.6 545.2,235.3 545.3,235.0 545.4,234.7 545.6,234.4 545.7,234.1 545.8,233.9 546.0,233.6 546.1,233.4 546.2,233.1 546.3,232.9 546.5,232.7 546.6,232.5 546.7,232.3 546.9,232.1 547.0,231.9 547.1,231.7 547.2,231.5 547.3,231.3 547.5,231.2 547.6,231.0 547.7,230.8 547.8,230.7 548.0,230.6 548.1,230.4 548.2,230.3 548.4,230.2 548.5,230.1 548.6,230.0 548.7,229.9 548.9,229.8 549.0,229.7 549.1,229.6 549.3,229.5 549.4,229.5 549.5,229.4 549.6,229.4 549.8,229.3 549.9,229.3 550.0,229.3 550.2,229.2 550.3,229.2 550.4,229.2 550.6,229.2 550.7,229.2 550.9,229.3 551.0,229.3 551.1,229.3 551.3,229.3 551.4,229.4 551.5,229.4 551.7,229.5 551.8,229.6 551.9,229.6 552.1,229.7 552.2,229.8 552.4,229.9 552.5,230.0 552.6,230.1 552.8,230.2 552.9,230.3 553.0,230.5 553.2,230.6 553.3,230.7 553.4,230.9 553.6,231.1 553.7,231.2 553.8,231.4 554.0,231.6 554.1,231.7 554.2,231.9 554.4,232.1 554.5,232.3 554.6,232.6 554.8,232.8 554.9,233.0 555.0,233.2 555.2,233.5 555.3,233.7 555.5,234.0 555.6,234.2 555.8,234.5 555.9,234.8 556.1,235.1 556.2,235.4 556.4,235.7 556.5,236.0 556.7,236.3 556.8,236.6 557.0,236.9 557.1,237.2 557.2,237.6 557.4,238.0 557.5,238.4 557.6,238.7 557.8,239.2 557.9,239.6 558.1,240.0 558.2,240.5 558.4,240.9 558.5,241.4 558.7,241.9 558.8,242.4 559.0,242.9 559.2,243.5 559.3,244.0 559.5,244.5 559.6,245.1 559.8,245.6 560.0,246.2 560.1,246.8 560.3,247.5 560.4,248.3 560.6,249.1 560.8,249.9 561.0,250.7 561.1,251.6 561.3,252.4 561.5,253.3 561.7,254.1 561.8,254.9 562.0,255.7 562.2,256.5 562.4,257.2 562.6,257.9 562.7,258.6 562.9,259.2 563.1,259.9 563.3,260.5 563.5,261.2 563.7,261.8 563.9,262.4 564.1,263.1 564.3,263.7 564.6,264.3 564.8,265.0 565.0,265.6 565.2,266.2 565.4,266.9 565.7,267.5 565.9,268.2 566.1,268.9 566.4,269.5 566.6,270.2 566.9,270.9 567.2,271.6 567.5,272.4 567.8,273.1 568.1,273.9 568.4,274.6 568.8,275.4 569.1,276.3 569.5,277.2 569.9,278.1 570.3,279.0 570.7,279.9 571.1,280.9 571.5,281.8 571.9,282.8 572.3,283.8 572.8,284.7 573.2,285.7 573.7,286.6 574.1,287.5 574.6,288.4 575.1,289.4 575.5,290.3 576.0,291.2 576.5,292.1 577.0,293.0 577.6,293.9 578.1,294.8 578.7,295.7 579.2,296.6 579.8,297.4 580.4,298.3 581.1,299.2 581.7,300.1 582.4,301.0 583.1,301.9 583.7,302.7 584.5,303.6 585.2,304.4 585.9,305.3 586.7,306.1 587.6,307.0 588.5,307.9 589.5,308.7 590.5,309.6 591.5,310.5 592.4,311.3 593.4,312.2 594.3,313.1 595.3,313.9 596.2,314.8 597.2,315.7 598.2,316.5 599.1,317.4 600.1,318.2" fill="none" stroke="#000" stroke-width="1.9" stroke-linejoin="round" stroke-opacity="0.36"/>
<g fill-opacity="0.42"><circle cx="131.1" cy="200.1" r="1.15"/><circle cx="141.3" cy="204.0" r="1.15"/><circle cx="151.1" cy="207.9" r="1.15"/><circle cx="160.7" cy="211.6" r="1.15"/><circle cx="167.6" cy="214.7" r="1.15"/><circle cx="172.9" cy="217.5" r="1.15"/><circle cx="176.9" cy="219.9" r="1.15"/><circle cx="180.1" cy="222.1" r="1.15"/><circle cx="182.4" cy="224.1" r="1.15"/><circle cx="184.4" cy="226.0" r="1.15"/><circle cx="186.1" cy="227.9" r="1.15"/><circle cx="187.6" cy="229.7" r="1.15"/><circle cx="189.0" cy="231.4" r="1.15"/><circle cx="190.2" cy="233.1" r="1.15"/><circle cx="191.2" cy="234.8" r="1.15"/><circle cx="192.2" cy="236.5" r="1.15"/><circle cx="193.1" cy="238.2" r="1.15"/><circle cx="193.9" cy="239.8" r="1.15"/><circle cx="194.6" cy="241.4" r="1.15"/><circle cx="195.3" cy="243.0" r="1.15"/><circle cx="196.0" cy="244.6" r="1.15"/><circle cx="196.6" cy="246.2" r="1.15"/><circle cx="197.3" cy="247.8" r="1.15"/><circle cx="197.9" cy="249.4" r="1.15"/><circle cx="198.5" cy="250.9" r="1.15"/><circle cx="199.1" cy="252.5" r="1.15"/><circle cx="199.8" cy="254.1" r="1.15"/><circle cx="200.4" cy="255.7" r="1.15"/><circle cx="201.0" cy="257.3" r="1.15"/><circle cx="201.7" cy="258.9" r="1.15"/><circle cx="202.3" cy="260.5" r="1.15"/><circle cx="203.0" cy="262.1" r="1.15"/><circle cx="203.7" cy="263.6" r="1.15"/><circle cx="204.3" cy="265.2" r="1.15"/><circle cx="205.0" cy="266.8" r="1.15"/><circle cx="205.7" cy="268.4" r="1.15"/><circle cx="206.3" cy="270.0" r="1.15"/><circle cx="207.0" cy="271.6" r="1.15"/><circle cx="207.8" cy="273.2" r="1.15"/><circle cx="208.5" cy="274.8" r="1.15"/><circle cx="209.2" cy="276.4" r="1.15"/><circle cx="209.9" cy="278.0" r="1.15"/><circle cx="210.7" cy="279.7" r="1.15"/><circle cx="211.5" cy="281.3" r="1.15"/><circle cx="212.3" cy="282.9" r="1.15"/><circle cx="213.2" cy="284.6" r="1.15"/><circle cx="214.1" cy="286.2" r="1.15"/><circle cx="215.1" cy="287.9" r="1.15"/><circle cx="216.1" cy="289.6" r="1.15"/><circle cx="217.3" cy="291.3" r="1.15"/><circle cx="218.5" cy="293.0" r="1.15"/><circle cx="220.1" cy="294.8" r="1.15"/><circle cx="222.0" cy="296.7" r="1.15"/><circle cx="224.1" cy="298.6" r="1.15"/><circle cx="226.4" cy="300.6" r="1.15"/><circle cx="228.9" cy="302.7" r="1.15"/><circle cx="231.7" cy="304.8" r="1.15"/><circle cx="235.0" cy="307.0" r="1.15"/><circle cx="238.8" cy="309.4" r="1.15"/><circle cx="243.5" cy="312.0" r="1.15"/><circle cx="248.2" cy="314.5" r="1.15"/></g>
<g fill-opacity="0.42"><circle cx="479.9" cy="288.3" r="1.15"/><circle cx="490.1" cy="287.7" r="1.15"/><circle cx="499.9" cy="286.9" r="1.15"/><circle cx="509.3" cy="285.9" r="1.15"/><circle cx="516.3" cy="284.1" r="1.15"/><circle cx="521.5" cy="281.7" r="1.15"/><circle cx="525.6" cy="278.9" r="1.15"/><circle cx="528.8" cy="275.5" r="1.15"/><circle cx="531.1" cy="271.5" r="1.15"/><circle cx="533.1" cy="267.5" r="1.15"/><circle cx="534.8" cy="264.4" r="1.15"/><circle cx="536.3" cy="261.5" r="1.15"/><circle cx="537.7" cy="258.7" r="1.15"/><circle cx="538.8" cy="256.2" r="1.15"/><circle cx="539.9" cy="253.8" r="1.15"/><circle cx="540.9" cy="250.9" r="1.15"/><circle cx="541.8" cy="247.0" r="1.15"/><circle cx="542.6" cy="243.2" r="1.15"/><circle cx="543.3" cy="240.6" r="1.15"/><circle cx="544.0" cy="238.4" r="1.15"/><circle cx="544.7" cy="236.5" r="1.15"/><circle cx="545.4" cy="234.8" r="1.15"/><circle cx="546.0" cy="233.5" r="1.15"/><circle cx="546.6" cy="232.4" r="1.15"/><circle cx="547.3" cy="231.5" r="1.15"/><circle cx="547.9" cy="230.7" r="1.15"/><circle cx="548.5" cy="230.0" r="1.15"/><circle cx="549.1" cy="229.6" r="1.15"/><circle cx="549.8" cy="229.3" r="1.15"/><circle cx="550.4" cy="229.2" r="1.15"/><circle cx="551.1" cy="229.3" r="1.15"/><circle cx="551.8" cy="229.5" r="1.15"/><circle cx="552.5" cy="230.0" r="1.15"/><circle cx="553.1" cy="230.6" r="1.15"/><circle cx="553.8" cy="231.3" r="1.15"/><circle cx="554.4" cy="232.2" r="1.15"/><circle cx="555.1" cy="233.3" r="1.15"/><circle cx="555.8" cy="234.6" r="1.15"/><circle cx="556.6" cy="236.0" r="1.15"/><circle cx="557.3" cy="237.7" r="1.15"/><circle cx="557.9" cy="239.7" r="1.15"/><circle cx="558.7" cy="242.0" r="1.15"/><circle cx="559.5" cy="244.5" r="1.15"/><circle cx="560.3" cy="247.5" r="1.15"/><circle cx="561.1" cy="251.4" r="1.15"/><circle cx="562.0" cy="255.6" r="1.15"/><circle cx="562.9" cy="259.0" r="1.15"/><circle cx="563.8" cy="262.2" r="1.15"/><circle cx="564.9" cy="265.3" r="1.15"/><circle cx="566.0" cy="268.5" r="1.15"/><circle cx="567.3" cy="272.0" r="1.15"/><circle cx="568.9" cy="275.7" r="1.15"/><circle cx="570.8" cy="280.2" r="1.15"/><circle cx="572.9" cy="284.9" r="1.15"/><circle cx="575.1" cy="289.5" r="1.15"/><circle cx="577.6" cy="293.9" r="1.15"/><circle cx="580.4" cy="298.3" r="1.15"/><circle cx="583.7" cy="302.7" r="1.15"/><circle cx="587.5" cy="306.9" r="1.15"/><circle cx="592.2" cy="311.2" r="1.15"/><circle cx="596.9" cy="315.4" r="1.15"/></g>
<path d="M126.8,202.6 128.9,203.4 131.0,204.2 133.1,205.0 135.1,205.8 137.1,206.6 139.1,207.3 141.1,208.1 143.0,208.9 145.0,209.7 147.1,210.4 149.1,211.2 151.1,212.0 153.0,212.8 154.9,213.5 156.6,214.2 158.2,214.9 159.6,215.5 161.0,216.2 162.3,216.8 163.5,217.4 164.7,217.9 165.8,218.5 166.9,219.1 167.9,219.6 168.8,220.1 169.7,220.6 170.5,221.1 171.3,221.6 172.1,222.1 172.8,222.5 173.5,223.0 174.2,223.5 174.8,223.9 175.4,224.3 176.0,224.8 176.5,225.2 177.0,225.6 177.4,226.0 177.8,226.4 178.3,226.8 178.7,227.2 179.1,227.6 179.5,227.9 179.8,228.3 180.2,228.7 180.6,229.1 180.9,229.5 181.3,229.8 181.6,230.2 182.0,230.6 182.3,231.0 182.6,231.3 182.9,231.7 183.2,232.1 183.5,232.4 183.8,232.8 184.0,233.1 184.3,233.5 184.6,233.8 184.8,234.2 185.1,234.6 185.3,234.9 185.5,235.2 185.7,235.6 186.0,235.9 186.2,236.3 186.4,236.6 186.6,237.0 186.8,237.3 187.0,237.6 187.2,238.0 187.4,238.3 187.6,238.7 187.8,239.0 187.9,239.3 188.1,239.7 188.3,240.0 188.4,240.3 188.6,240.6 188.7,241.0 188.9,241.3 189.0,241.6 189.2,242.0 189.3,242.3 189.5,242.6 189.6,242.9 189.7,243.3 189.9,243.6 190.0,243.9 190.1,244.2 190.3,244.5 190.4,244.9 190.5,245.2 190.6,245.5 190.7,245.8 190.9,246.1 191.0,246.5 191.1,246.8 191.2,247.1 191.3,247.4 191.5,247.7 191.6,248.1 191.7,248.4 191.8,248.7 191.9,249.0 192.0,249.3 192.2,249.7 192.3,250.0 192.4,250.3 192.5,250.6 192.6,250.9 192.7,251.2 192.8,251.6 192.9,251.9 193.1,252.2 193.2,252.5 193.3,252.8 193.4,253.1 193.5,253.5 193.6,253.8 193.7,254.1 193.8,254.4 193.9,254.7 194.1,255.1 194.2,255.4 194.3,255.7 194.4,256.0 194.5,256.3 194.7,256.7 194.8,257.0 194.9,257.3 195.0,257.6 195.1,257.9 195.3,258.2 195.4,258.6 195.5,258.9 195.6,259.2 195.8,259.5 195.9,259.9 196.0,260.2 196.2,260.5 196.3,260.8 196.4,261.1 196.6,261.5 196.7,261.8 196.8,262.1 197.0,262.4 197.1,262.8 197.3,263.1 197.4,263.4 197.5,263.7 197.7,264.1 197.8,264.4 197.9,264.7 198.1,265.0 198.2,265.4 198.4,265.7 198.5,266.0 198.7,266.3 198.8,266.7 198.9,267.0 199.1,267.3 199.2,267.6 199.4,268.0 199.5,268.3 199.6,268.6 199.8,268.9 199.9,269.3 200.1,269.6 200.2,269.9 200.4,270.2 200.5,270.6 200.6,270.9 200.8,271.2 200.9,271.5 201.1,271.9 201.2,272.2 201.4,272.5 201.5,272.8 201.7,273.2 201.8,273.5 202.0,273.8 202.2,274.2 202.3,274.5 202.5,274.8 202.7,275.2 202.8,275.5 203.0,275.8 203.2,276.1 203.3,276.5 203.5,276.8 203.7,277.1 203.8,277.5 204.0,277.8 204.1,278.1 204.3,278.4 204.4,278.8 204.6,279.1 204.8,279.4 204.9,279.8 205.1,280.1 205.3,280.4 205.4,280.8 205.6,281.1 205.8,281.4 206.0,281.8 206.2,282.1 206.3,282.4 206.5,282.8 206.7,283.1 206.9,283.4 207.0,283.8 207.2,284.1 207.4,284.4 207.6,284.8 207.8,285.1 208.0,285.4 208.2,285.8 208.4,286.1 208.6,286.4 208.7,286.8 208.9,287.1 209.1,287.5 209.3,287.8 209.5,288.1 209.7,288.5 209.9,288.8 210.1,289.1 210.3,289.5 210.5,289.8 210.8,290.2 211.0,290.5 211.2,290.9 211.4,291.2 211.6,291.5 211.9,291.9 212.1,292.2 212.3,292.6 212.6,292.9 212.8,293.3 213.0,293.6 213.3,294.0 213.5,294.3 213.8,294.7 214.0,295.0 214.3,295.4 214.6,295.8 214.9,296.1 215.3,296.5 215.6,296.9 215.9,297.2 216.3,297.6 216.7,298.0 217.0,298.4 217.4,298.8 217.8,299.1 218.2,299.5 218.6,299.9 219.1,300.3 219.5,300.7 219.9,301.1 220.4,301.5 220.8,301.9 221.3,302.3 221.7,302.7 222.2,303.1 222.7,303.5 223.2,303.9 223.7,304.3 224.2,304.8 224.7,305.2 225.2,305.6 225.8,306.0 226.4,306.4 227.0,306.9 227.6,307.3 228.2,307.8 228.8,308.2 229.5,308.7 230.2,309.1 230.9,309.6 231.6,310.0 232.3,310.5 233.0,311.0 233.8,311.5 234.7,312.0 235.6,312.5 236.6,313.0 237.5,313.5 238.5,314.1 239.5,314.6 240.4,315.1 241.4,315.6 242.3,316.1 243.3,316.7 244.3,317.2 245.2,317.7 246.2,318.3 247.2,318.8" fill="none" stroke="#000" stroke-width="1.9" stroke-linejoin="round" stroke-opacity="0.36"/>
<path d="M475.6,291.2 477.7,291.1 479.8,291.0 481.8,290.9 483.9,290.7 485.9,290.6 487.9,290.5 489.8,290.3 491.8,290.2 493.8,290.0 495.8,289.9 497.8,289.7 499.8,289.6 501.7,289.4 503.6,289.2 505.3,289.0 506.9,288.7 508.3,288.3 509.7,288.0 511.0,287.6 512.2,287.2 513.4,286.8 514.5,286.3 515.5,285.9 516.5,285.4 517.5,284.9 518.3,284.4 519.2,283.9 520.0,283.3 520.7,282.7 521.5,282.2 522.2,281.5 522.8,280.9 523.5,280.2 524.1,279.5 524.6,278.8 525.1,278.0 525.6,277.2 526.1,276.4 526.5,275.5 526.9,274.7 527.3,273.9 527.7,273.1 528.1,272.4 528.5,271.6 528.9,270.9 529.2,270.3 529.6,269.7 530.0,269.0 530.3,268.4 530.6,267.8 530.9,267.2 531.3,266.6 531.6,266.0 531.9,265.5 532.1,264.9 532.4,264.3 532.7,263.7 533.0,263.0 533.2,262.4 533.5,261.9 533.7,261.4 534.0,260.9 534.2,260.4 534.4,260.0 534.6,259.5 534.9,259.0 535.1,258.6 535.3,258.1 535.5,257.6 535.7,257.1 535.9,256.6 536.1,256.0 536.3,255.4 536.4,254.8 536.6,254.1 536.8,253.4 537.0,252.6 537.1,251.8 537.3,251.0 537.4,250.3 537.6,249.5 537.7,248.8 537.9,248.1 538.0,247.4 538.2,246.8 538.3,246.2 538.4,245.8 538.6,245.3 538.7,244.9 538.8,244.4 539.0,244.0 539.1,243.6 539.2,243.2 539.3,242.8 539.5,242.4 539.6,242.0 539.7,241.6 539.8,241.2 539.9,240.9 540.1,240.6 540.2,240.2 540.3,239.9 540.4,239.6 540.5,239.3 540.6,239.0 540.8,238.8 540.9,238.5 541.0,238.3 541.1,238.0 541.2,237.8 541.3,237.6 541.4,237.3 541.6,237.1 541.7,236.9 541.8,236.7 541.9,236.5 542.0,236.3 542.1,236.2 542.2,236.0 542.3,235.8 542.4,235.7 542.6,235.5 542.7,235.4 542.8,235.2 542.9,235.1 543.0,235.0 543.2,234.9 543.3,234.8 543.4,234.7 543.5,234.6 543.6,234.5 543.8,234.4 543.9,234.3 544.0,234.2 544.1,234.2 544.2,234.1 544.4,234.1 544.5,234.0 544.6,234.0 544.8,234.0 544.9,234.0 545.0,233.9 545.2,233.9 545.3,233.9 545.5,234.0 545.6,234.0 545.7,234.0 545.9,234.0 546.0,234.1 546.1,234.1 546.3,234.2 546.4,234.2 546.6,234.3 546.7,234.4 546.8,234.4 547.0,234.5 547.1,234.6 547.3,234.7 547.4,234.8 547.6,234.9 547.7,235.1 547.8,235.2 548.0,235.3 548.1,235.5 548.3,235.6 548.4,235.8 548.6,235.9 548.7,236.1 548.8,236.3 549.0,236.4 549.1,236.6 549.3,236.8 549.4,237.0 549.6,237.2 549.7,237.5 549.8,237.7 550.0,237.9 550.1,238.2 550.3,238.4 550.5,238.7 550.6,238.9 550.8,239.2 550.9,239.5 551.1,239.7 551.3,240.0 551.4,240.3 551.6,240.6 551.8,240.9 552.0,241.2 552.1,241.6 552.3,241.9 552.4,242.2 552.6,242.6 552.7,243.0 552.9,243.4 553.1,243.8 553.2,244.2 553.4,244.6 553.5,245.1 553.7,245.5 553.9,246.0 554.0,246.5 554.2,247.0 554.4,247.5 554.6,248.0 554.7,248.5 554.9,249.0 555.1,249.5 555.3,250.1 555.5,250.6 555.6,251.3 555.8,252.0 556.0,252.7 556.2,253.4 556.4,254.2 556.6,255.0 556.8,255.9 556.9,256.7 557.1,257.5 557.3,258.3 557.5,259.1 557.7,259.9 557.9,260.6 558.1,261.3 558.3,262.0 558.5,262.6 558.7,263.3 558.9,263.9 559.1,264.6 559.3,265.2 559.5,265.8 559.7,266.4 560.0,267.0 560.2,267.7 560.4,268.3 560.6,268.9 560.8,269.5 561.1,270.1 561.3,270.8 561.5,271.4 561.8,272.1 562.0,272.7 562.3,273.4 562.5,274.0 562.8,274.7 563.1,275.4 563.4,276.1 563.7,276.9 564.0,277.6 564.3,278.3 564.7,279.1 565.0,279.9 565.4,280.8 565.8,281.7 566.2,282.6 566.6,283.5 567.0,284.4 567.4,285.3 567.8,286.3 568.2,287.2 568.7,288.2 569.1,289.1 569.6,290.0 570.0,290.9 570.5,291.8 570.9,292.7 571.4,293.6 571.9,294.4 572.4,295.3 572.9,296.2 573.4,297.1 574.0,298.0 574.5,298.8 575.1,299.7 575.7,300.6 576.3,301.4 576.9,302.3 577.6,303.2 578.2,304.0 578.9,304.9 579.6,305.7 580.3,306.6 581.0,307.4 581.8,308.3 582.5,309.1 583.4,309.9 584.3,310.8 585.3,311.7 586.3,312.5 587.2,313.4 588.2,314.2 589.1,315.0 590.1,315.9 591.0,316.7 592.0,317.6 593.0,318.4 593.9,319.3 594.9,320.1 595.9,320.9" fill="none" stroke="#000" stroke-width="1.9" stroke-linejoin="round" stroke-opacity="0.36"/>
<g fill-opacity="0.42"><circle cx="126.8" cy="202.6" r="1.15"/><circle cx="137.0" cy="206.5" r="1.15"/><circle cx="146.8" cy="210.3" r="1.15"/><circle cx="156.3" cy="214.1" r="1.15"/><circle cx="163.2" cy="217.2" r="1.15"/><circle cx="168.5" cy="219.9" r="1.15"/><circle cx="172.5" cy="222.3" r="1.15"/><circle cx="175.7" cy="224.6" r="1.15"/><circle cx="178.0" cy="226.6" r="1.15"/><circle cx="180.0" cy="228.5" r="1.15"/><circle cx="181.7" cy="230.3" r="1.15"/><circle cx="183.2" cy="232.1" r="1.15"/><circle cx="184.6" cy="233.9" r="1.15"/><circle cx="185.8" cy="235.6" r="1.15"/><circle cx="186.8" cy="237.3" r="1.15"/><circle cx="187.7" cy="239.0" r="1.15"/><circle cx="188.6" cy="240.6" r="1.15"/><circle cx="189.3" cy="242.2" r="1.15"/><circle cx="190.0" cy="243.8" r="1.15"/><circle cx="190.6" cy="245.4" r="1.15"/><circle cx="191.2" cy="247.0" r="1.15"/><circle cx="191.8" cy="248.5" r="1.15"/><circle cx="192.3" cy="250.1" r="1.15"/><circle cx="192.9" cy="251.7" r="1.15"/><circle cx="193.4" cy="253.2" r="1.15"/><circle cx="194.0" cy="254.8" r="1.15"/><circle cx="194.5" cy="256.4" r="1.15"/><circle cx="195.1" cy="258.0" r="1.15"/><circle cx="195.8" cy="259.5" r="1.15"/><circle cx="196.4" cy="261.1" r="1.15"/><circle cx="197.1" cy="262.7" r="1.15"/><circle cx="197.8" cy="264.3" r="1.15"/><circle cx="198.5" cy="265.9" r="1.15"/><circle cx="199.2" cy="267.5" r="1.15"/><circle cx="199.9" cy="269.1" r="1.15"/><circle cx="200.6" cy="270.7" r="1.15"/><circle cx="201.3" cy="272.3" r="1.15"/><circle cx="202.1" cy="273.9" r="1.15"/><circle cx="202.9" cy="275.6" r="1.15"/><circle cx="203.7" cy="277.2" r="1.15"/><circle cx="204.5" cy="278.8" r="1.15"/><circle cx="205.3" cy="280.4" r="1.15"/><circle cx="206.2" cy="282.1" r="1.15"/><circle cx="207.0" cy="283.7" r="1.15"/><circle cx="208.0" cy="285.4" r="1.15"/><circle cx="208.9" cy="287.0" r="1.15"/><circle cx="209.9" cy="288.7" r="1.15"/><circle cx="210.9" cy="290.4" r="1.15"/><circle cx="212.0" cy="292.1" r="1.15"/><circle cx="213.1" cy="293.8" r="1.15"/><circle cx="214.5" cy="295.5" r="1.15"/><circle cx="216.1" cy="297.4" r="1.15"/><circle cx="217.9" cy="299.3" r="1.15"/><circle cx="220.0" cy="301.2" r="1.15"/><circle cx="222.3" cy="303.2" r="1.15"/><circle cx="224.7" cy="305.2" r="1.15"/><circle cx="227.6" cy="307.3" r="1.15"/><circle cx="230.8" cy="309.5" r="1.15"/><circle cx="234.6" cy="311.9" r="1.15"/><circle cx="239.3" cy="314.5" r="1.15"/><circle cx="244.0" cy="317.1" r="1.15"/></g>
<g fill-opacity="0.42"><circle cx="475.6" cy="291.2" r="1.15"/><circle cx="485.7" cy="290.6" r="1.15"/><circle cx="495.5" cy="289.9" r="1.15"/><circle cx="505.0" cy="289.0" r="1.15"/><circle cx="511.9" cy="287.3" r="1.15"/><circle cx="517.1" cy="285.1" r="1.15"/><circle cx="521.1" cy="282.4" r="1.15"/><circle cx="524.3" cy="279.1" r="1.15"/><circle cx="526.7" cy="275.2" r="1.15"/><circle cx="528.6" cy="271.4" r="1.15"/><circle cx="530.4" cy="268.3" r="1.15"/><circle cx="531.9" cy="265.3" r="1.15"/><circle cx="533.3" cy="262.4" r="1.15"/><circle cx="534.4" cy="259.9" r="1.15"/><circle cx="535.5" cy="257.6" r="1.15"/><circle cx="536.4" cy="254.8" r="1.15"/><circle cx="537.3" cy="251.2" r="1.15"/><circle cx="538.0" cy="247.5" r="1.15"/><circle cx="538.7" cy="245.0" r="1.15"/><circle cx="539.3" cy="242.9" r="1.15"/><circle cx="539.9" cy="241.0" r="1.15"/><circle cx="540.5" cy="239.4" r="1.15"/><circle cx="541.0" cy="238.2" r="1.15"/><circle cx="541.6" cy="237.1" r="1.15"/><circle cx="542.1" cy="236.1" r="1.15"/><circle cx="542.7" cy="235.3" r="1.15"/><circle cx="543.3" cy="234.7" r="1.15"/><circle cx="543.9" cy="234.3" r="1.15"/><circle cx="544.5" cy="234.0" r="1.15"/><circle cx="545.2" cy="233.9" r="1.15"/><circle cx="545.8" cy="234.0" r="1.15"/><circle cx="546.5" cy="234.3" r="1.15"/><circle cx="547.2" cy="234.7" r="1.15"/><circle cx="547.9" cy="235.3" r="1.15"/><circle cx="548.6" cy="236.0" r="1.15"/><circle cx="549.3" cy="236.9" r="1.15"/><circle cx="550.1" cy="238.0" r="1.15"/><circle cx="550.8" cy="239.3" r="1.15"/><circle cx="551.7" cy="240.7" r="1.15"/><circle cx="552.5" cy="242.3" r="1.15"/><circle cx="553.2" cy="244.2" r="1.15"/><circle cx="554.1" cy="246.5" r="1.15"/><circle cx="554.9" cy="249.0" r="1.15"/><circle cx="555.8" cy="251.9" r="1.15"/><circle cx="556.7" cy="255.7" r="1.15"/><circle cx="557.7" cy="259.7" r="1.15"/><circle cx="558.6" cy="263.1" r="1.15"/><circle cx="559.7" cy="266.2" r="1.15"/><circle cx="560.8" cy="269.3" r="1.15"/><circle cx="561.9" cy="272.4" r="1.15"/><circle cx="563.2" cy="275.7" r="1.15"/><circle cx="564.8" cy="279.4" r="1.15"/><circle cx="566.7" cy="283.7" r="1.15"/><circle cx="568.8" cy="288.4" r="1.15"/><circle cx="571.0" cy="292.8" r="1.15"/><circle cx="573.5" cy="297.1" r="1.15"/><circle cx="576.3" cy="301.4" r="1.15"/><circle cx="579.5" cy="305.7" r="1.15"/><circle cx="583.3" cy="309.8" r="1.15"/><circle cx="588.0" cy="314.0" r="1.15"/><circle cx="592.7" cy="318.2" r="1.15"/></g>
<path d="M122.6,205.1 124.6,205.9 126.7,206.7 128.8,207.5 130.8,208.3 132.8,209.0 134.8,209.8 136.7,210.6 138.7,211.4 140.7,212.1 142.7,212.9 144.7,213.7 146.7,214.5 148.6,215.2 150.4,216.0 152.2,216.7 153.8,217.4 155.2,218.0 156.6,218.6 157.8,219.2 159.1,219.8 160.2,220.4 161.4,221.0 162.4,221.5 163.4,222.0 164.3,222.6 165.2,223.1 166.0,223.6 166.8,224.0 167.6,224.5 168.3,225.0 169.0,225.5 169.7,225.9 170.3,226.4 170.9,226.8 171.5,227.2 172.0,227.6 172.5,228.0 172.9,228.4 173.4,228.8 173.8,229.2 174.2,229.6 174.6,230.0 175.0,230.4 175.4,230.8 175.8,231.2 176.1,231.6 176.5,231.9 176.8,232.3 177.2,232.7 177.5,233.1 177.8,233.4 178.2,233.8 178.5,234.2 178.8,234.5 179.1,234.9 179.3,235.2 179.6,235.6 179.9,236.0 180.2,236.3 180.4,236.7 180.6,237.0 180.9,237.4 181.1,237.7 181.3,238.0 181.5,238.4 181.7,238.7 181.9,239.1 182.1,239.4 182.3,239.7 182.5,240.1 182.7,240.4 182.9,240.8 183.0,241.1 183.2,241.4 183.4,241.8 183.5,242.1 183.7,242.4 183.8,242.7 184.0,243.1 184.1,243.4 184.3,243.7 184.4,244.0 184.5,244.4 184.6,244.7 184.8,245.0 184.9,245.3 185.0,245.6 185.1,246.0 185.2,246.3 185.3,246.6 185.4,246.9 185.5,247.2 185.7,247.5 185.8,247.9 185.9,248.2 186.0,248.5 186.1,248.8 186.2,249.1 186.3,249.4 186.4,249.7 186.5,250.1 186.6,250.4 186.7,250.7 186.8,251.0 186.9,251.3 187.0,251.6 187.0,251.9 187.1,252.3 187.2,252.6 187.3,252.9 187.4,253.2 187.5,253.5 187.6,253.8 187.7,254.1 187.8,254.5 187.9,254.8 188.0,255.1 188.1,255.4 188.2,255.7 188.3,256.0 188.4,256.3 188.5,256.6 188.6,257.0 188.7,257.3 188.8,257.6 188.9,257.9 189.0,258.2 189.1,258.5 189.2,258.9 189.3,259.2 189.4,259.5 189.5,259.8 189.7,260.1 189.8,260.5 189.9,260.8 190.0,261.1 190.1,261.4 190.3,261.7 190.4,262.1 190.5,262.4 190.7,262.7 190.8,263.0 190.9,263.3 191.1,263.7 191.2,264.0 191.3,264.3 191.5,264.6 191.6,265.0 191.8,265.3 191.9,265.6 192.1,265.9 192.2,266.3 192.3,266.6 192.5,266.9 192.6,267.3 192.8,267.6 192.9,267.9 193.1,268.2 193.2,268.6 193.4,268.9 193.6,269.2 193.7,269.5 193.8,269.9 194.0,270.2 194.1,270.5 194.3,270.8 194.4,271.2 194.6,271.5 194.7,271.8 194.9,272.2 195.1,272.5 195.2,272.8 195.4,273.1 195.5,273.5 195.7,273.8 195.8,274.1 196.0,274.5 196.2,274.8 196.3,275.1 196.5,275.5 196.7,275.8 196.9,276.1 197.1,276.5 197.2,276.8 197.4,277.1 197.6,277.5 197.8,277.8 198.0,278.1 198.2,278.5 198.4,278.8 198.6,279.1 198.7,279.5 198.9,279.8 199.1,280.1 199.3,280.5 199.4,280.8 199.6,281.1 199.8,281.5 200.0,281.8 200.2,282.1 200.4,282.5 200.6,282.8 200.8,283.2 201.0,283.5 201.2,283.8 201.3,284.2 201.5,284.5 201.7,284.8 201.9,285.2 202.1,285.5 202.3,285.9 202.5,286.2 202.7,286.5 203.0,286.9 203.2,287.2 203.4,287.6 203.6,287.9 203.8,288.2 204.0,288.6 204.2,288.9 204.4,289.3 204.6,289.6 204.8,290.0 205.1,290.3 205.3,290.6 205.5,291.0 205.7,291.3 205.9,291.7 206.1,292.0 206.4,292.4 206.6,292.7 206.8,293.0 207.0,293.4 207.3,293.7 207.5,294.1 207.7,294.4 208.0,294.8 208.2,295.1 208.5,295.5 208.7,295.8 208.9,296.2 209.2,296.5 209.4,296.9 209.7,297.2 210.0,297.6 210.3,297.9 210.6,298.3 210.9,298.7 211.2,299.0 211.5,299.4 211.9,299.8 212.2,300.2 212.6,300.5 213.0,300.9 213.4,301.3 213.8,301.7 214.2,302.1 214.6,302.5 215.0,302.9 215.4,303.3 215.9,303.7 216.3,304.1 216.8,304.5 217.2,304.9 217.7,305.3 218.1,305.7 218.6,306.1 219.1,306.5 219.6,306.9 220.1,307.3 220.6,307.7 221.1,308.1 221.7,308.6 222.3,309.0 222.8,309.4 223.4,309.9 224.1,310.3 224.7,310.7 225.3,311.2 226.0,311.6 226.7,312.1 227.4,312.6 228.1,313.0 228.9,313.5 229.6,314.0 230.5,314.5 231.4,315.0 232.4,315.5 233.3,316.0 234.3,316.6 235.2,317.1 236.2,317.6 237.1,318.1 238.1,318.7 239.1,319.2 240.0,319.7 241.0,320.3 242.0,320.8 243.0,321.3" fill="none" stroke="#000" stroke-width="1.9" stroke-linejoin="round" stroke-opacity="0.36"/>
<path d="M471.4,294.1 473.5,294.0 475.5,293.9 477.5,293.8 479.6,293.7 481.6,293.6 483.5,293.4 485.5,293.3 487.4,293.2 489.4,293.1 491.4,292.9 493.4,292.8 495.4,292.7 497.3,292.5 499.2,292.3 500.9,292.1 502.5,291.8 503.9,291.5 505.3,291.2 506.5,290.8 507.8,290.5 508.9,290.1 510.0,289.7 511.1,289.2 512.1,288.8 513.0,288.3 513.9,287.8 514.7,287.3 515.5,286.8 516.3,286.2 517.0,285.7 517.7,285.1 518.4,284.5 519.0,283.8 519.6,283.1 520.2,282.4 520.7,281.6 521.2,280.9 521.6,280.1 522.0,279.3 522.5,278.5 522.9,277.7 523.3,276.9 523.7,276.2 524.1,275.4 524.4,274.7 524.8,274.1 525.2,273.5 525.5,272.9 525.9,272.3 526.2,271.6 526.5,271.0 526.8,270.4 527.1,269.8 527.4,269.2 527.7,268.6 528.0,268.0 528.3,267.3 528.6,266.7 528.8,266.1 529.1,265.5 529.3,265.0 529.5,264.5 529.8,264.1 530.0,263.6 530.2,263.2 530.4,262.7 530.6,262.3 530.8,261.8 531.0,261.4 531.2,260.9 531.4,260.4 531.6,259.9 531.7,259.3 531.9,258.7 532.1,258.0 532.2,257.3 532.4,256.6 532.5,255.9 532.7,255.2 532.8,254.4 532.9,253.7 533.1,253.0 533.2,252.3 533.3,251.7 533.5,251.1 533.6,250.6 533.7,250.1 533.8,249.7 533.9,249.3 534.0,248.8 534.1,248.4 534.3,248.0 534.4,247.6 534.5,247.2 534.6,246.8 534.7,246.5 534.8,246.1 534.9,245.8 535.0,245.4 535.1,245.1 535.2,244.8 535.3,244.5 535.4,244.2 535.5,243.9 535.6,243.6 535.7,243.3 535.8,243.1 535.9,242.8 536.0,242.6 536.0,242.4 536.1,242.2 536.2,241.9 536.3,241.7 536.4,241.5 536.5,241.3 536.6,241.1 536.7,241.0 536.8,240.8 536.9,240.6 537.0,240.4 537.1,240.3 537.2,240.1 537.3,240.0 537.4,239.9 537.5,239.7 537.6,239.6 537.7,239.5 537.8,239.4 537.9,239.3 538.1,239.2 538.2,239.1 538.3,239.0 538.4,238.9 538.5,238.9 538.6,238.8 538.7,238.8 538.9,238.7 539.0,238.7 539.1,238.6 539.3,238.6 539.4,238.6 539.5,238.6 539.7,238.6 539.8,238.6 539.9,238.6 540.1,238.6 540.2,238.6 540.4,238.7 540.5,238.7 540.7,238.8 540.8,238.8 540.9,238.9 541.1,238.9 541.2,239.0 541.4,239.1 541.5,239.2 541.7,239.3 541.8,239.4 542.0,239.5 542.1,239.6 542.3,239.7 542.5,239.8 542.6,240.0 542.8,240.1 542.9,240.3 543.0,240.4 543.2,240.6 543.3,240.7 543.5,240.9 543.7,241.1 543.8,241.3 544.0,241.5 544.1,241.7 544.3,241.9 544.4,242.1 544.6,242.3 544.8,242.5 544.9,242.8 545.1,243.0 545.3,243.3 545.5,243.5 545.6,243.8 545.8,244.1 546.0,244.3 546.2,244.6 546.4,244.9 546.6,245.2 546.8,245.5 547.0,245.8 547.1,246.2 547.3,246.5 547.5,246.8 547.7,247.2 547.9,247.6 548.0,247.9 548.2,248.3 548.4,248.8 548.6,249.2 548.8,249.6 548.9,250.1 549.1,250.5 549.3,251.0 549.5,251.5 549.7,251.9 549.9,252.4 550.1,253.0 550.3,253.5 550.5,254.0 550.7,254.5 550.9,255.1 551.1,255.7 551.3,256.3 551.5,257.0 551.7,257.8 551.9,258.5 552.1,259.3 552.3,260.1 552.5,260.9 552.8,261.7 553.0,262.5 553.2,263.3 553.4,264.0 553.6,264.7 553.8,265.4 554.0,266.1 554.2,266.7 554.5,267.3 554.7,267.9 554.9,268.6 555.1,269.2 555.3,269.8 555.6,270.4 555.8,271.0 556.0,271.6 556.3,272.2 556.5,272.8 556.7,273.4 557.0,274.0 557.2,274.7 557.5,275.3 557.7,275.9 557.9,276.5 558.2,277.2 558.5,277.8 558.7,278.5 559.0,279.2 559.3,279.9 559.6,280.6 560.0,281.3 560.3,282.0 560.6,282.8 561.0,283.6 561.4,284.4 561.7,285.3 562.1,286.1 562.5,287.0 562.9,287.9 563.3,288.8 563.7,289.8 564.2,290.7 564.6,291.6 565.1,292.5 565.5,293.4 566.0,294.3 566.4,295.1 566.9,296.0 567.3,296.9 567.8,297.7 568.3,298.6 568.8,299.4 569.3,300.3 569.9,301.1 570.4,302.0 571.0,302.8 571.6,303.7 572.2,304.5 572.8,305.4 573.4,306.2 574.1,307.1 574.7,307.9 575.4,308.8 576.1,309.6 576.8,310.4 577.6,311.2 578.4,312.1 579.2,312.9 580.1,313.7 581.1,314.6 582.0,315.4 583.0,316.2 583.9,317.1 584.9,317.9 585.8,318.7 586.8,319.6 587.8,320.4 588.7,321.2 589.7,322.1 590.7,322.9 591.7,323.7" fill="none" stroke="#000" stroke-width="1.9" stroke-linejoin="round" stroke-opacity="0.36"/>
<g fill-opacity="0.42"><circle cx="122.6" cy="205.1" r="1.15"/><circle cx="132.6" cy="209.0" r="1.15"/><circle cx="142.4" cy="212.8" r="1.15"/><circle cx="151.8" cy="216.5" r="1.15"/><circle cx="158.7" cy="219.7" r="1.15"/><circle cx="164.0" cy="222.4" r="1.15"/><circle cx="168.0" cy="224.8" r="1.15"/><circle cx="171.2" cy="227.0" r="1.15"/><circle cx="173.6" cy="229.0" r="1.15"/><circle cx="175.5" cy="230.9" r="1.15"/><circle cx="177.3" cy="232.8" r="1.15"/><circle cx="178.8" cy="234.6" r="1.15"/><circle cx="180.2" cy="236.4" r="1.15"/><circle cx="181.3" cy="238.1" r="1.15"/><circle cx="182.3" cy="239.7" r="1.15"/><circle cx="183.2" cy="241.4" r="1.15"/><circle cx="184.0" cy="243.0" r="1.15"/><circle cx="184.6" cy="244.6" r="1.15"/><circle cx="185.2" cy="246.2" r="1.15"/><circle cx="185.7" cy="247.7" r="1.15"/><circle cx="186.2" cy="249.3" r="1.15"/><circle cx="186.7" cy="250.9" r="1.15"/><circle cx="187.2" cy="252.4" r="1.15"/><circle cx="187.6" cy="253.9" r="1.15"/><circle cx="188.1" cy="255.5" r="1.15"/><circle cx="188.6" cy="257.0" r="1.15"/><circle cx="189.1" cy="258.6" r="1.15"/><circle cx="189.7" cy="260.2" r="1.15"/><circle cx="190.3" cy="261.7" r="1.15"/><circle cx="190.9" cy="263.3" r="1.15"/><circle cx="191.6" cy="264.9" r="1.15"/><circle cx="192.3" cy="266.5" r="1.15"/><circle cx="193.1" cy="268.1" r="1.15"/><circle cx="193.8" cy="269.8" r="1.15"/><circle cx="194.5" cy="271.4" r="1.15"/><circle cx="195.3" cy="273.0" r="1.15"/><circle cx="196.1" cy="274.6" r="1.15"/><circle cx="196.9" cy="276.2" r="1.15"/><circle cx="197.9" cy="277.9" r="1.15"/><circle cx="198.8" cy="279.5" r="1.15"/><circle cx="199.7" cy="281.2" r="1.15"/><circle cx="200.6" cy="282.8" r="1.15"/><circle cx="201.5" cy="284.5" r="1.15"/><circle cx="202.5" cy="286.2" r="1.15"/><circle cx="203.5" cy="287.9" r="1.15"/><circle cx="204.6" cy="289.5" r="1.15"/><circle cx="205.6" cy="291.2" r="1.15"/><circle cx="206.7" cy="292.9" r="1.15"/><circle cx="207.9" cy="294.6" r="1.15"/><circle cx="209.1" cy="296.3" r="1.15"/><circle cx="210.4" cy="298.1" r="1.15"/><circle cx="212.0" cy="299.9" r="1.15"/><circle cx="213.9" cy="301.8" r="1.15"/><circle cx="216.0" cy="303.7" r="1.15"/><circle cx="218.2" cy="305.7" r="1.15"/><circle cx="220.6" cy="307.7" r="1.15"/><circle cx="223.4" cy="309.9" r="1.15"/><circle cx="226.7" cy="312.1" r="1.15"/><circle cx="230.4" cy="314.4" r="1.15"/><circle cx="235.0" cy="317.0" r="1.15"/><circle cx="239.8" cy="319.6" r="1.15"/></g>
<g fill-opacity="0.42"><circle cx="471.4" cy="294.1" r="1.15"/><circle cx="481.4" cy="293.6" r="1.15"/><circle cx="491.1" cy="292.9" r="1.15"/><circle cx="500.5" cy="292.1" r="1.15"/><circle cx="507.4" cy="290.6" r="1.15"/><circle cx="512.7" cy="288.5" r="1.15"/><circle cx="516.7" cy="285.9" r="1.15"/><circle cx="519.9" cy="282.8" r="1.15"/><circle cx="522.2" cy="278.9" r="1.15"/><circle cx="524.2" cy="275.2" r="1.15"/><circle cx="526.0" cy="272.1" r="1.15"/><circle cx="527.5" cy="269.1" r="1.15"/><circle cx="528.9" cy="266.0" r="1.15"/><circle cx="530.0" cy="263.6" r="1.15"/><circle cx="531.0" cy="261.4" r="1.15"/><circle cx="531.9" cy="258.7" r="1.15"/><circle cx="532.6" cy="255.3" r="1.15"/><circle cx="533.3" cy="251.8" r="1.15"/><circle cx="533.9" cy="249.4" r="1.15"/><circle cx="534.4" cy="247.4" r="1.15"/><circle cx="534.9" cy="245.6" r="1.15"/><circle cx="535.4" cy="244.0" r="1.15"/><circle cx="535.9" cy="242.7" r="1.15"/><circle cx="536.4" cy="241.7" r="1.15"/><circle cx="536.8" cy="240.7" r="1.15"/><circle cx="537.3" cy="240.0" r="1.15"/><circle cx="537.8" cy="239.4" r="1.15"/><circle cx="538.4" cy="238.9" r="1.15"/><circle cx="539.0" cy="238.7" r="1.15"/><circle cx="539.7" cy="238.6" r="1.15"/><circle cx="540.4" cy="238.7" r="1.15"/><circle cx="541.1" cy="238.9" r="1.15"/><circle cx="541.8" cy="239.3" r="1.15"/><circle cx="542.5" cy="239.9" r="1.15"/><circle cx="543.3" cy="240.7" r="1.15"/><circle cx="544.0" cy="241.6" r="1.15"/><circle cx="544.8" cy="242.6" r="1.15"/><circle cx="545.7" cy="243.9" r="1.15"/><circle cx="546.6" cy="245.3" r="1.15"/><circle cx="547.5" cy="246.9" r="1.15"/><circle cx="548.4" cy="248.8" r="1.15"/><circle cx="549.3" cy="251.0" r="1.15"/><circle cx="550.3" cy="253.5" r="1.15"/><circle cx="551.3" cy="256.3" r="1.15"/><circle cx="552.3" cy="260.0" r="1.15"/><circle cx="553.3" cy="263.8" r="1.15"/><circle cx="554.4" cy="267.1" r="1.15"/><circle cx="555.5" cy="270.2" r="1.15"/><circle cx="556.6" cy="273.2" r="1.15"/><circle cx="557.8" cy="276.2" r="1.15"/><circle cx="559.1" cy="279.5" r="1.15"/><circle cx="560.8" cy="283.1" r="1.15"/><circle cx="562.6" cy="287.3" r="1.15"/><circle cx="564.7" cy="291.8" r="1.15"/><circle cx="566.9" cy="296.1" r="1.15"/><circle cx="569.4" cy="300.4" r="1.15"/><circle cx="572.2" cy="304.5" r="1.15"/><circle cx="575.4" cy="308.7" r="1.15"/><circle cx="579.1" cy="312.8" r="1.15"/><circle cx="583.7" cy="316.9" r="1.15"/><circle cx="588.5" cy="321.0" r="1.15"/></g>
<path d="M118.3,207.6 120.3,208.4 122.4,209.2 124.4,210.0 126.4,210.7 128.4,211.5 130.4,212.3 132.4,213.1 134.3,213.8 136.2,214.6 138.2,215.4 140.2,216.1 142.2,216.9 144.1,217.7 146.0,218.4 147.7,219.1 149.3,219.8 150.7,220.5 152.1,221.1 153.4,221.7 154.6,222.3 155.8,222.9 156.9,223.4 157.9,224.0 158.9,224.5 159.9,225.0 160.7,225.5 161.6,226.0 162.4,226.5 163.1,227.0 163.9,227.4 164.6,227.9 165.2,228.4 165.9,228.8 166.5,229.2 167.0,229.7 167.5,230.1 168.0,230.5 168.5,230.9 168.9,231.3 169.3,231.7 169.7,232.1 170.1,232.5 170.5,232.9 170.9,233.2 171.3,233.6 171.7,234.0 172.0,234.4 172.4,234.8 172.7,235.1 173.1,235.5 173.4,235.9 173.7,236.3 174.0,236.6 174.3,237.0 174.6,237.3 174.9,237.7 175.2,238.1 175.5,238.4 175.7,238.8 176.0,239.1 176.2,239.5 176.4,239.8 176.6,240.2 176.8,240.5 177.0,240.8 177.2,241.2 177.4,241.5 177.6,241.9 177.8,242.2 178.0,242.5 178.1,242.9 178.3,243.2 178.5,243.5 178.6,243.8 178.8,244.2 178.9,244.5 179.1,244.8 179.2,245.1 179.3,245.5 179.5,245.8 179.6,246.1 179.7,246.4 179.8,246.7 179.9,247.1 180.0,247.4 180.1,247.7 180.2,248.0 180.3,248.3 180.4,248.6 180.5,249.0 180.6,249.3 180.7,249.6 180.7,249.9 180.8,250.2 180.9,250.5 181.0,250.8 181.1,251.1 181.2,251.4 181.2,251.8 181.3,252.1 181.4,252.4 181.5,252.7 181.6,253.0 181.6,253.3 181.7,253.6 181.8,253.9 181.9,254.2 181.9,254.5 182.0,254.8 182.1,255.2 182.1,255.5 182.2,255.8 182.3,256.1 182.4,256.4 182.4,256.7 182.5,257.0 182.6,257.3 182.7,257.6 182.7,257.9 182.8,258.2 182.9,258.5 183.0,258.9 183.1,259.2 183.2,259.5 183.3,259.8 183.4,260.1 183.5,260.4 183.5,260.7 183.6,261.1 183.7,261.4 183.9,261.7 184.0,262.0 184.1,262.3 184.2,262.6 184.3,262.9 184.4,263.3 184.5,263.6 184.6,263.9 184.8,264.2 184.9,264.5 185.0,264.9 185.2,265.2 185.3,265.5 185.4,265.8 185.6,266.2 185.7,266.5 185.9,266.8 186.0,267.1 186.2,267.5 186.3,267.8 186.5,268.1 186.6,268.5 186.8,268.8 186.9,269.1 187.1,269.4 187.2,269.8 187.4,270.1 187.6,270.4 187.7,270.8 187.9,271.1 188.0,271.4 188.2,271.7 188.4,272.1 188.5,272.4 188.7,272.7 188.8,273.1 189.0,273.4 189.1,273.7 189.3,274.0 189.5,274.4 189.6,274.7 189.8,275.0 190.0,275.4 190.1,275.7 190.3,276.0 190.5,276.4 190.7,276.7 190.9,277.0 191.0,277.4 191.2,277.7 191.4,278.0 191.6,278.4 191.9,278.7 192.1,279.1 192.3,279.4 192.5,279.8 192.7,280.1 192.9,280.4 193.1,280.8 193.4,281.1 193.6,281.5 193.8,281.8 194.0,282.1 194.2,282.5 194.4,282.8 194.6,283.2 194.8,283.5 195.0,283.8 195.2,284.2 195.4,284.5 195.6,284.9 195.8,285.2 196.0,285.6 196.2,285.9 196.5,286.2 196.7,286.6 196.9,286.9 197.1,287.3 197.3,287.6 197.6,288.0 197.8,288.3 198.0,288.6 198.2,289.0 198.5,289.3 198.7,289.7 198.9,290.0 199.2,290.4 199.4,290.7 199.6,291.1 199.9,291.4 200.1,291.8 200.3,292.1 200.5,292.5 200.8,292.8 201.0,293.1 201.2,293.5 201.5,293.8 201.7,294.2 201.9,294.5 202.2,294.9 202.4,295.2 202.7,295.6 202.9,295.9 203.1,296.3 203.4,296.6 203.6,297.0 203.9,297.3 204.1,297.7 204.4,298.0 204.6,298.4 204.9,298.7 205.1,299.1 205.4,299.4 205.7,299.8 205.9,300.1 206.2,300.5 206.5,300.9 206.8,301.2 207.2,301.6 207.5,302.0 207.9,302.4 208.2,302.7 208.6,303.1 208.9,303.5 209.3,303.9 209.7,304.3 210.1,304.7 210.5,305.0 211.0,305.4 211.4,305.8 211.8,306.2 212.3,306.6 212.7,307.0 213.2,307.4 213.6,307.8 214.1,308.2 214.5,308.6 215.0,309.0 215.5,309.4 216.0,309.9 216.5,310.3 217.0,310.7 217.6,311.1 218.2,311.5 218.7,312.0 219.3,312.4 219.9,312.8 220.6,313.3 221.2,313.7 221.9,314.2 222.6,314.6 223.2,315.1 224.0,315.6 224.7,316.0 225.5,316.5 226.3,317.0 227.2,317.5 228.1,318.0 229.1,318.6 230.1,319.1 231.0,319.6 231.9,320.1 232.9,320.7 233.9,321.2 234.8,321.7 235.8,322.2 236.8,322.8 237.8,323.3 238.9,323.9" fill="none" stroke="#000" stroke-width="1.9" stroke-linejoin="round" stroke-opacity="0.36"/>
<path d="M467.1,296.9 469.2,296.9 471.2,296.8 473.2,296.7 475.2,296.6 477.2,296.5 479.2,296.4 481.1,296.3 483.1,296.2 485.0,296.1 487.0,296.0 489.0,295.8 491.0,295.7 492.9,295.6 494.7,295.4 496.4,295.2 498.0,295.0 499.4,294.7 500.8,294.4 502.1,294.1 503.3,293.7 504.5,293.3 505.6,293.0 506.6,292.6 507.6,292.1 508.6,291.7 509.4,291.2 510.3,290.8 511.0,290.3 511.8,289.7 512.5,289.2 513.2,288.6 513.9,288.0 514.5,287.4 515.1,286.7 515.7,286.0 516.2,285.3 516.7,284.5 517.1,283.8 517.6,283.0 518.0,282.2 518.4,281.4 518.8,280.7 519.2,279.9 519.6,279.2 520.0,278.5 520.3,277.9 520.7,277.3 521.1,276.6 521.4,276.0 521.7,275.4 522.1,274.8 522.4,274.2 522.7,273.5 523.0,272.9 523.3,272.3 523.6,271.6 523.9,271.0 524.1,270.3 524.4,269.6 524.6,269.0 524.9,268.5 525.1,268.1 525.3,267.7 525.5,267.2 525.7,266.8 525.9,266.4 526.1,266.0 526.3,265.5 526.5,265.1 526.7,264.6 526.8,264.2 527.0,263.7 527.2,263.1 527.3,262.5 527.5,261.9 527.6,261.3 527.7,260.6 527.9,259.9 528.0,259.2 528.1,258.5 528.3,257.8 528.4,257.1 528.5,256.5 528.6,255.9 528.7,255.3 528.8,254.8 528.9,254.4 529.0,254.0 529.1,253.6 529.2,253.1 529.3,252.7 529.4,252.4 529.4,252.0 529.5,251.6 529.6,251.2 529.7,250.9 529.8,250.5 529.9,250.2 529.9,249.8 530.0,249.5 530.1,249.2 530.2,248.9 530.3,248.6 530.3,248.3 530.4,248.1 530.5,247.8 530.6,247.6 530.6,247.3 530.7,247.1 530.8,246.9 530.9,246.6 530.9,246.4 531.0,246.2 531.1,246.0 531.2,245.8 531.2,245.6 531.3,245.5 531.4,245.3 531.4,245.1 531.5,245.0 531.6,244.8 531.7,244.6 531.8,244.5 531.9,244.4 532.0,244.2 532.1,244.1 532.2,244.0 532.3,243.9 532.4,243.8 532.5,243.7 532.6,243.6 532.7,243.5 532.8,243.5 532.9,243.4 533.0,243.3 533.1,243.3 533.2,243.2 533.4,243.2 533.5,243.2 533.6,243.2 533.7,243.1 533.9,243.1 534.0,243.1 534.2,243.1 534.3,243.2 534.5,243.2 534.6,243.2 534.8,243.2 534.9,243.3 535.0,243.3 535.2,243.4 535.3,243.4 535.5,243.5 535.6,243.6 535.8,243.6 536.0,243.7 536.1,243.8 536.3,243.9 536.5,244.0 536.6,244.2 536.8,244.3 536.9,244.4 537.1,244.5 537.3,244.7 537.4,244.8 537.6,245.0 537.7,245.1 537.9,245.3 538.1,245.5 538.2,245.6 538.4,245.8 538.5,246.0 538.7,246.2 538.9,246.4 539.1,246.6 539.2,246.9 539.4,247.1 539.6,247.3 539.8,247.6 540.0,247.8 540.2,248.1 540.4,248.3 540.6,248.6 540.8,248.9 541.0,249.2 541.2,249.5 541.5,249.7 541.7,250.1 541.9,250.4 542.1,250.7 542.3,251.0 542.5,251.3 542.7,251.7 542.9,252.1 543.1,252.4 543.3,252.8 543.5,253.2 543.7,253.6 543.9,254.1 544.1,254.5 544.3,255.0 544.6,255.4 544.8,255.9 545.0,256.4 545.2,256.9 545.4,257.3 545.7,257.8 545.9,258.4 546.1,258.9 546.3,259.4 546.5,260.0 546.8,260.6 547.0,261.3 547.2,262.0 547.4,262.8 547.7,263.5 547.9,264.3 548.1,265.1 548.4,265.8 548.6,266.6 548.8,267.3 549.1,268.1 549.3,268.8 549.5,269.4 549.8,270.1 550.0,270.7 550.2,271.3 550.4,271.9 550.7,272.5 550.9,273.1 551.2,273.7 551.4,274.3 551.6,274.9 551.9,275.5 552.1,276.1 552.4,276.7 552.6,277.3 552.9,277.9 553.1,278.5 553.4,279.1 553.6,279.7 553.9,280.3 554.1,281.0 554.4,281.6 554.7,282.2 555.0,282.9 555.3,283.6 555.6,284.3 555.9,285.0 556.2,285.7 556.6,286.4 556.9,287.2 557.3,288.0 557.7,288.8 558.1,289.7 558.5,290.5 558.9,291.4 559.3,292.3 559.7,293.2 560.1,294.1 560.6,295.0 561.0,295.9 561.4,296.7 561.9,297.6 562.3,298.4 562.8,299.3 563.3,300.1 563.7,301.0 564.2,301.8 564.7,302.6 565.2,303.5 565.8,304.3 566.3,305.1 566.9,306.0 567.5,306.8 568.1,307.6 568.7,308.4 569.3,309.3 569.9,310.1 570.6,310.9 571.3,311.8 572.0,312.6 572.7,313.4 573.4,314.2 574.2,315.0 575.0,315.8 575.9,316.6 576.9,317.5 577.8,318.3 578.8,319.1 579.7,319.9 580.6,320.7 581.6,321.5 582.6,322.4 583.5,323.2 584.5,324.0 585.5,324.8 586.5,325.6 587.6,326.4" fill="none" stroke="#000" stroke-width="1.9" stroke-linejoin="round" stroke-opacity="0.36"/>
<g fill-opacity="0.42"><circle cx="118.3" cy="207.6" r="1.15"/><circle cx="128.3" cy="211.5" r="1.15"/><circle cx="138.0" cy="215.3" r="1.15"/><circle cx="147.4" cy="219.0" r="1.15"/><circle cx="154.3" cy="222.1" r="1.15"/><circle cx="159.5" cy="224.8" r="1.15"/><circle cx="163.6" cy="227.2" r="1.15"/><circle cx="166.7" cy="229.5" r="1.15"/><circle cx="169.1" cy="231.5" r="1.15"/><circle cx="171.0" cy="233.4" r="1.15"/><circle cx="172.8" cy="235.2" r="1.15"/><circle cx="174.4" cy="237.1" r="1.15"/><circle cx="175.8" cy="238.8" r="1.15"/><circle cx="176.8" cy="240.5" r="1.15"/><circle cx="177.8" cy="242.2" r="1.15"/><circle cx="178.6" cy="243.8" r="1.15"/><circle cx="179.3" cy="245.4" r="1.15"/><circle cx="179.9" cy="247.0" r="1.15"/><circle cx="180.4" cy="248.5" r="1.15"/><circle cx="180.8" cy="250.1" r="1.15"/><circle cx="181.2" cy="251.6" r="1.15"/><circle cx="181.6" cy="253.1" r="1.15"/><circle cx="182.0" cy="254.7" r="1.15"/><circle cx="182.3" cy="256.2" r="1.15"/><circle cx="182.7" cy="257.7" r="1.15"/><circle cx="183.1" cy="259.2" r="1.15"/><circle cx="183.6" cy="260.8" r="1.15"/><circle cx="184.1" cy="262.3" r="1.15"/><circle cx="184.6" cy="263.9" r="1.15"/><circle cx="185.3" cy="265.5" r="1.15"/><circle cx="186.0" cy="267.1" r="1.15"/><circle cx="186.7" cy="268.7" r="1.15"/><circle cx="187.5" cy="270.3" r="1.15"/><circle cx="188.3" cy="272.0" r="1.15"/><circle cx="189.1" cy="273.6" r="1.15"/><circle cx="189.9" cy="275.2" r="1.15"/><circle cx="190.7" cy="276.8" r="1.15"/><circle cx="191.7" cy="278.5" r="1.15"/><circle cx="192.8" cy="280.2" r="1.15"/><circle cx="193.8" cy="281.9" r="1.15"/><circle cx="194.8" cy="283.5" r="1.15"/><circle cx="195.8" cy="285.2" r="1.15"/><circle cx="196.9" cy="286.9" r="1.15"/><circle cx="198.0" cy="288.6" r="1.15"/><circle cx="199.1" cy="290.3" r="1.15"/><circle cx="200.3" cy="292.0" r="1.15"/><circle cx="201.4" cy="293.7" r="1.15"/><circle cx="202.6" cy="295.5" r="1.15"/><circle cx="203.8" cy="297.2" r="1.15"/><circle cx="205.0" cy="298.9" r="1.15"/><circle cx="206.4" cy="300.7" r="1.15"/><circle cx="208.0" cy="302.5" r="1.15"/><circle cx="209.8" cy="304.4" r="1.15"/><circle cx="211.9" cy="306.3" r="1.15"/><circle cx="214.1" cy="308.3" r="1.15"/><circle cx="216.6" cy="310.3" r="1.15"/><circle cx="219.3" cy="312.4" r="1.15"/><circle cx="222.5" cy="314.6" r="1.15"/><circle cx="226.2" cy="316.9" r="1.15"/><circle cx="230.8" cy="319.5" r="1.15"/><circle cx="235.5" cy="322.1" r="1.15"/></g>
<g fill-opacity="0.42"><circle cx="467.1" cy="296.9" r="1.15"/><circle cx="477.1" cy="296.5" r="1.15"/><circle cx="486.7" cy="296.0" r="1.15"/><circle cx="496.1" cy="295.3" r="1.15"/><circle cx="503.0" cy="293.8" r="1.15"/><circle cx="508.2" cy="291.9" r="1.15"/><circle cx="512.2" cy="289.4" r="1.15"/><circle cx="515.4" cy="286.4" r="1.15"/><circle cx="517.8" cy="282.7" r="1.15"/><circle cx="519.7" cy="279.0" r="1.15"/><circle cx="521.5" cy="275.9" r="1.15"/><circle cx="523.1" cy="272.8" r="1.15"/><circle cx="524.4" cy="269.5" r="1.15"/><circle cx="525.5" cy="267.2" r="1.15"/><circle cx="526.5" cy="265.1" r="1.15"/><circle cx="527.3" cy="262.6" r="1.15"/><circle cx="528.0" cy="259.3" r="1.15"/><circle cx="528.6" cy="256.0" r="1.15"/><circle cx="529.1" cy="253.7" r="1.15"/><circle cx="529.5" cy="251.7" r="1.15"/><circle cx="529.9" cy="250.0" r="1.15"/><circle cx="530.3" cy="248.5" r="1.15"/><circle cx="530.7" cy="247.2" r="1.15"/><circle cx="531.0" cy="246.2" r="1.15"/><circle cx="531.4" cy="245.2" r="1.15"/><circle cx="531.8" cy="244.5" r="1.15"/><circle cx="532.3" cy="243.9" r="1.15"/><circle cx="532.8" cy="243.5" r="1.15"/><circle cx="533.4" cy="243.2" r="1.15"/><circle cx="534.0" cy="243.1" r="1.15"/><circle cx="534.7" cy="243.2" r="1.15"/><circle cx="535.5" cy="243.5" r="1.15"/><circle cx="536.2" cy="243.9" r="1.15"/><circle cx="537.0" cy="244.5" r="1.15"/><circle cx="537.8" cy="245.2" r="1.15"/><circle cx="538.6" cy="246.1" r="1.15"/><circle cx="539.5" cy="247.2" r="1.15"/><circle cx="540.5" cy="248.4" r="1.15"/><circle cx="541.5" cy="249.8" r="1.15"/><circle cx="542.6" cy="251.4" r="1.15"/><circle cx="543.5" cy="253.3" r="1.15"/><circle cx="544.6" cy="255.5" r="1.15"/><circle cx="545.7" cy="257.8" r="1.15"/><circle cx="546.7" cy="260.6" r="1.15"/><circle cx="547.9" cy="264.2" r="1.15"/><circle cx="549.0" cy="267.9" r="1.15"/><circle cx="550.1" cy="271.1" r="1.15"/><circle cx="551.3" cy="274.1" r="1.15"/><circle cx="552.5" cy="277.0" r="1.15"/><circle cx="553.8" cy="280.0" r="1.15"/><circle cx="555.1" cy="283.2" r="1.15"/><circle cx="556.7" cy="286.7" r="1.15"/><circle cx="558.6" cy="290.8" r="1.15"/><circle cx="560.7" cy="295.2" r="1.15"/><circle cx="562.9" cy="299.4" r="1.15"/><circle cx="565.3" cy="303.5" r="1.15"/><circle cx="568.1" cy="307.6" r="1.15"/><circle cx="571.2" cy="311.7" r="1.15"/><circle cx="574.9" cy="315.7" r="1.15"/><circle cx="579.5" cy="319.8" r="1.15"/><circle cx="584.2" cy="323.8" r="1.15"/></g>
<path d="M114.0,210.1 116.0,210.9 118.1,211.7 120.1,212.4 122.1,213.2 124.1,214.0 126.0,214.8 128.0,215.5 129.9,216.3 131.8,217.1 133.8,217.8 135.8,218.6 137.8,219.4 139.7,220.1 141.5,220.9 143.2,221.6 144.8,222.3 146.3,222.9 147.6,223.5 148.9,224.1 150.1,224.7 151.3,225.3 152.4,225.9 153.4,226.4 154.4,226.9 155.4,227.5 156.3,228.0 157.1,228.5 157.9,228.9 158.6,229.4 159.4,229.9 160.1,230.4 160.7,230.8 161.4,231.3 162.0,231.7 162.5,232.1 163.0,232.5 163.5,232.9 164.0,233.3 164.4,233.7 164.8,234.1 165.2,234.5 165.6,234.9 166.0,235.3 166.4,235.7 166.8,236.1 167.2,236.5 167.6,236.8 167.9,237.2 168.3,237.6 168.6,238.0 168.9,238.3 169.3,238.7 169.6,239.1 169.9,239.4 170.2,239.8 170.5,240.2 170.7,240.5 171.0,240.9 171.3,241.2 171.5,241.6 171.7,241.9 171.9,242.3 172.1,242.6 172.3,243.0 172.5,243.3 172.7,243.6 172.9,244.0 173.1,244.3 173.3,244.6 173.4,245.0 173.6,245.3 173.7,245.6 173.9,245.9 174.0,246.3 174.2,246.6 174.3,246.9 174.4,247.2 174.5,247.6 174.7,247.9 174.8,248.2 174.9,248.5 175.0,248.8 175.1,249.1 175.1,249.5 175.2,249.8 175.3,250.1 175.4,250.4 175.5,250.7 175.5,251.0 175.6,251.3 175.7,251.6 175.7,251.9 175.8,252.2 175.9,252.5 175.9,252.8 176.0,253.1 176.1,253.5 176.1,253.8 176.2,254.1 176.2,254.4 176.3,254.7 176.4,255.0 176.4,255.3 176.5,255.6 176.5,255.9 176.6,256.2 176.6,256.5 176.7,256.8 176.7,257.1 176.8,257.4 176.8,257.7 176.9,258.0 176.9,258.3 177.0,258.6 177.0,258.9 177.1,259.2 177.1,259.5 177.2,259.8 177.2,260.1 177.3,260.4 177.4,260.7 177.4,261.0 177.5,261.4 177.6,261.7 177.7,262.0 177.8,262.3 177.9,262.6 177.9,262.9 178.0,263.2 178.1,263.5 178.2,263.9 178.3,264.2 178.4,264.5 178.5,264.8 178.6,265.1 178.7,265.4 178.8,265.7 178.9,266.1 179.1,266.4 179.2,266.7 179.3,267.0 179.5,267.4 179.6,267.7 179.8,268.0 179.9,268.3 180.0,268.7 180.2,269.0 180.3,269.3 180.5,269.6 180.6,270.0 180.8,270.3 180.9,270.6 181.1,270.9 181.3,271.3 181.4,271.6 181.6,271.9 181.8,272.3 182.0,272.6 182.1,272.9 182.3,273.3 182.5,273.6 182.6,273.9 182.8,274.3 183.0,274.6 183.1,274.9 183.3,275.3 183.5,275.6 183.6,275.9 183.8,276.3 184.0,276.6 184.2,276.9 184.4,277.3 184.5,277.6 184.7,277.9 184.9,278.3 185.1,278.6 185.3,278.9 185.5,279.3 185.7,279.6 185.9,280.0 186.1,280.3 186.4,280.6 186.6,281.0 186.8,281.3 187.1,281.7 187.3,282.0 187.6,282.4 187.8,282.7 188.0,283.1 188.3,283.4 188.5,283.8 188.7,284.1 189.0,284.5 189.2,284.8 189.4,285.2 189.6,285.5 189.9,285.9 190.1,286.2 190.3,286.5 190.6,286.9 190.8,287.2 191.0,287.6 191.3,287.9 191.5,288.3 191.8,288.6 192.0,289.0 192.2,289.3 192.5,289.7 192.7,290.0 193.0,290.4 193.2,290.7 193.5,291.1 193.7,291.4 194.0,291.8 194.2,292.1 194.5,292.5 194.7,292.8 195.0,293.2 195.2,293.5 195.5,293.9 195.7,294.2 196.0,294.6 196.2,295.0 196.5,295.3 196.7,295.7 197.0,296.0 197.2,296.4 197.5,296.7 197.7,297.1 198.0,297.4 198.2,297.8 198.5,298.1 198.8,298.5 199.0,298.8 199.3,299.2 199.5,299.5 199.8,299.9 200.0,300.2 200.3,300.6 200.6,300.9 200.8,301.3 201.1,301.6 201.3,302.0 201.6,302.4 201.9,302.7 202.2,303.1 202.5,303.4 202.8,303.8 203.1,304.2 203.5,304.5 203.8,304.9 204.2,305.3 204.5,305.7 204.9,306.1 205.3,306.4 205.7,306.8 206.1,307.2 206.5,307.6 206.9,308.0 207.4,308.4 207.8,308.8 208.2,309.2 208.7,309.6 209.1,310.0 209.6,310.4 210.0,310.8 210.5,311.2 210.9,311.6 211.4,312.0 211.9,312.4 212.4,312.8 213.0,313.2 213.5,313.7 214.1,314.1 214.6,314.5 215.2,315.0 215.8,315.4 216.4,315.8 217.1,316.3 217.7,316.7 218.4,317.2 219.1,317.6 219.8,318.1 220.5,318.6 221.3,319.0 222.1,319.5 223.0,320.0 223.9,320.6 224.9,321.1 225.8,321.6 226.8,322.1 227.7,322.6 228.6,323.2 229.6,323.7 230.6,324.2 231.6,324.8 232.6,325.3 233.6,325.8 234.7,326.4" fill="none" stroke="#000" stroke-width="1.9" stroke-linejoin="round" stroke-opacity="0.36"/>
<path d="M462.8,299.8 464.9,299.7 466.9,299.7 468.9,299.6 470.9,299.5 472.9,299.4 474.8,299.3 476.8,299.3 478.7,299.2 480.6,299.1 482.6,299.0 484.6,298.9 486.5,298.8 488.4,298.7 490.3,298.5 492.0,298.3 493.6,298.1 495.0,297.9 496.3,297.6 497.6,297.3 498.9,297.0 500.0,296.6 501.1,296.3 502.2,295.9 503.1,295.5 504.1,295.1 505.0,294.6 505.8,294.2 506.6,293.7 507.3,293.2 508.1,292.7 508.8,292.1 509.4,291.6 510.1,291.0 510.6,290.3 511.2,289.6 511.7,288.9 512.2,288.2 512.6,287.4 513.1,286.7 513.5,285.9 513.9,285.2 514.3,284.4 514.7,283.7 515.1,283.0 515.5,282.3 515.9,281.7 516.2,281.0 516.6,280.4 516.9,279.8 517.3,279.2 517.6,278.5 517.9,277.9 518.2,277.2 518.6,276.6 518.9,276.0 519.1,275.3 519.4,274.6 519.7,273.8 520.0,273.2 520.2,272.6 520.4,272.1 520.6,271.6 520.8,271.2 521.0,270.8 521.2,270.4 521.4,270.0 521.6,269.6 521.8,269.2 521.9,268.8 522.1,268.4 522.3,267.9 522.4,267.4 522.6,266.9 522.7,266.4 522.9,265.8 523.0,265.2 523.1,264.5 523.2,263.9 523.3,263.2 523.5,262.5 523.6,261.9 523.7,261.2 523.8,260.6 523.8,260.1 523.9,259.5 524.0,259.1 524.1,258.6 524.2,258.2 524.2,257.8 524.3,257.4 524.4,257.1 524.4,256.7 524.5,256.3 524.6,255.9 524.6,255.6 524.7,255.2 524.8,254.9 524.8,254.6 524.9,254.2 524.9,253.9 525.0,253.6 525.1,253.3 525.1,253.1 525.2,252.8 525.2,252.5 525.3,252.3 525.3,252.0 525.4,251.8 525.4,251.5 525.5,251.3 525.5,251.1 525.6,250.9 525.6,250.7 525.7,250.5 525.8,250.3 525.8,250.1 525.9,249.9 525.9,249.8 526.0,249.6 526.0,249.4 526.1,249.3 526.1,249.1 526.2,249.0 526.3,248.8 526.4,248.7 526.5,248.6 526.6,248.5 526.7,248.4 526.7,248.3 526.8,248.2 526.9,248.1 527.0,248.0 527.1,248.0 527.2,247.9 527.3,247.8 527.4,247.8 527.5,247.7 527.7,247.7 527.8,247.7 527.9,247.6 528.0,247.6 528.2,247.6 528.3,247.6 528.5,247.6 528.6,247.7 528.8,247.7 528.9,247.7 529.1,247.7 529.2,247.8 529.4,247.8 529.5,247.9 529.7,247.9 529.8,248.0 530.0,248.1 530.2,248.2 530.3,248.2 530.5,248.3 530.7,248.4 530.9,248.6 531.0,248.7 531.2,248.8 531.4,248.9 531.5,249.0 531.7,249.2 531.9,249.3 532.0,249.5 532.2,249.6 532.4,249.8 532.6,250.0 532.7,250.1 532.9,250.3 533.1,250.5 533.3,250.7 533.5,250.9 533.6,251.1 533.8,251.4 534.0,251.6 534.2,251.8 534.4,252.0 534.7,252.3 534.9,252.6 535.1,252.8 535.3,253.1 535.6,253.4 535.8,253.6 536.1,253.9 536.3,254.2 536.5,254.5 536.8,254.8 537.0,255.2 537.3,255.5 537.5,255.8 537.7,256.2 537.9,256.5 538.2,256.9 538.4,257.3 538.6,257.7 538.8,258.1 539.1,258.5 539.3,258.9 539.5,259.4 539.8,259.8 540.0,260.3 540.3,260.8 540.5,261.2 540.7,261.7 541.0,262.2 541.2,262.7 541.5,263.2 541.7,263.7 542.0,264.3 542.2,264.9 542.5,265.6 542.7,266.3 543.0,267.0 543.2,267.7 543.5,268.5 543.7,269.2 544.0,269.9 544.2,270.7 544.5,271.4 544.7,272.1 545.0,272.8 545.2,273.4 545.5,274.1 545.7,274.7 546.0,275.3 546.2,275.9 546.5,276.5 546.7,277.0 547.0,277.6 547.2,278.2 547.5,278.8 547.8,279.4 548.0,279.9 548.3,280.5 548.5,281.1 548.8,281.7 549.0,282.3 549.3,282.9 549.6,283.5 549.8,284.1 550.1,284.7 550.4,285.3 550.6,286.0 550.9,286.6 551.2,287.3 551.6,287.9 551.9,288.6 552.2,289.3 552.6,290.0 552.9,290.8 553.3,291.6 553.7,292.4 554.0,293.2 554.4,294.0 554.8,294.9 555.2,295.8 555.7,296.6 556.1,297.5 556.5,298.4 557.0,299.2 557.4,300.1 557.8,300.9 558.3,301.8 558.7,302.6 559.2,303.4 559.7,304.2 560.2,305.0 560.7,305.8 561.2,306.6 561.7,307.5 562.2,308.3 562.8,309.1 563.4,309.9 563.9,310.7 564.5,311.5 565.2,312.3 565.8,313.1 566.5,313.9 567.1,314.7 567.8,315.6 568.5,316.3 569.2,317.1 570.0,317.9 570.8,318.7 571.7,319.6 572.6,320.4 573.6,321.2 574.5,322.0 575.5,322.8 576.4,323.6 577.4,324.4 578.3,325.2 579.3,326.0 580.3,326.8 581.3,327.6 582.3,328.4 583.4,329.2" fill="none" stroke="#000" stroke-width="1.9" stroke-linejoin="round" stroke-opacity="0.36"/>
<g fill-opacity="0.42"><circle cx="114.0" cy="210.1" r="1.15"/><circle cx="123.9" cy="213.9" r="1.15"/><circle cx="133.5" cy="217.7" r="1.15"/><circle cx="142.9" cy="221.4" r="1.15"/><circle cx="149.8" cy="224.6" r="1.15"/><circle cx="155.0" cy="227.3" r="1.15"/><circle cx="159.1" cy="229.7" r="1.15"/><circle cx="162.2" cy="231.9" r="1.15"/><circle cx="164.6" cy="233.9" r="1.15"/><circle cx="166.6" cy="235.8" r="1.15"/><circle cx="168.4" cy="237.7" r="1.15"/><circle cx="169.9" cy="239.5" r="1.15"/><circle cx="171.3" cy="241.3" r="1.15"/><circle cx="172.4" cy="243.0" r="1.15"/><circle cx="173.3" cy="244.6" r="1.15"/><circle cx="174.0" cy="246.3" r="1.15"/><circle cx="174.6" cy="247.8" r="1.15"/><circle cx="175.1" cy="249.4" r="1.15"/><circle cx="175.5" cy="250.9" r="1.15"/><circle cx="175.8" cy="252.4" r="1.15"/><circle cx="176.2" cy="253.9" r="1.15"/><circle cx="176.4" cy="255.4" r="1.15"/><circle cx="176.7" cy="256.9" r="1.15"/><circle cx="177.0" cy="258.4" r="1.15"/><circle cx="177.2" cy="259.9" r="1.15"/><circle cx="177.5" cy="261.4" r="1.15"/><circle cx="178.0" cy="263.0" r="1.15"/><circle cx="178.4" cy="264.5" r="1.15"/><circle cx="178.9" cy="266.1" r="1.15"/><circle cx="179.6" cy="267.7" r="1.15"/><circle cx="180.3" cy="269.3" r="1.15"/><circle cx="181.1" cy="270.9" r="1.15"/><circle cx="181.9" cy="272.5" r="1.15"/><circle cx="182.7" cy="274.1" r="1.15"/><circle cx="183.6" cy="275.8" r="1.15"/><circle cx="184.4" cy="277.4" r="1.15"/><circle cx="185.4" cy="279.1" r="1.15"/><circle cx="186.4" cy="280.8" r="1.15"/><circle cx="187.6" cy="282.5" r="1.15"/><circle cx="188.8" cy="284.2" r="1.15"/><circle cx="189.9" cy="285.9" r="1.15"/><circle cx="191.0" cy="287.6" r="1.15"/><circle cx="192.2" cy="289.3" r="1.15"/><circle cx="193.4" cy="291.1" r="1.15"/><circle cx="194.7" cy="292.8" r="1.15"/><circle cx="195.9" cy="294.5" r="1.15"/><circle cx="197.2" cy="296.3" r="1.15"/><circle cx="198.4" cy="298.0" r="1.15"/><circle cx="199.7" cy="299.7" r="1.15"/><circle cx="201.0" cy="301.5" r="1.15"/><circle cx="202.3" cy="303.2" r="1.15"/><circle cx="204.0" cy="305.1" r="1.15"/><circle cx="205.8" cy="306.9" r="1.15"/><circle cx="207.9" cy="308.9" r="1.15"/><circle cx="210.1" cy="310.8" r="1.15"/><circle cx="212.5" cy="312.9" r="1.15"/><circle cx="215.2" cy="315.0" r="1.15"/><circle cx="218.4" cy="317.1" r="1.15"/><circle cx="222.0" cy="319.5" r="1.15"/><circle cx="226.6" cy="322.0" r="1.15"/><circle cx="231.3" cy="324.6" r="1.15"/></g>
<g fill-opacity="0.42"><circle cx="462.8" cy="299.8" r="1.15"/><circle cx="472.7" cy="299.4" r="1.15"/><circle cx="482.3" cy="299.0" r="1.15"/><circle cx="491.6" cy="298.4" r="1.15"/><circle cx="498.5" cy="297.0" r="1.15"/><circle cx="503.7" cy="295.2" r="1.15"/><circle cx="507.8" cy="292.9" r="1.15"/><circle cx="510.9" cy="290.0" r="1.15"/><circle cx="513.3" cy="286.3" r="1.15"/><circle cx="515.2" cy="282.7" r="1.15"/><circle cx="517.0" cy="279.6" r="1.15"/><circle cx="518.6" cy="276.5" r="1.15"/><circle cx="520.0" cy="273.1" r="1.15"/><circle cx="521.0" cy="270.8" r="1.15"/><circle cx="521.9" cy="268.8" r="1.15"/><circle cx="522.7" cy="266.4" r="1.15"/><circle cx="523.3" cy="263.3" r="1.15"/><circle cx="523.8" cy="260.2" r="1.15"/><circle cx="524.2" cy="257.9" r="1.15"/><circle cx="524.5" cy="256.1" r="1.15"/><circle cx="524.9" cy="254.4" r="1.15"/><circle cx="525.1" cy="252.9" r="1.15"/><circle cx="525.4" cy="251.7" r="1.15"/><circle cx="525.7" cy="250.6" r="1.15"/><circle cx="525.9" cy="249.7" r="1.15"/><circle cx="526.2" cy="249.0" r="1.15"/><circle cx="526.7" cy="248.4" r="1.15"/><circle cx="527.1" cy="248.0" r="1.15"/><circle cx="527.7" cy="247.7" r="1.15"/><circle cx="528.3" cy="247.6" r="1.15"/><circle cx="529.0" cy="247.7" r="1.15"/><circle cx="529.8" cy="248.0" r="1.15"/><circle cx="530.6" cy="248.4" r="1.15"/><circle cx="531.5" cy="249.0" r="1.15"/><circle cx="532.3" cy="249.7" r="1.15"/><circle cx="533.2" cy="250.6" r="1.15"/><circle cx="534.1" cy="251.7" r="1.15"/><circle cx="535.2" cy="252.9" r="1.15"/><circle cx="536.4" cy="254.3" r="1.15"/><circle cx="537.5" cy="255.9" r="1.15"/><circle cx="538.6" cy="257.7" r="1.15"/><circle cx="539.8" cy="259.9" r="1.15"/><circle cx="541.0" cy="262.2" r="1.15"/><circle cx="542.2" cy="264.9" r="1.15"/><circle cx="543.4" cy="268.4" r="1.15"/><circle cx="544.7" cy="272.0" r="1.15"/><circle cx="545.9" cy="275.1" r="1.15"/><circle cx="547.1" cy="278.0" r="1.15"/><circle cx="548.4" cy="280.9" r="1.15"/><circle cx="549.7" cy="283.8" r="1.15"/><circle cx="551.1" cy="286.9" r="1.15"/><circle cx="552.7" cy="290.3" r="1.15"/><circle cx="554.5" cy="294.3" r="1.15"/><circle cx="556.6" cy="298.6" r="1.15"/><circle cx="558.8" cy="302.7" r="1.15"/><circle cx="561.2" cy="306.7" r="1.15"/><circle cx="563.9" cy="310.7" r="1.15"/><circle cx="567.1" cy="314.7" r="1.15"/><circle cx="570.7" cy="318.6" r="1.15"/><circle cx="575.3" cy="322.6" r="1.15"/><circle cx="580.0" cy="326.6" r="1.15"/></g>
<path d="M109.7,212.6 111.7,213.4 113.8,214.1 115.8,214.9 117.7,215.7 119.7,216.5 121.7,217.2 123.6,218.0 125.5,218.8 127.4,219.5 129.4,220.3 131.3,221.1 133.3,221.8 135.2,222.6 137.0,223.3 138.7,224.0 140.3,224.7 141.8,225.4 143.1,226.0 144.4,226.6 145.6,227.2 146.8,227.7 147.9,228.3 148.9,228.9 149.9,229.4 150.9,229.9 151.7,230.4 152.6,230.9 153.4,231.4 154.1,231.9 154.9,232.3 155.6,232.8 156.2,233.3 156.9,233.7 157.4,234.1 158.0,234.6 158.5,235.0 159.0,235.4 159.4,235.8 159.9,236.2 160.3,236.6 160.7,237.0 161.1,237.4 161.5,237.7 161.9,238.1 162.3,238.5 162.7,238.9 163.1,239.3 163.4,239.7 163.8,240.0 164.1,240.4 164.5,240.8 164.8,241.2 165.1,241.5 165.4,241.9 165.7,242.3 166.0,242.6 166.3,243.0 166.6,243.3 166.8,243.7 167.1,244.0 167.3,244.4 167.5,244.7 167.7,245.1 167.8,245.4 168.0,245.7 168.2,246.1 168.4,246.4 168.5,246.7 168.7,247.1 168.9,247.4 169.0,247.7 169.2,248.0 169.3,248.4 169.4,248.7 169.5,249.0 169.6,249.3 169.8,249.6 169.9,250.0 169.9,250.3 170.0,250.6 170.1,250.9 170.2,251.2 170.3,251.5 170.3,251.8 170.4,252.1 170.5,252.4 170.5,252.7 170.6,253.0 170.6,253.3 170.7,253.7 170.7,254.0 170.8,254.3 170.8,254.6 170.9,254.9 170.9,255.2 170.9,255.5 171.0,255.8 171.0,256.1 171.1,256.4 171.1,256.7 171.1,257.0 171.2,257.3 171.2,257.6 171.2,257.8 171.2,258.1 171.3,258.4 171.3,258.7 171.3,259.0 171.4,259.3 171.4,259.6 171.4,259.9 171.4,260.2 171.5,260.5 171.5,260.8 171.5,261.1 171.6,261.4 171.6,261.7 171.6,262.0 171.7,262.3 171.7,262.6 171.7,262.9 171.8,263.2 171.9,263.5 171.9,263.8 172.0,264.1 172.1,264.4 172.1,264.8 172.2,265.1 172.3,265.4 172.4,265.7 172.5,266.0 172.5,266.3 172.6,266.6 172.7,266.9 172.8,267.2 172.9,267.6 173.0,267.9 173.1,268.2 173.3,268.5 173.4,268.8 173.5,269.2 173.7,269.5 173.8,269.8 174.0,270.1 174.1,270.5 174.3,270.8 174.4,271.1 174.6,271.4 174.7,271.8 174.9,272.1 175.0,272.4 175.2,272.8 175.4,273.1 175.5,273.4 175.7,273.8 175.9,274.1 176.1,274.4 176.2,274.8 176.4,275.1 176.6,275.4 176.8,275.8 177.0,276.1 177.1,276.4 177.3,276.8 177.5,277.1 177.7,277.4 177.9,277.8 178.1,278.1 178.2,278.4 178.4,278.8 178.6,279.1 178.8,279.4 179.0,279.8 179.2,280.1 179.4,280.5 179.6,280.8 179.8,281.1 180.0,281.5 180.3,281.8 180.5,282.2 180.8,282.5 181.0,282.9 181.3,283.2 181.5,283.6 181.8,284.0 182.1,284.3 182.3,284.7 182.6,285.0 182.9,285.4 183.1,285.7 183.4,286.1 183.7,286.4 183.9,286.8 184.2,287.1 184.4,287.5 184.7,287.8 184.9,288.2 185.2,288.5 185.4,288.9 185.7,289.2 185.9,289.6 186.2,290.0 186.5,290.3 186.7,290.7 187.0,291.0 187.3,291.4 187.5,291.7 187.8,292.1 188.1,292.4 188.3,292.8 188.6,293.2 188.9,293.5 189.2,293.9 189.4,294.2 189.7,294.6 190.0,294.9 190.3,295.3 190.6,295.7 190.8,296.0 191.1,296.4 191.4,296.7 191.7,297.1 191.9,297.4 192.2,297.8 192.5,298.2 192.7,298.5 193.0,298.9 193.3,299.2 193.5,299.6 193.8,299.9 194.1,300.3 194.3,300.6 194.6,301.0 194.9,301.4 195.2,301.7 195.4,302.1 195.7,302.4 196.0,302.8 196.2,303.1 196.5,303.5 196.8,303.8 197.0,304.2 197.3,304.6 197.6,304.9 197.9,305.3 198.2,305.6 198.5,306.0 198.8,306.4 199.1,306.7 199.5,307.1 199.8,307.5 200.2,307.9 200.5,308.2 200.9,308.6 201.3,309.0 201.7,309.4 202.1,309.8 202.5,310.2 202.9,310.6 203.3,311.0 203.8,311.4 204.2,311.8 204.6,312.1 205.1,312.5 205.5,312.9 206.0,313.3 206.4,313.7 206.9,314.2 207.4,314.6 207.9,315.0 208.4,315.4 208.9,315.8 209.4,316.2 210.0,316.6 210.5,317.1 211.1,317.5 211.7,317.9 212.3,318.4 213.0,318.8 213.6,319.3 214.3,319.7 214.9,320.2 215.6,320.6 216.4,321.1 217.1,321.6 217.9,322.1 218.8,322.6 219.7,323.1 220.6,323.6 221.6,324.1 222.5,324.6 223.4,325.2 224.4,325.7 225.4,326.2 226.4,326.7 227.4,327.3 228.4,327.8 229.4,328.4 230.5,328.9" fill="none" stroke="#000" stroke-width="1.9" stroke-linejoin="round" stroke-opacity="0.36"/>
<path d="M458.6,302.7 460.6,302.6 462.6,302.6 464.6,302.5 466.6,302.5 468.5,302.4 470.5,302.3 472.4,302.3 474.3,302.2 476.2,302.1 478.2,302.0 480.1,302.0 482.1,301.9 484.0,301.8 485.8,301.6 487.5,301.5 489.1,301.3 490.5,301.1 491.9,300.8 493.2,300.5 494.4,300.2 495.5,299.9 496.6,299.6 497.7,299.2 498.7,298.9 499.6,298.5 500.5,298.1 501.3,297.7 502.1,297.2 502.8,296.7 503.6,296.2 504.3,295.7 504.9,295.2 505.5,294.6 506.1,294.0 506.7,293.3 507.2,292.6 507.7,291.9 508.1,291.2 508.6,290.4 509.0,289.7 509.4,289.0 509.8,288.2 510.2,287.5 510.6,286.8 511.0,286.2 511.4,285.5 511.7,284.9 512.1,284.3 512.5,283.6 512.8,283.0 513.1,282.4 513.5,281.7 513.8,281.1 514.1,280.4 514.4,279.8 514.7,279.0 515.0,278.3 515.2,277.5 515.5,276.8 515.7,276.2 516.0,275.7 516.2,275.3 516.3,274.9 516.5,274.5 516.7,274.1 516.9,273.8 517.1,273.4 517.2,273.0 517.4,272.6 517.5,272.2 517.7,271.8 517.8,271.3 518.0,270.9 518.1,270.3 518.2,269.8 518.3,269.2 518.4,268.6 518.5,268.0 518.6,267.3 518.7,266.7 518.8,266.1 518.9,265.5 519.0,264.9 519.0,264.4 519.1,263.9 519.2,263.4 519.2,263.0 519.3,262.6 519.3,262.3 519.4,261.9 519.4,261.5 519.5,261.2 519.5,260.8 519.6,260.4 519.6,260.1 519.6,259.8 519.7,259.4 519.7,259.1 519.8,258.8 519.8,258.5 519.8,258.2 519.9,257.9 519.9,257.7 519.9,257.4 519.9,257.1 520.0,256.9 520.0,256.6 520.0,256.4 520.1,256.2 520.1,255.9 520.1,255.7 520.2,255.5 520.2,255.3 520.2,255.1 520.3,254.9 520.3,254.7 520.3,254.6 520.3,254.4 520.4,254.2 520.4,254.1 520.4,253.9 520.5,253.8 520.6,253.6 520.6,253.5 520.7,253.4 520.8,253.3 520.9,253.1 520.9,253.0 521.0,252.9 521.1,252.9 521.2,252.8 521.3,252.7 521.3,252.6 521.4,252.6 521.5,252.5 521.6,252.4 521.7,252.4 521.9,252.4 522.0,252.3 522.1,252.3 522.2,252.3 522.4,252.3 522.5,252.3 522.7,252.3 522.8,252.3 523.0,252.4 523.1,252.4 523.3,252.4 523.4,252.5 523.6,252.5 523.7,252.6 523.9,252.6 524.1,252.7 524.2,252.8 524.4,252.8 524.6,252.9 524.8,253.0 525.0,253.1 525.1,253.2 525.3,253.4 525.5,253.5 525.7,253.6 525.9,253.7 526.1,253.9 526.2,254.0 526.4,254.2 526.6,254.3 526.8,254.5 527.0,254.7 527.2,254.8 527.3,255.0 527.5,255.2 527.7,255.4 527.9,255.6 528.1,255.8 528.3,256.0 528.5,256.2 528.8,256.5 529.0,256.7 529.2,257.0 529.5,257.2 529.7,257.5 530.0,257.7 530.3,258.0 530.5,258.3 530.8,258.6 531.1,258.9 531.3,259.2 531.6,259.5 531.9,259.8 532.1,260.1 532.4,260.5 532.6,260.8 532.9,261.2 533.1,261.5 533.4,261.9 533.6,262.3 533.9,262.7 534.2,263.1 534.4,263.5 534.7,264.0 534.9,264.4 535.2,264.9 535.5,265.3 535.7,265.8 536.0,266.2 536.3,266.7 536.5,267.2 536.8,267.7 537.1,268.2 537.4,268.8 537.6,269.4 537.9,270.0 538.2,270.7 538.5,271.4 538.7,272.1 539.0,272.8 539.3,273.5 539.6,274.2 539.9,274.9 540.1,275.6 540.4,276.3 540.7,277.0 540.9,277.6 541.2,278.2 541.5,278.8 541.7,279.4 542.0,279.9 542.3,280.5 542.5,281.1 542.8,281.7 543.1,282.2 543.4,282.8 543.6,283.4 543.9,283.9 544.2,284.5 544.4,285.1 544.7,285.7 545.0,286.2 545.2,286.8 545.5,287.4 545.8,288.0 546.0,288.6 546.3,289.2 546.6,289.8 546.9,290.4 547.2,291.1 547.5,291.7 547.9,292.4 548.2,293.1 548.5,293.8 548.9,294.5 549.3,295.2 549.6,296.0 550.0,296.8 550.4,297.6 550.8,298.4 551.2,299.3 551.6,300.2 552.1,301.0 552.5,301.9 552.9,302.7 553.4,303.5 553.8,304.3 554.2,305.1 554.7,305.9 555.2,306.7 555.6,307.5 556.1,308.3 556.6,309.1 557.1,309.9 557.6,310.7 558.1,311.5 558.7,312.2 559.3,313.0 559.8,313.8 560.4,314.6 561.0,315.4 561.7,316.2 562.3,317.0 563.0,317.8 563.7,318.6 564.4,319.4 565.1,320.1 565.8,320.9 566.6,321.7 567.5,322.5 568.4,323.3 569.4,324.1 570.3,324.9 571.2,325.7 572.2,326.4 573.1,327.2 574.1,328.0 575.1,328.8 576.1,329.6 577.1,330.4 578.1,331.1 579.2,331.9" fill="none" stroke="#000" stroke-width="1.9" stroke-linejoin="round" stroke-opacity="0.36"/>
<g fill-opacity="0.42"><circle cx="109.7" cy="212.6" r="1.15"/><circle cx="119.6" cy="216.4" r="1.15"/><circle cx="129.1" cy="220.2" r="1.15"/><circle cx="138.4" cy="223.9" r="1.15"/><circle cx="145.3" cy="227.0" r="1.15"/><circle cx="150.5" cy="229.7" r="1.15"/><circle cx="154.5" cy="232.1" r="1.15"/><circle cx="157.7" cy="234.3" r="1.15"/><circle cx="160.1" cy="236.4" r="1.15"/><circle cx="162.1" cy="238.3" r="1.15"/><circle cx="163.9" cy="240.2" r="1.15"/><circle cx="165.5" cy="242.0" r="1.15"/><circle cx="166.9" cy="243.7" r="1.15"/><circle cx="167.9" cy="245.4" r="1.15"/><circle cx="168.7" cy="247.1" r="1.15"/><circle cx="169.4" cy="248.7" r="1.15"/><circle cx="169.9" cy="250.2" r="1.15"/><circle cx="170.3" cy="251.8" r="1.15"/><circle cx="170.6" cy="253.3" r="1.15"/><circle cx="170.8" cy="254.7" r="1.15"/><circle cx="171.0" cy="256.2" r="1.15"/><circle cx="171.2" cy="257.7" r="1.15"/><circle cx="171.3" cy="259.2" r="1.15"/><circle cx="171.5" cy="260.6" r="1.15"/><circle cx="171.6" cy="262.1" r="1.15"/><circle cx="171.9" cy="263.6" r="1.15"/><circle cx="172.2" cy="265.1" r="1.15"/><circle cx="172.6" cy="266.6" r="1.15"/><circle cx="173.1" cy="268.2" r="1.15"/><circle cx="173.8" cy="269.8" r="1.15"/><circle cx="174.5" cy="271.4" r="1.15"/><circle cx="175.3" cy="273.0" r="1.15"/><circle cx="176.2" cy="274.7" r="1.15"/><circle cx="177.1" cy="276.3" r="1.15"/><circle cx="178.0" cy="278.0" r="1.15"/><circle cx="178.9" cy="279.6" r="1.15"/><circle cx="179.9" cy="281.3" r="1.15"/><circle cx="181.1" cy="283.0" r="1.15"/><circle cx="182.4" cy="284.8" r="1.15"/><circle cx="183.7" cy="286.5" r="1.15"/><circle cx="184.9" cy="288.2" r="1.15"/><circle cx="186.2" cy="290.0" r="1.15"/><circle cx="187.5" cy="291.7" r="1.15"/><circle cx="188.9" cy="293.5" r="1.15"/><circle cx="190.2" cy="295.3" r="1.15"/><circle cx="191.6" cy="297.0" r="1.15"/><circle cx="192.9" cy="298.8" r="1.15"/><circle cx="194.3" cy="300.5" r="1.15"/><circle cx="195.6" cy="302.3" r="1.15"/><circle cx="196.9" cy="304.0" r="1.15"/><circle cx="198.3" cy="305.8" r="1.15"/><circle cx="199.9" cy="307.6" r="1.15"/><circle cx="201.8" cy="309.5" r="1.15"/><circle cx="203.8" cy="311.4" r="1.15"/><circle cx="206.0" cy="313.4" r="1.15"/><circle cx="208.4" cy="315.4" r="1.15"/><circle cx="211.1" cy="317.5" r="1.15"/><circle cx="214.2" cy="319.7" r="1.15"/><circle cx="217.8" cy="322.0" r="1.15"/><circle cx="222.3" cy="324.5" r="1.15"/><circle cx="227.1" cy="327.1" r="1.15"/></g>
<g fill-opacity="0.42"><circle cx="458.6" cy="302.7" r="1.15"/><circle cx="468.4" cy="302.4" r="1.15"/><circle cx="477.9" cy="302.0" r="1.15"/><circle cx="487.1" cy="301.5" r="1.15"/><circle cx="494.0" cy="300.3" r="1.15"/><circle cx="499.3" cy="298.6" r="1.15"/><circle cx="503.3" cy="296.4" r="1.15"/><circle cx="506.4" cy="293.6" r="1.15"/><circle cx="508.8" cy="290.1" r="1.15"/><circle cx="510.7" cy="286.6" r="1.15"/><circle cx="512.6" cy="283.5" r="1.15"/><circle cx="514.2" cy="280.3" r="1.15"/><circle cx="515.5" cy="276.7" r="1.15"/><circle cx="516.5" cy="274.5" r="1.15"/><circle cx="517.4" cy="272.6" r="1.15"/><circle cx="518.1" cy="270.4" r="1.15"/><circle cx="518.6" cy="267.4" r="1.15"/><circle cx="519.0" cy="264.5" r="1.15"/><circle cx="519.3" cy="262.4" r="1.15"/><circle cx="519.5" cy="260.6" r="1.15"/><circle cx="519.7" cy="258.9" r="1.15"/><circle cx="519.9" cy="257.5" r="1.15"/><circle cx="520.0" cy="256.3" r="1.15"/><circle cx="520.2" cy="255.3" r="1.15"/><circle cx="520.3" cy="254.3" r="1.15"/><circle cx="520.6" cy="253.6" r="1.15"/><circle cx="520.9" cy="253.0" r="1.15"/><circle cx="521.4" cy="252.6" r="1.15"/><circle cx="521.9" cy="252.4" r="1.15"/><circle cx="522.5" cy="252.3" r="1.15"/><circle cx="523.3" cy="252.4" r="1.15"/><circle cx="524.0" cy="252.7" r="1.15"/><circle cx="524.9" cy="253.1" r="1.15"/><circle cx="525.8" cy="253.7" r="1.15"/><circle cx="526.7" cy="254.4" r="1.15"/><circle cx="527.6" cy="255.3" r="1.15"/><circle cx="528.6" cy="256.3" r="1.15"/><circle cx="529.8" cy="257.6" r="1.15"/><circle cx="531.2" cy="259.0" r="1.15"/><circle cx="532.5" cy="260.5" r="1.15"/><circle cx="533.7" cy="262.4" r="1.15"/><circle cx="535.0" cy="264.4" r="1.15"/><circle cx="536.3" cy="266.7" r="1.15"/><circle cx="537.6" cy="269.3" r="1.15"/><circle cx="539.0" cy="272.7" r="1.15"/><circle cx="540.3" cy="276.2" r="1.15"/><circle cx="541.7" cy="279.2" r="1.15"/><circle cx="543.0" cy="282.0" r="1.15"/><circle cx="544.3" cy="284.8" r="1.15"/><circle cx="545.6" cy="287.7" r="1.15"/><circle cx="547.0" cy="290.7" r="1.15"/><circle cx="548.7" cy="294.0" r="1.15"/><circle cx="550.5" cy="297.8" r="1.15"/><circle cx="552.6" cy="302.0" r="1.15"/><circle cx="554.8" cy="306.1" r="1.15"/><circle cx="557.1" cy="309.9" r="1.15"/><circle cx="559.8" cy="313.8" r="1.15"/><circle cx="562.9" cy="317.7" r="1.15"/><circle cx="566.5" cy="321.6" r="1.15"/><circle cx="571.0" cy="325.5" r="1.15"/><circle cx="575.8" cy="329.4" r="1.15"/></g>
<path d="M105.4,215.1 107.4,215.9 109.4,216.6 111.4,217.4 113.4,218.2 115.3,218.9 117.2,219.7 119.1,220.5 121.0,221.2 123.0,222.0 124.9,222.7 126.8,223.5 128.8,224.3 130.7,225.0 132.5,225.8 134.2,226.5 135.8,227.1 137.2,227.8 138.6,228.4 139.9,229.0 141.1,229.6 142.2,230.2 143.3,230.7 144.4,231.3 145.4,231.8 146.3,232.3 147.2,232.8 148.0,233.3 148.8,233.8 149.6,234.3 150.3,234.8 151.0,235.2 151.7,235.7 152.3,236.1 152.9,236.6 153.4,237.0 153.9,237.4 154.4,237.8 154.9,238.2 155.3,238.6 155.7,239.0 156.1,239.4 156.5,239.8 156.9,240.2 157.3,240.6 157.7,241.0 158.1,241.3 158.5,241.7 158.9,242.1 159.2,242.5 159.6,242.9 159.9,243.2 160.3,243.6 160.6,244.0 160.9,244.3 161.2,244.7 161.5,245.1 161.8,245.4 162.1,245.8 162.3,246.1 162.5,246.5 162.7,246.8 162.9,247.2 163.1,247.5 163.3,247.8 163.5,248.2 163.6,248.5 163.8,248.8 163.9,249.2 164.1,249.5 164.2,249.8 164.4,250.1 164.5,250.5 164.6,250.8 164.7,251.1 164.8,251.4 164.9,251.7 165.0,252.0 165.1,252.3 165.1,252.6 165.2,253.0 165.3,253.3 165.3,253.6 165.4,253.9 165.4,254.2 165.5,254.5 165.5,254.8 165.5,255.1 165.6,255.4 165.6,255.7 165.6,256.0 165.6,256.3 165.6,256.5 165.6,256.8 165.7,257.1 165.7,257.4 165.7,257.7 165.7,258.0 165.7,258.3 165.7,258.6 165.7,258.9 165.7,259.2 165.7,259.5 165.7,259.8 165.7,260.1 165.7,260.4 165.7,260.6 165.7,260.9 165.7,261.2 165.7,261.5 165.7,261.8 165.7,262.1 165.8,262.4 165.8,262.7 165.8,263.0 165.8,263.3 165.8,263.6 165.8,263.8 165.8,264.1 165.8,264.4 165.8,264.7 165.8,265.0 165.8,265.3 165.9,265.6 165.9,265.9 166.0,266.2 166.1,266.5 166.1,266.8 166.2,267.1 166.2,267.4 166.3,267.8 166.4,268.1 166.4,268.4 166.5,268.7 166.6,269.0 166.7,269.3 166.8,269.6 166.9,269.9 167.0,270.2 167.1,270.6 167.2,270.9 167.4,271.2 167.5,271.5 167.7,271.9 167.8,272.2 168.0,272.5 168.1,272.8 168.3,273.2 168.4,273.5 168.6,273.8 168.7,274.2 168.9,274.5 169.1,274.8 169.3,275.1 169.4,275.5 169.6,275.8 169.8,276.2 170.0,276.5 170.2,276.8 170.4,277.2 170.6,277.5 170.8,277.8 171.0,278.2 171.2,278.5 171.4,278.9 171.6,279.2 171.8,279.5 172.0,279.9 172.2,280.2 172.4,280.5 172.6,280.9 172.8,281.2 173.0,281.6 173.2,281.9 173.4,282.3 173.6,282.6 173.8,282.9 174.1,283.3 174.3,283.6 174.6,284.0 174.8,284.4 175.1,284.7 175.4,285.1 175.7,285.4 176.0,285.8 176.3,286.2 176.6,286.5 176.9,286.9 177.2,287.2 177.5,287.6 177.8,288.0 178.1,288.3 178.4,288.7 178.7,289.1 179.0,289.4 179.2,289.8 179.5,290.1 179.8,290.5 180.1,290.9 180.4,291.2 180.7,291.6 181.0,291.9 181.3,292.3 181.6,292.7 181.8,293.0 182.1,293.4 182.4,293.8 182.7,294.1 183.0,294.5 183.3,294.8 183.6,295.2 183.9,295.6 184.2,295.9 184.6,296.3 184.9,296.7 185.2,297.0 185.5,297.4 185.8,297.8 186.1,298.1 186.4,298.5 186.7,298.9 187.0,299.2 187.3,299.6 187.6,299.9 187.9,300.3 188.2,300.7 188.5,301.0 188.8,301.4 189.1,301.7 189.3,302.1 189.6,302.5 189.9,302.8 190.2,303.2 190.5,303.6 190.8,303.9 191.1,304.3 191.4,304.6 191.6,305.0 191.9,305.3 192.2,305.7 192.5,306.1 192.8,306.4 193.0,306.8 193.3,307.1 193.6,307.5 193.9,307.9 194.2,308.2 194.5,308.6 194.8,309.0 195.2,309.3 195.5,309.7 195.8,310.1 196.2,310.5 196.6,310.8 196.9,311.2 197.3,311.6 197.7,312.0 198.1,312.4 198.5,312.8 198.9,313.1 199.3,313.5 199.8,313.9 200.2,314.3 200.6,314.7 201.1,315.1 201.5,315.5 202.0,315.9 202.4,316.3 202.9,316.7 203.4,317.1 203.8,317.5 204.3,318.0 204.9,318.4 205.4,318.8 205.9,319.2 206.5,319.6 207.0,320.1 207.6,320.5 208.2,320.9 208.9,321.4 209.5,321.8 210.1,322.3 210.8,322.7 211.5,323.2 212.2,323.6 212.9,324.1 213.7,324.6 214.6,325.1 215.5,325.6 216.4,326.1 217.4,326.6 218.3,327.2 219.2,327.7 220.2,328.2 221.1,328.7 222.1,329.3 223.2,329.8 224.2,330.4 225.3,330.9 226.3,331.5" fill="none" stroke="#000" stroke-width="1.9" stroke-linejoin="round" stroke-opacity="0.36"/>
<path d="M454.3,305.6 456.3,305.6 458.3,305.6 460.2,305.5 462.2,305.5 464.1,305.4 466.1,305.4 468.0,305.3 469.9,305.3 471.8,305.2 473.7,305.2 475.6,305.1 477.6,305.0 479.4,305.0 481.3,304.9 483.0,304.7 484.5,304.6 486.0,304.4 487.3,304.1 488.6,303.9 489.8,303.6 491.0,303.4 492.1,303.1 493.1,302.7 494.1,302.4 495.0,302.1 495.9,301.7 496.7,301.3 497.5,300.9 498.3,300.4 499.0,300.0 499.7,299.5 500.4,298.9 501.0,298.4 501.6,297.8 502.1,297.2 502.6,296.5 503.1,295.8 503.6,295.1 504.0,294.4 504.4,293.7 504.8,293.0 505.2,292.3 505.6,291.6 506.0,290.9 506.4,290.2 506.8,289.6 507.2,289.0 507.6,288.4 507.9,287.7 508.3,287.1 508.6,286.4 509.0,285.8 509.3,285.1 509.6,284.4 509.9,283.8 510.2,283.0 510.5,282.2 510.7,281.4 511.0,280.7 511.2,280.1 511.4,279.6 511.6,279.2 511.8,278.8 512.0,278.4 512.1,278.1 512.3,277.7 512.5,277.4 512.6,277.0 512.8,276.7 512.9,276.3 513.0,275.9 513.2,275.5 513.3,275.0 513.4,274.5 513.5,274.0 513.6,273.5 513.7,272.9 513.8,272.4 513.8,271.8 513.9,271.2 514.0,270.6 514.0,270.1 514.1,269.5 514.1,269.0 514.2,268.6 514.2,268.1 514.2,267.7 514.3,267.4 514.3,267.0 514.3,266.6 514.3,266.3 514.3,265.9 514.3,265.6 514.4,265.3 514.4,264.9 514.4,264.6 514.4,264.3 514.4,264.0 514.4,263.7 514.4,263.4 514.4,263.1 514.4,262.8 514.4,262.6 514.4,262.3 514.4,262.1 514.4,261.8 514.4,261.6 514.4,261.3 514.4,261.1 514.4,260.9 514.5,260.7 514.5,260.5 514.5,260.3 514.5,260.1 514.5,259.9 514.5,259.7 514.5,259.5 514.5,259.4 514.5,259.2 514.5,259.0 514.5,258.9 514.5,258.7 514.6,258.6 514.6,258.5 514.7,258.4 514.8,258.2 514.8,258.1 514.9,258.0 514.9,257.9 515.0,257.8 515.1,257.8 515.2,257.7 515.2,257.6 515.3,257.5 515.4,257.5 515.5,257.4 515.6,257.4 515.7,257.4 515.8,257.3 515.9,257.3 516.1,257.3 516.2,257.3 516.4,257.3 516.5,257.3 516.7,257.3 516.8,257.4 517.0,257.4 517.1,257.4 517.3,257.5 517.5,257.5 517.6,257.6 517.8,257.6 518.0,257.7 518.2,257.8 518.3,257.9 518.5,258.0 518.7,258.1 518.9,258.2 519.1,258.3 519.3,258.4 519.5,258.5 519.7,258.6 519.9,258.8 520.1,258.9 520.3,259.0 520.5,259.2 520.7,259.3 520.9,259.5 521.1,259.7 521.3,259.8 521.5,260.0 521.7,260.2 521.9,260.4 522.1,260.6 522.3,260.8 522.6,261.0 522.8,261.2 523.0,261.5 523.3,261.7 523.6,262.0 523.8,262.2 524.1,262.5 524.4,262.7 524.7,263.0 525.0,263.3 525.3,263.6 525.6,263.9 525.9,264.2 526.2,264.5 526.5,264.8 526.8,265.1 527.1,265.4 527.4,265.8 527.7,266.1 528.0,266.5 528.2,266.9 528.5,267.3 528.8,267.6 529.1,268.0 529.4,268.5 529.7,268.9 530.0,269.3 530.3,269.7 530.6,270.2 530.9,270.6 531.2,271.1 531.5,271.6 531.8,272.0 532.1,272.5 532.4,273.0 532.7,273.6 533.0,274.1 533.3,274.8 533.6,275.4 533.9,276.0 534.2,276.7 534.5,277.4 534.8,278.1 535.1,278.8 535.4,279.4 535.7,280.1 536.0,280.8 536.3,281.4 536.6,282.0 536.9,282.6 537.2,283.2 537.5,283.7 537.8,284.3 538.1,284.9 538.4,285.4 538.7,286.0 538.9,286.5 539.2,287.1 539.5,287.6 539.8,288.2 540.1,288.7 540.4,289.3 540.7,289.9 540.9,290.4 541.2,291.0 541.5,291.6 541.8,292.1 542.0,292.7 542.3,293.3 542.6,293.9 542.9,294.5 543.2,295.1 543.6,295.7 543.9,296.4 544.2,297.0 544.6,297.7 544.9,298.4 545.3,299.1 545.7,299.8 546.0,300.6 546.4,301.4 546.8,302.2 547.2,303.0 547.6,303.9 548.1,304.7 548.5,305.5 548.9,306.3 549.4,307.1 549.8,307.9 550.2,308.7 550.7,309.4 551.1,310.2 551.6,311.0 552.1,311.7 552.6,312.5 553.1,313.3 553.6,314.0 554.1,314.8 554.6,315.5 555.2,316.3 555.8,317.1 556.3,317.8 556.9,318.6 557.6,319.4 558.2,320.2 558.9,320.9 559.5,321.7 560.2,322.5 560.9,323.2 561.6,324.0 562.5,324.8 563.3,325.5 564.2,326.3 565.1,327.1 566.1,327.8 567.0,328.6 567.9,329.4 568.9,330.1 569.8,330.9 570.8,331.7 571.9,332.4 572.9,333.2 574.0,334.0 575.0,334.7" fill="none" stroke="#000" stroke-width="1.9" stroke-linejoin="round" stroke-opacity="0.36"/>
<g fill-opacity="0.42"><circle cx="105.4" cy="215.1" r="1.15"/><circle cx="115.2" cy="218.9" r="1.15"/><circle cx="124.6" cy="222.6" r="1.15"/><circle cx="133.8" cy="226.3" r="1.15"/><circle cx="140.8" cy="229.4" r="1.15"/><circle cx="146.0" cy="232.2" r="1.15"/><circle cx="150.0" cy="234.6" r="1.15"/><circle cx="153.2" cy="236.8" r="1.15"/><circle cx="155.5" cy="238.8" r="1.15"/><circle cx="157.5" cy="240.7" r="1.15"/><circle cx="159.3" cy="242.6" r="1.15"/><circle cx="160.9" cy="244.4" r="1.15"/><circle cx="162.3" cy="246.2" r="1.15"/><circle cx="163.3" cy="247.9" r="1.15"/><circle cx="164.1" cy="249.5" r="1.15"/><circle cx="164.7" cy="251.1" r="1.15"/><circle cx="165.1" cy="252.6" r="1.15"/><circle cx="165.4" cy="254.1" r="1.15"/><circle cx="165.6" cy="255.6" r="1.15"/><circle cx="165.7" cy="257.0" r="1.15"/><circle cx="165.7" cy="258.5" r="1.15"/><circle cx="165.7" cy="259.9" r="1.15"/><circle cx="165.7" cy="261.3" r="1.15"/><circle cx="165.8" cy="262.8" r="1.15"/><circle cx="165.8" cy="264.2" r="1.15"/><circle cx="165.9" cy="265.7" r="1.15"/><circle cx="166.2" cy="267.2" r="1.15"/><circle cx="166.5" cy="268.7" r="1.15"/><circle cx="167.0" cy="270.2" r="1.15"/><circle cx="167.6" cy="271.8" r="1.15"/><circle cx="168.4" cy="273.4" r="1.15"/><circle cx="169.2" cy="275.1" r="1.15"/><circle cx="170.2" cy="276.7" r="1.15"/><circle cx="171.1" cy="278.4" r="1.15"/><circle cx="172.1" cy="280.1" r="1.15"/><circle cx="173.1" cy="281.7" r="1.15"/><circle cx="174.2" cy="283.4" r="1.15"/><circle cx="175.5" cy="285.2" r="1.15"/><circle cx="177.0" cy="287.0" r="1.15"/><circle cx="178.5" cy="288.8" r="1.15"/><circle cx="179.8" cy="290.5" r="1.15"/><circle cx="181.3" cy="292.3" r="1.15"/><circle cx="182.7" cy="294.1" r="1.15"/><circle cx="184.2" cy="295.9" r="1.15"/><circle cx="185.7" cy="297.7" r="1.15"/><circle cx="187.2" cy="299.5" r="1.15"/><circle cx="188.7" cy="301.3" r="1.15"/><circle cx="190.1" cy="303.1" r="1.15"/><circle cx="191.5" cy="304.8" r="1.15"/><circle cx="192.9" cy="306.6" r="1.15"/><circle cx="194.3" cy="308.4" r="1.15"/><circle cx="196.0" cy="310.2" r="1.15"/><circle cx="197.8" cy="312.1" r="1.15"/><circle cx="199.9" cy="314.0" r="1.15"/><circle cx="202.0" cy="316.0" r="1.15"/><circle cx="204.4" cy="318.0" r="1.15"/><circle cx="207.0" cy="320.1" r="1.15"/><circle cx="210.1" cy="322.2" r="1.15"/><circle cx="213.6" cy="324.5" r="1.15"/><circle cx="218.1" cy="327.1" r="1.15"/><circle cx="222.9" cy="329.7" r="1.15"/></g>
<g fill-opacity="0.42"><circle cx="454.3" cy="305.6" r="1.15"/><circle cx="464.0" cy="305.4" r="1.15"/><circle cx="473.4" cy="305.2" r="1.15"/><circle cx="482.6" cy="304.8" r="1.15"/><circle cx="489.5" cy="303.7" r="1.15"/><circle cx="494.7" cy="302.2" r="1.15"/><circle cx="498.7" cy="300.2" r="1.15"/><circle cx="501.9" cy="297.5" r="1.15"/><circle cx="504.2" cy="294.1" r="1.15"/><circle cx="506.2" cy="290.7" r="1.15"/><circle cx="508.0" cy="287.5" r="1.15"/><circle cx="509.6" cy="284.3" r="1.15"/><circle cx="511.0" cy="280.6" r="1.15"/><circle cx="512.0" cy="278.4" r="1.15"/><circle cx="512.8" cy="276.7" r="1.15"/><circle cx="513.4" cy="274.6" r="1.15"/><circle cx="513.8" cy="271.9" r="1.15"/><circle cx="514.1" cy="269.1" r="1.15"/><circle cx="514.3" cy="267.1" r="1.15"/><circle cx="514.4" cy="265.4" r="1.15"/><circle cx="514.4" cy="263.8" r="1.15"/><circle cx="514.4" cy="262.4" r="1.15"/><circle cx="514.4" cy="261.3" r="1.15"/><circle cx="514.5" cy="260.2" r="1.15"/><circle cx="514.5" cy="259.3" r="1.15"/><circle cx="514.6" cy="258.6" r="1.15"/><circle cx="514.9" cy="258.0" r="1.15"/><circle cx="515.2" cy="257.6" r="1.15"/><circle cx="515.7" cy="257.4" r="1.15"/><circle cx="516.4" cy="257.3" r="1.15"/><circle cx="517.1" cy="257.4" r="1.15"/><circle cx="517.9" cy="257.7" r="1.15"/><circle cx="518.9" cy="258.1" r="1.15"/><circle cx="519.8" cy="258.7" r="1.15"/><circle cx="520.8" cy="259.4" r="1.15"/><circle cx="521.8" cy="260.3" r="1.15"/><circle cx="522.9" cy="261.3" r="1.15"/><circle cx="524.2" cy="262.6" r="1.15"/><circle cx="525.7" cy="264.0" r="1.15"/><circle cx="527.2" cy="265.5" r="1.15"/><circle cx="528.6" cy="267.3" r="1.15"/><circle cx="530.0" cy="269.3" r="1.15"/><circle cx="531.5" cy="271.6" r="1.15"/><circle cx="532.9" cy="274.1" r="1.15"/><circle cx="534.5" cy="277.3" r="1.15"/><circle cx="536.0" cy="280.6" r="1.15"/><circle cx="537.4" cy="283.6" r="1.15"/><circle cx="538.8" cy="286.3" r="1.15"/><circle cx="540.3" cy="289.1" r="1.15"/><circle cx="541.6" cy="291.8" r="1.15"/><circle cx="543.1" cy="294.8" r="1.15"/><circle cx="544.7" cy="297.9" r="1.15"/><circle cx="546.5" cy="301.6" r="1.15"/><circle cx="548.6" cy="305.7" r="1.15"/><circle cx="550.8" cy="309.6" r="1.15"/><circle cx="553.1" cy="313.3" r="1.15"/><circle cx="555.8" cy="317.1" r="1.15"/><circle cx="558.8" cy="320.9" r="1.15"/><circle cx="562.3" cy="324.6" r="1.15"/><circle cx="566.8" cy="328.4" r="1.15"/><circle cx="571.6" cy="332.2" r="1.15"/></g>
<path d="M101.1,217.6 103.1,218.3 105.1,219.1 107.0,219.9 109.0,220.7 110.9,221.4 112.8,222.2 114.7,222.9 116.6,223.7 118.4,224.4 120.4,225.2 122.3,225.9 124.2,226.7 126.1,227.5 127.9,228.2 129.6,228.9 131.2,229.6 132.6,230.2 134.0,230.8 135.3,231.4 136.5,232.0 137.6,232.6 138.7,233.2 139.8,233.7 140.7,234.2 141.7,234.8 142.5,235.3 143.4,235.8 144.2,236.2 144.9,236.7 145.7,237.2 146.3,237.6 147.0,238.1 147.6,238.5 148.2,239.0 148.8,239.4 149.3,239.8 149.8,240.2 150.2,240.6 150.7,241.0 151.1,241.4 151.5,241.8 151.9,242.2 152.3,242.6 152.7,243.0 153.1,243.4 153.5,243.8 153.9,244.1 154.3,244.5 154.6,244.9 155.0,245.3 155.3,245.7 155.7,246.0 156.0,246.4 156.3,246.8 156.6,247.1 156.9,247.5 157.2,247.9 157.5,248.2 157.7,248.6 158.0,248.9 158.2,249.3 158.3,249.6 158.5,249.9 158.7,250.3 158.8,250.6 159.0,250.9 159.1,251.2 159.2,251.6 159.4,251.9 159.5,252.2 159.6,252.5 159.7,252.8 159.8,253.2 159.9,253.5 160.0,253.8 160.1,254.1 160.1,254.4 160.2,254.7 160.2,255.0 160.3,255.3 160.3,255.6 160.3,255.9 160.3,256.2 160.4,256.5 160.4,256.8 160.4,257.1 160.4,257.4 160.4,257.6 160.4,257.9 160.3,258.2 160.3,258.5 160.3,258.8 160.3,259.1 160.3,259.4 160.3,259.7 160.2,259.9 160.2,260.2 160.2,260.5 160.2,260.8 160.1,261.1 160.1,261.4 160.1,261.6 160.1,261.9 160.0,262.2 160.0,262.5 159.9,262.8 159.9,263.1 159.9,263.3 159.8,263.6 159.8,263.9 159.8,264.2 159.7,264.5 159.7,264.8 159.7,265.0 159.7,265.3 159.6,265.6 159.6,265.9 159.6,266.2 159.5,266.5 159.5,266.7 159.5,267.0 159.5,267.3 159.5,267.6 159.6,267.9 159.6,268.2 159.7,268.5 159.7,268.8 159.7,269.1 159.8,269.4 159.8,269.7 159.9,270.0 160.0,270.3 160.0,270.6 160.1,270.9 160.2,271.3 160.2,271.6 160.3,271.9 160.4,272.2 160.6,272.5 160.7,272.8 160.8,273.2 161.0,273.5 161.1,273.8 161.3,274.1 161.4,274.5 161.6,274.8 161.7,275.1 161.9,275.5 162.1,275.8 162.2,276.1 162.4,276.4 162.6,276.8 162.8,277.1 163.0,277.5 163.2,277.8 163.4,278.1 163.6,278.5 163.8,278.8 164.0,279.2 164.2,279.5 164.4,279.8 164.6,280.2 164.8,280.5 165.1,280.9 165.3,281.2 165.5,281.5 165.7,281.9 165.9,282.2 166.1,282.6 166.3,282.9 166.6,283.3 166.8,283.6 167.0,284.0 167.3,284.3 167.5,284.7 167.8,285.0 168.0,285.4 168.3,285.7 168.6,286.1 168.9,286.4 169.2,286.8 169.5,287.2 169.8,287.5 170.2,287.9 170.5,288.3 170.9,288.7 171.2,289.0 171.6,289.4 171.9,289.8 172.2,290.2 172.6,290.5 172.9,290.9 173.2,291.3 173.5,291.6 173.9,292.0 174.2,292.4 174.5,292.8 174.8,293.1 175.2,293.5 175.5,293.9 175.8,294.2 176.1,294.6 176.5,295.0 176.8,295.3 177.1,295.7 177.5,296.1 177.8,296.5 178.2,296.8 178.5,297.2 178.8,297.6 179.2,298.0 179.5,298.3 179.9,298.7 180.2,299.1 180.5,299.5 180.9,299.8 181.2,300.2 181.6,300.6 181.9,301.0 182.3,301.3 182.6,301.7 182.9,302.1 183.3,302.4 183.6,302.8 183.9,303.2 184.2,303.5 184.5,303.9 184.8,304.3 185.2,304.6 185.5,305.0 185.8,305.4 186.1,305.7 186.4,306.1 186.7,306.5 187.0,306.8 187.3,307.2 187.6,307.6 187.9,307.9 188.2,308.3 188.5,308.6 188.8,309.0 189.1,309.4 189.4,309.7 189.7,310.1 190.0,310.5 190.3,310.8 190.6,311.2 190.9,311.6 191.3,311.9 191.6,312.3 191.9,312.7 192.3,313.1 192.7,313.4 193.0,313.8 193.4,314.2 193.8,314.6 194.2,315.0 194.6,315.4 195.0,315.7 195.4,316.1 195.8,316.5 196.3,316.9 196.7,317.3 197.1,317.7 197.6,318.1 198.0,318.5 198.5,318.9 198.9,319.3 199.4,319.7 199.9,320.1 200.3,320.5 200.9,320.9 201.4,321.4 201.9,321.8 202.4,322.2 203.0,322.6 203.6,323.1 204.2,323.5 204.8,323.9 205.4,324.4 206.0,324.8 206.7,325.3 207.4,325.7 208.1,326.2 208.8,326.7 209.6,327.1 210.4,327.6 211.3,328.1 212.2,328.7 213.1,329.2 214.0,329.7 214.9,330.2 215.9,330.7 216.9,331.2 217.9,331.8 218.9,332.3 220.0,332.9 221.1,333.4 222.2,334.0" fill="none" stroke="#000" stroke-width="1.9" stroke-linejoin="round" stroke-opacity="0.36"/>
<path d="M450.0,308.6 452.0,308.6 453.9,308.6 455.9,308.6 457.8,308.6 459.7,308.5 461.6,308.5 463.5,308.5 465.4,308.4 467.3,308.4 469.2,308.4 471.1,308.3 473.0,308.3 474.9,308.2 476.7,308.2 478.4,308.1 479.9,307.9 481.4,307.8 482.7,307.6 484.0,307.4 485.2,307.1 486.4,306.9 487.5,306.6 488.5,306.4 489.5,306.1 490.4,305.7 491.3,305.4 492.1,305.0 492.9,304.6 493.7,304.2 494.4,303.8 495.1,303.3 495.7,302.9 496.4,302.3 496.9,301.8 497.5,301.2 498.0,300.5 498.5,299.9 498.9,299.2 499.4,298.6 499.8,297.9 500.2,297.2 500.6,296.5 501.0,295.8 501.4,295.1 501.8,294.5 502.2,293.9 502.6,293.3 503.0,292.6 503.3,292.0 503.7,291.3 504.0,290.7 504.4,290.0 504.7,289.3 505.0,288.6 505.3,287.9 505.6,287.2 505.9,286.3 506.2,285.5 506.4,284.7 506.7,284.1 506.9,283.6 507.0,283.2 507.2,282.9 507.4,282.5 507.5,282.2 507.7,281.9 507.8,281.5 507.9,281.2 508.1,280.9 508.2,280.5 508.3,280.2 508.4,279.8 508.5,279.4 508.6,279.0 508.7,278.5 508.7,278.0 508.8,277.5 508.9,277.0 508.9,276.4 509.0,275.9 509.0,275.4 509.0,274.9 509.0,274.4 509.1,273.9 509.1,273.5 509.1,273.1 509.1,272.7 509.1,272.4 509.1,272.0 509.0,271.7 509.0,271.3 509.0,271.0 509.0,270.7 509.0,270.4 509.0,270.0 508.9,269.7 508.9,269.4 508.9,269.2 508.9,268.9 508.8,268.6 508.8,268.3 508.8,268.0 508.8,267.8 508.7,267.5 508.7,267.3 508.6,267.0 508.6,266.8 508.6,266.6 508.5,266.4 508.5,266.1 508.5,265.9 508.4,265.7 508.4,265.5 508.4,265.3 508.4,265.1 508.3,265.0 508.3,264.8 508.3,264.6 508.3,264.4 508.2,264.3 508.2,264.1 508.2,264.0 508.3,263.8 508.3,263.7 508.3,263.6 508.4,263.5 508.4,263.4 508.5,263.3 508.5,263.2 508.5,263.1 508.6,263.0 508.7,262.9 508.7,262.9 508.8,262.8 508.9,262.7 508.9,262.7 509.0,262.7 509.1,262.6 509.3,262.6 509.4,262.6 509.5,262.6 509.7,262.6 509.8,262.6 510.0,262.6 510.1,262.6 510.3,262.6 510.4,262.7 510.6,262.7 510.8,262.8 510.9,262.8 511.1,262.9 511.3,262.9 511.5,263.0 511.7,263.1 511.9,263.2 512.1,263.2 512.3,263.3 512.5,263.5 512.7,263.6 512.9,263.7 513.1,263.8 513.3,263.9 513.6,264.1 513.8,264.2 514.0,264.3 514.2,264.5 514.4,264.6 514.6,264.8 514.8,265.0 515.0,265.1 515.3,265.3 515.5,265.5 515.7,265.7 516.0,265.9 516.2,266.1 516.5,266.3 516.7,266.5 517.0,266.8 517.3,267.0 517.6,267.2 517.9,267.5 518.2,267.8 518.6,268.0 518.9,268.3 519.2,268.6 519.6,268.9 519.9,269.2 520.3,269.5 520.6,269.8 521.0,270.1 521.3,270.4 521.6,270.7 521.9,271.1 522.3,271.4 522.6,271.7 522.9,272.1 523.2,272.5 523.5,272.9 523.9,273.3 524.2,273.7 524.5,274.1 524.9,274.5 525.2,274.9 525.5,275.4 525.9,275.8 526.2,276.2 526.5,276.7 526.9,277.1 527.2,277.6 527.5,278.1 527.9,278.6 528.2,279.2 528.6,279.8 528.9,280.4 529.3,281.0 529.6,281.6 530.0,282.3 530.3,282.9 530.7,283.6 531.0,284.2 531.3,284.9 531.7,285.5 532.0,286.1 532.3,286.7 532.6,287.2 532.9,287.8 533.2,288.3 533.6,288.9 533.9,289.4 534.2,290.0 534.5,290.5 534.8,291.0 535.1,291.6 535.4,292.1 535.8,292.7 536.1,293.2 536.4,293.7 536.7,294.3 536.9,294.8 537.2,295.4 537.5,295.9 537.8,296.5 538.1,297.0 538.4,297.6 538.7,298.2 539.0,298.7 539.3,299.3 539.6,299.9 540.0,300.5 540.3,301.2 540.7,301.8 541.0,302.5 541.4,303.2 541.7,303.9 542.1,304.6 542.5,305.3 542.9,306.1 543.3,306.9 543.7,307.7 544.1,308.5 544.6,309.3 545.0,310.1 545.4,310.8 545.9,311.6 546.3,312.3 546.7,313.1 547.2,313.8 547.6,314.6 548.1,315.3 548.6,316.0 549.1,316.7 549.6,317.5 550.1,318.2 550.6,318.9 551.2,319.7 551.7,320.4 552.3,321.1 552.9,321.9 553.5,322.6 554.1,323.4 554.7,324.1 555.4,324.9 556.1,325.6 556.8,326.4 557.5,327.1 558.3,327.9 559.1,328.6 560.0,329.4 560.9,330.1 561.8,330.9 562.7,331.6 563.7,332.3 564.6,333.1 565.6,333.8 566.6,334.6 567.6,335.3 568.7,336.1 569.8,336.8 570.9,337.5" fill="none" stroke="#000" stroke-width="1.9" stroke-linejoin="round" stroke-opacity="0.36"/>
<g fill-opacity="0.42"><circle cx="101.1" cy="217.6" r="1.15"/><circle cx="110.8" cy="221.4" r="1.15"/><circle cx="120.1" cy="225.1" r="1.15"/><circle cx="129.2" cy="228.7" r="1.15"/><circle cx="136.1" cy="231.9" r="1.15"/><circle cx="141.3" cy="234.6" r="1.15"/><circle cx="145.3" cy="237.0" r="1.15"/><circle cx="148.5" cy="239.2" r="1.15"/><circle cx="150.8" cy="241.2" r="1.15"/><circle cx="152.8" cy="243.1" r="1.15"/><circle cx="154.7" cy="245.0" r="1.15"/><circle cx="156.4" cy="246.8" r="1.15"/><circle cx="157.8" cy="248.6" r="1.15"/><circle cx="158.7" cy="250.3" r="1.15"/><circle cx="159.4" cy="251.9" r="1.15"/><circle cx="159.9" cy="253.4" r="1.15"/><circle cx="160.2" cy="255.0" r="1.15"/><circle cx="160.4" cy="256.4" r="1.15"/><circle cx="160.4" cy="257.9" r="1.15"/><circle cx="160.3" cy="259.3" r="1.15"/><circle cx="160.2" cy="260.7" r="1.15"/><circle cx="160.0" cy="262.1" r="1.15"/><circle cx="159.9" cy="263.5" r="1.15"/><circle cx="159.7" cy="264.9" r="1.15"/><circle cx="159.6" cy="266.3" r="1.15"/><circle cx="159.6" cy="267.7" r="1.15"/><circle cx="159.8" cy="269.2" r="1.15"/><circle cx="160.0" cy="270.7" r="1.15"/><circle cx="160.4" cy="272.2" r="1.15"/><circle cx="161.1" cy="273.8" r="1.15"/><circle cx="161.9" cy="275.4" r="1.15"/><circle cx="162.7" cy="277.0" r="1.15"/><circle cx="163.7" cy="278.7" r="1.15"/><circle cx="164.8" cy="280.4" r="1.15"/><circle cx="165.8" cy="282.1" r="1.15"/><circle cx="166.9" cy="283.8" r="1.15"/><circle cx="168.1" cy="285.5" r="1.15"/><circle cx="169.6" cy="287.3" r="1.15"/><circle cx="171.3" cy="289.2" r="1.15"/><circle cx="173.0" cy="291.0" r="1.15"/><circle cx="174.6" cy="292.8" r="1.15"/><circle cx="176.2" cy="294.6" r="1.15"/><circle cx="177.8" cy="296.5" r="1.15"/><circle cx="179.5" cy="298.3" r="1.15"/><circle cx="181.2" cy="300.1" r="1.15"/><circle cx="182.9" cy="302.0" r="1.15"/><circle cx="184.4" cy="303.8" r="1.15"/><circle cx="186.0" cy="305.6" r="1.15"/><circle cx="187.5" cy="307.4" r="1.15"/><circle cx="188.9" cy="309.2" r="1.15"/><circle cx="190.4" cy="311.0" r="1.15"/><circle cx="192.1" cy="312.8" r="1.15"/><circle cx="193.9" cy="314.7" r="1.15"/><circle cx="195.9" cy="316.6" r="1.15"/><circle cx="198.1" cy="318.6" r="1.15"/><circle cx="200.4" cy="320.6" r="1.15"/><circle cx="203.0" cy="322.6" r="1.15"/><circle cx="206.0" cy="324.8" r="1.15"/><circle cx="209.5" cy="327.1" r="1.15"/><circle cx="213.8" cy="329.6" r="1.15"/><circle cx="218.6" cy="332.2" r="1.15"/></g>
<g fill-opacity="0.42"><circle cx="450.0" cy="308.6" r="1.15"/><circle cx="459.6" cy="308.5" r="1.15"/><circle cx="468.9" cy="308.4" r="1.15"/><circle cx="478.0" cy="308.1" r="1.15"/><circle cx="484.9" cy="307.2" r="1.15"/><circle cx="490.1" cy="305.9" r="1.15"/><circle cx="494.1" cy="304.0" r="1.15"/><circle cx="497.2" cy="301.5" r="1.15"/><circle cx="499.5" cy="298.3" r="1.15"/><circle cx="501.6" cy="294.9" r="1.15"/><circle cx="503.4" cy="291.8" r="1.15"/><circle cx="505.1" cy="288.5" r="1.15"/><circle cx="506.5" cy="284.6" r="1.15"/><circle cx="507.4" cy="282.5" r="1.15"/><circle cx="508.1" cy="280.9" r="1.15"/><circle cx="508.6" cy="279.0" r="1.15"/><circle cx="508.9" cy="276.5" r="1.15"/><circle cx="509.1" cy="274.0" r="1.15"/><circle cx="509.1" cy="272.1" r="1.15"/><circle cx="509.0" cy="270.5" r="1.15"/><circle cx="508.9" cy="269.0" r="1.15"/><circle cx="508.7" cy="267.7" r="1.15"/><circle cx="508.6" cy="266.5" r="1.15"/><circle cx="508.4" cy="265.5" r="1.15"/><circle cx="508.3" cy="264.6" r="1.15"/><circle cx="508.3" cy="263.8" r="1.15"/><circle cx="508.5" cy="263.3" r="1.15"/><circle cx="508.7" cy="262.9" r="1.15"/><circle cx="509.1" cy="262.6" r="1.15"/><circle cx="509.8" cy="262.6" r="1.15"/><circle cx="510.6" cy="262.7" r="1.15"/><circle cx="511.4" cy="263.0" r="1.15"/><circle cx="512.4" cy="263.4" r="1.15"/><circle cx="513.5" cy="264.0" r="1.15"/><circle cx="514.5" cy="264.7" r="1.15"/><circle cx="515.6" cy="265.6" r="1.15"/><circle cx="516.8" cy="266.6" r="1.15"/><circle cx="518.3" cy="267.8" r="1.15"/><circle cx="520.0" cy="269.2" r="1.15"/><circle cx="521.7" cy="270.8" r="1.15"/><circle cx="523.3" cy="272.5" r="1.15"/><circle cx="524.9" cy="274.5" r="1.15"/><circle cx="526.5" cy="276.7" r="1.15"/><circle cx="528.2" cy="279.1" r="1.15"/><circle cx="529.9" cy="282.2" r="1.15"/><circle cx="531.6" cy="285.3" r="1.15"/><circle cx="533.2" cy="288.2" r="1.15"/><circle cx="534.7" cy="290.9" r="1.15"/><circle cx="536.2" cy="293.5" r="1.15"/><circle cx="537.7" cy="296.2" r="1.15"/><circle cx="539.1" cy="299.0" r="1.15"/><circle cx="540.8" cy="302.0" r="1.15"/><circle cx="542.6" cy="305.5" r="1.15"/><circle cx="544.7" cy="309.5" r="1.15"/><circle cx="546.8" cy="313.2" r="1.15"/><circle cx="549.1" cy="316.8" r="1.15"/><circle cx="551.7" cy="320.4" r="1.15"/><circle cx="554.7" cy="324.1" r="1.15"/><circle cx="558.2" cy="327.8" r="1.15"/><circle cx="562.5" cy="331.4" r="1.15"/><circle cx="567.3" cy="335.1" r="1.15"/></g>
<path d="M96.7,220.1 98.7,220.8 100.7,221.6 102.6,222.4 104.5,223.1 106.4,223.9 108.3,224.6 110.2,225.4 112.0,226.1 113.9,226.9 115.8,227.6 117.7,228.4 119.6,229.1 121.4,229.9 123.2,230.6 124.9,231.3 126.5,232.0 127.9,232.6 129.3,233.2 130.6,233.8 131.8,234.4 132.9,235.0 134.0,235.6 135.0,236.1 136.0,236.6 136.9,237.1 137.8,237.7 138.6,238.1 139.4,238.6 140.2,239.1 140.9,239.6 141.6,240.0 142.3,240.5 142.9,240.9 143.5,241.4 144.0,241.8 144.5,242.2 145.0,242.6 145.5,243.0 145.9,243.4 146.3,243.8 146.7,244.2 147.2,244.6 147.6,245.0 148.0,245.4 148.4,245.8 148.8,246.2 149.2,246.5 149.6,246.9 149.9,247.3 150.3,247.7 150.7,248.1 151.0,248.4 151.3,248.8 151.6,249.2 152.0,249.6 152.3,249.9 152.6,250.3 152.8,250.6 153.1,251.0 153.3,251.3 153.5,251.7 153.7,252.0 153.8,252.3 153.9,252.7 154.1,253.0 154.2,253.3 154.3,253.6 154.4,253.9 154.5,254.3 154.6,254.6 154.7,254.9 154.8,255.2 154.9,255.5 155.0,255.8 155.0,256.1 155.0,256.4 155.1,256.7 155.1,257.0 155.1,257.3 155.1,257.6 155.1,257.9 155.1,258.2 155.1,258.5 155.1,258.7 155.0,259.0 155.0,259.3 155.0,259.6 154.9,259.9 154.9,260.2 154.8,260.4 154.8,260.7 154.7,261.0 154.6,261.3 154.6,261.5 154.5,261.8 154.5,262.1 154.4,262.4 154.3,262.6 154.3,262.9 154.2,263.2 154.1,263.5 154.1,263.7 154.0,264.0 153.9,264.3 153.8,264.5 153.7,264.8 153.7,265.1 153.6,265.4 153.5,265.6 153.4,265.9 153.4,266.2 153.3,266.4 153.2,266.7 153.2,267.0 153.1,267.3 153.0,267.5 152.9,267.8 152.9,268.1 152.8,268.4 152.7,268.6 152.7,268.9 152.7,269.2 152.7,269.5 152.7,269.8 152.7,270.1 152.7,270.4 152.7,270.7 152.8,271.0 152.8,271.3 152.8,271.6 152.8,271.9 152.9,272.2 152.9,272.5 153.0,272.8 153.0,273.1 153.1,273.4 153.2,273.7 153.3,274.0 153.4,274.3 153.5,274.6 153.6,275.0 153.8,275.3 153.9,275.6 154.1,275.9 154.3,276.3 154.4,276.6 154.6,276.9 154.8,277.3 155.0,277.6 155.1,277.9 155.3,278.3 155.5,278.6 155.7,278.9 155.9,279.3 156.1,279.6 156.4,280.0 156.6,280.3 156.8,280.7 157.0,281.0 157.3,281.4 157.5,281.7 157.7,282.0 158.0,282.4 158.2,282.7 158.4,283.1 158.7,283.4 158.9,283.8 159.1,284.1 159.4,284.5 159.6,284.8 159.9,285.2 160.1,285.5 160.4,285.9 160.6,286.2 160.9,286.6 161.2,287.0 161.5,287.3 161.8,287.7 162.1,288.1 162.5,288.4 162.8,288.8 163.2,289.2 163.6,289.6 163.9,290.0 164.3,290.3 164.7,290.7 165.1,291.1 165.5,291.5 165.9,291.9 166.3,292.3 166.7,292.7 167.1,293.0 167.5,293.4 167.8,293.8 168.2,294.2 168.6,294.6 168.9,294.9 169.3,295.3 169.7,295.7 170.1,296.1 170.4,296.5 170.8,296.9 171.2,297.2 171.6,297.6 172.0,298.0 172.3,298.4 172.7,298.8 173.1,299.2 173.5,299.5 173.9,299.9 174.2,300.3 174.6,300.7 175.0,301.1 175.4,301.5 175.8,301.9 176.2,302.2 176.6,302.6 177.0,303.0 177.4,303.4 177.8,303.8 178.2,304.2 178.5,304.5 178.9,304.9 179.2,305.3 179.6,305.7 179.9,306.0 180.3,306.4 180.6,306.8 181.0,307.2 181.3,307.6 181.7,307.9 182.0,308.3 182.4,308.7 182.7,309.0 183.0,309.4 183.4,309.8 183.7,310.2 184.0,310.5 184.3,310.9 184.6,311.3 184.9,311.6 185.2,312.0 185.5,312.3 185.8,312.7 186.1,313.1 186.4,313.4 186.8,313.8 187.1,314.2 187.4,314.5 187.8,314.9 188.1,315.3 188.5,315.7 188.8,316.1 189.2,316.4 189.6,316.8 190.0,317.2 190.3,317.6 190.7,318.0 191.2,318.4 191.6,318.8 192.0,319.1 192.4,319.5 192.8,319.9 193.3,320.3 193.7,320.7 194.1,321.1 194.6,321.5 195.0,321.9 195.5,322.3 195.9,322.7 196.4,323.1 196.9,323.5 197.4,324.0 197.9,324.4 198.5,324.8 199.0,325.2 199.6,325.6 200.1,326.1 200.7,326.5 201.3,326.9 202.0,327.4 202.6,327.8 203.3,328.3 203.9,328.7 204.7,329.2 205.4,329.7 206.2,330.2 207.1,330.7 208.0,331.2 208.9,331.7 209.8,332.2 210.7,332.7 211.6,333.2 212.6,333.8 213.7,334.3 214.7,334.9 215.8,335.4 216.9,336.0 218.0,336.5" fill="none" stroke="#000" stroke-width="1.9" stroke-linejoin="round" stroke-opacity="0.36"/>
<path d="M445.7,311.6 447.6,311.7 449.6,311.7 451.5,311.7 453.4,311.7 455.3,311.6 457.2,311.6 459.0,311.6 460.9,311.6 462.7,311.6 464.6,311.6 466.5,311.6 468.4,311.6 470.2,311.5 472.0,311.5 473.7,311.4 475.2,311.3 476.7,311.2 478.0,311.0 479.3,310.9 480.5,310.7 481.7,310.5 482.8,310.2 483.8,310.0 484.8,309.7 485.7,309.4 486.6,309.1 487.4,308.8 488.2,308.5 488.9,308.1 489.7,307.7 490.3,307.3 491.0,306.8 491.6,306.3 492.2,305.8 492.8,305.2 493.3,304.6 493.7,304.0 494.2,303.4 494.6,302.7 495.0,302.0 495.5,301.4 495.9,300.7 496.3,300.0 496.7,299.4 497.1,298.8 497.5,298.1 497.9,297.5 498.3,296.9 498.7,296.2 499.0,295.6 499.4,294.9 499.7,294.2 500.0,293.5 500.3,292.8 500.7,292.0 501.0,291.2 501.3,290.4 501.6,289.5 501.8,288.7 502.0,288.0 502.2,287.5 502.4,287.1 502.5,286.8 502.7,286.5 502.8,286.2 502.9,285.9 503.0,285.6 503.1,285.3 503.2,285.0 503.3,284.7 503.4,284.4 503.5,284.0 503.6,283.7 503.7,283.3 503.7,282.8 503.7,282.4 503.8,281.9 503.8,281.5 503.8,281.0 503.8,280.5 503.8,280.0 503.8,279.6 503.8,279.1 503.8,278.7 503.8,278.3 503.7,277.9 503.7,277.6 503.6,277.2 503.6,276.9 503.5,276.6 503.5,276.3 503.4,276.0 503.3,275.7 503.3,275.4 503.2,275.1 503.2,274.8 503.1,274.5 503.0,274.2 503.0,273.9 502.9,273.7 502.8,273.4 502.8,273.1 502.7,272.9 502.6,272.6 502.5,272.4 502.4,272.1 502.4,271.9 502.3,271.7 502.2,271.5 502.1,271.2 502.1,271.0 502.0,270.8 501.9,270.6 501.9,270.4 501.8,270.2 501.7,270.1 501.6,269.9 501.6,269.7 501.5,269.5 501.4,269.4 501.4,269.2 501.4,269.1 501.4,268.9 501.4,268.8 501.4,268.7 501.4,268.6 501.4,268.5 501.5,268.4 501.5,268.3 501.5,268.2 501.5,268.1 501.6,268.0 501.6,268.0 501.7,267.9 501.7,267.8 501.8,267.8 501.9,267.8 502.0,267.7 502.1,267.7 502.2,267.7 502.3,267.7 502.5,267.7 502.6,267.7 502.8,267.7 503.0,267.7 503.1,267.8 503.3,267.8 503.5,267.8 503.7,267.9 503.8,267.9 504.0,268.0 504.2,268.1 504.4,268.1 504.6,268.2 504.8,268.3 505.1,268.4 505.3,268.5 505.5,268.6 505.8,268.7 506.0,268.8 506.2,268.9 506.4,269.1 506.7,269.2 506.9,269.3 507.1,269.5 507.4,269.6 507.6,269.8 507.8,270.0 508.1,270.1 508.3,270.3 508.6,270.5 508.8,270.7 509.1,270.8 509.3,271.0 509.6,271.2 509.9,271.5 510.2,271.7 510.5,271.9 510.8,272.1 511.2,272.4 511.5,272.6 511.9,272.9 512.3,273.2 512.7,273.5 513.0,273.7 513.4,274.0 513.8,274.3 514.2,274.6 514.6,274.9 515.0,275.2 515.4,275.6 515.8,275.9 516.2,276.2 516.5,276.6 516.9,276.9 517.3,277.3 517.6,277.6 518.0,278.0 518.4,278.4 518.8,278.8 519.1,279.2 519.5,279.6 519.9,280.0 520.3,280.4 520.7,280.9 521.1,281.3 521.4,281.7 521.8,282.2 522.2,282.6 522.6,283.1 523.0,283.6 523.4,284.1 523.8,284.7 524.1,285.3 524.5,285.9 524.9,286.5 525.3,287.1 525.7,287.7 526.1,288.3 526.5,288.9 526.9,289.6 527.2,290.1 527.6,290.7 527.9,291.3 528.3,291.8 528.7,292.4 529.0,292.9 529.4,293.4 529.7,294.0 530.1,294.5 530.4,295.0 530.7,295.5 531.1,296.0 531.4,296.6 531.7,297.1 532.1,297.6 532.4,298.1 532.7,298.7 533.0,299.2 533.3,299.7 533.6,300.3 533.9,300.8 534.2,301.3 534.5,301.9 534.8,302.4 535.2,303.0 535.5,303.5 535.8,304.1 536.1,304.7 536.5,305.3 536.8,305.9 537.2,306.5 537.5,307.2 537.9,307.9 538.3,308.5 538.7,309.3 539.1,310.0 539.5,310.8 539.9,311.5 540.3,312.3 540.7,313.1 541.1,313.8 541.6,314.5 542.0,315.3 542.4,316.0 542.8,316.7 543.3,317.4 543.7,318.1 544.2,318.8 544.7,319.5 545.1,320.2 545.6,320.9 546.1,321.6 546.6,322.3 547.2,323.0 547.7,323.7 548.3,324.4 548.9,325.1 549.4,325.9 550.1,326.6 550.7,327.3 551.3,328.1 552.0,328.8 552.6,329.5 553.4,330.2 554.1,331.0 554.9,331.7 555.8,332.4 556.7,333.2 557.6,333.9 558.5,334.6 559.4,335.3 560.3,336.0 561.3,336.7 562.4,337.5 563.4,338.2 564.5,338.9 565.6,339.7 566.7,340.4" fill="none" stroke="#000" stroke-width="1.9" stroke-linejoin="round" stroke-opacity="0.36"/>
<g fill-opacity="0.42"><circle cx="96.7" cy="220.1" r="1.15"/><circle cx="106.3" cy="223.8" r="1.15"/><circle cx="115.5" cy="227.5" r="1.15"/><circle cx="124.5" cy="231.1" r="1.15"/><circle cx="131.4" cy="234.3" r="1.15"/><circle cx="136.6" cy="237.0" r="1.15"/><circle cx="140.6" cy="239.4" r="1.15"/><circle cx="143.8" cy="241.6" r="1.15"/><circle cx="146.1" cy="243.6" r="1.15"/><circle cx="148.1" cy="245.5" r="1.15"/><circle cx="150.0" cy="247.4" r="1.15"/><circle cx="151.7" cy="249.3" r="1.15"/><circle cx="153.1" cy="251.0" r="1.15"/><circle cx="154.0" cy="252.7" r="1.15"/><circle cx="154.5" cy="254.3" r="1.15"/><circle cx="155.0" cy="255.8" r="1.15"/><circle cx="155.1" cy="257.3" r="1.15"/><circle cx="155.1" cy="258.7" r="1.15"/><circle cx="154.9" cy="260.1" r="1.15"/><circle cx="154.6" cy="261.4" r="1.15"/><circle cx="154.3" cy="262.8" r="1.15"/><circle cx="153.9" cy="264.1" r="1.15"/><circle cx="153.6" cy="265.5" r="1.15"/><circle cx="153.2" cy="266.8" r="1.15"/><circle cx="152.9" cy="268.2" r="1.15"/><circle cx="152.7" cy="269.6" r="1.15"/><circle cx="152.8" cy="271.0" r="1.15"/><circle cx="152.9" cy="272.5" r="1.15"/><circle cx="153.3" cy="274.0" r="1.15"/><circle cx="153.9" cy="275.6" r="1.15"/><circle cx="154.8" cy="277.2" r="1.15"/><circle cx="155.7" cy="278.9" r="1.15"/><circle cx="156.8" cy="280.6" r="1.15"/><circle cx="157.9" cy="282.3" r="1.15"/><circle cx="159.0" cy="284.0" r="1.15"/><circle cx="160.2" cy="285.7" r="1.15"/><circle cx="161.6" cy="287.5" r="1.15"/><circle cx="163.3" cy="289.3" r="1.15"/><circle cx="165.3" cy="291.2" r="1.15"/><circle cx="167.2" cy="293.1" r="1.15"/><circle cx="169.0" cy="295.0" r="1.15"/><circle cx="170.8" cy="296.9" r="1.15"/><circle cx="172.7" cy="298.8" r="1.15"/><circle cx="174.6" cy="300.7" r="1.15"/><circle cx="176.6" cy="302.6" r="1.15"/><circle cx="178.4" cy="304.5" r="1.15"/><circle cx="180.2" cy="306.3" r="1.15"/><circle cx="181.9" cy="308.2" r="1.15"/><circle cx="183.5" cy="310.0" r="1.15"/><circle cx="185.1" cy="311.8" r="1.15"/><circle cx="186.6" cy="313.6" r="1.15"/><circle cx="188.2" cy="315.4" r="1.15"/><circle cx="190.1" cy="317.3" r="1.15"/><circle cx="192.1" cy="319.2" r="1.15"/><circle cx="194.2" cy="321.2" r="1.15"/><circle cx="196.5" cy="323.2" r="1.15"/><circle cx="199.0" cy="325.2" r="1.15"/><circle cx="201.9" cy="327.4" r="1.15"/><circle cx="205.3" cy="329.6" r="1.15"/><circle cx="209.6" cy="332.1" r="1.15"/><circle cx="214.4" cy="334.7" r="1.15"/></g>
<g fill-opacity="0.42"><circle cx="445.7" cy="311.6" r="1.15"/><circle cx="455.2" cy="311.6" r="1.15"/><circle cx="464.3" cy="311.6" r="1.15"/><circle cx="473.3" cy="311.4" r="1.15"/><circle cx="480.2" cy="310.7" r="1.15"/><circle cx="485.4" cy="309.5" r="1.15"/><circle cx="489.3" cy="307.9" r="1.15"/><circle cx="492.5" cy="305.5" r="1.15"/><circle cx="494.8" cy="302.4" r="1.15"/><circle cx="496.8" cy="299.2" r="1.15"/><circle cx="498.8" cy="296.0" r="1.15"/><circle cx="500.4" cy="292.6" r="1.15"/><circle cx="501.8" cy="288.5" r="1.15"/><circle cx="502.7" cy="286.5" r="1.15"/><circle cx="503.2" cy="285.0" r="1.15"/><circle cx="503.7" cy="283.3" r="1.15"/><circle cx="503.8" cy="281.1" r="1.15"/><circle cx="503.8" cy="278.8" r="1.15"/><circle cx="503.6" cy="277.0" r="1.15"/><circle cx="503.3" cy="275.5" r="1.15"/><circle cx="503.0" cy="274.0" r="1.15"/><circle cx="502.6" cy="272.7" r="1.15"/><circle cx="502.3" cy="271.6" r="1.15"/><circle cx="501.9" cy="270.6" r="1.15"/><circle cx="501.6" cy="269.7" r="1.15"/><circle cx="501.4" cy="268.9" r="1.15"/><circle cx="501.5" cy="268.4" r="1.15"/><circle cx="501.6" cy="268.0" r="1.15"/><circle cx="502.0" cy="267.7" r="1.15"/><circle cx="502.6" cy="267.7" r="1.15"/><circle cx="503.5" cy="267.8" r="1.15"/><circle cx="504.4" cy="268.1" r="1.15"/><circle cx="505.5" cy="268.6" r="1.15"/><circle cx="506.6" cy="269.2" r="1.15"/><circle cx="507.7" cy="269.9" r="1.15"/><circle cx="508.9" cy="270.7" r="1.15"/><circle cx="510.3" cy="271.8" r="1.15"/><circle cx="512.0" cy="273.0" r="1.15"/><circle cx="514.0" cy="274.4" r="1.15"/><circle cx="515.9" cy="276.0" r="1.15"/><circle cx="517.7" cy="277.7" r="1.15"/><circle cx="519.6" cy="279.6" r="1.15"/><circle cx="521.4" cy="281.7" r="1.15"/><circle cx="523.3" cy="284.1" r="1.15"/><circle cx="525.3" cy="287.0" r="1.15"/><circle cx="527.2" cy="290.0" r="1.15"/><circle cx="528.9" cy="292.7" r="1.15"/><circle cx="530.6" cy="295.3" r="1.15"/><circle cx="532.3" cy="297.9" r="1.15"/><circle cx="533.8" cy="300.5" r="1.15"/><circle cx="535.3" cy="303.2" r="1.15"/><circle cx="537.0" cy="306.1" r="1.15"/><circle cx="538.8" cy="309.5" r="1.15"/><circle cx="540.8" cy="313.2" r="1.15"/><circle cx="542.9" cy="316.8" r="1.15"/><circle cx="545.2" cy="320.3" r="1.15"/><circle cx="547.7" cy="323.7" r="1.15"/><circle cx="550.6" cy="327.3" r="1.15"/><circle cx="554.0" cy="330.9" r="1.15"/><circle cx="558.3" cy="334.4" r="1.15"/><circle cx="563.1" cy="338.0" r="1.15"/></g>
<path d="M92.4,222.5 94.3,223.3 96.2,224.1 98.1,224.8 100.0,225.6 101.9,226.3 103.7,227.1 105.6,227.8 107.4,228.5 109.2,229.3 111.0,230.0 112.9,230.8 114.8,231.5 116.6,232.2 118.3,233.0 120.0,233.7 121.6,234.3 123.0,235.0 124.4,235.6 125.7,236.2 126.9,236.8 128.0,237.4 129.1,237.9 130.1,238.5 131.1,239.0 132.0,239.5 132.9,240.0 133.7,240.5 134.5,241.0 135.3,241.5 136.0,241.9 136.7,242.4 137.3,242.8 138.0,243.3 138.5,243.7 139.1,244.1 139.6,244.6 140.1,245.0 140.5,245.4 141.0,245.8 141.4,246.2 141.8,246.6 142.2,246.9 142.6,247.3 143.1,247.7 143.5,248.1 143.9,248.5 144.3,248.9 144.7,249.3 145.1,249.7 145.5,250.1 145.8,250.4 146.2,250.8 146.5,251.2 146.8,251.6 147.2,251.9 147.5,252.3 147.8,252.7 148.1,253.0 148.3,253.4 148.5,253.7 148.7,254.0 148.8,254.4 148.9,254.7 149.1,255.0 149.2,255.3 149.3,255.6 149.3,256.0 149.4,256.3 149.5,256.6 149.6,256.9 149.6,257.2 149.7,257.5 149.7,257.8 149.8,258.1 149.8,258.4 149.8,258.7 149.7,259.0 149.7,259.2 149.7,259.5 149.7,259.8 149.6,260.1 149.6,260.4 149.5,260.6 149.4,260.9 149.3,261.2 149.2,261.5 149.2,261.7 149.1,262.0 148.9,262.3 148.8,262.5 148.7,262.8 148.6,263.0 148.5,263.3 148.4,263.6 148.3,263.8 148.1,264.1 148.0,264.4 147.9,264.6 147.8,264.9 147.7,265.1 147.5,265.4 147.4,265.6 147.2,265.9 147.1,266.2 147.0,266.4 146.8,266.7 146.7,266.9 146.5,267.2 146.4,267.4 146.3,267.7 146.1,268.0 146.0,268.2 145.9,268.5 145.8,268.7 145.7,269.0 145.5,269.3 145.4,269.5 145.3,269.8 145.1,270.0 145.0,270.3 144.9,270.6 144.9,270.8 144.8,271.1 144.8,271.4 144.8,271.7 144.8,272.0 144.8,272.3 144.7,272.6 144.7,272.8 144.7,273.1 144.7,273.4 144.8,273.7 144.8,274.0 144.8,274.3 144.9,274.6 144.9,274.9 145.0,275.2 145.1,275.5 145.2,275.9 145.3,276.2 145.4,276.5 145.6,276.8 145.7,277.1 145.9,277.5 146.1,277.8 146.2,278.1 146.4,278.5 146.6,278.8 146.8,279.2 147.0,279.5 147.2,279.8 147.4,280.2 147.6,280.5 147.8,280.9 148.1,281.2 148.3,281.6 148.6,281.9 148.8,282.3 149.1,282.6 149.4,283.0 149.6,283.3 149.9,283.7 150.1,284.0 150.4,284.4 150.6,284.7 150.9,285.1 151.2,285.4 151.4,285.8 151.7,286.2 152.0,286.5 152.3,286.9 152.5,287.2 152.8,287.6 153.1,288.0 153.5,288.3 153.8,288.7 154.1,289.1 154.5,289.4 154.8,289.8 155.2,290.2 155.7,290.6 156.1,291.0 156.5,291.4 157.0,291.8 157.5,292.2 157.9,292.6 158.4,293.0 158.9,293.4 159.3,293.8 159.8,294.2 160.3,294.6 160.7,295.0 161.2,295.4 161.6,295.8 162.0,296.2 162.4,296.6 162.9,297.0 163.3,297.4 163.8,297.8 164.2,298.2 164.6,298.6 165.1,299.0 165.5,299.4 166.0,299.8 166.4,300.2 166.9,300.6 167.3,301.0 167.7,301.4 168.2,301.8 168.6,302.2 169.1,302.6 169.5,303.0 170.0,303.4 170.5,303.8 170.9,304.2 171.4,304.6 171.8,305.0 172.3,305.4 172.7,305.8 173.2,306.2 173.6,306.6 174.0,307.0 174.5,307.4 174.9,307.8 175.3,308.2 175.7,308.6 176.1,308.9 176.5,309.3 176.8,309.7 177.2,310.1 177.6,310.5 178.0,310.9 178.4,311.3 178.7,311.6 179.1,312.0 179.5,312.4 179.8,312.8 180.2,313.1 180.5,313.5 180.8,313.9 181.2,314.3 181.5,314.6 181.8,315.0 182.1,315.4 182.4,315.7 182.7,316.1 183.1,316.5 183.4,316.8 183.7,317.2 184.1,317.6 184.4,318.0 184.8,318.3 185.2,318.7 185.5,319.1 185.9,319.5 186.3,319.9 186.7,320.2 187.1,320.6 187.5,321.0 187.9,321.4 188.3,321.8 188.7,322.2 189.1,322.6 189.5,323.0 190.0,323.4 190.4,323.8 190.8,324.2 191.2,324.6 191.7,324.9 192.1,325.3 192.6,325.8 193.1,326.2 193.6,326.6 194.1,327.0 194.6,327.4 195.1,327.8 195.6,328.2 196.2,328.7 196.8,329.1 197.4,329.5 198.0,330.0 198.6,330.4 199.2,330.9 199.9,331.3 200.6,331.8 201.3,332.2 202.1,332.7 202.9,333.2 203.8,333.7 204.6,334.2 205.5,334.7 206.4,335.2 207.4,335.7 208.4,336.3 209.4,336.8 210.5,337.4 211.6,337.9 212.8,338.5 213.9,339.1" fill="none" stroke="#000" stroke-width="1.9" stroke-linejoin="round" stroke-opacity="0.36"/>
<path d="M441.3,314.6 443.2,314.7 445.1,314.8 447.0,314.8 448.9,314.8 450.8,314.7 452.6,314.7 454.4,314.7 456.2,314.7 458.0,314.7 459.9,314.8 461.7,314.8 463.6,314.8 465.4,314.8 467.2,314.8 468.8,314.7 470.4,314.7 471.8,314.6 473.2,314.4 474.5,314.3 475.7,314.1 476.8,314.0 477.9,313.8 478.9,313.6 479.9,313.3 480.8,313.1 481.7,312.8 482.5,312.5 483.3,312.2 484.0,311.9 484.8,311.5 485.4,311.1 486.1,310.6 486.7,310.2 487.3,309.7 487.8,309.1 488.3,308.6 488.8,308.0 489.3,307.4 489.7,306.7 490.1,306.1 490.5,305.4 491.0,304.8 491.4,304.1 491.8,303.5 492.2,302.8 492.6,302.2 493.0,301.5 493.4,300.9 493.8,300.2 494.2,299.5 494.5,298.8 494.9,298.1 495.2,297.3 495.5,296.6 495.9,295.8 496.2,294.9 496.5,293.9 496.8,293.0 497.0,292.1 497.2,291.4 497.4,290.9 497.5,290.5 497.7,290.2 497.8,289.9 497.9,289.6 498.0,289.4 498.1,289.1 498.1,288.9 498.2,288.6 498.3,288.3 498.3,288.0 498.4,287.7 498.4,287.4 498.5,287.0 498.5,286.7 498.5,286.3 498.4,285.9 498.4,285.4 498.4,285.0 498.4,284.6 498.3,284.2 498.3,283.8 498.2,283.4 498.1,283.0 498.0,282.6 498.0,282.2 497.9,281.9 497.8,281.6 497.7,281.3 497.5,281.0 497.4,280.7 497.3,280.4 497.2,280.1 497.1,279.8 497.0,279.5 496.8,279.2 496.7,279.0 496.6,278.7 496.5,278.4 496.4,278.2 496.2,277.9 496.1,277.6 496.0,277.4 495.8,277.1 495.7,276.9 495.5,276.6 495.4,276.4 495.2,276.2 495.1,276.0 495.0,275.7 494.8,275.5 494.7,275.3 494.6,275.1 494.5,274.9 494.4,274.7 494.2,274.5 494.1,274.3 494.0,274.1 493.8,274.0 493.7,273.8 493.6,273.6 493.6,273.5 493.5,273.4 493.5,273.2 493.5,273.1 493.5,273.0 493.5,272.9 493.4,272.8 493.4,272.7 493.4,272.6 493.4,272.5 493.5,272.4 493.5,272.4 493.5,272.3 493.6,272.2 493.6,272.2 493.7,272.1 493.8,272.1 493.9,272.1 494.0,272.1 494.1,272.1 494.3,272.1 494.4,272.1 494.6,272.1 494.8,272.1 494.9,272.2 495.1,272.2 495.3,272.2 495.5,272.3 495.7,272.3 495.9,272.4 496.1,272.5 496.3,272.5 496.5,272.6 496.8,272.7 497.0,272.8 497.3,272.9 497.5,273.0 497.8,273.2 498.1,273.3 498.3,273.4 498.6,273.5 498.8,273.7 499.1,273.8 499.3,274.0 499.6,274.1 499.9,274.3 500.1,274.4 500.4,274.6 500.7,274.8 500.9,275.0 501.2,275.1 501.5,275.3 501.8,275.5 502.2,275.7 502.5,276.0 502.8,276.2 503.2,276.4 503.5,276.7 503.9,276.9 504.4,277.2 504.8,277.4 505.2,277.7 505.7,278.0 506.2,278.3 506.6,278.6 507.1,278.9 507.6,279.2 508.0,279.5 508.5,279.9 509.0,280.2 509.4,280.5 509.9,280.8 510.3,281.2 510.7,281.5 511.2,281.9 511.6,282.3 512.0,282.6 512.5,283.0 512.9,283.4 513.3,283.8 513.8,284.2 514.2,284.6 514.7,285.0 515.1,285.5 515.6,285.9 516.0,286.3 516.5,286.8 516.9,287.2 517.3,287.7 517.8,288.2 518.3,288.7 518.7,289.2 519.2,289.8 519.6,290.3 520.1,290.9 520.6,291.5 521.0,292.1 521.5,292.7 521.9,293.2 522.3,293.8 522.8,294.4 523.2,295.0 523.6,295.5 524.0,296.0 524.4,296.5 524.8,297.1 525.2,297.6 525.6,298.1 525.9,298.6 526.3,299.1 526.7,299.7 527.1,300.2 527.5,300.7 527.8,301.2 528.2,301.7 528.5,302.2 528.9,302.7 529.2,303.3 529.5,303.8 529.9,304.3 530.2,304.8 530.5,305.3 530.8,305.9 531.1,306.4 531.5,306.9 531.8,307.5 532.1,308.0 532.5,308.6 532.8,309.2 533.2,309.7 533.5,310.3 533.9,311.0 534.2,311.6 534.6,312.3 535.0,312.9 535.4,313.7 535.8,314.4 536.2,315.1 536.6,315.9 537.0,316.6 537.4,317.3 537.8,318.1 538.2,318.8 538.7,319.5 539.1,320.1 539.5,320.8 540.0,321.5 540.4,322.2 540.8,322.8 541.3,323.5 541.8,324.2 542.3,324.9 542.8,325.5 543.3,326.2 543.8,326.9 544.4,327.6 544.9,328.3 545.5,329.0 546.1,329.7 546.7,330.4 547.3,331.1 547.9,331.8 548.6,332.6 549.3,333.3 550.0,334.0 550.8,334.7 551.6,335.4 552.5,336.1 553.3,336.8 554.2,337.5 555.1,338.2 556.1,338.9 557.1,339.6 558.1,340.3 559.2,341.0 560.3,341.7 561.5,342.5 562.6,343.2" fill="none" stroke="#000" stroke-width="1.9" stroke-linejoin="round" stroke-opacity="0.36"/>
<g fill-opacity="0.42"><circle cx="92.4" cy="222.5" r="1.15"/><circle cx="101.7" cy="226.3" r="1.15"/><circle cx="110.8" cy="229.9" r="1.15"/><circle cx="119.7" cy="233.5" r="1.15"/><circle cx="126.6" cy="236.6" r="1.15"/><circle cx="131.7" cy="239.3" r="1.15"/><circle cx="135.7" cy="241.7" r="1.15"/><circle cx="138.8" cy="243.9" r="1.15"/><circle cx="141.2" cy="245.9" r="1.15"/><circle cx="143.2" cy="247.9" r="1.15"/><circle cx="145.2" cy="249.8" r="1.15"/><circle cx="146.9" cy="251.6" r="1.15"/><circle cx="148.3" cy="253.4" r="1.15"/><circle cx="149.1" cy="255.0" r="1.15"/><circle cx="149.5" cy="256.6" r="1.15"/><circle cx="149.8" cy="258.1" r="1.15"/><circle cx="149.7" cy="259.5" r="1.15"/><circle cx="149.4" cy="260.9" r="1.15"/><circle cx="149.0" cy="262.2" r="1.15"/><circle cx="148.4" cy="263.5" r="1.15"/><circle cx="147.8" cy="264.8" r="1.15"/><circle cx="147.2" cy="266.0" r="1.15"/><circle cx="146.5" cy="267.3" r="1.15"/><circle cx="145.9" cy="268.6" r="1.15"/><circle cx="145.2" cy="269.9" r="1.15"/><circle cx="144.8" cy="271.2" r="1.15"/><circle cx="144.7" cy="272.6" r="1.15"/><circle cx="144.8" cy="274.0" r="1.15"/><circle cx="145.1" cy="275.5" r="1.15"/><circle cx="145.7" cy="277.1" r="1.15"/><circle cx="146.6" cy="278.8" r="1.15"/><circle cx="147.5" cy="280.4" r="1.15"/><circle cx="148.8" cy="282.2" r="1.15"/><circle cx="150.0" cy="283.9" r="1.15"/><circle cx="151.3" cy="285.6" r="1.15"/><circle cx="152.7" cy="287.4" r="1.15"/><circle cx="154.3" cy="289.2" r="1.15"/><circle cx="156.3" cy="291.1" r="1.15"/><circle cx="158.5" cy="293.1" r="1.15"/><circle cx="160.8" cy="295.1" r="1.15"/><circle cx="162.9" cy="297.1" r="1.15"/><circle cx="165.1" cy="299.0" r="1.15"/><circle cx="167.3" cy="301.0" r="1.15"/><circle cx="169.5" cy="303.0" r="1.15"/><circle cx="171.8" cy="305.0" r="1.15"/><circle cx="174.0" cy="306.9" r="1.15"/><circle cx="175.9" cy="308.8" r="1.15"/><circle cx="177.9" cy="310.7" r="1.15"/><circle cx="179.7" cy="312.6" r="1.15"/><circle cx="181.3" cy="314.4" r="1.15"/><circle cx="182.9" cy="316.3" r="1.15"/><circle cx="184.6" cy="318.1" r="1.15"/><circle cx="186.4" cy="320.0" r="1.15"/><circle cx="188.4" cy="321.9" r="1.15"/><circle cx="190.4" cy="323.8" r="1.15"/><circle cx="192.6" cy="325.8" r="1.15"/><circle cx="195.1" cy="327.8" r="1.15"/><circle cx="197.9" cy="329.9" r="1.15"/><circle cx="201.2" cy="332.2" r="1.15"/><circle cx="205.3" cy="334.6" r="1.15"/><circle cx="210.2" cy="337.2" r="1.15"/></g>
<g fill-opacity="0.42"><circle cx="441.3" cy="314.6" r="1.15"/><circle cx="450.6" cy="314.7" r="1.15"/><circle cx="459.6" cy="314.8" r="1.15"/><circle cx="468.5" cy="314.7" r="1.15"/><circle cx="475.4" cy="314.2" r="1.15"/><circle cx="480.5" cy="313.2" r="1.15"/><circle cx="484.4" cy="311.6" r="1.15"/><circle cx="487.6" cy="309.4" r="1.15"/><circle cx="489.9" cy="306.4" r="1.15"/><circle cx="491.9" cy="303.2" r="1.15"/><circle cx="493.9" cy="300.0" r="1.15"/><circle cx="495.6" cy="296.4" r="1.15"/><circle cx="497.1" cy="292.0" r="1.15"/><circle cx="497.8" cy="289.9" r="1.15"/><circle cx="498.2" cy="288.6" r="1.15"/><circle cx="498.5" cy="287.1" r="1.15"/><circle cx="498.4" cy="285.1" r="1.15"/><circle cx="498.1" cy="283.1" r="1.15"/><circle cx="497.7" cy="281.4" r="1.15"/><circle cx="497.1" cy="279.9" r="1.15"/><circle cx="496.5" cy="278.5" r="1.15"/><circle cx="495.9" cy="277.3" r="1.15"/><circle cx="495.2" cy="276.1" r="1.15"/><circle cx="494.6" cy="275.0" r="1.15"/><circle cx="493.9" cy="274.1" r="1.15"/><circle cx="493.5" cy="273.3" r="1.15"/><circle cx="493.4" cy="272.8" r="1.15"/><circle cx="493.5" cy="272.3" r="1.15"/><circle cx="493.8" cy="272.1" r="1.15"/><circle cx="494.4" cy="272.1" r="1.15"/><circle cx="495.3" cy="272.2" r="1.15"/><circle cx="496.2" cy="272.5" r="1.15"/><circle cx="497.5" cy="273.0" r="1.15"/><circle cx="498.7" cy="273.6" r="1.15"/><circle cx="500.0" cy="274.4" r="1.15"/><circle cx="501.4" cy="275.2" r="1.15"/><circle cx="503.0" cy="276.3" r="1.15"/><circle cx="505.0" cy="277.5" r="1.15"/><circle cx="507.2" cy="279.0" r="1.15"/><circle cx="509.5" cy="280.6" r="1.15"/><circle cx="511.7" cy="282.3" r="1.15"/><circle cx="513.8" cy="284.2" r="1.15"/><circle cx="516.0" cy="286.3" r="1.15"/><circle cx="518.2" cy="288.6" r="1.15"/><circle cx="520.5" cy="291.4" r="1.15"/><circle cx="522.7" cy="294.3" r="1.15"/><circle cx="524.7" cy="296.9" r="1.15"/><circle cx="526.6" cy="299.5" r="1.15"/><circle cx="528.4" cy="302.0" r="1.15"/><circle cx="530.0" cy="304.5" r="1.15"/><circle cx="531.6" cy="307.2" r="1.15"/><circle cx="533.3" cy="310.0" r="1.15"/><circle cx="535.1" cy="313.1" r="1.15"/><circle cx="537.1" cy="316.8" r="1.15"/><circle cx="539.2" cy="320.2" r="1.15"/><circle cx="541.3" cy="323.6" r="1.15"/><circle cx="543.8" cy="326.9" r="1.15"/><circle cx="546.6" cy="330.4" r="1.15"/><circle cx="549.9" cy="333.9" r="1.15"/><circle cx="554.0" cy="337.3" r="1.15"/><circle cx="558.9" cy="340.8" r="1.15"/></g>
<path d="M88.0,225.0 89.9,225.8 91.8,226.5 93.6,227.3 95.5,228.0 97.3,228.7 99.1,229.5 100.9,230.2 102.7,230.9 104.4,231.7 106.2,232.4 108.1,233.1 109.9,233.9 111.7,234.6 113.4,235.3 115.1,236.0 116.6,236.7 118.1,237.3 119.4,237.9 120.7,238.5 121.9,239.1 123.1,239.7 124.1,240.2 125.1,240.8 126.1,241.3 127.0,241.8 127.9,242.3 128.7,242.8 129.5,243.3 130.3,243.8 131.0,244.3 131.7,244.7 132.3,245.2 132.9,245.6 133.5,246.0 134.1,246.5 134.6,246.9 135.0,247.3 135.5,247.7 135.9,248.1 136.4,248.5 136.8,248.9 137.2,249.3 137.6,249.7 138.0,250.1 138.5,250.4 138.9,250.8 139.3,251.2 139.7,251.6 140.1,252.0 140.5,252.4 140.9,252.8 141.3,253.2 141.6,253.5 141.9,253.9 142.3,254.3 142.6,254.7 142.9,255.0 143.2,255.4 143.4,255.7 143.6,256.1 143.8,256.4 143.9,256.7 144.0,257.0 144.1,257.3 144.1,257.7 144.2,258.0 144.3,258.3 144.3,258.6 144.3,258.9 144.4,259.2 144.4,259.5 144.4,259.8 144.4,260.1 144.4,260.3 144.4,260.6 144.3,260.9 144.2,261.2 144.2,261.4 144.1,261.7 144.0,262.0 143.9,262.3 143.8,262.5 143.7,262.8 143.5,263.0 143.4,263.3 143.3,263.5 143.1,263.8 142.9,264.0 142.8,264.3 142.6,264.5 142.4,264.8 142.2,265.0 142.0,265.3 141.9,265.5 141.7,265.8 141.5,266.0 141.3,266.3 141.1,266.5 140.9,266.8 140.8,267.0 140.6,267.2 140.3,267.5 140.1,267.7 139.9,268.0 139.7,268.2 139.5,268.4 139.3,268.7 139.1,268.9 138.9,269.2 138.7,269.4 138.5,269.6 138.3,269.9 138.1,270.1 137.9,270.4 137.7,270.6 137.5,270.9 137.3,271.1 137.2,271.3 137.0,271.6 136.8,271.8 136.7,272.1 136.5,272.4 136.4,272.6 136.4,272.9 136.3,273.2 136.3,273.5 136.2,273.7 136.2,274.0 136.1,274.3 136.1,274.6 136.1,274.9 136.1,275.1 136.1,275.4 136.1,275.7 136.1,276.0 136.1,276.3 136.2,276.6 136.3,276.9 136.3,277.2 136.5,277.6 136.6,277.9 136.7,278.2 136.9,278.5 137.1,278.9 137.3,279.2 137.4,279.5 137.6,279.9 137.8,280.2 138.0,280.6 138.2,280.9 138.4,281.2 138.7,281.6 138.9,281.9 139.2,282.3 139.4,282.6 139.7,283.0 140.0,283.4 140.3,283.7 140.6,284.1 140.9,284.5 141.2,284.8 141.4,285.2 141.7,285.5 142.0,285.9 142.3,286.3 142.6,286.6 142.9,287.0 143.2,287.3 143.5,287.7 143.8,288.1 144.1,288.4 144.5,288.8 144.8,289.2 145.2,289.6 145.5,289.9 145.9,290.3 146.3,290.7 146.7,291.1 147.1,291.5 147.6,291.9 148.1,292.3 148.6,292.7 149.1,293.1 149.6,293.6 150.2,294.0 150.7,294.4 151.3,294.8 151.8,295.3 152.4,295.7 152.9,296.1 153.5,296.5 154.0,297.0 154.5,297.4 155.0,297.8 155.5,298.2 156.0,298.6 156.6,299.0 157.1,299.4 157.6,299.9 158.1,300.3 158.6,300.7 159.1,301.1 159.6,301.5 160.2,301.9 160.7,302.4 161.2,302.8 161.7,303.2 162.2,303.6 162.7,304.0 163.3,304.4 163.8,304.9 164.3,305.3 164.9,305.7 165.4,306.1 165.9,306.5 166.5,307.0 167.0,307.4 167.5,307.8 168.0,308.2 168.5,308.6 169.0,309.0 169.5,309.5 170.0,309.9 170.5,310.3 170.9,310.7 171.4,311.1 171.8,311.5 172.3,311.9 172.7,312.3 173.2,312.7 173.6,313.1 174.0,313.5 174.4,313.8 174.8,314.2 175.2,314.6 175.6,315.0 176.0,315.4 176.4,315.8 176.8,316.2 177.1,316.5 177.5,316.9 177.8,317.3 178.1,317.7 178.5,318.0 178.8,318.4 179.1,318.8 179.5,319.1 179.8,319.5 180.2,319.9 180.5,320.3 180.8,320.6 181.2,321.0 181.6,321.4 181.9,321.8 182.3,322.2 182.7,322.5 183.0,322.9 183.4,323.3 183.8,323.7 184.2,324.1 184.6,324.5 185.1,324.9 185.5,325.2 185.9,325.6 186.3,326.0 186.7,326.4 187.1,326.8 187.5,327.2 188.0,327.6 188.4,328.0 188.8,328.4 189.3,328.8 189.8,329.2 190.3,329.6 190.7,330.0 191.2,330.4 191.8,330.8 192.3,331.3 192.8,331.7 193.4,332.1 194.0,332.6 194.6,333.0 195.2,333.4 195.8,333.9 196.5,334.3 197.2,334.8 197.9,335.3 198.7,335.7 199.5,336.2 200.4,336.7 201.3,337.2 202.1,337.7 203.1,338.3 204.1,338.8 205.2,339.4 206.3,339.9 207.4,340.5 208.6,341.1 209.8,341.7" fill="none" stroke="#000" stroke-width="1.9" stroke-linejoin="round" stroke-opacity="0.36"/>
<path d="M437.0,317.7 438.8,317.8 440.7,317.8 442.6,317.8 444.4,317.8 446.2,317.8 448.0,317.8 449.8,317.8 451.5,317.8 453.3,317.9 455.1,317.9 456.9,317.9 458.7,317.9 460.5,318.0 462.2,318.0 463.9,318.0 465.4,317.9 466.9,317.8 468.3,317.8 469.5,317.6 470.7,317.5 471.9,317.4 472.9,317.2 473.9,317.0 474.9,316.8 475.8,316.6 476.7,316.4 477.5,316.1 478.3,315.8 479.0,315.5 479.7,315.2 480.4,314.8 481.1,314.4 481.7,313.9 482.3,313.4 482.8,312.9 483.3,312.4 483.8,311.8 484.2,311.2 484.7,310.6 485.1,310.0 485.5,309.3 485.9,308.7 486.4,308.0 486.8,307.3 487.2,306.7 487.6,306.0 488.0,305.4 488.5,304.7 488.9,304.0 489.3,303.3 489.6,302.5 490.0,301.7 490.3,300.9 490.7,300.1 491.0,299.2 491.3,298.3 491.6,297.2 491.9,296.2 492.2,295.2 492.4,294.4 492.5,293.9 492.6,293.6 492.7,293.3 492.8,293.0 492.9,292.8 492.9,292.5 493.0,292.3 493.0,292.1 493.1,291.8 493.1,291.6 493.1,291.3 493.1,291.0 493.1,290.7 493.1,290.4 493.1,290.1 493.0,289.8 493.0,289.4 492.9,289.0 492.8,288.7 492.7,288.3 492.6,288.0 492.5,287.6 492.4,287.2 492.3,286.9 492.1,286.5 492.0,286.2 491.8,285.9 491.6,285.6 491.5,285.3 491.3,285.0 491.1,284.7 490.9,284.4 490.8,284.1 490.6,283.8 490.4,283.6 490.2,283.3 490.0,283.0 489.8,282.7 489.7,282.5 489.5,282.2 489.3,282.0 489.1,281.7 488.8,281.5 488.6,281.2 488.4,280.9 488.2,280.7 488.0,280.5 487.8,280.2 487.6,280.0 487.4,279.7 487.2,279.5 487.0,279.3 486.8,279.1 486.6,278.9 486.4,278.7 486.2,278.5 486.0,278.3 485.9,278.1 485.7,277.9 485.5,277.7 485.4,277.6 485.2,277.4 485.1,277.3 485.1,277.1 485.0,277.0 485.0,276.9 484.9,276.8 484.9,276.7 484.8,276.6 484.8,276.5 484.8,276.4 484.8,276.3 484.8,276.2 484.8,276.2 484.8,276.1 484.8,276.0 484.9,276.0 484.9,276.0 485.0,275.9 485.2,275.9 485.3,275.9 485.4,275.9 485.6,275.9 485.8,276.0 486.0,276.0 486.1,276.0 486.3,276.1 486.5,276.1 486.7,276.2 486.9,276.2 487.1,276.3 487.4,276.4 487.6,276.4 487.9,276.5 488.1,276.6 488.4,276.7 488.7,276.8 489.0,277.0 489.3,277.1 489.6,277.2 489.9,277.3 490.1,277.5 490.4,277.6 490.7,277.8 491.0,277.9 491.3,278.1 491.6,278.2 491.9,278.4 492.2,278.6 492.5,278.7 492.8,278.9 493.2,279.1 493.5,279.3 493.9,279.5 494.2,279.7 494.6,280.0 495.0,280.2 495.4,280.4 495.8,280.7 496.3,281.0 496.8,281.2 497.3,281.5 497.8,281.8 498.3,282.1 498.9,282.4 499.4,282.7 500.0,283.0 500.5,283.4 501.1,283.7 501.6,284.0 502.2,284.3 502.7,284.7 503.2,285.0 503.7,285.4 504.2,285.7 504.7,286.1 505.3,286.5 505.8,286.9 506.3,287.2 506.8,287.6 507.3,288.0 507.8,288.4 508.3,288.8 508.9,289.3 509.4,289.7 509.9,290.1 510.4,290.5 510.9,291.0 511.5,291.4 512.0,291.9 512.5,292.3 513.0,292.8 513.6,293.4 514.1,293.9 514.6,294.4 515.2,295.0 515.7,295.5 516.2,296.1 516.7,296.7 517.3,297.2 517.8,297.8 518.2,298.3 518.7,298.9 519.2,299.4 519.6,299.9 520.1,300.4 520.5,301.0 521.0,301.5 521.4,302.0 521.9,302.5 522.3,303.0 522.7,303.5 523.1,304.0 523.6,304.5 524.0,305.0 524.3,305.5 524.7,306.1 525.1,306.6 525.5,307.1 525.8,307.6 526.2,308.1 526.5,308.6 526.8,309.1 527.2,309.6 527.5,310.1 527.8,310.7 528.2,311.2 528.5,311.7 528.9,312.3 529.2,312.8 529.6,313.4 529.9,314.0 530.3,314.5 530.6,315.2 531.0,315.8 531.4,316.4 531.8,317.1 532.1,317.9 532.5,318.6 532.9,319.3 533.4,320.0 533.8,320.7 534.2,321.4 534.6,322.1 535.0,322.8 535.4,323.4 535.8,324.1 536.2,324.7 536.7,325.4 537.1,326.0 537.6,326.7 538.0,327.3 538.5,328.0 539.0,328.6 539.4,329.3 540.0,329.9 540.5,330.6 541.0,331.3 541.6,332.0 542.1,332.7 542.7,333.4 543.3,334.1 543.9,334.8 544.5,335.5 545.2,336.2 545.9,336.9 546.6,337.6 547.4,338.3 548.3,339.0 549.1,339.7 550.0,340.3 550.8,341.0 551.8,341.7 552.8,342.4 553.9,343.1 555.0,343.8 556.1,344.5 557.3,345.2 558.5,346.0" fill="none" stroke="#000" stroke-width="1.9" stroke-linejoin="round" stroke-opacity="0.36"/>
<g fill-opacity="0.42"><circle cx="88.0" cy="225.0" r="1.15"/><circle cx="97.2" cy="228.7" r="1.15"/><circle cx="106.0" cy="232.3" r="1.15"/><circle cx="114.7" cy="235.8" r="1.15"/><circle cx="121.6" cy="239.0" r="1.15"/><circle cx="126.7" cy="241.6" r="1.15"/><circle cx="130.7" cy="244.1" r="1.15"/><circle cx="133.8" cy="246.3" r="1.15"/><circle cx="136.1" cy="248.3" r="1.15"/><circle cx="138.2" cy="250.2" r="1.15"/><circle cx="140.3" cy="252.1" r="1.15"/><circle cx="142.0" cy="254.0" r="1.15"/><circle cx="143.5" cy="255.8" r="1.15"/><circle cx="144.1" cy="257.4" r="1.15"/><circle cx="144.3" cy="258.9" r="1.15"/><circle cx="144.4" cy="260.3" r="1.15"/><circle cx="144.1" cy="261.7" r="1.15"/><circle cx="143.6" cy="263.0" r="1.15"/><circle cx="142.8" cy="264.2" r="1.15"/><circle cx="141.9" cy="265.4" r="1.15"/><circle cx="141.0" cy="266.7" r="1.15"/><circle cx="140.0" cy="267.8" r="1.15"/><circle cx="139.0" cy="269.0" r="1.15"/><circle cx="138.0" cy="270.2" r="1.15"/><circle cx="137.1" cy="271.4" r="1.15"/><circle cx="136.4" cy="272.7" r="1.15"/><circle cx="136.2" cy="274.1" r="1.15"/><circle cx="136.1" cy="275.5" r="1.15"/><circle cx="136.3" cy="276.9" r="1.15"/><circle cx="136.9" cy="278.5" r="1.15"/><circle cx="137.8" cy="280.2" r="1.15"/><circle cx="138.9" cy="281.9" r="1.15"/><circle cx="140.2" cy="283.6" r="1.15"/><circle cx="141.6" cy="285.4" r="1.15"/><circle cx="143.1" cy="287.2" r="1.15"/><circle cx="144.6" cy="289.0" r="1.15"/><circle cx="146.4" cy="290.9" r="1.15"/><circle cx="148.8" cy="292.9" r="1.15"/><circle cx="151.4" cy="295.0" r="1.15"/><circle cx="154.1" cy="297.0" r="1.15"/><circle cx="156.6" cy="299.1" r="1.15"/><circle cx="159.2" cy="301.1" r="1.15"/><circle cx="161.7" cy="303.2" r="1.15"/><circle cx="164.3" cy="305.3" r="1.15"/><circle cx="166.9" cy="307.3" r="1.15"/><circle cx="169.4" cy="309.4" r="1.15"/><circle cx="171.7" cy="311.4" r="1.15"/><circle cx="173.9" cy="313.3" r="1.15"/><circle cx="175.9" cy="315.2" r="1.15"/><circle cx="177.6" cy="317.1" r="1.15"/><circle cx="179.3" cy="318.9" r="1.15"/><circle cx="181.0" cy="320.8" r="1.15"/><circle cx="182.8" cy="322.6" r="1.15"/><circle cx="184.7" cy="324.6" r="1.15"/><circle cx="186.8" cy="326.5" r="1.15"/><circle cx="188.9" cy="328.4" r="1.15"/><circle cx="191.2" cy="330.4" r="1.15"/><circle cx="193.9" cy="332.5" r="1.15"/><circle cx="197.1" cy="334.7" r="1.15"/><circle cx="201.1" cy="337.1" r="1.15"/><circle cx="206.0" cy="339.8" r="1.15"/></g>
<g fill-opacity="0.42"><circle cx="437.0" cy="317.7" r="1.15"/><circle cx="446.1" cy="317.8" r="1.15"/><circle cx="454.8" cy="317.9" r="1.15"/><circle cx="463.5" cy="318.0" r="1.15"/><circle cx="470.4" cy="317.6" r="1.15"/><circle cx="475.5" cy="316.7" r="1.15"/><circle cx="479.4" cy="315.3" r="1.15"/><circle cx="482.6" cy="313.2" r="1.15"/><circle cx="484.9" cy="310.3" r="1.15"/><circle cx="486.9" cy="307.1" r="1.15"/><circle cx="489.0" cy="303.8" r="1.15"/><circle cx="490.7" cy="299.9" r="1.15"/><circle cx="492.2" cy="295.1" r="1.15"/><circle cx="492.8" cy="293.0" r="1.15"/><circle cx="493.1" cy="291.8" r="1.15"/><circle cx="493.1" cy="290.5" r="1.15"/><circle cx="492.8" cy="288.7" r="1.15"/><circle cx="492.3" cy="286.9" r="1.15"/><circle cx="491.5" cy="285.4" r="1.15"/><circle cx="490.6" cy="283.9" r="1.15"/><circle cx="489.7" cy="282.6" r="1.15"/><circle cx="488.7" cy="281.3" r="1.15"/><circle cx="487.7" cy="280.1" r="1.15"/><circle cx="486.7" cy="279.0" r="1.15"/><circle cx="485.8" cy="278.0" r="1.15"/><circle cx="485.1" cy="277.2" r="1.15"/><circle cx="484.9" cy="276.7" r="1.15"/><circle cx="484.8" cy="276.2" r="1.15"/><circle cx="484.9" cy="276.0" r="1.15"/><circle cx="485.6" cy="275.9" r="1.15"/><circle cx="486.5" cy="276.1" r="1.15"/><circle cx="487.6" cy="276.4" r="1.15"/><circle cx="488.9" cy="276.9" r="1.15"/><circle cx="490.3" cy="277.6" r="1.15"/><circle cx="491.8" cy="278.3" r="1.15"/><circle cx="493.3" cy="279.2" r="1.15"/><circle cx="495.1" cy="280.3" r="1.15"/><circle cx="497.5" cy="281.6" r="1.15"/><circle cx="500.1" cy="283.1" r="1.15"/><circle cx="502.8" cy="284.8" r="1.15"/><circle cx="505.3" cy="286.5" r="1.15"/><circle cx="507.9" cy="288.5" r="1.15"/><circle cx="510.4" cy="290.5" r="1.15"/><circle cx="513.0" cy="292.8" r="1.15"/><circle cx="515.6" cy="295.5" r="1.15"/><circle cx="518.1" cy="298.2" r="1.15"/><circle cx="520.4" cy="300.8" r="1.15"/><circle cx="522.6" cy="303.3" r="1.15"/><circle cx="524.6" cy="305.8" r="1.15"/><circle cx="526.3" cy="308.3" r="1.15"/><circle cx="528.0" cy="310.9" r="1.15"/><circle cx="529.7" cy="313.6" r="1.15"/><circle cx="531.5" cy="316.6" r="1.15"/><circle cx="533.4" cy="320.2" r="1.15"/><circle cx="535.5" cy="323.5" r="1.15"/><circle cx="537.6" cy="326.7" r="1.15"/><circle cx="540.0" cy="329.9" r="1.15"/><circle cx="542.7" cy="333.4" r="1.15"/><circle cx="545.8" cy="336.8" r="1.15"/><circle cx="549.8" cy="340.2" r="1.15"/><circle cx="554.7" cy="343.6" r="1.15"/></g>
<path d="M83.6,227.5 85.5,228.2 87.3,229.0 89.1,229.7 90.9,230.4 92.7,231.2 94.4,231.9 96.2,232.6 97.9,233.3 99.6,234.0 101.4,234.7 103.1,235.5 104.9,236.2 106.6,236.9 108.3,237.6 110.0,238.3 111.5,239.0 113.0,239.6 114.4,240.3 115.7,240.9 116.9,241.4 118.0,242.0 119.0,242.6 120.0,243.1 121.0,243.6 121.9,244.1 122.8,244.6 123.6,245.1 124.4,245.6 125.1,246.1 125.8,246.6 126.5,247.0 127.2,247.5 127.8,247.9 128.4,248.3 128.9,248.8 129.4,249.2 129.9,249.6 130.3,250.0 130.8,250.4 131.2,250.8 131.6,251.2 132.0,251.6 132.5,252.0 132.9,252.4 133.3,252.8 133.8,253.2 134.2,253.6 134.7,253.9 135.1,254.3 135.5,254.7 135.9,255.1 136.2,255.5 136.6,255.9 136.9,256.2 137.3,256.6 137.6,257.0 137.9,257.4 138.2,257.7 138.5,258.1 138.7,258.4 138.8,258.7 138.8,259.0 138.9,259.4 139.0,259.7 139.0,260.0 139.0,260.3 139.0,260.5 139.0,260.8 139.0,261.1 139.0,261.4 139.0,261.7 139.0,262.0 139.0,262.3 138.9,262.5 138.8,262.8 138.7,263.1 138.6,263.3 138.4,263.6 138.3,263.9 138.1,264.1 138.0,264.4 137.8,264.6 137.6,264.9 137.4,265.1 137.2,265.3 137.0,265.6 136.8,265.8 136.5,266.0 136.3,266.3 136.0,266.5 135.8,266.7 135.5,267.0 135.3,267.2 135.0,267.4 134.7,267.6 134.5,267.9 134.2,268.1 134.0,268.3 133.7,268.5 133.4,268.8 133.2,269.0 132.9,269.2 132.6,269.4 132.3,269.6 132.0,269.9 131.7,270.1 131.4,270.3 131.1,270.5 130.8,270.7 130.6,271.0 130.3,271.2 130.0,271.4 129.8,271.6 129.5,271.9 129.2,272.1 129.0,272.3 128.7,272.5 128.4,272.8 128.2,273.0 127.9,273.2 127.7,273.5 127.6,273.7 127.4,274.0 127.3,274.2 127.2,274.5 127.1,274.8 127.0,275.0 126.9,275.3 126.9,275.6 126.8,275.9 126.7,276.1 126.7,276.4 126.6,276.7 126.6,277.0 126.6,277.3 126.6,277.6 126.7,277.9 126.7,278.2 126.8,278.5 126.9,278.8 127.0,279.1 127.2,279.4 127.4,279.8 127.6,280.1 127.7,280.4 128.0,280.8 128.2,281.1 128.4,281.5 128.6,281.8 128.8,282.1 129.0,282.5 129.3,282.8 129.5,283.2 129.8,283.6 130.1,283.9 130.4,284.3 130.8,284.7 131.1,285.0 131.4,285.4 131.7,285.8 132.1,286.1 132.4,286.5 132.7,286.9 133.0,287.2 133.4,287.6 133.7,288.0 134.0,288.4 134.4,288.7 134.7,289.1 135.1,289.5 135.4,289.9 135.8,290.2 136.2,290.6 136.6,291.0 137.0,291.4 137.4,291.8 137.9,292.2 138.3,292.6 138.9,293.0 139.4,293.5 140.0,293.9 140.5,294.3 141.2,294.8 141.8,295.2 142.4,295.6 143.1,296.1 143.7,296.5 144.4,297.0 145.0,297.4 145.7,297.9 146.3,298.3 146.9,298.8 147.5,299.2 148.1,299.6 148.7,300.1 149.3,300.5 149.9,301.0 150.5,301.4 151.1,301.8 151.7,302.3 152.3,302.7 152.9,303.1 153.5,303.6 154.1,304.0 154.7,304.5 155.3,304.9 155.9,305.3 156.5,305.8 157.1,306.2 157.7,306.6 158.3,307.1 158.9,307.5 159.6,308.0 160.2,308.4 160.8,308.9 161.4,309.3 162.0,309.7 162.7,310.2 163.3,310.6 163.8,311.0 164.4,311.5 165.0,311.9 165.5,312.3 166.0,312.7 166.6,313.2 167.1,313.6 167.6,314.0 168.1,314.4 168.6,314.8 169.1,315.2 169.6,315.6 170.1,316.0 170.5,316.5 171.0,316.9 171.4,317.3 171.9,317.7 172.3,318.0 172.7,318.4 173.1,318.8 173.5,319.2 173.9,319.6 174.2,320.0 174.6,320.3 174.9,320.7 175.3,321.1 175.6,321.5 176.0,321.8 176.3,322.2 176.7,322.6 177.0,323.0 177.4,323.3 177.7,323.7 178.1,324.1 178.4,324.5 178.8,324.9 179.2,325.2 179.5,325.6 179.9,326.0 180.3,326.4 180.7,326.8 181.1,327.2 181.5,327.6 181.9,327.9 182.3,328.3 182.7,328.7 183.1,329.1 183.5,329.5 183.9,329.9 184.3,330.3 184.7,330.7 185.2,331.1 185.6,331.5 186.0,331.9 186.5,332.3 187.0,332.7 187.5,333.1 187.9,333.5 188.4,333.9 189.0,334.3 189.5,334.7 190.1,335.2 190.6,335.6 191.2,336.0 191.8,336.5 192.4,336.9 193.1,337.3 193.8,337.8 194.6,338.3 195.3,338.8 196.1,339.3 197.0,339.8 197.9,340.3 198.8,340.8 199.8,341.3 200.9,341.9 202.1,342.4 203.3,343.0 204.5,343.6 205.8,344.2" fill="none" stroke="#000" stroke-width="1.9" stroke-linejoin="round" stroke-opacity="0.36"/>
<path d="M432.6,320.7 434.4,320.8 436.2,320.9 438.0,320.9 439.8,320.9 441.6,320.9 443.3,320.9 445.1,320.9 446.8,320.9 448.5,321.0 450.2,321.0 452.0,321.1 453.8,321.1 455.5,321.1 457.2,321.2 458.8,321.2 460.4,321.1 461.8,321.1 463.2,321.0 464.5,321.0 465.7,320.9 466.8,320.8 467.8,320.6 468.8,320.5 469.8,320.3 470.7,320.1 471.6,319.9 472.4,319.7 473.2,319.4 473.9,319.2 474.6,318.8 475.3,318.5 476.0,318.1 476.6,317.7 477.1,317.2 477.7,316.7 478.2,316.1 478.7,315.6 479.1,315.0 479.5,314.4 480.0,313.8 480.4,313.1 480.8,312.5 481.2,311.8 481.6,311.2 482.1,310.5 482.5,309.8 483.0,309.1 483.4,308.4 483.8,307.7 484.2,306.9 484.6,306.1 485.0,305.2 485.3,304.4 485.7,303.5 486.0,302.6 486.3,301.5 486.7,300.3 487.0,299.2 487.2,298.1 487.4,297.3 487.5,296.8 487.6,296.4 487.6,296.1 487.7,295.9 487.7,295.7 487.7,295.5 487.8,295.3 487.8,295.1 487.8,294.9 487.8,294.6 487.7,294.4 487.7,294.2 487.7,293.9 487.6,293.6 487.5,293.4 487.4,293.1 487.3,292.8 487.1,292.5 487.0,292.1 486.9,291.8 486.7,291.5 486.5,291.2 486.3,290.9 486.1,290.6 485.9,290.2 485.7,289.9 485.5,289.6 485.2,289.3 485.0,289.0 484.7,288.8 484.5,288.5 484.2,288.2 484.0,287.9 483.7,287.6 483.5,287.4 483.2,287.1 483.0,286.8 482.7,286.6 482.4,286.3 482.1,286.1 481.9,285.8 481.6,285.5 481.3,285.3 481.0,285.0 480.7,284.8 480.4,284.5 480.1,284.3 479.8,284.0 479.6,283.8 479.3,283.5 479.0,283.3 478.7,283.0 478.5,282.8 478.2,282.6 478.0,282.4 477.7,282.2 477.4,282.0 477.1,281.8 476.9,281.6 476.7,281.4 476.4,281.2 476.3,281.0 476.1,280.9 476.0,280.7 475.9,280.6 475.8,280.5 475.7,280.4 475.6,280.3 475.6,280.1 475.5,280.0 475.4,279.9 475.4,279.9 475.3,279.8 475.3,279.7 475.3,279.6 475.3,279.6 475.4,279.5 475.4,279.5 475.5,279.5 475.6,279.5 475.7,279.5 475.9,279.5 476.1,279.5 476.2,279.5 476.4,279.6 476.6,279.6 476.9,279.6 477.1,279.7 477.3,279.7 477.5,279.8 477.7,279.9 478.0,279.9 478.2,280.0 478.5,280.1 478.8,280.2 479.1,280.3 479.4,280.5 479.8,280.6 480.1,280.7 480.4,280.8 480.8,281.0 481.1,281.1 481.4,281.3 481.7,281.4 482.0,281.6 482.4,281.7 482.7,281.9 483.1,282.1 483.4,282.3 483.8,282.4 484.1,282.6 484.5,282.8 484.9,283.0 485.3,283.3 485.7,283.5 486.1,283.7 486.6,283.9 487.0,284.2 487.5,284.5 488.1,284.7 488.7,285.0 489.2,285.3 489.8,285.6 490.5,285.9 491.1,286.3 491.8,286.6 492.4,286.9 493.1,287.3 493.7,287.6 494.4,287.9 495.0,288.3 495.6,288.6 496.2,289.0 496.8,289.4 497.4,289.7 498.0,290.1 498.6,290.5 499.2,290.9 499.8,291.3 500.4,291.6 501.0,292.1 501.6,292.5 502.2,292.9 502.8,293.3 503.4,293.7 504.0,294.1 504.6,294.6 505.2,295.0 505.8,295.4 506.4,295.9 507.0,296.4 507.6,296.8 508.3,297.3 508.9,297.9 509.5,298.4 510.1,298.9 510.8,299.5 511.4,300.0 512.0,300.5 512.5,301.1 513.1,301.6 513.7,302.1 514.2,302.7 514.7,303.2 515.3,303.7 515.8,304.2 516.3,304.7 516.8,305.2 517.3,305.7 517.8,306.2 518.3,306.8 518.8,307.3 519.2,307.8 519.7,308.3 520.1,308.8 520.6,309.3 521.0,309.8 521.4,310.3 521.8,310.8 522.2,311.3 522.6,311.8 522.9,312.3 523.3,312.8 523.6,313.3 524.0,313.8 524.3,314.3 524.7,314.8 525.0,315.4 525.4,315.9 525.7,316.4 526.1,316.9 526.4,317.5 526.8,318.1 527.1,318.6 527.5,319.2 527.9,319.9 528.2,320.5 528.6,321.2 529.0,322.0 529.4,322.7 529.8,323.4 530.2,324.0 530.6,324.7 531.0,325.4 531.4,326.0 531.8,326.7 532.2,327.3 532.6,327.9 533.0,328.6 533.4,329.2 533.9,329.8 534.3,330.4 534.8,331.1 535.2,331.7 535.7,332.3 536.2,332.9 536.6,333.6 537.2,334.3 537.7,335.0 538.2,335.7 538.8,336.4 539.3,337.1 539.9,337.7 540.5,338.4 541.1,339.1 541.8,339.8 542.5,340.5 543.3,341.2 544.0,341.9 544.8,342.5 545.7,343.2 546.6,343.8 547.5,344.5 548.5,345.2 549.6,345.9 550.8,346.6 552.0,347.3 553.2,348.0 554.5,348.7" fill="none" stroke="#000" stroke-width="1.9" stroke-linejoin="round" stroke-opacity="0.36"/>
<g fill-opacity="0.42"><circle cx="83.6" cy="227.5" r="1.15"/><circle cx="92.5" cy="231.1" r="1.15"/><circle cx="101.1" cy="234.6" r="1.15"/><circle cx="109.6" cy="238.2" r="1.15"/><circle cx="116.5" cy="241.3" r="1.15"/><circle cx="121.6" cy="244.0" r="1.15"/><circle cx="125.5" cy="246.4" r="1.15"/><circle cx="128.6" cy="248.5" r="1.15"/><circle cx="131.0" cy="250.5" r="1.15"/><circle cx="133.1" cy="252.5" r="1.15"/><circle cx="135.2" cy="254.5" r="1.15"/><circle cx="137.0" cy="256.3" r="1.15"/><circle cx="138.5" cy="258.1" r="1.15"/><circle cx="139.0" cy="259.7" r="1.15"/><circle cx="139.0" cy="261.1" r="1.15"/><circle cx="138.9" cy="262.5" r="1.15"/><circle cx="138.3" cy="263.8" r="1.15"/><circle cx="137.5" cy="265.0" r="1.15"/><circle cx="136.3" cy="266.2" r="1.15"/><circle cx="135.1" cy="267.3" r="1.15"/><circle cx="133.8" cy="268.4" r="1.15"/><circle cx="132.4" cy="269.5" r="1.15"/><circle cx="131.0" cy="270.6" r="1.15"/><circle cx="129.7" cy="271.7" r="1.15"/><circle cx="128.4" cy="272.8" r="1.15"/><circle cx="127.4" cy="274.0" r="1.15"/><circle cx="126.9" cy="275.3" r="1.15"/><circle cx="126.6" cy="276.7" r="1.15"/><circle cx="126.7" cy="278.2" r="1.15"/><circle cx="127.4" cy="279.7" r="1.15"/><circle cx="128.3" cy="281.4" r="1.15"/><circle cx="129.5" cy="283.1" r="1.15"/><circle cx="131.0" cy="284.9" r="1.15"/><circle cx="132.6" cy="286.7" r="1.15"/><circle cx="134.2" cy="288.6" r="1.15"/><circle cx="136.0" cy="290.4" r="1.15"/><circle cx="138.1" cy="292.4" r="1.15"/><circle cx="140.8" cy="294.5" r="1.15"/><circle cx="143.9" cy="296.7" r="1.15"/><circle cx="147.0" cy="298.9" r="1.15"/><circle cx="150.0" cy="301.0" r="1.15"/><circle cx="152.9" cy="303.2" r="1.15"/><circle cx="155.9" cy="305.3" r="1.15"/><circle cx="158.9" cy="307.5" r="1.15"/><circle cx="162.0" cy="309.7" r="1.15"/><circle cx="164.9" cy="311.8" r="1.15"/><circle cx="167.4" cy="313.9" r="1.15"/><circle cx="169.9" cy="315.9" r="1.15"/><circle cx="172.1" cy="317.9" r="1.15"/><circle cx="174.0" cy="319.8" r="1.15"/><circle cx="175.8" cy="321.6" r="1.15"/><circle cx="177.5" cy="323.5" r="1.15"/><circle cx="179.3" cy="325.3" r="1.15"/><circle cx="181.2" cy="327.2" r="1.15"/><circle cx="183.2" cy="329.2" r="1.15"/><circle cx="185.2" cy="331.1" r="1.15"/><circle cx="187.5" cy="333.1" r="1.15"/><circle cx="190.0" cy="335.1" r="1.15"/><circle cx="193.0" cy="337.3" r="1.15"/><circle cx="196.8" cy="339.6" r="1.15"/><circle cx="201.7" cy="342.3" r="1.15"/></g>
<g fill-opacity="0.42"><circle cx="432.6" cy="320.7" r="1.15"/><circle cx="441.5" cy="320.9" r="1.15"/><circle cx="450.0" cy="321.0" r="1.15"/><circle cx="458.5" cy="321.2" r="1.15"/><circle cx="465.3" cy="320.9" r="1.15"/><circle cx="470.4" cy="320.2" r="1.15"/><circle cx="474.3" cy="319.0" r="1.15"/><circle cx="477.4" cy="316.9" r="1.15"/><circle cx="479.7" cy="314.1" r="1.15"/><circle cx="481.8" cy="310.9" r="1.15"/><circle cx="483.9" cy="307.4" r="1.15"/><circle cx="485.7" cy="303.3" r="1.15"/><circle cx="487.2" cy="298.0" r="1.15"/><circle cx="487.7" cy="295.9" r="1.15"/><circle cx="487.8" cy="294.9" r="1.15"/><circle cx="487.6" cy="293.7" r="1.15"/><circle cx="487.0" cy="292.2" r="1.15"/><circle cx="486.2" cy="290.6" r="1.15"/><circle cx="485.1" cy="289.1" r="1.15"/><circle cx="483.8" cy="287.7" r="1.15"/><circle cx="482.5" cy="286.4" r="1.15"/><circle cx="481.1" cy="285.2" r="1.15"/><circle cx="479.7" cy="283.9" r="1.15"/><circle cx="478.4" cy="282.7" r="1.15"/><circle cx="477.1" cy="281.7" r="1.15"/><circle cx="476.1" cy="280.9" r="1.15"/><circle cx="475.6" cy="280.2" r="1.15"/><circle cx="475.3" cy="279.8" r="1.15"/><circle cx="475.4" cy="279.5" r="1.15"/><circle cx="476.1" cy="279.5" r="1.15"/><circle cx="477.0" cy="279.7" r="1.15"/><circle cx="478.2" cy="280.0" r="1.15"/><circle cx="479.7" cy="280.5" r="1.15"/><circle cx="481.3" cy="281.2" r="1.15"/><circle cx="482.9" cy="282.0" r="1.15"/><circle cx="484.7" cy="282.9" r="1.15"/><circle cx="486.8" cy="284.1" r="1.15"/><circle cx="489.5" cy="285.4" r="1.15"/><circle cx="492.6" cy="287.0" r="1.15"/><circle cx="495.7" cy="288.7" r="1.15"/><circle cx="498.7" cy="290.5" r="1.15"/><circle cx="501.6" cy="292.5" r="1.15"/><circle cx="504.6" cy="294.6" r="1.15"/><circle cx="507.6" cy="296.8" r="1.15"/><circle cx="510.7" cy="299.4" r="1.15"/><circle cx="513.6" cy="302.0" r="1.15"/><circle cx="516.1" cy="304.6" r="1.15"/><circle cx="518.6" cy="307.1" r="1.15"/><circle cx="520.8" cy="309.6" r="1.15"/><circle cx="522.7" cy="312.1" r="1.15"/><circle cx="524.5" cy="314.5" r="1.15"/><circle cx="526.2" cy="317.1" r="1.15"/><circle cx="528.0" cy="320.1" r="1.15"/><circle cx="529.9" cy="323.5" r="1.15"/><circle cx="531.9" cy="326.8" r="1.15"/><circle cx="533.9" cy="329.9" r="1.15"/><circle cx="536.2" cy="332.9" r="1.15"/><circle cx="538.7" cy="336.3" r="1.15"/><circle cx="541.7" cy="339.7" r="1.15"/><circle cx="545.5" cy="343.0" r="1.15"/><circle cx="550.4" cy="346.4" r="1.15"/></g>
<path d="M79.3,230.0 81.0,230.7 82.8,231.4 84.6,232.2 86.3,232.9 88.0,233.6 89.7,234.3 91.4,235.0 93.1,235.7 94.8,236.4 96.5,237.1 98.2,237.8 99.9,238.5 101.6,239.2 103.3,239.9 104.9,240.6 106.5,241.3 107.9,241.9 109.3,242.6 110.6,243.2 111.8,243.8 112.9,244.3 113.9,244.9 114.9,245.4 115.9,245.9 116.8,246.4 117.6,246.9 118.5,247.4 119.3,247.9 120.0,248.4 120.7,248.9 121.4,249.3 122.0,249.8 122.7,250.2 123.2,250.6 123.8,251.1 124.3,251.5 124.7,251.9 125.2,252.3 125.6,252.7 126.0,253.1 126.5,253.5 126.9,253.9 127.3,254.3 127.8,254.7 128.2,255.1 128.7,255.5 129.1,255.9 129.6,256.3 130.0,256.7 130.5,257.1 130.9,257.4 131.2,257.8 131.6,258.2 131.9,258.6 132.3,259.0 132.6,259.3 133.0,259.7 133.3,260.1 133.5,260.4 133.7,260.8 133.8,261.1 133.8,261.4 133.8,261.7 133.9,262.0 133.9,262.3 133.9,262.5 133.8,262.8 133.8,263.1 133.8,263.4 133.7,263.7 133.7,264.0 133.6,264.2 133.5,264.5 133.4,264.8 133.2,265.0 133.1,265.3 132.9,265.5 132.7,265.8 132.5,266.0 132.3,266.2 132.1,266.5 131.8,266.7 131.6,266.9 131.3,267.2 131.0,267.4 130.7,267.6 130.4,267.8 130.1,268.0 129.8,268.2 129.5,268.5 129.2,268.7 128.8,268.9 128.5,269.1 128.2,269.3 127.8,269.5 127.5,269.7 127.2,269.9 126.8,270.1 126.5,270.3 126.2,270.5 125.8,270.7 125.4,270.9 125.1,271.1 124.7,271.3 124.3,271.5 123.9,271.7 123.6,271.9 123.2,272.1 122.8,272.3 122.5,272.6 122.1,272.8 121.8,273.0 121.5,273.2 121.1,273.4 120.8,273.6 120.5,273.8 120.1,274.0 119.8,274.2 119.4,274.4 119.1,274.6 118.9,274.9 118.6,275.1 118.4,275.3 118.3,275.6 118.2,275.8 118.0,276.1 117.9,276.4 117.8,276.6 117.6,276.9 117.5,277.1 117.4,277.4 117.3,277.7 117.3,278.0 117.2,278.2 117.2,278.5 117.2,278.8 117.2,279.1 117.3,279.4 117.3,279.7 117.4,280.0 117.6,280.3 117.7,280.7 117.9,281.0 118.1,281.3 118.3,281.7 118.5,282.0 118.7,282.4 119.0,282.7 119.2,283.1 119.4,283.4 119.6,283.8 119.9,284.1 120.2,284.5 120.5,284.8 120.9,285.2 121.2,285.6 121.6,286.0 121.9,286.3 122.3,286.7 122.7,287.1 123.0,287.5 123.4,287.9 123.7,288.2 124.1,288.6 124.4,289.0 124.8,289.4 125.2,289.8 125.6,290.1 126.0,290.5 126.4,290.9 126.8,291.3 127.2,291.7 127.6,292.1 128.1,292.5 128.5,292.9 129.0,293.3 129.5,293.7 130.1,294.1 130.6,294.6 131.2,295.0 131.9,295.5 132.6,295.9 133.3,296.4 134.0,296.8 134.7,297.3 135.4,297.8 136.2,298.3 136.9,298.7 137.7,299.2 138.4,299.7 139.1,300.1 139.9,300.6 140.5,301.1 141.2,301.5 141.9,302.0 142.6,302.4 143.3,302.9 144.0,303.4 144.6,303.8 145.3,304.3 146.0,304.7 146.7,305.2 147.4,305.6 148.1,306.1 148.8,306.6 149.4,307.0 150.1,307.5 150.8,307.9 151.5,308.4 152.2,308.8 152.9,309.3 153.6,309.8 154.3,310.2 155.0,310.7 155.7,311.2 156.4,311.6 157.1,312.1 157.8,312.5 158.5,313.0 159.1,313.5 159.8,313.9 160.4,314.3 161.0,314.8 161.6,315.2 162.2,315.7 162.8,316.1 163.3,316.5 163.9,316.9 164.5,317.4 165.0,317.8 165.6,318.2 166.1,318.6 166.6,319.1 167.1,319.5 167.6,319.9 168.1,320.3 168.6,320.7 169.0,321.1 169.4,321.5 169.8,321.9 170.2,322.3 170.6,322.7 171.0,323.0 171.4,323.4 171.7,323.8 172.1,324.2 172.5,324.5 172.8,324.9 173.2,325.3 173.5,325.7 173.9,326.1 174.2,326.4 174.6,326.8 174.9,327.2 175.3,327.6 175.6,327.9 176.0,328.3 176.4,328.7 176.8,329.1 177.2,329.5 177.6,329.9 178.0,330.2 178.3,330.6 178.7,331.0 179.1,331.4 179.5,331.8 179.9,332.2 180.3,332.6 180.7,332.9 181.1,333.3 181.5,333.7 181.9,334.1 182.3,334.5 182.8,334.9 183.2,335.3 183.6,335.7 184.1,336.1 184.6,336.5 185.1,336.9 185.6,337.3 186.1,337.8 186.7,338.2 187.2,338.6 187.8,339.0 188.4,339.5 189.0,339.9 189.7,340.4 190.4,340.8 191.1,341.3 191.9,341.8 192.7,342.3 193.6,342.8 194.5,343.3 195.6,343.8 196.7,344.4 197.9,345.0 199.1,345.6 200.4,346.2 201.7,346.8" fill="none" stroke="#000" stroke-width="1.9" stroke-linejoin="round" stroke-opacity="0.36"/>
<path d="M428.2,323.7 430.0,323.8 431.8,323.9 433.5,323.9 435.3,323.9 437.0,323.9 438.7,323.9 440.4,324.0 442.0,324.0 443.7,324.0 445.4,324.1 447.1,324.1 448.8,324.2 450.5,324.2 452.2,324.3 453.8,324.3 455.3,324.3 456.8,324.3 458.2,324.3 459.4,324.2 460.6,324.2 461.7,324.1 462.7,324.0 463.7,323.9 464.7,323.7 465.6,323.6 466.5,323.4 467.3,323.2 468.1,323.0 468.8,322.7 469.5,322.4 470.2,322.1 470.8,321.7 471.4,321.3 472.0,320.8 472.5,320.4 473.0,319.8 473.5,319.3 474.0,318.7 474.4,318.2 474.8,317.5 475.2,316.9 475.7,316.3 476.1,315.6 476.5,314.9 477.0,314.2 477.4,313.5 477.9,312.8 478.3,312.1 478.8,311.3 479.2,310.5 479.6,309.6 480.0,308.7 480.3,307.8 480.7,306.9 481.0,305.9 481.4,304.8 481.7,303.5 482.0,302.2 482.2,301.1 482.4,300.2 482.5,299.7 482.5,299.3 482.6,299.1 482.6,298.8 482.6,298.6 482.6,298.5 482.6,298.3 482.5,298.1 482.5,298.0 482.4,297.8 482.4,297.5 482.3,297.3 482.2,297.1 482.1,296.9 482.0,296.6 481.8,296.4 481.6,296.1 481.4,295.9 481.2,295.6 481.0,295.4 480.8,295.1 480.6,294.8 480.3,294.5 480.0,294.2 479.8,293.9 479.5,293.6 479.2,293.4 478.9,293.1 478.5,292.8 478.2,292.5 477.9,292.2 477.6,292.0 477.2,291.7 476.9,291.4 476.6,291.2 476.2,290.9 475.9,290.6 475.6,290.4 475.2,290.1 474.9,289.9 474.5,289.6 474.1,289.3 473.8,289.1 473.4,288.8 473.0,288.5 472.7,288.3 472.3,288.0 471.9,287.7 471.6,287.5 471.2,287.2 470.9,287.0 470.5,286.7 470.2,286.5 469.9,286.3 469.5,286.0 469.2,285.8 468.8,285.6 468.5,285.4 468.2,285.2 467.9,285.0 467.6,284.8 467.3,284.6 467.2,284.5 467.0,284.3 466.9,284.2 466.7,284.0 466.6,283.9 466.5,283.8 466.3,283.7 466.2,283.6 466.1,283.5 466.1,283.4 466.0,283.3 465.9,283.2 465.9,283.1 465.9,283.1 465.9,283.0 466.0,283.0 466.0,283.0 466.1,283.0 466.3,283.0 466.4,283.0 466.6,283.0 466.8,283.0 467.0,283.1 467.2,283.1 467.4,283.2 467.6,283.2 467.9,283.3 468.1,283.3 468.3,283.4 468.6,283.5 468.9,283.6 469.2,283.7 469.6,283.8 469.9,283.9 470.3,284.0 470.6,284.2 471.0,284.3 471.3,284.4 471.7,284.6 472.1,284.7 472.4,284.9 472.8,285.0 473.1,285.2 473.5,285.4 473.9,285.5 474.3,285.7 474.6,285.9 475.0,286.1 475.4,286.3 475.9,286.5 476.3,286.7 476.8,286.9 477.2,287.2 477.7,287.4 478.2,287.6 478.7,287.9 479.3,288.2 479.9,288.5 480.6,288.8 481.3,289.1 481.9,289.4 482.7,289.7 483.4,290.1 484.1,290.4 484.9,290.8 485.6,291.1 486.4,291.5 487.1,291.8 487.8,292.2 488.5,292.6 489.2,292.9 489.9,293.3 490.6,293.7 491.3,294.1 492.0,294.4 492.7,294.8 493.3,295.2 494.0,295.6 494.7,296.0 495.4,296.4 496.1,296.9 496.8,297.3 497.5,297.7 498.1,298.1 498.8,298.6 499.5,299.0 500.2,299.4 500.9,299.9 501.6,300.3 502.3,300.8 503.0,301.3 503.7,301.8 504.4,302.3 505.1,302.8 505.8,303.3 506.5,303.9 507.2,304.4 507.8,304.9 508.5,305.4 509.1,305.9 509.7,306.5 510.3,307.0 510.9,307.5 511.5,308.0 512.1,308.5 512.6,309.0 513.2,309.5 513.7,310.0 514.3,310.5 514.8,311.0 515.3,311.5 515.8,312.0 516.3,312.5 516.8,313.0 517.3,313.5 517.7,314.0 518.1,314.5 518.5,315.0 518.9,315.5 519.3,316.0 519.7,316.5 520.1,317.0 520.4,317.5 520.8,318.0 521.2,318.5 521.5,319.0 521.9,319.5 522.2,320.0 522.6,320.5 522.9,321.0 523.3,321.6 523.6,322.1 524.0,322.7 524.3,323.3 524.7,324.0 525.1,324.7 525.5,325.3 525.9,326.0 526.3,326.7 526.7,327.4 527.0,328.0 527.4,328.7 527.8,329.3 528.2,329.9 528.6,330.5 529.0,331.1 529.4,331.7 529.8,332.3 530.2,333.0 530.6,333.6 531.0,334.2 531.5,334.7 531.9,335.4 532.4,336.0 532.8,336.6 533.3,337.3 533.8,337.9 534.3,338.6 534.8,339.3 535.4,340.0 535.9,340.7 536.5,341.4 537.1,342.1 537.7,342.7 538.4,343.4 539.1,344.1 539.8,344.7 540.6,345.4 541.4,346.0 542.3,346.6 543.2,347.3 544.3,348.0 545.4,348.7 546.6,349.3 547.8,350.0 549.1,350.8 550.4,351.5" fill="none" stroke="#000" stroke-width="1.9" stroke-linejoin="round" stroke-opacity="0.36"/>
<g fill-opacity="0.42"><circle cx="79.3" cy="230.0" r="1.15"/><circle cx="87.9" cy="233.5" r="1.15"/><circle cx="96.2" cy="237.0" r="1.15"/><circle cx="104.6" cy="240.5" r="1.15"/><circle cx="111.5" cy="243.6" r="1.15"/><circle cx="116.5" cy="246.3" r="1.15"/><circle cx="120.4" cy="248.7" r="1.15"/><circle cx="123.5" cy="250.8" r="1.15"/><circle cx="125.8" cy="252.8" r="1.15"/><circle cx="127.9" cy="254.8" r="1.15"/><circle cx="130.2" cy="256.8" r="1.15"/><circle cx="132.0" cy="258.7" r="1.15"/><circle cx="133.5" cy="260.5" r="1.15"/><circle cx="133.9" cy="262.0" r="1.15"/><circle cx="133.8" cy="263.4" r="1.15"/><circle cx="133.4" cy="264.7" r="1.15"/><circle cx="132.5" cy="266.0" r="1.15"/><circle cx="131.4" cy="267.1" r="1.15"/><circle cx="129.9" cy="268.2" r="1.15"/><circle cx="128.3" cy="269.2" r="1.15"/><circle cx="126.7" cy="270.3" r="1.15"/><circle cx="124.9" cy="271.2" r="1.15"/><circle cx="123.1" cy="272.2" r="1.15"/><circle cx="121.4" cy="273.2" r="1.15"/><circle cx="119.7" cy="274.3" r="1.15"/><circle cx="118.4" cy="275.4" r="1.15"/><circle cx="117.7" cy="276.7" r="1.15"/><circle cx="117.3" cy="278.0" r="1.15"/><circle cx="117.3" cy="279.4" r="1.15"/><circle cx="117.9" cy="281.0" r="1.15"/><circle cx="118.9" cy="282.7" r="1.15"/><circle cx="120.1" cy="284.4" r="1.15"/><circle cx="121.8" cy="286.2" r="1.15"/><circle cx="123.6" cy="288.1" r="1.15"/><circle cx="125.4" cy="290.0" r="1.15"/><circle cx="127.4" cy="291.9" r="1.15"/><circle cx="129.7" cy="293.9" r="1.15"/><circle cx="132.8" cy="296.1" r="1.15"/><circle cx="136.4" cy="298.4" r="1.15"/><circle cx="140.0" cy="300.7" r="1.15"/><circle cx="143.4" cy="303.0" r="1.15"/><circle cx="146.8" cy="305.2" r="1.15"/><circle cx="150.1" cy="307.5" r="1.15"/><circle cx="153.5" cy="309.7" r="1.15"/><circle cx="157.0" cy="312.0" r="1.15"/><circle cx="160.3" cy="314.3" r="1.15"/><circle cx="163.2" cy="316.4" r="1.15"/><circle cx="165.9" cy="318.5" r="1.15"/><circle cx="168.4" cy="320.5" r="1.15"/><circle cx="170.4" cy="322.5" r="1.15"/><circle cx="172.2" cy="324.3" r="1.15"/><circle cx="174.0" cy="326.2" r="1.15"/><circle cx="175.7" cy="328.0" r="1.15"/><circle cx="177.6" cy="329.9" r="1.15"/><circle cx="179.6" cy="331.8" r="1.15"/><circle cx="181.5" cy="333.7" r="1.15"/><circle cx="183.6" cy="335.7" r="1.15"/><circle cx="186.1" cy="337.7" r="1.15"/><circle cx="188.9" cy="339.8" r="1.15"/><circle cx="192.5" cy="342.2" r="1.15"/><circle cx="197.5" cy="344.8" r="1.15"/></g>
<g fill-opacity="0.42"><circle cx="428.2" cy="323.7" r="1.15"/><circle cx="436.8" cy="323.9" r="1.15"/><circle cx="445.1" cy="324.1" r="1.15"/><circle cx="453.5" cy="324.3" r="1.15"/><circle cx="460.3" cy="324.2" r="1.15"/><circle cx="465.3" cy="323.6" r="1.15"/><circle cx="469.2" cy="322.6" r="1.15"/><circle cx="472.3" cy="320.6" r="1.15"/><circle cx="474.6" cy="317.9" r="1.15"/><circle cx="476.7" cy="314.7" r="1.15"/><circle cx="478.9" cy="311.1" r="1.15"/><circle cx="480.8" cy="306.7" r="1.15"/><circle cx="482.3" cy="300.9" r="1.15"/><circle cx="482.6" cy="298.8" r="1.15"/><circle cx="482.5" cy="298.0" r="1.15"/><circle cx="482.1" cy="296.9" r="1.15"/><circle cx="481.3" cy="295.7" r="1.15"/><circle cx="480.1" cy="294.3" r="1.15"/><circle cx="478.6" cy="292.9" r="1.15"/><circle cx="477.0" cy="291.5" r="1.15"/><circle cx="475.4" cy="290.2" r="1.15"/><circle cx="473.6" cy="288.9" r="1.15"/><circle cx="471.8" cy="287.6" r="1.15"/><circle cx="470.1" cy="286.4" r="1.15"/><circle cx="468.4" cy="285.3" r="1.15"/><circle cx="467.1" cy="284.4" r="1.15"/><circle cx="466.4" cy="283.8" r="1.15"/><circle cx="466.0" cy="283.3" r="1.15"/><circle cx="466.0" cy="283.0" r="1.15"/><circle cx="466.6" cy="283.0" r="1.15"/><circle cx="467.6" cy="283.2" r="1.15"/><circle cx="468.8" cy="283.6" r="1.15"/><circle cx="470.5" cy="284.1" r="1.15"/><circle cx="472.3" cy="284.8" r="1.15"/><circle cx="474.1" cy="285.6" r="1.15"/><circle cx="476.1" cy="286.6" r="1.15"/><circle cx="478.4" cy="287.8" r="1.15"/><circle cx="481.5" cy="289.2" r="1.15"/><circle cx="485.1" cy="290.9" r="1.15"/><circle cx="488.7" cy="292.6" r="1.15"/><circle cx="492.1" cy="294.5" r="1.15"/><circle cx="495.4" cy="296.5" r="1.15"/><circle cx="498.8" cy="298.6" r="1.15"/><circle cx="502.2" cy="300.8" r="1.15"/><circle cx="505.7" cy="303.3" r="1.15"/><circle cx="509.0" cy="305.8" r="1.15"/><circle cx="511.9" cy="308.3" r="1.15"/><circle cx="514.6" cy="310.8" r="1.15"/><circle cx="517.1" cy="313.3" r="1.15"/><circle cx="519.1" cy="315.8" r="1.15"/><circle cx="521.0" cy="318.2" r="1.15"/><circle cx="522.7" cy="320.7" r="1.15"/><circle cx="524.5" cy="323.5" r="1.15"/><circle cx="526.3" cy="326.8" r="1.15"/><circle cx="528.3" cy="330.0" r="1.15"/><circle cx="530.2" cy="333.0" r="1.15"/><circle cx="532.4" cy="336.0" r="1.15"/><circle cx="534.8" cy="339.3" r="1.15"/><circle cx="537.6" cy="342.6" r="1.15"/><circle cx="541.2" cy="345.9" r="1.15"/><circle cx="546.2" cy="349.1" r="1.15"/></g>
<path d="M74.9,232.5 76.6,233.2 78.3,233.9 80.0,234.6 81.7,235.3 83.4,236.0 85.0,236.7 86.7,237.4 88.3,238.1 89.9,238.8 91.6,239.5 93.2,240.2 94.9,240.9 96.6,241.6 98.2,242.3 99.8,242.9 101.4,243.6 102.8,244.3 104.2,244.9 105.5,245.5 106.7,246.1 107.8,246.6 108.8,247.2 109.8,247.7 110.7,248.2 111.6,248.7 112.5,249.2 113.3,249.7 114.1,250.2 114.8,250.7 115.6,251.2 116.2,251.6 116.9,252.1 117.5,252.5 118.0,252.9 118.6,253.3 119.1,253.8 119.5,254.2 120.0,254.6 120.4,255.0 120.9,255.4 121.3,255.8 121.7,256.2 122.2,256.6 122.6,257.0 123.1,257.4 123.5,257.8 124.0,258.2 124.5,258.6 124.9,259.0 125.4,259.4 125.8,259.8 126.2,260.2 126.5,260.5 126.9,260.9 127.3,261.3 127.6,261.7 128.0,262.1 128.3,262.4 128.5,262.8 128.7,263.1 128.7,263.4 128.8,263.7 128.8,264.0 128.7,264.3 128.7,264.6 128.6,264.8 128.6,265.1 128.5,265.4 128.4,265.6 128.3,265.9 128.2,266.2 128.1,266.5 128.0,266.7 127.8,267.0 127.6,267.2 127.4,267.4 127.2,267.7 126.9,267.9 126.7,268.1 126.4,268.3 126.1,268.6 125.8,268.8 125.5,269.0 125.1,269.2 124.8,269.4 124.4,269.6 124.1,269.8 123.7,270.0 123.3,270.2 122.9,270.4 122.5,270.6 122.1,270.8 121.6,271.0 121.2,271.2 120.8,271.3 120.4,271.5 120.0,271.7 119.6,271.9 119.2,272.1 118.8,272.3 118.3,272.5 117.9,272.7 117.4,272.8 117.0,273.0 116.5,273.2 116.1,273.4 115.6,273.6 115.2,273.7 114.7,273.9 114.3,274.1 113.8,274.3 113.4,274.5 113.0,274.7 112.6,274.9 112.2,275.0 111.8,275.2 111.4,275.4 110.9,275.6 110.5,275.8 110.2,276.0 109.8,276.2 109.5,276.4 109.3,276.7 109.1,276.9 108.9,277.1 108.7,277.4 108.6,277.6 108.4,277.9 108.2,278.1 108.1,278.4 107.9,278.6 107.8,278.9 107.7,279.2 107.7,279.4 107.6,279.7 107.6,280.0 107.6,280.3 107.6,280.6 107.7,280.9 107.8,281.2 107.9,281.5 108.0,281.9 108.2,282.2 108.4,282.5 108.6,282.9 108.9,283.2 109.1,283.6 109.3,283.9 109.6,284.3 109.8,284.6 110.1,285.0 110.4,285.3 110.7,285.7 111.0,286.1 111.4,286.5 111.8,286.8 112.2,287.2 112.6,287.6 113.0,288.0 113.4,288.4 113.8,288.8 114.2,289.2 114.6,289.6 115.0,289.9 115.4,290.3 115.8,290.7 116.2,291.1 116.6,291.5 117.0,291.9 117.5,292.3 117.9,292.7 118.4,293.1 118.9,293.5 119.4,293.9 119.9,294.3 120.4,294.8 121.0,295.2 121.6,295.6 122.3,296.1 122.9,296.5 123.7,297.0 124.4,297.5 125.2,298.0 126.0,298.5 126.9,298.9 127.7,299.4 128.5,299.9 129.4,300.4 130.2,300.9 131.1,301.4 131.9,301.9 132.7,302.4 133.5,302.9 134.2,303.4 135.0,303.9 135.8,304.3 136.6,304.8 137.3,305.3 138.1,305.8 138.9,306.3 139.7,306.7 140.4,307.2 141.2,307.7 142.0,308.2 142.7,308.6 143.5,309.1 144.3,309.6 145.1,310.1 145.8,310.6 146.6,311.0 147.4,311.5 148.2,312.0 149.0,312.5 149.8,313.0 150.6,313.5 151.4,314.0 152.1,314.4 152.9,314.9 153.7,315.4 154.4,315.9 155.1,316.3 155.8,316.8 156.5,317.2 157.2,317.7 157.8,318.1 158.5,318.6 159.1,319.0 159.7,319.5 160.4,319.9 161.0,320.4 161.6,320.8 162.2,321.2 162.7,321.7 163.3,322.1 163.8,322.5 164.3,322.9 164.8,323.3 165.3,323.8 165.8,324.2 166.2,324.6 166.6,325.0 167.1,325.3 167.5,325.7 167.8,326.1 168.2,326.5 168.6,326.9 169.0,327.3 169.3,327.6 169.7,328.0 170.0,328.4 170.4,328.8 170.7,329.1 171.1,329.5 171.4,329.9 171.8,330.3 172.2,330.7 172.5,331.0 172.9,331.4 173.3,331.8 173.6,332.2 174.0,332.6 174.4,332.9 174.8,333.3 175.2,333.7 175.6,334.1 175.9,334.5 176.3,334.9 176.7,335.2 177.0,335.6 177.4,336.0 177.8,336.4 178.2,336.8 178.6,337.2 179.0,337.5 179.4,337.9 179.9,338.3 180.3,338.7 180.7,339.1 181.2,339.5 181.7,339.9 182.2,340.4 182.7,340.8 183.2,341.2 183.8,341.6 184.3,342.0 184.9,342.5 185.5,342.9 186.2,343.4 186.9,343.8 187.7,344.3 188.4,344.8 189.3,345.3 190.2,345.8 191.3,346.4 192.4,346.9 193.6,347.5 194.9,348.1 196.2,348.7 197.6,349.4" fill="none" stroke="#000" stroke-width="1.9" stroke-linejoin="round" stroke-opacity="0.36"/>
<path d="M423.9,326.7 425.6,326.8 427.3,326.9 429.0,326.9 430.7,326.9 432.3,326.9 434.0,326.9 435.6,327.0 437.3,327.0 438.9,327.1 440.5,327.1 442.1,327.2 443.8,327.3 445.5,327.3 447.1,327.4 448.7,327.4 450.3,327.5 451.7,327.5 453.1,327.5 454.4,327.5 455.5,327.5 456.6,327.4 457.6,327.3 458.6,327.2 459.6,327.1 460.5,327.0 461.3,326.9 462.1,326.7 462.9,326.5 463.7,326.3 464.4,326.0 465.0,325.7 465.7,325.3 466.3,324.9 466.9,324.5 467.4,324.0 467.9,323.5 468.3,323.0 468.8,322.5 469.2,321.9 469.7,321.3 470.1,320.7 470.5,320.0 470.9,319.4 471.4,318.7 471.8,318.0 472.3,317.3 472.8,316.5 473.3,315.8 473.7,315.0 474.2,314.1 474.6,313.2 475.0,312.3 475.3,311.3 475.7,310.3 476.0,309.3 476.4,308.1 476.7,306.7 477.0,305.4 477.3,304.1 477.4,303.2 477.5,302.7 477.5,302.4 477.5,302.1 477.5,301.9 477.4,301.7 477.4,301.6 477.3,301.4 477.2,301.3 477.2,301.1 477.1,301.0 477.0,300.8 476.9,300.6 476.7,300.4 476.6,300.2 476.4,300.0 476.1,299.8 475.9,299.6 475.6,299.4 475.4,299.2 475.1,298.9 474.8,298.7 474.5,298.5 474.2,298.2 473.9,298.0 473.5,297.7 473.2,297.4 472.8,297.1 472.4,296.9 472.0,296.6 471.6,296.3 471.2,296.1 470.8,295.8 470.4,295.5 470.0,295.3 469.6,295.0 469.1,294.7 468.7,294.5 468.3,294.2 467.9,294.0 467.5,293.7 467.0,293.4 466.6,293.2 466.1,292.9 465.7,292.6 465.2,292.3 464.8,292.1 464.3,291.8 463.9,291.5 463.4,291.2 463.0,291.0 462.6,290.7 462.1,290.5 461.7,290.2 461.3,290.0 460.9,289.7 460.5,289.5 460.1,289.3 459.7,289.0 459.3,288.8 458.9,288.6 458.5,288.4 458.2,288.2 458.0,288.1 457.8,287.9 457.6,287.8 457.4,287.6 457.3,287.5 457.1,287.4 456.9,287.2 456.8,287.1 456.7,287.0 456.5,286.9 456.4,286.8 456.4,286.8 456.3,286.7 456.3,286.6 456.3,286.6 456.3,286.5 456.4,286.5 456.5,286.5 456.6,286.5 456.7,286.5 456.9,286.5 457.1,286.6 457.3,286.6 457.6,286.6 457.8,286.7 458.0,286.8 458.3,286.8 458.5,286.9 458.8,287.0 459.1,287.0 459.4,287.1 459.7,287.2 460.1,287.4 460.5,287.5 460.9,287.6 461.3,287.8 461.7,287.9 462.1,288.0 462.5,288.2 462.9,288.4 463.3,288.5 463.7,288.7 464.1,288.8 464.5,289.0 464.9,289.2 465.3,289.4 465.7,289.6 466.2,289.8 466.6,290.0 467.1,290.2 467.6,290.4 468.1,290.6 468.6,290.9 469.1,291.1 469.7,291.4 470.3,291.7 470.9,291.9 471.6,292.2 472.4,292.6 473.1,292.9 473.9,293.2 474.7,293.6 475.5,293.9 476.4,294.3 477.2,294.6 478.1,295.0 478.9,295.4 479.7,295.8 480.6,296.1 481.4,296.5 482.2,296.9 482.9,297.3 483.7,297.7 484.5,298.1 485.2,298.4 486.0,298.8 486.8,299.2 487.6,299.7 488.3,300.1 489.1,300.5 489.9,300.9 490.7,301.3 491.4,301.7 492.2,302.2 493.0,302.6 493.7,303.0 494.5,303.5 495.3,303.9 496.1,304.4 496.9,304.9 497.7,305.3 498.5,305.8 499.3,306.3 500.1,306.8 500.8,307.3 501.6,307.8 502.4,308.3 503.1,308.8 503.8,309.3 504.5,309.8 505.2,310.3 505.9,310.8 506.5,311.3 507.2,311.8 507.8,312.3 508.4,312.8 509.1,313.3 509.7,313.8 510.3,314.3 510.9,314.8 511.4,315.3 512.0,315.8 512.5,316.3 513.0,316.8 513.5,317.3 514.0,317.8 514.5,318.3 514.9,318.8 515.3,319.3 515.8,319.8 516.2,320.3 516.5,320.8 516.9,321.2 517.3,321.7 517.7,322.2 518.0,322.7 518.4,323.2 518.7,323.7 519.1,324.1 519.4,324.7 519.8,325.2 520.1,325.7 520.5,326.2 520.9,326.8 521.2,327.4 521.6,328.1 522.0,328.8 522.3,329.5 522.7,330.1 523.1,330.7 523.5,331.4 523.9,332.0 524.3,332.6 524.6,333.2 525.0,333.8 525.4,334.4 525.8,335.0 526.1,335.6 526.5,336.1 526.9,336.7 527.3,337.3 527.7,337.9 528.1,338.4 528.6,339.0 529.0,339.6 529.5,340.3 529.9,340.9 530.4,341.6 530.9,342.3 531.4,343.0 531.9,343.6 532.5,344.3 533.0,345.0 533.6,345.7 534.2,346.3 534.9,347.0 535.6,347.6 536.3,348.2 537.1,348.8 538.0,349.5 538.9,350.1 540.0,350.8 541.1,351.4 542.3,352.1 543.6,352.8 544.9,353.5 546.3,354.3" fill="none" stroke="#000" stroke-width="1.9" stroke-linejoin="round" stroke-opacity="0.36"/>
<g fill-opacity="0.42"><circle cx="74.9" cy="232.5" r="1.15"/><circle cx="83.3" cy="236.0" r="1.15"/><circle cx="91.3" cy="239.4" r="1.15"/><circle cx="99.5" cy="242.8" r="1.15"/><circle cx="106.4" cy="245.9" r="1.15"/><circle cx="111.3" cy="248.6" r="1.15"/><circle cx="115.3" cy="251.0" r="1.15"/><circle cx="118.3" cy="253.1" r="1.15"/><circle cx="120.6" cy="255.1" r="1.15"/><circle cx="122.8" cy="257.1" r="1.15"/><circle cx="125.1" cy="259.1" r="1.15"/><circle cx="127.0" cy="261.0" r="1.15"/><circle cx="128.5" cy="262.8" r="1.15"/><circle cx="128.7" cy="264.3" r="1.15"/><circle cx="128.4" cy="265.6" r="1.15"/><circle cx="127.8" cy="266.9" r="1.15"/><circle cx="126.7" cy="268.1" r="1.15"/><circle cx="125.2" cy="269.2" r="1.15"/><circle cx="123.4" cy="270.1" r="1.15"/><circle cx="121.4" cy="271.1" r="1.15"/><circle cx="119.4" cy="272.0" r="1.15"/><circle cx="117.2" cy="272.9" r="1.15"/><circle cx="115.0" cy="273.8" r="1.15"/><circle cx="112.9" cy="274.7" r="1.15"/><circle cx="110.8" cy="275.7" r="1.15"/><circle cx="109.2" cy="276.7" r="1.15"/><circle cx="108.4" cy="277.9" r="1.15"/><circle cx="107.7" cy="279.2" r="1.15"/><circle cx="107.6" cy="280.6" r="1.15"/><circle cx="108.2" cy="282.2" r="1.15"/><circle cx="109.3" cy="283.9" r="1.15"/><circle cx="110.6" cy="285.6" r="1.15"/><circle cx="112.5" cy="287.5" r="1.15"/><circle cx="114.4" cy="289.4" r="1.15"/><circle cx="116.4" cy="291.3" r="1.15"/><circle cx="118.6" cy="293.3" r="1.15"/><circle cx="121.3" cy="295.4" r="1.15"/><circle cx="124.7" cy="297.7" r="1.15"/><circle cx="128.8" cy="300.1" r="1.15"/><circle cx="132.9" cy="302.5" r="1.15"/><circle cx="136.7" cy="304.9" r="1.15"/><circle cx="140.5" cy="307.2" r="1.15"/><circle cx="144.3" cy="309.6" r="1.15"/><circle cx="148.1" cy="312.0" r="1.15"/><circle cx="152.0" cy="314.4" r="1.15"/><circle cx="155.7" cy="316.7" r="1.15"/><circle cx="158.9" cy="318.9" r="1.15"/><circle cx="161.9" cy="321.1" r="1.15"/><circle cx="164.6" cy="323.2" r="1.15"/><circle cx="166.9" cy="325.1" r="1.15"/><circle cx="168.8" cy="327.0" r="1.15"/><circle cx="170.5" cy="328.9" r="1.15"/><circle cx="172.3" cy="330.8" r="1.15"/><circle cx="174.1" cy="332.6" r="1.15"/><circle cx="176.0" cy="334.5" r="1.15"/><circle cx="177.8" cy="336.4" r="1.15"/><circle cx="179.9" cy="338.3" r="1.15"/><circle cx="182.2" cy="340.3" r="1.15"/><circle cx="184.8" cy="342.4" r="1.15"/><circle cx="188.3" cy="344.7" r="1.15"/><circle cx="193.3" cy="347.3" r="1.15"/></g>
<g fill-opacity="0.42"><circle cx="423.9" cy="326.7" r="1.15"/><circle cx="432.2" cy="326.9" r="1.15"/><circle cx="440.3" cy="327.1" r="1.15"/><circle cx="448.4" cy="327.4" r="1.15"/><circle cx="455.2" cy="327.5" r="1.15"/><circle cx="460.1" cy="327.1" r="1.15"/><circle cx="464.1" cy="326.1" r="1.15"/><circle cx="467.1" cy="324.3" r="1.15"/><circle cx="469.4" cy="321.6" r="1.15"/><circle cx="471.5" cy="318.4" r="1.15"/><circle cx="473.8" cy="314.7" r="1.15"/><circle cx="475.7" cy="310.1" r="1.15"/><circle cx="477.3" cy="304.0" r="1.15"/><circle cx="477.5" cy="301.9" r="1.15"/><circle cx="477.2" cy="301.1" r="1.15"/><circle cx="476.6" cy="300.2" r="1.15"/><circle cx="475.4" cy="299.2" r="1.15"/><circle cx="473.9" cy="298.0" r="1.15"/><circle cx="472.1" cy="296.7" r="1.15"/><circle cx="470.1" cy="295.4" r="1.15"/><circle cx="468.1" cy="294.1" r="1.15"/><circle cx="465.9" cy="292.8" r="1.15"/><circle cx="463.7" cy="291.4" r="1.15"/><circle cx="461.6" cy="290.1" r="1.15"/><circle cx="459.5" cy="289.0" r="1.15"/><circle cx="458.0" cy="288.0" r="1.15"/><circle cx="457.1" cy="287.3" r="1.15"/><circle cx="456.4" cy="286.8" r="1.15"/><circle cx="456.3" cy="286.5" r="1.15"/><circle cx="456.9" cy="286.5" r="1.15"/><circle cx="458.0" cy="286.7" r="1.15"/><circle cx="459.3" cy="287.1" r="1.15"/><circle cx="461.2" cy="287.7" r="1.15"/><circle cx="463.1" cy="288.5" r="1.15"/><circle cx="465.1" cy="289.3" r="1.15"/><circle cx="467.3" cy="290.3" r="1.15"/><circle cx="469.9" cy="291.5" r="1.15"/><circle cx="473.4" cy="293.0" r="1.15"/><circle cx="477.5" cy="294.7" r="1.15"/><circle cx="481.5" cy="296.6" r="1.15"/><circle cx="485.4" cy="298.5" r="1.15"/><circle cx="489.2" cy="300.5" r="1.15"/><circle cx="493.0" cy="302.6" r="1.15"/><circle cx="496.8" cy="304.8" r="1.15"/><circle cx="500.7" cy="307.2" r="1.15"/><circle cx="504.4" cy="309.7" r="1.15"/><circle cx="507.6" cy="312.2" r="1.15"/><circle cx="510.6" cy="314.7" r="1.15"/><circle cx="513.3" cy="317.1" r="1.15"/><circle cx="515.6" cy="319.6" r="1.15"/><circle cx="517.5" cy="321.9" r="1.15"/><circle cx="519.2" cy="324.3" r="1.15"/><circle cx="521.0" cy="327.0" r="1.15"/><circle cx="522.8" cy="330.2" r="1.15"/><circle cx="524.7" cy="333.3" r="1.15"/><circle cx="526.5" cy="336.2" r="1.15"/><circle cx="528.6" cy="339.0" r="1.15"/><circle cx="530.9" cy="342.3" r="1.15"/><circle cx="533.5" cy="345.6" r="1.15"/><circle cx="537.0" cy="348.7" r="1.15"/><circle cx="542.0" cy="351.9" r="1.15"/></g>
<path d="M70.4,234.9 72.1,235.6 73.8,236.3 75.4,237.0 77.0,237.7 78.6,238.4 80.2,239.1 81.8,239.8 83.4,240.4 85.0,241.1 86.5,241.8 88.1,242.5 89.7,243.2 91.4,243.8 93.0,244.5 94.5,245.2 96.1,245.9 97.6,246.5 98.9,247.2 100.2,247.8 101.4,248.3 102.4,248.9 103.5,249.4 104.4,250.0 105.4,250.5 106.3,251.0 107.1,251.5 107.9,252.0 108.7,252.5 109.5,252.9 110.2,253.4 110.9,253.9 111.5,254.3 112.1,254.7 112.7,255.2 113.2,255.6 113.7,256.0 114.1,256.4 114.6,256.8 115.0,257.2 115.5,257.6 115.9,258.0 116.3,258.4 116.8,258.8 117.2,259.2 117.7,259.6 118.2,260.0 118.7,260.4 119.2,260.8 119.7,261.3 120.1,261.7 120.6,262.1 121.0,262.4 121.3,262.8 121.7,263.2 122.1,263.6 122.5,264.0 122.8,264.3 123.1,264.7 123.3,265.1 123.5,265.4 123.5,265.7 123.5,266.0 123.5,266.3 123.4,266.5 123.3,266.8 123.2,267.1 123.1,267.3 123.0,267.6 122.8,267.8 122.7,268.1 122.6,268.4 122.4,268.6 122.2,268.8 122.0,269.1 121.7,269.3 121.4,269.5 121.1,269.7 120.8,270.0 120.4,270.2 120.1,270.4 119.7,270.6 119.3,270.8 118.9,271.0 118.5,271.1 118.1,271.3 117.6,271.5 117.2,271.7 116.7,271.9 116.2,272.0 115.7,272.2 115.2,272.4 114.7,272.5 114.2,272.7 113.7,272.9 113.2,273.0 112.7,273.2 112.2,273.4 111.7,273.5 111.2,273.7 110.6,273.9 110.1,274.0 109.5,274.2 109.0,274.3 108.4,274.5 107.9,274.6 107.3,274.8 106.8,274.9 106.2,275.1 105.7,275.3 105.1,275.4 104.6,275.6 104.1,275.7 103.6,275.9 103.1,276.1 102.6,276.2 102.1,276.4 101.6,276.6 101.0,276.7 100.6,276.9 100.1,277.1 99.7,277.3 99.3,277.5 99.0,277.7 98.7,277.9 98.5,278.2 98.3,278.4 98.0,278.6 97.8,278.9 97.6,279.1 97.4,279.3 97.2,279.6 97.1,279.8 96.9,280.1 96.8,280.4 96.7,280.6 96.7,280.9 96.7,281.2 96.7,281.5 96.7,281.8 96.8,282.1 96.9,282.4 97.1,282.7 97.3,283.1 97.5,283.4 97.7,283.8 98.0,284.1 98.2,284.5 98.5,284.8 98.7,285.2 99.0,285.5 99.3,285.9 99.6,286.3 100.0,286.6 100.3,287.0 100.8,287.4 101.2,287.8 101.6,288.2 102.1,288.6 102.5,289.0 102.9,289.4 103.4,289.8 103.8,290.2 104.3,290.6 104.7,291.0 105.2,291.4 105.6,291.8 106.1,292.2 106.5,292.6 107.0,293.0 107.5,293.4 108.0,293.8 108.6,294.3 109.1,294.7 109.7,295.1 110.2,295.5 110.9,296.0 111.5,296.4 112.2,296.9 112.9,297.4 113.7,297.8 114.5,298.3 115.4,298.8 116.3,299.3 117.2,299.9 118.2,300.4 119.1,300.9 120.1,301.4 121.1,302.0 122.0,302.5 123.0,303.0 123.9,303.5 124.8,304.1 125.7,304.6 126.6,305.1 127.5,305.6 128.4,306.1 129.3,306.6 130.1,307.1 131.0,307.6 131.9,308.1 132.8,308.6 133.7,309.1 134.6,309.6 135.4,310.1 136.3,310.6 137.2,311.1 138.1,311.6 138.9,312.2 139.8,312.7 140.7,313.2 141.6,313.7 142.5,314.2 143.4,314.7 144.3,315.2 145.2,315.7 146.1,316.2 147.0,316.7 147.9,317.2 148.7,317.7 149.6,318.2 150.4,318.7 151.2,319.2 152.0,319.7 152.7,320.2 153.4,320.6 154.2,321.1 154.9,321.6 155.6,322.0 156.3,322.5 157.0,323.0 157.6,323.4 158.3,323.9 158.9,324.3 159.5,324.7 160.1,325.2 160.7,325.6 161.2,326.0 161.8,326.5 162.3,326.9 162.7,327.3 163.2,327.7 163.6,328.1 164.1,328.5 164.5,328.9 164.9,329.2 165.3,329.6 165.7,330.0 166.0,330.4 166.4,330.8 166.7,331.2 167.1,331.5 167.4,331.9 167.8,332.3 168.1,332.7 168.5,333.0 168.8,333.4 169.2,333.8 169.6,334.2 169.9,334.5 170.3,334.9 170.7,335.3 171.1,335.7 171.4,336.1 171.8,336.4 172.1,336.8 172.5,337.2 172.9,337.6 173.2,338.0 173.6,338.3 173.9,338.7 174.3,339.1 174.6,339.5 175.0,339.8 175.4,340.2 175.8,340.6 176.2,341.0 176.6,341.4 177.0,341.8 177.4,342.2 177.9,342.6 178.3,343.0 178.8,343.4 179.3,343.8 179.8,344.2 180.3,344.6 180.9,345.0 181.4,345.5 182.0,345.9 182.7,346.4 183.4,346.8 184.2,347.3 185.0,347.8 185.9,348.3 187.0,348.9 188.2,349.5 189.4,350.1 190.8,350.7 192.2,351.3 193.6,351.9" fill="none" stroke="#000" stroke-width="1.9" stroke-linejoin="round" stroke-opacity="0.36"/>
<path d="M419.5,329.7 421.1,329.9 422.8,329.9 424.4,330.0 426.0,330.0 427.6,330.0 429.2,330.0 430.8,330.0 432.4,330.1 433.9,330.2 435.5,330.2 437.0,330.3 438.7,330.4 440.3,330.4 441.9,330.5 443.5,330.6 445.0,330.7 446.4,330.7 447.8,330.8 449.1,330.8 450.3,330.8 451.3,330.7 452.3,330.7 453.3,330.6 454.2,330.6 455.1,330.5 456.0,330.3 456.8,330.2 457.6,330.0 458.3,329.8 459.0,329.6 459.7,329.3 460.3,329.0 460.9,328.6 461.5,328.2 462.0,327.7 462.5,327.2 463.0,326.7 463.4,326.2 463.8,325.6 464.3,325.1 464.7,324.4 465.1,323.8 465.6,323.1 466.0,322.4 466.5,321.7 467.0,321.0 467.5,320.2 468.0,319.4 468.5,318.6 468.9,317.7 469.3,316.7 469.7,315.8 470.1,314.7 470.5,313.7 470.9,312.6 471.2,311.3 471.6,309.9 471.9,308.4 472.1,307.1 472.2,306.0 472.3,305.5 472.3,305.2 472.2,304.9 472.1,304.8 472.1,304.6 472.0,304.5 471.8,304.4 471.7,304.3 471.6,304.1 471.4,304.0 471.3,303.8 471.1,303.7 470.9,303.5 470.7,303.4 470.4,303.2 470.1,303.0 469.8,302.9 469.5,302.7 469.2,302.6 468.8,302.4 468.5,302.2 468.1,302.0 467.7,301.8 467.3,301.6 466.8,301.3 466.4,301.0 465.9,300.8 465.4,300.5 464.9,300.2 464.4,300.0 463.9,299.7 463.4,299.4 462.9,299.2 462.4,298.9 461.9,298.7 461.4,298.4 460.9,298.1 460.4,297.9 459.9,297.6 459.4,297.3 458.8,297.1 458.3,296.8 457.7,296.5 457.2,296.2 456.6,295.9 456.0,295.7 455.5,295.4 454.9,295.1 454.4,294.8 453.9,294.5 453.3,294.2 452.8,294.0 452.3,293.7 451.8,293.4 451.3,293.2 450.8,292.9 450.3,292.7 449.8,292.4 449.3,292.2 448.8,292.0 448.4,291.7 448.0,291.6 447.7,291.4 447.5,291.2 447.2,291.1 447.0,290.9 446.8,290.8 446.5,290.6 446.3,290.5 446.1,290.4 446.0,290.3 445.8,290.2 445.7,290.1 445.5,290.0 445.5,289.9 445.4,289.8 445.4,289.8 445.4,289.7 445.4,289.7 445.5,289.7 445.7,289.7 445.8,289.7 446.0,289.8 446.2,289.8 446.4,289.8 446.7,289.9 446.9,289.9 447.2,290.0 447.5,290.1 447.7,290.1 448.0,290.2 448.3,290.3 448.7,290.4 449.0,290.5 449.5,290.7 449.9,290.8 450.3,290.9 450.7,291.1 451.2,291.2 451.6,291.4 452.1,291.5 452.5,291.7 453.0,291.9 453.4,292.0 453.9,292.2 454.3,292.4 454.8,292.6 455.2,292.8 455.7,293.0 456.2,293.2 456.7,293.4 457.2,293.6 457.8,293.9 458.4,294.1 458.9,294.3 459.5,294.6 460.2,294.9 460.9,295.2 461.6,295.5 462.4,295.8 463.2,296.1 464.1,296.5 465.0,296.8 465.9,297.2 466.9,297.6 467.8,297.9 468.8,298.3 469.7,298.7 470.7,299.1 471.7,299.5 472.6,299.9 473.5,300.3 474.4,300.7 475.3,301.1 476.2,301.5 477.1,301.9 478.0,302.3 478.8,302.7 479.7,303.1 480.6,303.5 481.5,304.0 482.4,304.4 483.2,304.8 484.1,305.2 485.0,305.7 485.9,306.1 486.8,306.6 487.6,307.0 488.5,307.4 489.4,307.9 490.3,308.4 491.2,308.8 492.1,309.3 493.0,309.8 493.9,310.2 494.8,310.7 495.7,311.2 496.6,311.7 497.4,312.1 498.3,312.6 499.1,313.1 499.9,313.6 500.7,314.1 501.4,314.6 502.1,315.1 502.9,315.6 503.6,316.1 504.3,316.6 505.0,317.1 505.7,317.6 506.3,318.1 507.0,318.6 507.6,319.1 508.2,319.6 508.8,320.1 509.4,320.6 509.9,321.1 510.5,321.6 511.0,322.1 511.4,322.6 511.9,323.1 512.3,323.6 512.8,324.0 513.2,324.5 513.6,325.0 514.0,325.5 514.4,325.9 514.7,326.4 515.1,326.8 515.4,327.3 515.8,327.8 516.1,328.3 516.5,328.8 516.8,329.2 517.2,329.8 517.5,330.3 517.9,330.9 518.3,331.6 518.6,332.2 519.0,332.9 519.4,333.5 519.8,334.1 520.1,334.7 520.5,335.3 520.8,335.9 521.2,336.5 521.6,337.1 521.9,337.6 522.3,338.2 522.6,338.8 523.0,339.3 523.3,339.9 523.7,340.4 524.1,341.0 524.5,341.5 524.9,342.1 525.3,342.7 525.7,343.3 526.1,344.0 526.6,344.6 527.0,345.3 527.5,345.9 528.0,346.6 528.5,347.3 529.0,347.9 529.6,348.6 530.1,349.2 530.7,349.9 531.4,350.5 532.1,351.1 532.9,351.7 533.7,352.3 534.6,352.9 535.7,353.6 536.9,354.2 538.1,354.9 539.5,355.6 540.8,356.3 542.3,357.0" fill="none" stroke="#000" stroke-width="1.9" stroke-linejoin="round" stroke-opacity="0.36"/>
<g fill-opacity="0.42"><circle cx="70.4" cy="234.9" r="1.15"/><circle cx="78.5" cy="238.4" r="1.15"/><circle cx="86.3" cy="241.7" r="1.15"/><circle cx="94.2" cy="245.1" r="1.15"/><circle cx="101.1" cy="248.2" r="1.15"/><circle cx="106.0" cy="250.8" r="1.15"/><circle cx="109.9" cy="253.2" r="1.15"/><circle cx="112.9" cy="255.4" r="1.15"/><circle cx="115.2" cy="257.4" r="1.15"/><circle cx="117.4" cy="259.3" r="1.15"/><circle cx="119.8" cy="261.4" r="1.15"/><circle cx="121.8" cy="263.3" r="1.15"/><circle cx="123.4" cy="265.1" r="1.15"/><circle cx="123.4" cy="266.5" r="1.15"/><circle cx="122.8" cy="267.8" r="1.15"/><circle cx="122.0" cy="269.1" r="1.15"/><circle cx="120.5" cy="270.1" r="1.15"/><circle cx="118.6" cy="271.1" r="1.15"/><circle cx="116.3" cy="272.0" r="1.15"/><circle cx="113.9" cy="272.8" r="1.15"/><circle cx="111.4" cy="273.6" r="1.15"/><circle cx="108.7" cy="274.4" r="1.15"/><circle cx="106.0" cy="275.2" r="1.15"/><circle cx="103.4" cy="276.0" r="1.15"/><circle cx="100.9" cy="276.8" r="1.15"/><circle cx="98.9" cy="277.7" r="1.15"/><circle cx="97.8" cy="278.9" r="1.15"/><circle cx="96.9" cy="280.1" r="1.15"/><circle cx="96.7" cy="281.5" r="1.15"/><circle cx="97.3" cy="283.1" r="1.15"/><circle cx="98.5" cy="284.8" r="1.15"/><circle cx="99.9" cy="286.6" r="1.15"/><circle cx="101.9" cy="288.5" r="1.15"/><circle cx="104.1" cy="290.5" r="1.15"/><circle cx="106.3" cy="292.4" r="1.15"/><circle cx="108.8" cy="294.5" r="1.15"/><circle cx="111.8" cy="296.6" r="1.15"/><circle cx="115.7" cy="299.0" r="1.15"/><circle cx="120.4" cy="301.6" r="1.15"/><circle cx="125.0" cy="304.2" r="1.15"/><circle cx="129.4" cy="306.7" r="1.15"/><circle cx="133.7" cy="309.2" r="1.15"/><circle cx="138.1" cy="311.6" r="1.15"/><circle cx="142.4" cy="314.1" r="1.15"/><circle cx="146.9" cy="316.7" r="1.15"/><circle cx="151.0" cy="319.1" r="1.15"/><circle cx="154.7" cy="321.4" r="1.15"/><circle cx="158.0" cy="323.7" r="1.15"/><circle cx="161.0" cy="325.9" r="1.15"/><circle cx="163.4" cy="327.9" r="1.15"/><circle cx="165.4" cy="329.8" r="1.15"/><circle cx="167.2" cy="331.7" r="1.15"/><circle cx="168.9" cy="333.5" r="1.15"/><circle cx="170.8" cy="335.4" r="1.15"/><circle cx="172.5" cy="337.3" r="1.15"/><circle cx="174.3" cy="339.1" r="1.15"/><circle cx="176.2" cy="341.0" r="1.15"/><circle cx="178.3" cy="343.0" r="1.15"/><circle cx="180.8" cy="345.0" r="1.15"/><circle cx="184.0" cy="347.2" r="1.15"/><circle cx="189.1" cy="349.9" r="1.15"/></g>
<g fill-opacity="0.42"><circle cx="419.5" cy="329.7" r="1.15"/><circle cx="427.5" cy="330.0" r="1.15"/><circle cx="435.2" cy="330.2" r="1.15"/><circle cx="443.1" cy="330.6" r="1.15"/><circle cx="449.9" cy="330.8" r="1.15"/><circle cx="454.8" cy="330.5" r="1.15"/><circle cx="458.7" cy="329.7" r="1.15"/><circle cx="461.7" cy="327.9" r="1.15"/><circle cx="464.0" cy="325.4" r="1.15"/><circle cx="466.2" cy="322.2" r="1.15"/><circle cx="468.6" cy="318.3" r="1.15"/><circle cx="470.6" cy="313.4" r="1.15"/><circle cx="472.1" cy="306.9" r="1.15"/><circle cx="472.1" cy="304.7" r="1.15"/><circle cx="471.6" cy="304.1" r="1.15"/><circle cx="470.7" cy="303.4" r="1.15"/><circle cx="469.2" cy="302.6" r="1.15"/><circle cx="467.4" cy="301.6" r="1.15"/><circle cx="465.1" cy="300.3" r="1.15"/><circle cx="462.6" cy="299.0" r="1.15"/><circle cx="460.1" cy="297.7" r="1.15"/><circle cx="457.4" cy="296.4" r="1.15"/><circle cx="454.7" cy="294.9" r="1.15"/><circle cx="452.1" cy="293.6" r="1.15"/><circle cx="449.6" cy="292.4" r="1.15"/><circle cx="447.7" cy="291.3" r="1.15"/><circle cx="446.5" cy="290.6" r="1.15"/><circle cx="445.6" cy="290.1" r="1.15"/><circle cx="445.4" cy="289.7" r="1.15"/><circle cx="446.0" cy="289.8" r="1.15"/><circle cx="447.2" cy="290.0" r="1.15"/><circle cx="448.6" cy="290.4" r="1.15"/><circle cx="450.6" cy="291.0" r="1.15"/><circle cx="452.8" cy="291.8" r="1.15"/><circle cx="455.0" cy="292.7" r="1.15"/><circle cx="457.5" cy="293.7" r="1.15"/><circle cx="460.5" cy="295.0" r="1.15"/><circle cx="464.4" cy="296.6" r="1.15"/><circle cx="469.1" cy="298.4" r="1.15"/><circle cx="473.7" cy="300.4" r="1.15"/><circle cx="478.1" cy="302.4" r="1.15"/><circle cx="482.4" cy="304.4" r="1.15"/><circle cx="486.8" cy="306.6" r="1.15"/><circle cx="491.1" cy="308.8" r="1.15"/><circle cx="495.6" cy="311.1" r="1.15"/><circle cx="499.7" cy="313.5" r="1.15"/><circle cx="503.4" cy="315.9" r="1.15"/><circle cx="506.7" cy="318.4" r="1.15"/><circle cx="509.7" cy="320.9" r="1.15"/><circle cx="512.1" cy="323.3" r="1.15"/><circle cx="514.1" cy="325.6" r="1.15"/><circle cx="515.9" cy="328.0" r="1.15"/><circle cx="517.6" cy="330.5" r="1.15"/><circle cx="519.5" cy="333.6" r="1.15"/><circle cx="521.3" cy="336.6" r="1.15"/><circle cx="523.0" cy="339.4" r="1.15"/><circle cx="524.9" cy="342.1" r="1.15"/><circle cx="527.0" cy="345.2" r="1.15"/><circle cx="529.5" cy="348.5" r="1.15"/><circle cx="532.7" cy="351.5" r="1.15"/><circle cx="537.8" cy="354.7" r="1.15"/></g>
</svg></body></html>
